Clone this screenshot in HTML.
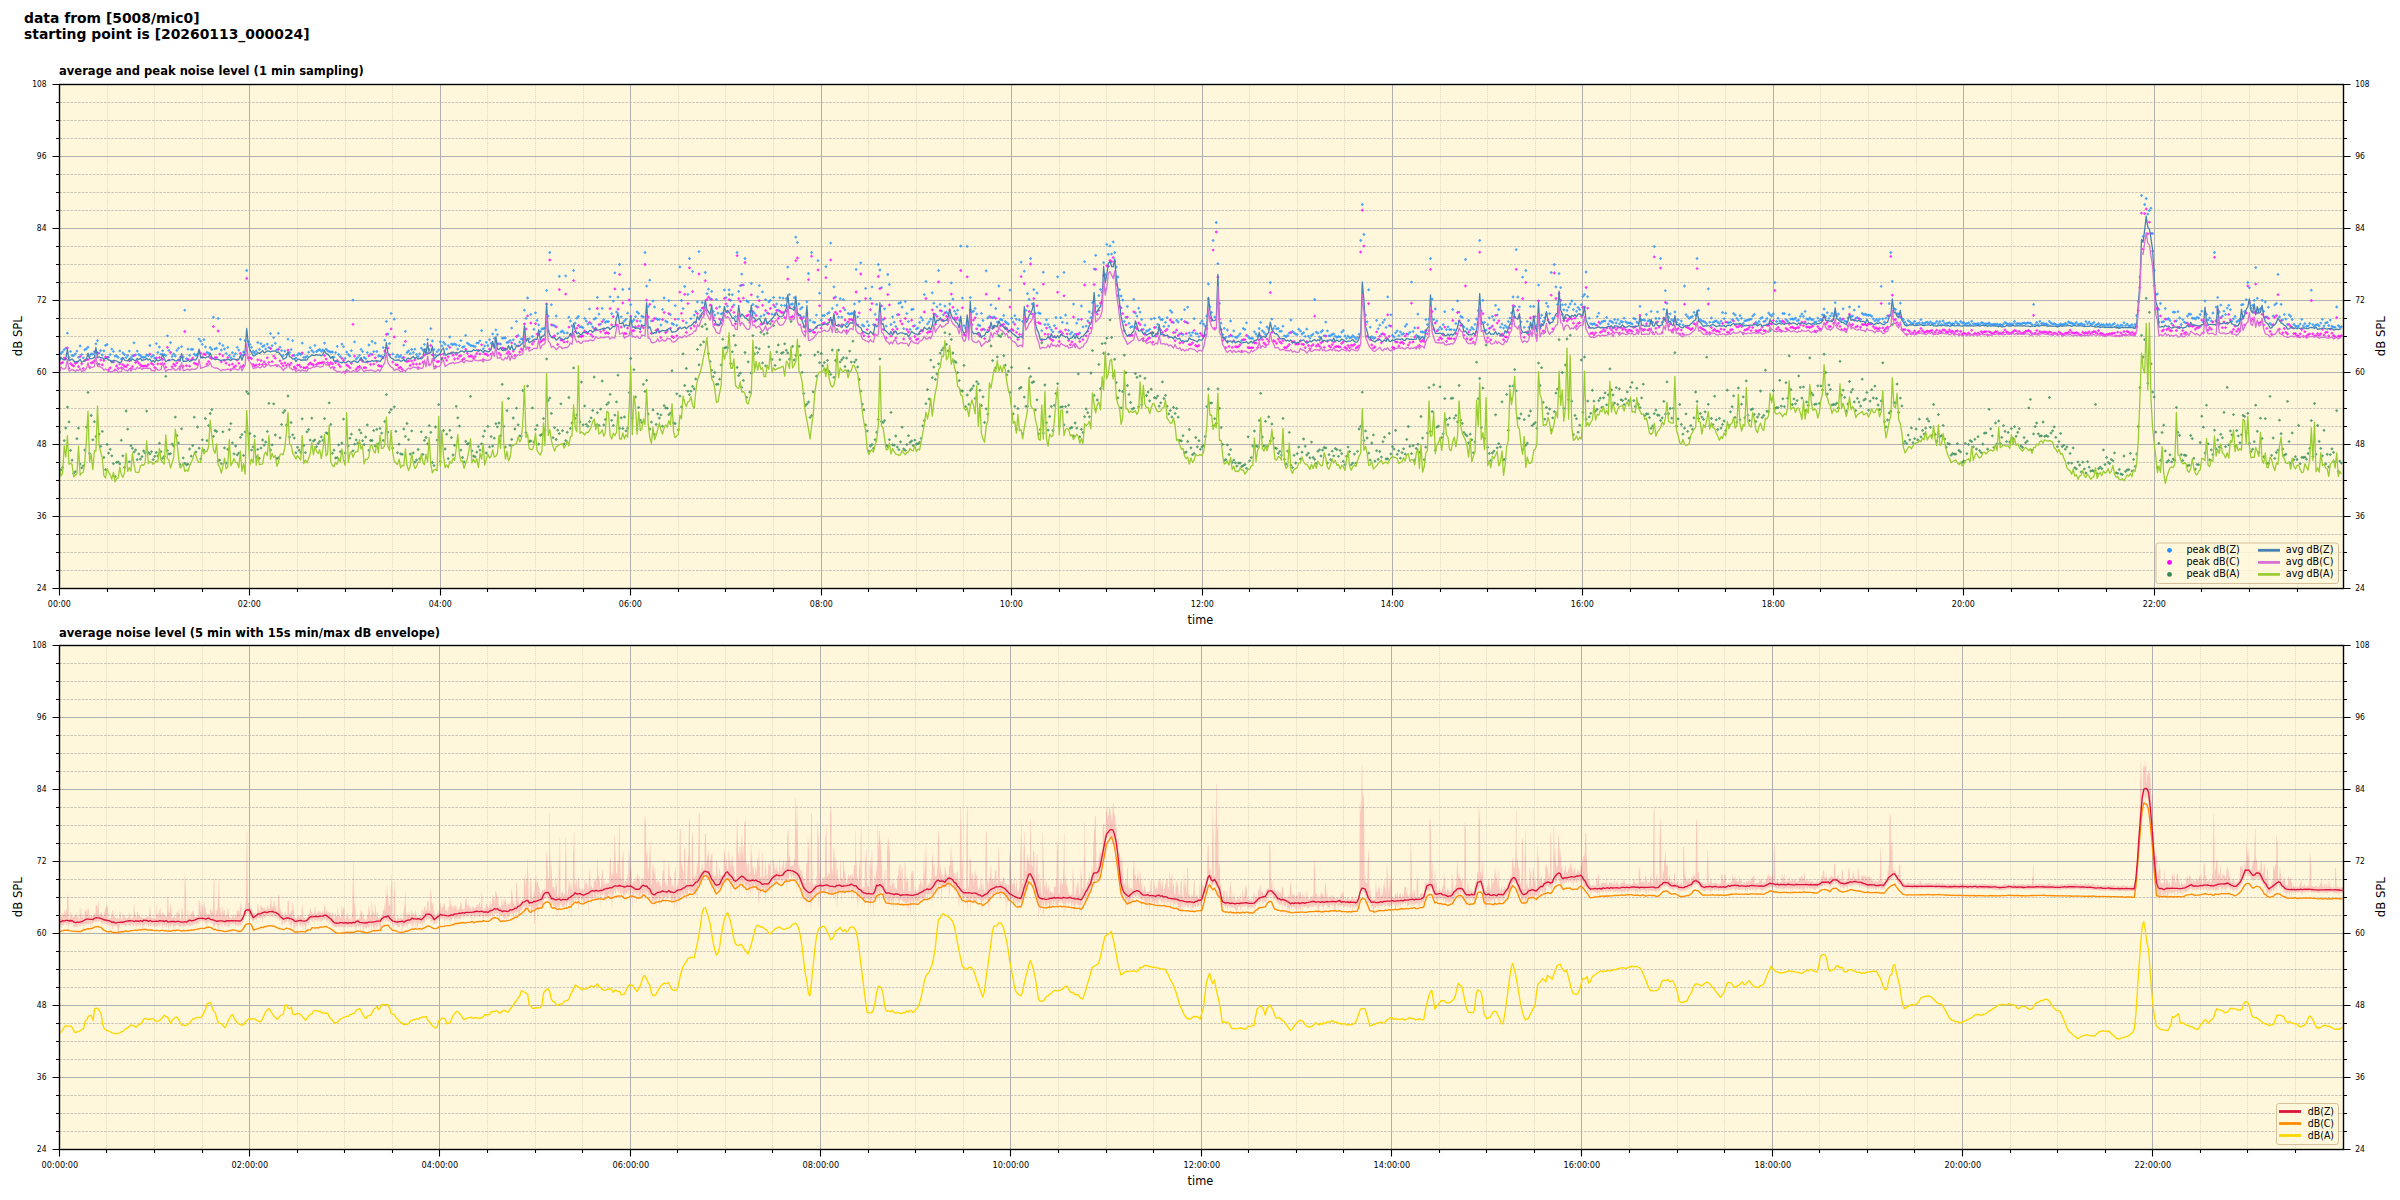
<!DOCTYPE html><html><head><meta charset="utf-8"><title>noise level</title><style>html,body{margin:0;padding:0;background:#fff;width:2400px;height:1200px;overflow:hidden}svg{display:block}text{font-family:'DejaVu Sans', 'Liberation Sans', sans-serif;fill:#000}</style></head><body>
<svg width="2400" height="1200" viewBox="0 0 2400 1200">
<rect width="2400" height="1200" fill="#fff"/>
<text x="24" y="23" font-size="13.9" text-anchor="start" font-weight="bold">data from [5008/mic0]</text>
<text x="24" y="39" font-size="13.9" text-anchor="start" font-weight="bold">starting point is [20260113_000024]</text>
<rect x="59.5" y="84.5" width="2284.0" height="504.0" fill="#fff7dc"/>
<path d="M107.5 84.5V588.5M154.5 84.5V588.5M202.5 84.5V588.5M297.5 84.5V588.5M345.5 84.5V588.5M392.5 84.5V588.5M487.5 84.5V588.5M535.5 84.5V588.5M583.5 84.5V588.5M678.5 84.5V588.5M725.5 84.5V588.5M773.5 84.5V588.5M868.5 84.5V588.5M916.5 84.5V588.5M963.5 84.5V588.5M1059.5 84.5V588.5M1106.5 84.5V588.5M1154.5 84.5V588.5M1249.5 84.5V588.5M1297.5 84.5V588.5M1344.5 84.5V588.5M1440.5 84.5V588.5M1487.5 84.5V588.5M1535.5 84.5V588.5M1630.5 84.5V588.5M1678.5 84.5V588.5M1725.5 84.5V588.5M1820.5 84.5V588.5M1868.5 84.5V588.5M1916.5 84.5V588.5M2011.5 84.5V588.5M2058.5 84.5V588.5M2106.5 84.5V588.5M2201.5 84.5V588.5M2249.5 84.5V588.5M2297.5 84.5V588.5" stroke="#c4c0b4" stroke-width="0.7" stroke-dasharray="0.7 1.2" fill="none"/>
<path d="M59.5 570.5H2343.5M59.5 552.5H2343.5M59.5 534.5H2343.5M59.5 498.5H2343.5M59.5 480.5H2343.5M59.5 462.5H2343.5M59.5 426.5H2343.5M59.5 408.5H2343.5M59.5 390.5H2343.5M59.5 354.5H2343.5M59.5 336.5H2343.5M59.5 318.5H2343.5M59.5 282.5H2343.5M59.5 264.5H2343.5M59.5 246.5H2343.5M59.5 210.5H2343.5M59.5 192.5H2343.5M59.5 174.5H2343.5M59.5 138.5H2343.5M59.5 120.5H2343.5M59.5 102.5H2343.5" stroke="#b8b6ae" stroke-width="0.75" stroke-dasharray="2.6 1.1" fill="none"/>
<path d="M249.5 84.5V588.5M440.5 84.5V588.5M630.5 84.5V588.5M821.5 84.5V588.5M1011.5 84.5V588.5M1202.5 84.5V588.5M1392.5 84.5V588.5M1582.5 84.5V588.5M1773.5 84.5V588.5M1963.5 84.5V588.5M2154.5 84.5V588.5M59.5 516.5H2343.5M59.5 444.5H2343.5M59.5 372.5H2343.5M59.5 300.5H2343.5M59.5 228.5H2343.5M59.5 156.5H2343.5" stroke="#b0b0b0" stroke-width="1" fill="none"/>
<g clip-path="url(#clipTop)">
<defs><marker id="mkz" markerWidth="4" markerHeight="4" markerUnits="userSpaceOnUse" refX="0" refY="0" overflow="visible"><path d="M-1.65 0L0 -1.65L1.65 0L0 1.65Z" fill="#1e90ff" fill-opacity="0.78"/></marker></defs>
<path d="M59.5 357.5 61.0 353.4 62.6 351.8 64.2 349.6 65.8 348.2 67.4 333.2 69.0 357.4 70.6 351.4 72.1 355.6 73.7 355.6 75.3 353.8 76.9 351.1 78.5 357.3 80.1 346.0 81.7 354.6 83.3 357.9 84.8 349.8 86.4 348.8 88.0 347.2 89.6 356.1 91.2 354.0 92.8 354.1 94.4 351.7 95.9 343.8 97.5 340.7 99.1 353.0 100.7 350.5 102.3 355.0 103.9 350.8 105.5 345.4 107.1 344.4 108.6 357.2 110.2 354.6 111.8 349.1 113.4 351.4 115.0 356.1 116.6 356.0 118.2 357.4 119.8 350.9 121.3 358.9 122.9 352.9 124.5 354.6 126.1 357.4 127.7 355.5 129.3 351.1 130.9 357.8 132.4 356.0 134.0 342.8 135.6 354.8 137.2 351.1 138.8 354.5 140.4 355.7 142.0 357.1 143.6 357.4 145.1 357.1 146.7 355.0 148.3 355.5 149.9 345.5 151.5 356.8 153.1 355.5 154.7 358.2 156.3 343.6 157.8 352.5 159.4 347.0 161.0 354.2 162.6 350.8 164.2 354.6 165.8 355.6 167.4 335.8 168.9 350.4 170.5 342.6 172.1 356.5 173.7 354.0 175.3 356.0 176.9 350.4 178.5 348.2 180.1 357.5 181.6 346.7 183.2 356.8 184.8 310.2 186.4 358.6 188.0 349.2 189.6 355.4 191.2 349.4 192.8 349.3 194.3 354.2 195.9 355.5 197.5 354.2 199.1 339.1 200.7 341.2 202.3 344.3 203.9 339.6 205.4 346.9 207.0 352.5 208.6 353.1 210.2 347.5 211.8 349.5 213.4 317.2 215.0 348.8 216.6 348.2 218.1 318.4 219.7 343.5 221.3 350.1 222.9 345.4 224.5 349.0 226.1 353.4 227.7 347.4 229.3 355.7 230.8 357.8 232.4 352.7 234.0 356.1 235.6 353.7 237.2 347.3 238.8 350.1 240.4 339.3 241.9 355.2 243.5 351.9 245.1 340.5 246.7 270.5 248.3 341.5 249.9 344.5 251.5 347.3 253.1 351.5 254.6 353.1 256.2 351.2 257.8 342.5 259.4 349.5 261.0 343.7 262.6 346.6 264.2 345.6 265.7 348.9 267.3 344.1 268.9 347.4 270.5 333.6 272.1 345.7 273.7 337.6 275.3 343.3 276.9 349.8 278.4 333.3 280.0 347.2 281.6 350.6 283.2 355.7 284.8 351.1 286.4 354.4 288.0 339.2 289.6 352.6 291.1 349.6 292.7 340.7 294.3 355.3 295.9 358.0 297.5 354.9 299.1 353.3 300.7 354.5 302.2 343.2 303.8 357.4 305.4 357.4 307.0 356.3 308.6 352.2 310.2 347.7 311.8 350.5 313.4 352.1 314.9 345.4 316.5 351.5 318.1 350.3 319.7 349.5 321.3 351.3 322.9 350.0 324.5 343.1 326.1 349.1 327.6 350.7 329.2 351.7 330.8 352.0 332.4 352.0 334.0 357.2 335.6 352.6 337.2 346.3 338.7 354.5 340.3 356.7 341.9 344.1 343.5 346.7 345.1 358.4 346.7 352.1 348.3 354.5 349.9 356.1 351.4 350.7 353.0 300.1 354.6 341.9 356.2 359.1 357.8 357.4 359.4 355.4 361.0 349.3 362.6 351.5 364.1 357.5 365.7 358.7 367.3 352.6 368.9 345.0 370.5 354.1 372.1 341.5 373.7 351.6 375.2 343.2 376.8 351.5 378.4 356.0 380.0 355.9 381.6 356.5 383.2 347.6 384.8 340.2 386.4 321.4 387.9 334.0 389.5 343.6 391.1 313.4 392.7 354.1 394.3 319.2 395.9 356.9 397.5 355.0 399.1 357.0 400.6 355.8 402.2 357.8 403.8 345.2 405.4 331.3 407.0 352.5 408.6 351.0 410.2 353.7 411.7 349.5 413.3 352.5 414.9 349.2 416.5 354.5 418.1 356.6 419.7 353.8 421.3 348.1 422.9 350.0 424.4 344.4 426.0 349.3 427.6 339.6 429.2 349.6 430.8 328.6 432.4 341.0 434.0 349.6 435.5 354.9 437.1 351.8 438.7 349.8 440.3 341.8 441.9 345.9 443.5 342.3 445.1 344.2 446.7 348.9 448.2 345.6 449.8 337.0 451.4 344.0 453.0 344.7 454.6 343.8 456.2 345.0 457.8 349.1 459.4 345.6 460.9 340.6 462.5 347.3 464.1 346.4 465.7 335.4 467.3 343.1 468.9 344.2 470.5 345.4 472.0 345.8 473.6 346.1 475.2 346.7 476.8 343.2 478.4 342.8 480.0 340.8 481.6 330.6 483.2 348.8 484.7 346.1 486.3 342.3 487.9 345.5 489.5 339.7 491.1 343.1 492.7 333.9 494.3 338.4 495.9 329.9 497.4 334.6 499.0 343.7 500.6 344.1 502.2 338.2 503.8 338.0 505.4 338.0 507.0 342.5 508.5 342.2 510.1 340.6 511.7 328.1 513.3 339.8 514.9 344.2 516.5 321.4 518.1 335.5 519.7 342.1 521.2 338.9 522.8 339.2 524.4 310.2 526.0 318.4 527.6 298.0 529.2 338.7 530.8 314.4 532.4 336.5 533.9 329.3 535.5 312.8 537.1 320.3 538.7 324.9 540.3 331.6 541.9 329.0 543.5 328.6 545.0 328.1 546.6 290.4 548.2 316.2 549.8 252.5 551.4 304.7 553.0 325.2 554.6 325.8 556.2 316.0 557.7 333.6 559.3 276.3 560.9 331.9 562.5 331.0 564.1 332.9 565.7 275.9 567.3 332.9 568.9 317.2 570.4 321.0 572.0 325.9 573.6 270.5 575.2 323.1 576.8 318.2 578.4 316.5 580.0 326.9 581.5 326.8 583.1 327.8 584.7 318.4 586.3 321.0 587.9 324.1 589.5 308.9 591.1 323.9 592.7 326.9 594.2 319.2 595.8 318.2 597.4 297.4 599.0 314.1 600.6 324.2 602.2 308.4 603.8 319.7 605.3 322.3 606.9 321.5 608.5 321.7 610.1 296.8 611.7 313.6 613.3 301.1 614.9 272.8 616.5 312.1 618.0 297.1 619.6 264.5 621.2 316.8 622.8 289.5 624.4 320.9 626.0 319.3 627.6 313.2 629.2 288.9 630.7 304.7 632.3 321.6 633.9 319.9 635.5 316.7 637.1 311.9 638.7 313.4 640.3 321.2 641.8 316.2 643.4 316.9 645.0 252.5 646.6 286.1 648.2 306.6 649.8 280.2 651.4 320.9 653.0 301.1 654.5 307.0 656.1 318.6 657.7 319.6 659.3 319.4 660.9 325.0 662.5 309.4 664.1 298.0 665.7 321.1 667.2 322.1 668.8 300.7 670.4 314.7 672.0 323.5 673.6 324.6 675.2 305.6 676.8 325.3 678.3 319.1 679.9 267.0 681.5 300.5 683.1 308.6 684.7 286.5 686.3 322.8 687.9 294.4 689.5 258.5 691.0 318.7 692.6 271.4 694.2 315.2 695.8 311.5 697.4 301.9 699.0 251.6 700.6 310.4 702.2 302.5 703.7 307.7 705.3 272.5 706.9 293.7 708.5 289.2 710.1 298.7 711.7 291.4 713.3 311.5 714.8 315.1 716.4 299.4 718.0 313.2 719.6 306.8 721.2 313.9 722.8 313.2 724.4 290.0 726.0 297.6 727.5 306.2 729.1 289.8 730.7 300.4 732.3 294.7 733.9 304.9 735.5 316.6 737.1 252.5 738.7 291.4 740.2 285.6 741.8 274.1 743.4 284.9 745.0 258.5 746.6 300.8 748.2 302.0 749.8 311.4 751.3 283.5 752.9 304.5 754.5 313.2 756.1 306.2 757.7 296.8 759.3 285.6 760.9 316.3 762.5 291.9 764.0 315.0 765.6 299.7 767.2 312.8 768.8 301.9 770.4 300.3 772.0 314.2 773.6 297.5 775.1 306.9 776.7 304.0 778.3 310.2 779.9 297.7 781.5 305.3 783.1 298.2 784.7 305.6 786.3 298.4 787.8 267.1 789.4 294.4 791.0 304.4 792.6 304.0 794.2 297.7 795.8 237.1 797.4 242.4 799.0 304.0 800.5 308.9 802.1 307.4 803.7 316.9 805.3 321.1 806.9 301.8 808.5 273.5 810.1 320.3 811.6 252.5 813.2 322.2 814.8 322.5 816.4 315.1 818.0 260.7 819.6 293.2 821.2 320.2 822.8 315.6 824.3 315.5 825.9 266.6 827.5 313.7 829.1 312.5 830.7 243.1 832.3 308.4 833.9 286.8 835.5 297.0 837.0 305.2 838.6 317.1 840.2 298.7 841.8 317.1 843.4 299.7 845.0 309.9 846.6 323.7 848.1 313.3 849.7 314.2 851.3 313.5 852.9 313.6 854.5 303.9 856.1 269.4 857.7 316.8 859.3 301.5 860.8 262.8 862.4 325.0 864.0 326.2 865.6 288.4 867.2 321.7 868.8 325.5 870.4 298.7 872.0 286.9 873.5 324.7 875.1 314.4 876.7 304.4 878.3 264.5 879.9 270.0 881.5 287.7 883.1 319.8 884.6 308.8 886.2 326.1 887.8 274.5 889.4 284.5 891.0 324.5 892.6 316.8 894.2 322.2 895.8 326.6 897.3 314.7 898.9 303.3 900.5 302.5 902.1 307.1 903.7 328.7 905.3 301.6 906.9 313.6 908.5 321.6 910.0 329.4 911.6 309.5 913.2 309.2 914.8 325.7 916.4 328.9 918.0 328.0 919.6 322.4 921.1 317.5 922.7 320.2 924.3 294.6 925.9 281.4 927.5 323.9 929.1 321.8 930.7 319.2 932.3 292.8 933.8 303.2 935.4 314.6 937.0 306.8 938.6 270.5 940.2 304.4 941.8 311.1 943.4 314.8 944.9 306.1 946.5 312.2 948.1 313.7 949.7 304.0 951.3 282.9 952.9 299.1 954.5 311.2 956.1 314.0 957.6 310.2 959.2 320.2 960.8 246.0 962.4 298.1 964.0 325.7 965.6 328.0 967.2 246.4 968.8 324.4 970.3 297.6 971.9 312.1 973.5 311.1 975.1 308.4 976.7 314.0 978.3 325.0 979.9 325.7 981.4 313.4 983.0 320.5 984.6 329.7 986.2 270.8 987.8 318.0 989.4 316.3 991.0 304.8 992.6 317.8 994.1 317.0 995.7 308.5 997.3 322.1 998.9 286.0 1000.5 319.4 1002.1 320.0 1003.7 315.5 1005.3 321.5 1006.8 323.0 1008.4 324.1 1010.0 290.1 1011.6 318.3 1013.2 322.2 1014.8 315.7 1016.4 319.3 1017.9 328.7 1019.5 319.9 1021.1 262.1 1022.7 321.5 1024.3 271.2 1025.9 310.3 1027.5 293.6 1029.1 299.3 1030.6 258.5 1032.2 304.0 1033.8 289.6 1035.4 313.3 1037.0 293.0 1038.6 312.8 1040.2 313.6 1041.8 330.7 1043.3 272.2 1044.9 324.5 1046.5 319.8 1048.1 324.5 1049.7 327.2 1051.3 329.8 1052.9 331.8 1054.4 325.6 1056.0 317.5 1057.6 276.8 1059.2 332.0 1060.8 317.7 1062.4 322.3 1064.0 272.4 1065.6 315.2 1067.1 323.2 1068.7 330.4 1070.3 334.0 1071.9 332.3 1073.5 304.1 1075.1 334.3 1076.7 323.2 1078.3 319.4 1079.8 332.9 1081.4 306.0 1083.0 326.9 1084.6 261.7 1086.2 326.1 1087.8 321.0 1089.4 311.8 1090.9 317.5 1092.5 302.7 1094.1 269.1 1095.7 255.3 1097.3 306.0 1098.9 295.6 1100.5 289.4 1102.1 292.0 1103.6 262.7 1105.2 274.5 1106.8 244.4 1108.4 254.3 1110.0 245.9 1111.6 254.1 1113.2 241.9 1114.7 252.5 1116.3 266.9 1117.9 277.0 1119.5 289.7 1121.1 296.0 1122.7 300.1 1124.3 321.4 1125.9 317.3 1127.4 306.5 1129.0 323.4 1130.6 327.2 1132.2 326.5 1133.8 299.3 1135.4 313.0 1137.0 316.2 1138.6 308.2 1140.1 312.1 1141.7 319.5 1143.3 329.3 1144.9 325.2 1146.5 331.1 1148.1 330.6 1149.7 329.2 1151.2 319.1 1152.8 333.0 1154.4 318.4 1156.0 327.3 1157.6 324.3 1159.2 317.3 1160.8 319.6 1162.4 319.5 1163.9 326.4 1165.5 322.3 1167.1 317.7 1168.7 326.1 1170.3 310.6 1171.9 312.3 1173.5 322.5 1175.1 332.4 1176.6 320.2 1178.2 322.0 1179.8 333.8 1181.4 319.4 1183.0 334.5 1184.6 309.7 1186.2 322.2 1187.7 307.2 1189.3 332.9 1190.9 335.5 1192.5 332.6 1194.1 318.7 1195.7 333.6 1197.3 333.8 1198.9 336.6 1200.4 323.2 1202.0 320.9 1203.6 324.1 1205.2 326.2 1206.8 316.0 1208.4 284.0 1210.0 306.9 1211.6 312.4 1213.1 240.5 1214.7 317.1 1216.3 222.5 1217.9 263.7 1219.5 303.3 1221.1 323.2 1222.7 334.7 1224.2 328.3 1225.8 337.3 1227.4 330.0 1229.0 336.5 1230.6 321.0 1232.2 336.2 1233.8 330.8 1235.4 337.1 1236.9 337.6 1238.5 335.8 1240.1 333.8 1241.7 340.5 1243.3 328.4 1244.9 329.4 1246.5 322.8 1248.1 336.5 1249.6 338.2 1251.2 338.3 1252.8 338.4 1254.4 331.8 1256.0 334.0 1257.6 336.1 1259.2 328.5 1260.7 322.4 1262.3 330.8 1263.9 332.3 1265.5 334.3 1267.1 327.0 1268.7 329.0 1270.3 282.5 1271.9 319.1 1273.4 328.6 1275.0 326.2 1276.6 328.9 1278.2 328.5 1279.8 331.3 1281.4 331.2 1283.0 326.2 1284.5 335.8 1286.1 336.7 1287.7 335.5 1289.3 333.0 1290.9 320.0 1292.5 331.5 1294.1 332.9 1295.7 334.1 1297.2 334.6 1298.8 329.2 1300.4 331.0 1302.0 334.0 1303.6 332.7 1305.2 336.4 1306.8 329.2 1308.4 336.1 1309.9 338.1 1311.5 335.3 1313.1 334.1 1314.7 299.5 1316.3 332.1 1317.9 333.2 1319.5 337.0 1321.0 331.9 1322.6 330.5 1324.2 335.6 1325.8 322.1 1327.4 330.9 1329.0 335.8 1330.6 335.7 1332.2 334.4 1333.7 333.8 1335.3 336.2 1336.9 337.3 1338.5 336.5 1340.1 336.8 1341.7 332.2 1343.3 330.5 1344.9 335.9 1346.4 338.3 1348.0 336.2 1349.6 337.8 1351.2 337.5 1352.8 335.7 1354.4 337.2 1356.0 339.1 1357.5 337.4 1359.1 334.2 1360.7 240.5 1362.3 204.5 1363.9 234.5 1365.5 315.0 1367.1 321.8 1368.7 289.8 1370.2 327.2 1371.8 336.7 1373.4 338.4 1375.0 337.8 1376.6 320.3 1378.2 328.7 1379.8 325.1 1381.4 334.3 1382.9 322.5 1384.5 319.8 1386.1 327.4 1387.7 296.9 1389.3 325.7 1390.9 314.8 1392.5 335.3 1394.0 337.0 1395.6 332.8 1397.2 330.8 1398.8 335.7 1400.4 332.0 1402.0 334.4 1403.6 333.5 1405.2 326.3 1406.7 324.3 1408.3 334.1 1409.9 332.3 1411.5 282.1 1413.1 331.5 1414.7 327.9 1416.3 335.2 1417.9 314.1 1419.4 336.8 1421.0 331.8 1422.6 331.9 1424.2 332.3 1425.8 319.6 1427.4 324.5 1429.0 319.1 1430.5 258.5 1432.1 299.1 1433.7 319.4 1435.3 309.0 1436.9 320.9 1438.5 329.7 1440.1 327.2 1441.7 329.1 1443.2 324.6 1444.8 311.7 1446.4 329.6 1448.0 326.8 1449.6 329.6 1451.2 329.6 1452.8 309.5 1454.3 329.9 1455.9 323.5 1457.5 300.9 1459.1 312.1 1460.7 316.3 1462.3 317.4 1463.9 327.1 1465.5 259.5 1467.0 329.0 1468.6 320.5 1470.2 329.9 1471.8 327.5 1473.4 329.2 1475.0 324.3 1476.6 319.0 1478.2 310.7 1479.7 240.5 1481.3 310.9 1482.9 300.3 1484.5 322.3 1486.1 330.1 1487.7 324.6 1489.3 317.9 1490.8 327.7 1492.4 316.4 1494.0 320.0 1495.6 305.3 1497.2 314.9 1498.8 309.5 1500.4 327.2 1502.0 324.2 1503.5 328.1 1505.1 325.6 1506.7 327.3 1508.3 321.5 1509.9 318.1 1511.5 312.9 1513.1 297.0 1514.7 306.4 1516.2 249.7 1517.8 297.0 1519.4 306.8 1521.0 321.8 1522.6 277.2 1524.2 327.4 1525.8 270.5 1527.3 321.4 1528.9 327.3 1530.5 306.4 1532.1 324.7 1533.7 306.5 1535.3 316.6 1536.9 325.3 1538.5 285.1 1540.0 317.9 1541.6 315.1 1543.2 321.4 1544.8 317.8 1546.4 303.2 1548.0 306.5 1549.6 313.6 1551.2 272.5 1552.7 318.5 1554.3 264.5 1555.9 286.9 1557.5 304.4 1559.1 273.6 1560.7 287.6 1562.3 304.8 1563.8 309.8 1565.4 304.6 1567.0 310.4 1568.6 307.2 1570.2 304.0 1571.8 301.0 1573.4 309.6 1575.0 304.2 1576.5 311.3 1578.1 307.5 1579.7 309.5 1581.3 304.7 1582.9 296.4 1584.5 294.5 1586.1 272.0 1587.7 296.7 1589.2 318.2 1590.8 323.6 1592.4 324.4 1594.0 323.6 1595.6 324.8 1597.2 316.7 1598.8 313.2 1600.3 323.6 1601.9 321.9 1603.5 321.2 1605.1 320.9 1606.7 317.4 1608.3 323.9 1609.9 321.0 1611.5 321.6 1613.0 322.8 1614.6 319.6 1616.2 322.9 1617.8 319.8 1619.4 323.9 1621.0 321.5 1622.6 321.9 1624.1 318.2 1625.7 321.7 1627.3 323.1 1628.9 322.8 1630.5 323.0 1632.1 324.0 1633.7 318.3 1635.3 319.1 1636.8 322.1 1638.4 323.2 1640.0 306.3 1641.6 320.1 1643.2 319.8 1644.8 320.3 1646.4 314.5 1648.0 321.2 1649.5 320.2 1651.1 311.4 1652.7 322.3 1654.3 246.5 1655.9 318.5 1657.5 311.8 1659.1 318.5 1660.6 258.5 1662.2 322.4 1663.8 309.3 1665.4 290.7 1667.0 303.3 1668.6 317.4 1670.2 313.8 1671.8 319.7 1673.3 321.1 1674.9 311.9 1676.5 322.2 1678.1 319.7 1679.7 324.1 1681.3 321.1 1682.9 324.8 1684.5 286.0 1686.0 314.6 1687.6 316.6 1689.2 318.4 1690.8 317.3 1692.4 316.4 1694.0 312.3 1695.6 315.1 1697.1 258.5 1698.7 310.4 1700.3 319.5 1701.9 321.1 1703.5 321.3 1705.1 322.2 1706.7 323.7 1708.3 288.8 1709.8 322.2 1711.4 318.0 1713.0 322.4 1714.6 321.4 1716.2 320.8 1717.8 322.2 1719.4 323.6 1721.0 321.2 1722.5 312.5 1724.1 318.7 1725.7 313.2 1727.3 322.5 1728.9 322.7 1730.5 322.2 1732.1 319.6 1733.6 313.5 1735.2 315.1 1736.8 318.4 1738.4 320.2 1740.0 315.7 1741.6 318.3 1743.2 323.5 1744.8 320.9 1746.3 320.4 1747.9 320.1 1749.5 319.5 1751.1 319.2 1752.7 316.1 1754.3 314.4 1755.9 322.2 1757.5 323.6 1759.0 321.5 1760.6 318.6 1762.2 317.3 1763.8 321.7 1765.4 320.8 1767.0 318.5 1768.6 313.1 1770.1 314.8 1771.7 316.0 1773.3 313.9 1774.9 282.5 1776.5 321.5 1778.1 318.3 1779.7 321.1 1781.3 321.8 1782.8 313.5 1784.4 313.6 1786.0 319.6 1787.6 321.0 1789.2 314.6 1790.8 319.1 1792.4 319.0 1793.9 319.3 1795.5 318.1 1797.1 320.7 1798.7 320.2 1800.3 316.3 1801.9 314.0 1803.5 316.4 1805.1 311.4 1806.6 318.9 1808.2 319.6 1809.8 318.0 1811.4 319.7 1813.0 319.6 1814.6 322.1 1816.2 321.8 1817.8 318.1 1819.3 320.7 1820.9 319.4 1822.5 314.7 1824.1 309.0 1825.7 316.6 1827.3 312.7 1828.9 318.4 1830.4 315.8 1832.0 313.3 1833.6 316.0 1835.2 302.7 1836.8 316.1 1838.4 314.0 1840.0 318.5 1841.6 320.0 1843.1 308.8 1844.7 320.9 1846.3 321.8 1847.9 318.1 1849.5 307.0 1851.1 316.7 1852.7 315.9 1854.3 310.1 1855.8 318.3 1857.4 317.5 1859.0 306.7 1860.6 319.4 1862.2 313.5 1863.8 314.7 1865.4 314.1 1866.9 315.2 1868.5 315.1 1870.1 315.2 1871.7 316.3 1873.3 318.8 1874.9 320.8 1876.5 319.3 1878.1 321.0 1879.6 319.1 1881.2 286.3 1882.8 318.9 1884.4 321.9 1886.0 318.2 1887.6 315.8 1889.2 303.7 1890.8 252.5 1892.3 281.3 1893.9 308.5 1895.5 309.5 1897.1 314.0 1898.7 313.8 1900.3 303.2 1901.9 318.4 1903.4 319.7 1905.0 322.2 1906.6 324.5 1908.2 320.6 1909.8 321.8 1911.4 323.3 1913.0 323.3 1914.6 321.3 1916.1 324.0 1917.7 323.6 1919.3 322.7 1920.9 319.7 1922.5 322.8 1924.1 323.8 1925.7 322.6 1927.3 322.2 1928.8 323.3 1930.4 321.8 1932.0 323.3 1933.6 323.8 1935.2 323.3 1936.8 321.3 1938.4 323.7 1939.9 321.5 1941.5 324.3 1943.1 321.0 1944.7 323.4 1946.3 324.0 1947.9 323.1 1949.5 322.6 1951.1 324.1 1952.6 323.7 1954.2 323.8 1955.8 321.7 1957.4 323.3 1959.0 324.1 1960.6 321.5 1962.2 323.1 1963.8 322.6 1965.3 324.1 1966.9 323.6 1968.5 322.8 1970.1 324.5 1971.7 321.3 1973.3 323.8 1974.9 323.8 1976.4 324.1 1978.0 323.5 1979.6 324.4 1981.2 322.7 1982.8 322.9 1984.4 324.2 1986.0 323.7 1987.6 324.0 1989.1 323.0 1990.7 324.3 1992.3 324.6 1993.9 324.2 1995.5 324.5 1997.1 324.1 1998.7 325.1 2000.2 324.3 2001.8 325.5 2003.4 324.2 2005.0 322.3 2006.6 323.5 2008.2 324.4 2009.8 323.6 2011.4 324.6 2012.9 323.9 2014.5 321.5 2016.1 323.9 2017.7 323.4 2019.3 323.6 2020.9 324.0 2022.5 323.3 2024.1 322.8 2025.6 323.7 2027.2 323.0 2028.8 322.9 2030.4 323.1 2032.0 324.6 2033.6 304.4 2035.2 324.6 2036.7 322.4 2038.3 324.6 2039.9 321.3 2041.5 323.7 2043.1 323.3 2044.7 324.1 2046.3 323.8 2047.9 324.8 2049.4 321.3 2051.0 323.1 2052.6 324.1 2054.2 323.6 2055.8 324.4 2057.4 325.7 2059.0 324.9 2060.6 323.9 2062.1 324.7 2063.7 324.4 2065.3 323.3 2066.9 324.4 2068.5 322.0 2070.1 323.0 2071.7 323.0 2073.2 323.9 2074.8 324.1 2076.4 322.4 2078.0 324.3 2079.6 324.5 2081.2 323.4 2082.8 324.4 2084.4 324.8 2085.9 321.6 2087.5 323.8 2089.1 322.1 2090.7 324.1 2092.3 323.9 2093.9 322.5 2095.5 325.3 2097.1 324.6 2098.6 323.5 2100.2 325.5 2101.8 324.7 2103.4 324.7 2105.0 325.8 2106.6 324.2 2108.2 325.4 2109.7 324.2 2111.3 326.1 2112.9 324.6 2114.5 323.4 2116.1 326.4 2117.7 325.1 2119.3 327.0 2120.9 325.1 2122.4 325.7 2124.0 322.7 2125.6 325.6 2127.2 324.1 2128.8 326.0 2130.4 325.8 2132.0 324.6 2133.6 326.8 2135.1 324.5 2136.7 315.6 2138.3 301.6 2139.9 276.9 2141.5 195.5 2143.1 236.4 2144.7 204.5 2146.2 198.5 2147.8 214.1 2149.4 210.5 2151.0 208.2 2152.6 233.5 2154.2 270.5 2155.8 294.5 2157.4 293.9 2158.9 309.4 2160.5 303.5 2162.1 322.0 2163.7 321.7 2165.3 308.6 2166.9 319.3 2168.5 318.5 2170.0 320.5 2171.6 323.6 2173.2 312.1 2174.8 312.2 2176.4 320.8 2178.0 311.7 2179.6 318.0 2181.2 324.5 2182.7 319.7 2184.3 322.2 2185.9 322.8 2187.5 316.0 2189.1 314.0 2190.7 314.3 2192.3 318.2 2193.9 318.2 2195.4 319.1 2197.0 317.4 2198.6 318.0 2200.2 314.5 2201.8 311.2 2203.4 322.0 2205.0 301.1 2206.5 314.3 2208.1 319.9 2209.7 317.9 2211.3 321.0 2212.9 313.0 2214.5 252.5 2216.1 307.1 2217.7 297.4 2219.2 312.0 2220.8 305.1 2222.4 316.2 2224.0 311.2 2225.6 314.5 2227.2 308.1 2228.8 305.3 2230.4 309.7 2231.9 321.3 2233.5 318.8 2235.1 316.5 2236.7 321.8 2238.3 320.8 2239.9 319.6 2241.5 304.9 2243.0 304.4 2244.6 311.6 2246.2 299.6 2247.8 282.5 2249.4 287.8 2251.0 308.2 2252.6 305.3 2254.2 300.4 2255.7 267.6 2257.3 298.3 2258.9 309.9 2260.5 308.6 2262.1 300.3 2263.7 311.3 2265.3 302.0 2266.9 316.9 2268.4 307.2 2270.0 323.3 2271.6 324.8 2273.2 316.0 2274.8 304.8 2276.4 303.3 2278.0 274.4 2279.5 316.8 2281.1 304.3 2282.7 319.9 2284.3 314.4 2285.9 319.1 2287.5 324.5 2289.1 314.8 2290.7 316.3 2292.2 319.5 2293.8 324.2 2295.4 325.8 2297.0 326.6 2298.6 326.1 2300.2 323.9 2301.8 319.4 2303.4 326.0 2304.9 323.6 2306.5 326.4 2308.1 326.0 2309.7 323.5 2311.3 290.2 2312.9 324.6 2314.5 326.5 2316.0 324.9 2317.6 324.6 2319.2 325.9 2320.8 323.1 2322.4 319.3 2324.0 325.9 2325.6 323.1 2327.2 322.4 2328.7 325.5 2330.3 320.1 2331.9 326.2 2333.5 327.2 2335.1 327.3 2336.7 307.0 2338.3 325.6 2339.8 327.0 2341.4 326.7" fill="none" stroke="none" marker-start="url(#mkz)" marker-mid="url(#mkz)" marker-end="url(#mkz)"/>
<defs><marker id="mkc" markerWidth="4" markerHeight="4" markerUnits="userSpaceOnUse" refX="0" refY="0" overflow="visible"><path d="M-1.65 0L0 -1.65L1.65 0L0 1.65Z" fill="#ff00ff" fill-opacity="0.78"/></marker></defs>
<path d="M59.5 369.7 61.0 363.4 62.6 362.3 64.2 358.1 65.8 358.9 67.4 347.9 69.0 368.3 70.6 363.6 72.1 365.1 73.7 365.9 75.3 363.0 76.9 362.7 78.5 366.7 80.1 356.4 81.7 363.8 83.3 368.5 84.8 360.6 86.4 359.5 88.0 359.6 89.6 367.0 91.2 362.9 92.8 362.4 94.4 360.8 95.9 351.5 97.5 353.2 99.1 364.3 100.7 359.9 102.3 364.9 103.9 360.6 105.5 357.0 107.1 357.3 108.6 369.8 110.2 367.8 111.8 361.5 113.4 362.1 115.0 369.9 116.6 366.0 118.2 368.4 119.8 363.9 121.3 367.8 122.9 364.7 124.5 366.2 126.1 366.8 127.7 364.9 129.3 360.8 130.9 368.7 132.4 366.7 134.0 355.5 135.6 362.6 137.2 361.2 138.8 363.2 140.4 365.0 142.0 366.2 143.6 366.1 145.1 365.9 146.7 366.4 148.3 364.6 149.9 354.1 151.5 363.3 153.1 364.6 154.7 367.5 156.3 358.0 157.8 363.9 159.4 357.6 161.0 363.8 162.6 359.5 164.2 363.9 165.8 367.2 167.4 347.3 168.9 360.2 170.5 352.5 172.1 366.8 173.7 364.1 175.3 365.7 176.9 362.8 178.5 360.1 180.1 366.6 181.6 356.6 183.2 366.3 184.8 331.5 186.4 365.7 188.0 359.4 189.6 366.2 191.2 359.9 192.8 358.1 194.3 363.2 195.9 363.9 197.5 364.6 199.1 351.5 200.7 353.3 202.3 356.8 203.9 354.0 205.4 354.7 207.0 364.1 208.6 361.6 210.2 357.5 211.8 358.7 213.4 326.6 215.0 357.7 216.6 357.6 218.1 331.0 219.7 354.1 221.3 361.9 222.9 355.9 224.5 360.4 226.1 363.2 227.7 357.7 229.3 364.9 230.8 369.7 232.4 364.1 234.0 367.2 235.6 365.9 237.2 360.0 238.8 363.3 240.4 353.3 241.9 366.8 243.5 365.4 245.1 355.0 246.7 278.3 248.3 357.9 249.9 357.7 251.5 358.7 253.1 364.5 254.6 366.1 256.2 364.9 257.8 359.8 259.4 364.5 261.0 360.6 262.6 364.4 264.2 361.9 265.7 364.3 267.3 357.8 268.9 362.4 270.5 348.5 272.1 361.7 273.7 356.1 275.3 358.2 276.9 365.6 278.4 349.3 280.0 360.8 281.6 363.5 283.2 365.9 284.8 362.9 286.4 365.3 288.0 350.2 289.6 365.2 291.1 363.2 292.7 355.6 294.3 367.0 295.9 368.5 297.5 365.2 299.1 365.1 300.7 366.9 302.2 353.0 303.8 367.7 305.4 368.1 307.0 367.1 308.6 364.4 310.2 363.0 311.8 364.1 313.4 365.0 314.9 360.3 316.5 364.6 318.1 363.3 319.7 363.0 321.3 363.0 322.9 362.2 324.5 355.7 326.1 359.1 327.6 362.6 329.2 364.5 330.8 362.6 332.4 363.9 334.0 367.7 335.6 362.7 337.2 360.7 338.7 364.6 340.3 366.5 341.9 358.3 343.5 360.3 345.1 372.1 346.7 364.9 348.3 366.2 349.9 367.8 351.4 363.3 353.0 324.3 354.6 356.1 356.2 369.3 357.8 367.5 359.4 366.5 361.0 359.7 362.6 361.0 364.1 367.7 365.7 367.8 367.3 362.2 368.9 355.9 370.5 364.5 372.1 354.6 373.7 364.1 375.2 357.8 376.8 361.6 378.4 365.5 380.0 366.2 381.6 366.5 383.2 357.8 384.8 351.0 386.4 334.3 387.9 348.2 389.5 354.9 391.1 328.9 392.7 362.1 394.3 337.0 395.9 364.6 397.5 365.2 399.1 367.8 400.6 367.3 402.2 369.3 403.8 357.5 405.4 341.4 407.0 361.6 408.6 360.9 410.2 365.5 411.7 361.0 413.3 364.0 414.9 359.9 416.5 364.2 418.1 367.6 419.7 363.9 421.3 357.7 422.9 362.2 424.4 355.1 426.0 363.2 427.6 353.4 429.2 364.7 430.8 345.5 432.4 355.0 434.0 360.2 435.5 366.5 437.1 361.8 438.7 361.3 440.3 354.4 441.9 358.1 443.5 354.0 445.1 358.1 446.7 360.3 448.2 356.8 449.8 347.3 451.4 352.9 453.0 355.3 454.6 359.0 456.2 354.4 457.8 358.6 459.4 356.2 460.9 355.8 462.5 359.8 464.1 358.7 465.7 349.2 467.3 353.2 468.9 356.3 470.5 356.0 472.0 356.4 473.6 358.4 475.2 356.4 476.8 353.5 478.4 350.7 480.0 354.0 481.6 344.8 483.2 359.6 484.7 353.9 486.3 354.1 487.9 355.4 489.5 349.1 491.1 354.1 492.7 344.8 494.3 346.2 495.9 340.9 497.4 344.0 499.0 353.2 500.6 355.1 502.2 348.1 503.8 348.5 505.4 349.8 507.0 353.4 508.5 351.7 510.1 353.8 511.7 342.9 513.3 351.1 514.9 355.5 516.5 336.5 518.1 345.9 519.7 352.0 521.2 349.0 522.8 350.1 524.4 324.0 526.0 329.0 527.6 315.9 529.2 347.8 530.8 323.0 532.4 344.0 533.9 341.4 535.5 323.7 537.1 334.1 538.7 334.4 540.3 342.0 541.9 340.8 543.5 339.3 545.0 339.3 546.6 304.0 548.2 331.0 549.8 260.0 551.4 324.8 553.0 336.9 554.6 335.8 556.2 326.9 557.7 344.5 559.3 289.6 560.9 340.0 562.5 340.0 564.1 342.1 565.7 294.1 567.3 341.8 568.9 327.1 570.4 334.6 572.0 336.5 573.6 280.6 575.2 331.6 576.8 328.2 578.4 325.4 580.0 336.3 581.5 336.7 583.1 335.9 584.7 331.0 586.3 332.8 587.9 333.4 589.5 322.3 591.1 334.6 592.7 336.6 594.2 328.8 595.8 330.2 597.4 308.5 599.0 324.6 600.6 331.8 602.2 321.6 603.8 330.2 605.3 333.2 606.9 332.6 608.5 333.3 610.1 308.6 611.7 324.8 613.3 316.7 614.9 288.9 616.5 325.0 618.0 309.2 619.6 274.5 621.2 327.0 622.8 302.9 624.4 333.4 626.0 333.7 627.6 328.1 629.2 300.1 630.7 316.4 632.3 330.8 633.9 330.5 635.5 326.8 637.1 321.0 638.7 325.9 640.3 331.8 641.8 325.9 643.4 327.8 645.0 264.5 646.6 300.1 648.2 316.9 649.8 304.3 651.4 333.4 653.0 320.7 654.5 318.4 656.1 330.5 657.7 329.3 659.3 332.1 660.9 337.5 662.5 319.6 664.1 312.5 665.7 332.7 667.2 330.8 668.8 313.6 670.4 328.3 672.0 336.5 673.6 337.6 675.2 319.3 676.8 335.8 678.3 328.8 679.9 292.1 681.5 313.3 683.1 320.8 684.7 294.3 686.3 332.5 687.9 303.6 689.5 267.8 691.0 328.3 692.6 291.6 694.2 326.0 695.8 322.3 697.4 313.5 699.0 274.0 700.6 316.0 702.2 308.1 703.7 314.3 705.3 280.7 706.9 299.5 708.5 297.2 710.1 305.2 711.7 299.3 713.3 318.0 714.8 324.5 716.4 308.2 718.0 325.2 719.6 319.1 721.2 323.3 722.8 320.6 724.4 298.3 726.0 303.8 727.5 312.3 729.1 299.6 730.7 310.2 732.3 307.0 733.9 312.4 735.5 323.8 737.1 255.7 738.7 298.7 740.2 301.4 741.8 285.2 743.4 298.2 745.0 262.5 746.6 315.9 748.2 315.1 749.8 322.3 751.3 294.8 752.9 311.6 754.5 321.3 756.1 315.5 757.7 307.2 759.3 300.6 760.9 324.3 762.5 305.3 764.0 323.1 765.6 310.5 767.2 323.0 768.8 313.7 770.4 308.4 772.0 321.3 773.6 305.1 775.1 314.8 776.7 310.4 778.3 318.3 779.9 311.2 781.5 312.7 783.1 312.4 784.7 317.6 786.3 311.2 787.8 279.0 789.4 307.2 791.0 317.4 792.6 316.5 794.2 307.3 795.8 260.7 797.4 258.0 799.0 315.3 800.5 318.0 802.1 318.5 803.7 326.7 805.3 331.5 806.9 313.2 808.5 279.7 810.1 329.8 811.6 256.2 813.2 332.3 814.8 332.3 816.4 327.5 818.0 270.0 819.6 305.8 821.2 328.2 822.8 323.7 824.3 322.9 825.9 277.7 827.5 324.4 829.1 319.8 830.7 260.0 832.3 320.7 833.9 298.1 835.5 312.2 837.0 314.0 838.6 325.4 840.2 311.3 841.8 324.7 843.4 307.9 845.0 320.1 846.6 330.9 848.1 321.8 849.7 319.4 851.3 319.4 852.9 320.4 854.5 312.1 856.1 292.0 857.7 325.1 859.3 312.9 860.8 274.0 862.4 333.0 864.0 335.8 865.6 298.6 867.2 329.6 868.8 336.7 870.4 309.7 872.0 303.6 873.5 334.3 875.1 324.9 876.7 319.7 878.3 276.5 879.9 288.7 881.5 305.9 883.1 329.5 884.6 318.4 886.2 337.9 887.8 294.6 889.4 304.9 891.0 336.2 892.6 329.6 894.2 332.2 895.8 338.1 897.3 328.9 898.9 314.7 900.5 321.1 902.1 323.9 903.7 338.9 905.3 318.5 906.9 329.5 908.5 332.0 910.0 338.5 911.6 320.2 913.2 326.2 914.8 336.5 916.4 339.7 918.0 338.9 919.6 333.6 921.1 330.3 922.7 331.1 924.3 312.0 925.9 298.5 927.5 332.8 929.1 331.7 930.7 331.4 932.3 309.9 933.8 313.8 935.4 324.2 937.0 316.4 938.6 281.9 940.2 310.6 941.8 320.1 943.4 320.4 944.9 312.9 946.5 316.3 948.1 320.4 949.7 310.1 951.3 294.1 952.9 307.3 954.5 317.9 956.1 319.6 957.6 317.6 959.2 326.5 960.8 270.5 962.4 307.8 964.0 334.5 965.6 335.3 967.2 276.8 968.8 332.3 970.3 309.9 971.9 324.6 973.5 320.1 975.1 317.8 976.7 328.8 978.3 334.3 979.9 336.1 981.4 330.0 983.0 329.1 984.6 338.7 986.2 294.2 987.8 330.2 989.4 327.5 991.0 317.3 992.6 328.4 994.1 326.9 995.7 318.3 997.3 331.5 998.9 298.7 1000.5 325.8 1002.1 324.9 1003.7 324.3 1005.3 327.3 1006.8 329.2 1008.4 331.7 1010.0 307.0 1011.6 329.2 1013.2 330.4 1014.8 324.3 1016.4 332.3 1017.9 339.4 1019.5 334.4 1021.1 276.6 1022.7 334.5 1024.3 283.7 1025.9 319.0 1027.5 306.0 1029.1 311.4 1030.6 264.0 1032.2 314.2 1033.8 298.6 1035.4 322.6 1037.0 305.7 1038.6 322.7 1040.2 323.6 1041.8 340.3 1043.3 284.2 1044.9 334.1 1046.5 328.1 1048.1 334.4 1049.7 337.8 1051.3 339.6 1052.9 340.5 1054.4 336.7 1056.0 328.3 1057.6 292.2 1059.2 341.5 1060.8 331.3 1062.4 333.5 1064.0 295.8 1065.6 329.8 1067.1 333.9 1068.7 340.4 1070.3 344.7 1071.9 342.0 1073.5 317.0 1075.1 344.2 1076.7 334.3 1078.3 334.0 1079.8 341.6 1081.4 319.4 1083.0 339.6 1084.6 285.0 1086.2 335.9 1087.8 331.3 1089.4 322.8 1090.9 328.2 1092.5 313.4 1094.1 284.6 1095.7 269.3 1097.3 314.2 1098.9 310.4 1100.5 303.2 1102.1 302.0 1103.6 275.5 1105.2 289.6 1106.8 265.7 1108.4 266.2 1110.0 260.5 1111.6 261.7 1113.2 257.6 1114.7 261.5 1116.3 284.5 1117.9 295.6 1119.5 306.3 1121.1 307.9 1122.7 313.7 1124.3 330.7 1125.9 324.9 1127.4 317.1 1129.0 335.5 1130.6 335.6 1132.2 335.3 1133.8 311.8 1135.4 327.4 1137.0 329.1 1138.6 322.9 1140.1 324.6 1141.7 329.7 1143.3 338.4 1144.9 334.4 1146.5 340.4 1148.1 338.7 1149.7 337.8 1151.2 332.8 1152.8 342.1 1154.4 327.7 1156.0 336.2 1157.6 333.4 1159.2 328.7 1160.8 330.2 1162.4 332.4 1163.9 335.4 1165.5 330.8 1167.1 329.3 1168.7 337.1 1170.3 320.0 1171.9 322.1 1173.5 332.7 1175.1 340.7 1176.6 330.2 1178.2 335.5 1179.8 342.9 1181.4 333.4 1183.0 342.6 1184.6 321.6 1186.2 333.6 1187.7 322.9 1189.3 344.5 1190.9 344.6 1192.5 342.9 1194.1 330.4 1195.7 345.5 1197.3 346.5 1198.9 345.5 1200.4 333.4 1202.0 335.4 1203.6 336.6 1205.2 335.0 1206.8 328.5 1208.4 298.8 1210.0 317.9 1211.6 320.4 1213.1 250.1 1214.7 328.3 1216.3 232.0 1217.9 277.0 1219.5 319.0 1221.1 329.6 1222.7 340.6 1224.2 338.5 1225.8 347.7 1227.4 341.3 1229.0 346.4 1230.6 335.2 1232.2 347.4 1233.8 340.9 1235.4 346.7 1236.9 347.0 1238.5 346.6 1240.1 344.7 1241.7 351.2 1243.3 339.6 1244.9 339.7 1246.5 335.3 1248.1 347.5 1249.6 347.9 1251.2 347.8 1252.8 347.7 1254.4 342.8 1256.0 343.0 1257.6 347.7 1259.2 340.0 1260.7 336.2 1262.3 339.6 1263.9 342.9 1265.5 344.5 1267.1 339.1 1268.7 341.5 1270.3 292.6 1271.9 332.4 1273.4 340.7 1275.0 341.4 1276.6 343.3 1278.2 339.2 1279.8 341.7 1281.4 343.2 1283.0 340.7 1284.5 347.3 1286.1 348.1 1287.7 346.3 1289.3 344.5 1290.9 332.5 1292.5 342.0 1294.1 341.6 1295.7 344.1 1297.2 344.0 1298.8 343.8 1300.4 340.9 1302.0 344.2 1303.6 344.5 1305.2 347.7 1306.8 341.6 1308.4 345.5 1309.9 348.8 1311.5 346.1 1313.1 344.6 1314.7 316.2 1316.3 346.2 1317.9 344.5 1319.5 346.2 1321.0 342.8 1322.6 341.7 1324.2 347.4 1325.8 336.0 1327.4 341.3 1329.0 345.9 1330.6 347.2 1332.2 344.7 1333.7 342.2 1335.3 346.8 1336.9 346.5 1338.5 346.5 1340.1 347.1 1341.7 343.4 1343.3 341.9 1344.9 347.3 1346.4 348.5 1348.0 345.6 1349.6 347.6 1351.2 345.2 1352.8 345.6 1354.4 344.4 1356.0 348.1 1357.5 347.0 1359.1 345.8 1360.7 252.0 1362.3 210.2 1363.9 246.1 1365.5 324.7 1367.1 336.3 1368.7 303.6 1370.2 339.7 1371.8 345.0 1373.4 348.1 1375.0 347.0 1376.6 331.9 1378.2 339.2 1379.8 336.3 1381.4 342.8 1382.9 333.7 1384.5 334.7 1386.1 338.0 1387.7 314.8 1389.3 336.3 1390.9 326.1 1392.5 347.4 1394.0 347.9 1395.6 341.9 1397.2 342.0 1398.8 345.9 1400.4 342.8 1402.0 342.1 1403.6 343.5 1405.2 336.1 1406.7 334.1 1408.3 345.1 1409.9 342.6 1411.5 303.2 1413.1 342.0 1414.7 337.0 1416.3 347.6 1417.9 327.9 1419.4 345.5 1421.0 341.5 1422.6 340.3 1424.2 341.5 1425.8 330.5 1427.4 333.8 1429.0 330.7 1430.5 269.3 1432.1 311.6 1433.7 329.2 1435.3 323.0 1436.9 331.0 1438.5 339.9 1440.1 337.7 1441.7 338.8 1443.2 334.8 1444.8 327.1 1446.4 341.3 1448.0 338.4 1449.6 338.6 1451.2 338.7 1452.8 320.4 1454.3 338.9 1455.9 333.5 1457.5 312.5 1459.1 320.8 1460.7 325.4 1462.3 325.4 1463.9 335.3 1465.5 286.0 1467.0 338.7 1468.6 332.2 1470.2 339.8 1471.8 338.6 1473.4 342.1 1475.0 335.4 1476.6 332.0 1478.2 323.3 1479.7 252.2 1481.3 323.8 1482.9 313.7 1484.5 330.8 1486.1 340.8 1487.7 337.9 1489.3 328.4 1490.8 339.8 1492.4 326.1 1494.0 329.6 1495.6 315.3 1497.2 323.1 1498.8 320.8 1500.4 335.3 1502.0 334.1 1503.5 339.7 1505.1 336.8 1506.7 337.1 1508.3 332.3 1509.9 328.1 1511.5 324.1 1513.1 305.7 1514.7 317.1 1516.2 269.3 1517.8 310.2 1519.4 317.6 1521.0 333.1 1522.6 298.6 1524.2 337.3 1525.8 282.4 1527.3 331.9 1528.9 334.7 1530.5 317.9 1532.1 333.6 1533.7 316.8 1535.3 327.0 1536.9 335.1 1538.5 300.9 1540.0 328.7 1541.6 325.4 1543.2 331.0 1544.8 332.0 1546.4 313.9 1548.0 319.9 1549.6 322.6 1551.2 295.2 1552.7 328.9 1554.3 273.0 1555.9 298.5 1557.5 316.0 1559.1 293.5 1560.7 300.3 1562.3 314.6 1563.8 320.6 1565.4 317.9 1567.0 321.0 1568.6 319.3 1570.2 317.4 1571.8 319.0 1573.4 323.2 1575.0 318.2 1576.5 326.0 1578.1 323.4 1579.7 322.7 1581.3 316.3 1582.9 307.4 1584.5 307.0 1586.1 287.5 1587.7 308.2 1589.2 327.4 1590.8 333.4 1592.4 332.9 1594.0 334.8 1595.6 332.8 1597.2 325.7 1598.8 322.2 1600.3 332.4 1601.9 331.4 1603.5 329.3 1605.1 331.1 1606.7 328.1 1608.3 332.9 1609.9 327.9 1611.5 329.9 1613.0 332.2 1614.6 327.4 1616.2 329.7 1617.8 327.8 1619.4 332.9 1621.0 327.6 1622.6 329.5 1624.1 327.7 1625.7 329.8 1627.3 332.0 1628.9 330.2 1630.5 330.3 1632.1 331.4 1633.7 327.6 1635.3 326.6 1636.8 330.0 1638.4 331.9 1640.0 315.3 1641.6 328.8 1643.2 330.4 1644.8 329.6 1646.4 323.9 1648.0 330.2 1649.5 329.1 1651.1 323.0 1652.7 332.6 1654.3 256.9 1655.9 328.3 1657.5 321.8 1659.1 327.0 1660.6 268.1 1662.2 332.6 1663.8 318.2 1665.4 302.3 1667.0 313.6 1668.6 326.0 1670.2 323.9 1671.8 330.8 1673.3 329.4 1674.9 320.1 1676.5 329.9 1678.1 328.6 1679.7 334.0 1681.3 330.1 1682.9 333.8 1684.5 304.2 1686.0 326.8 1687.6 327.6 1689.2 328.4 1690.8 329.6 1692.4 328.5 1694.0 323.6 1695.6 324.6 1697.1 268.6 1698.7 321.1 1700.3 327.4 1701.9 328.6 1703.5 329.4 1705.1 330.3 1706.7 332.3 1708.3 304.0 1709.8 332.7 1711.4 327.6 1713.0 330.6 1714.6 329.4 1716.2 331.2 1717.8 330.9 1719.4 331.9 1721.0 329.1 1722.5 323.5 1724.1 329.7 1725.7 321.9 1727.3 332.2 1728.9 332.5 1730.5 330.0 1732.1 329.6 1733.6 320.9 1735.2 324.8 1736.8 326.9 1738.4 326.7 1740.0 325.1 1741.6 326.5 1743.2 333.3 1744.8 330.2 1746.3 329.6 1747.9 329.0 1749.5 327.1 1751.1 330.7 1752.7 327.6 1754.3 323.8 1755.9 330.6 1757.5 331.8 1759.0 330.6 1760.6 329.7 1762.2 327.1 1763.8 330.6 1765.4 330.8 1767.0 325.3 1768.6 325.4 1770.1 323.7 1771.7 324.1 1773.3 320.6 1774.9 290.5 1776.5 329.1 1778.1 327.4 1779.7 330.0 1781.3 330.9 1782.8 321.0 1784.4 322.3 1786.0 328.3 1787.6 329.5 1789.2 324.0 1790.8 327.4 1792.4 327.1 1793.9 328.1 1795.5 328.6 1797.1 327.6 1798.7 327.6 1800.3 324.9 1801.9 322.1 1803.5 325.7 1805.1 321.9 1806.6 327.0 1808.2 326.9 1809.8 327.6 1811.4 326.8 1813.0 325.9 1814.6 331.2 1816.2 331.5 1817.8 326.6 1819.3 328.6 1820.9 329.2 1822.5 320.3 1824.1 317.2 1825.7 324.0 1827.3 322.1 1828.9 326.5 1830.4 326.6 1832.0 320.5 1833.6 323.4 1835.2 314.2 1836.8 325.7 1838.4 323.3 1840.0 326.4 1841.6 329.4 1843.1 318.9 1844.7 328.9 1846.3 329.9 1847.9 325.7 1849.5 314.2 1851.1 325.5 1852.7 324.3 1854.3 320.2 1855.8 327.1 1857.4 326.2 1859.0 318.6 1860.6 327.3 1862.2 324.4 1863.8 324.6 1865.4 324.2 1866.9 325.4 1868.5 323.7 1870.1 324.2 1871.7 323.7 1873.3 326.6 1874.9 328.4 1876.5 327.9 1878.1 329.3 1879.6 328.2 1881.2 303.4 1882.8 327.8 1884.4 330.5 1886.0 328.5 1887.6 327.0 1889.2 315.6 1890.8 256.4 1892.3 295.2 1893.9 319.3 1895.5 319.8 1897.1 322.6 1898.7 325.0 1900.3 316.7 1901.9 329.5 1903.4 329.9 1905.0 329.6 1906.6 334.4 1908.2 330.4 1909.8 331.6 1911.4 333.9 1913.0 332.9 1914.6 331.0 1916.1 333.3 1917.7 332.4 1919.3 331.2 1920.9 328.4 1922.5 330.6 1924.1 332.4 1925.7 332.0 1927.3 331.0 1928.8 331.7 1930.4 331.0 1932.0 330.4 1933.6 333.9 1935.2 332.1 1936.8 330.2 1938.4 333.2 1939.9 330.9 1941.5 332.2 1943.1 330.0 1944.7 330.1 1946.3 331.9 1947.9 332.0 1949.5 330.0 1951.1 332.0 1952.6 331.3 1954.2 333.5 1955.8 331.3 1957.4 330.9 1959.0 334.5 1960.6 331.5 1962.2 334.2 1963.8 333.2 1965.3 333.8 1966.9 334.5 1968.5 332.9 1970.1 334.5 1971.7 330.3 1973.3 334.7 1974.9 333.2 1976.4 334.4 1978.0 332.9 1979.6 334.3 1981.2 331.6 1982.8 332.7 1984.4 331.8 1986.0 331.6 1987.6 334.9 1989.1 331.6 1990.7 332.6 1992.3 333.9 1993.9 332.9 1995.5 331.7 1997.1 331.6 1998.7 333.5 2000.2 333.2 2001.8 333.9 2003.4 332.4 2005.0 329.9 2006.6 331.8 2008.2 332.6 2009.8 333.6 2011.4 333.1 2012.9 331.9 2014.5 330.4 2016.1 331.1 2017.7 333.5 2019.3 331.3 2020.9 333.4 2022.5 333.3 2024.1 332.5 2025.6 331.5 2027.2 330.9 2028.8 330.5 2030.4 331.8 2032.0 333.6 2033.6 315.3 2035.2 333.1 2036.7 330.6 2038.3 333.8 2039.9 331.6 2041.5 332.7 2043.1 331.9 2044.7 331.9 2046.3 332.1 2047.9 333.5 2049.4 332.0 2051.0 332.3 2052.6 334.4 2054.2 333.1 2055.8 333.4 2057.4 334.5 2059.0 331.9 2060.6 333.2 2062.1 334.2 2063.7 334.9 2065.3 333.2 2066.9 333.1 2068.5 332.4 2070.1 330.2 2071.7 332.4 2073.2 333.1 2074.8 333.2 2076.4 332.6 2078.0 333.3 2079.6 334.7 2081.2 335.1 2082.8 332.2 2084.4 333.5 2085.9 332.6 2087.5 333.3 2089.1 331.8 2090.7 334.0 2092.3 332.3 2093.9 331.4 2095.5 332.0 2097.1 333.4 2098.6 330.7 2100.2 333.4 2101.8 333.5 2103.4 334.4 2105.0 335.5 2106.6 334.5 2108.2 334.3 2109.7 334.0 2111.3 333.7 2112.9 333.3 2114.5 333.1 2116.1 335.8 2117.7 332.2 2119.3 335.9 2120.9 332.9 2122.4 334.9 2124.0 331.6 2125.6 334.7 2127.2 331.5 2128.8 332.2 2130.4 333.9 2132.0 332.3 2133.6 334.5 2135.1 333.2 2136.7 326.5 2138.3 310.5 2139.9 287.6 2141.5 213.2 2143.1 249.2 2144.7 213.6 2146.2 209.0 2147.8 233.8 2149.4 222.2 2151.0 233.4 2152.6 251.1 2154.2 285.5 2155.8 309.2 2157.4 308.0 2158.9 322.1 2160.5 315.9 2162.1 331.0 2163.7 329.8 2165.3 319.0 2166.9 329.5 2168.5 328.3 2170.0 330.5 2171.6 330.8 2173.2 325.5 2174.8 321.2 2176.4 330.5 2178.0 327.2 2179.6 327.4 2181.2 334.1 2182.7 330.7 2184.3 333.5 2185.9 332.4 2187.5 323.2 2189.1 324.8 2190.7 325.7 2192.3 326.4 2193.9 325.8 2195.4 329.2 2197.0 327.6 2198.6 327.8 2200.2 326.3 2201.8 320.1 2203.4 332.8 2205.0 312.3 2206.5 325.5 2208.1 330.1 2209.7 327.7 2211.3 329.3 2212.9 322.0 2214.5 257.3 2216.1 320.7 2217.7 309.9 2219.2 324.3 2220.8 317.7 2222.4 327.7 2224.0 322.0 2225.6 327.6 2227.2 323.4 2228.8 314.4 2230.4 319.9 2231.9 332.0 2233.5 329.4 2235.1 326.2 2236.7 331.3 2238.3 329.0 2239.9 330.6 2241.5 319.2 2243.0 316.7 2244.6 325.1 2246.2 313.0 2247.8 285.9 2249.4 302.2 2251.0 320.9 2252.6 318.9 2254.2 312.5 2255.7 284.1 2257.3 312.9 2258.9 323.1 2260.5 322.4 2262.1 314.3 2263.7 324.9 2265.3 317.2 2266.9 328.4 2268.4 318.3 2270.0 331.3 2271.6 334.1 2273.2 324.7 2274.8 317.5 2276.4 315.6 2278.0 294.7 2279.5 329.2 2281.1 320.7 2282.7 332.8 2284.3 328.5 2285.9 332.4 2287.5 334.0 2289.1 324.5 2290.7 326.4 2292.2 327.7 2293.8 333.6 2295.4 333.7 2297.0 335.7 2298.6 336.1 2300.2 333.8 2301.8 329.5 2303.4 336.3 2304.9 331.7 2306.5 336.1 2308.1 334.7 2309.7 333.9 2311.3 300.5 2312.9 333.8 2314.5 336.1 2316.0 335.7 2317.6 333.6 2319.2 335.4 2320.8 333.8 2322.4 329.3 2324.0 335.2 2325.6 332.6 2327.2 332.1 2328.7 336.0 2330.3 329.1 2331.9 333.2 2333.5 335.4 2335.1 336.9 2336.7 317.6 2338.3 336.2 2339.8 336.5 2341.4 335.6" fill="none" stroke="none" marker-start="url(#mkc)" marker-mid="url(#mkc)" marker-end="url(#mkc)"/>
<defs><marker id="mka" markerWidth="4" markerHeight="4" markerUnits="userSpaceOnUse" refX="0" refY="0" overflow="visible"><path d="M-1.65 0L0 -1.65L1.65 0L0 1.65Z" fill="#2e8b57" fill-opacity="0.78"/></marker></defs>
<path d="M59.5 432.1 61.0 469.9 62.6 467.4 64.2 440.6 65.8 428.0 67.4 407.1 69.0 421.9 70.6 450.3 72.1 460.2 73.7 473.4 75.3 471.7 76.9 438.7 78.5 428.2 80.1 464.0 81.7 467.8 83.3 465.8 84.8 450.1 86.4 427.1 88.0 392.4 89.6 453.4 91.2 415.5 92.8 439.8 94.4 421.7 95.9 436.6 97.5 363.8 99.1 434.1 100.7 446.3 102.3 431.4 103.9 457.5 105.5 469.7 107.1 444.5 108.6 453.1 110.2 449.3 111.8 455.8 113.4 463.7 115.0 476.5 116.6 462.3 118.2 461.9 119.8 463.9 121.3 440.3 122.9 455.8 124.5 467.4 126.1 411.0 127.7 429.2 129.3 461.8 130.9 445.7 132.4 448.3 134.0 452.1 135.6 450.0 137.2 459.7 138.8 453.9 140.4 459.0 142.0 456.6 143.6 451.0 145.1 453.1 146.7 411.1 148.3 452.5 149.9 453.9 151.5 451.7 153.1 459.6 154.7 456.3 156.3 452.5 157.8 455.9 159.4 443.2 161.0 451.7 162.6 458.4 164.2 456.5 165.8 376.3 167.4 450.6 168.9 453.9 170.5 453.7 172.1 444.1 173.7 445.9 175.3 417.1 176.9 435.5 178.5 442.9 180.1 464.6 181.6 428.8 183.2 457.9 184.8 463.3 186.4 464.8 188.0 464.2 189.6 449.0 191.2 456.2 192.8 445.6 194.3 417.2 195.9 452.0 197.5 427.0 199.1 448.2 200.7 458.9 202.3 439.8 203.9 450.1 205.4 418.5 207.0 440.6 208.6 425.6 210.2 413.5 211.8 409.6 213.4 436.3 215.0 430.5 216.6 431.5 218.1 460.9 219.7 460.1 221.3 463.7 222.9 431.8 224.5 447.9 226.1 463.0 227.7 449.3 229.3 429.7 230.8 423.6 232.4 442.8 234.0 453.8 235.6 446.0 237.2 454.8 238.8 453.1 240.4 437.4 241.9 434.6 243.5 455.4 245.1 431.9 246.7 391.6 248.3 393.7 249.9 433.5 251.5 450.1 253.1 446.9 254.6 436.2 256.2 456.9 257.8 449.4 259.4 458.3 261.0 448.1 262.6 440.0 264.2 445.1 265.7 442.0 267.3 431.4 268.9 403.3 270.5 450.0 272.1 444.9 273.7 403.8 275.3 435.0 276.9 458.7 278.4 457.8 280.0 437.8 281.6 424.6 283.2 412.6 284.8 410.5 286.4 425.1 288.0 396.0 289.6 437.1 291.1 422.5 292.7 434.8 294.3 438.1 295.9 452.7 297.5 447.3 299.1 450.2 300.7 452.3 302.2 418.8 303.8 445.6 305.4 452.6 307.0 431.8 308.6 429.6 310.2 440.1 311.8 418.2 313.4 441.1 314.9 439.9 316.5 446.7 318.1 443.4 319.7 441.5 321.3 436.9 322.9 440.2 324.5 418.6 326.1 432.8 327.6 433.6 329.2 402.9 330.8 424.4 332.4 453.3 334.0 450.2 335.6 458.0 337.2 457.7 338.7 444.9 340.3 451.7 341.9 443.0 343.5 419.1 345.1 453.1 346.7 370.5 348.3 445.9 349.9 438.2 351.4 434.2 353.0 450.8 354.6 444.2 356.2 439.9 357.8 443.2 359.4 429.9 361.0 432.9 362.6 440.7 364.1 444.6 365.7 437.0 367.3 424.9 368.9 450.3 370.5 440.5 372.1 440.5 373.7 430.6 375.2 446.1 376.8 429.3 378.4 443.9 380.0 428.4 381.6 433.1 383.2 440.4 384.8 421.5 386.4 394.6 387.9 432.1 389.5 412.4 391.1 409.7 392.7 448.2 394.3 406.8 395.9 431.3 397.5 452.7 399.1 444.2 400.6 453.8 402.2 454.3 403.8 429.0 405.4 436.4 407.0 423.5 408.6 439.7 410.2 454.1 411.7 430.9 413.3 452.9 414.9 462.1 416.5 460.1 418.1 449.5 419.7 458.7 421.3 431.8 422.9 454.4 424.4 440.4 426.0 437.5 427.6 443.8 429.2 425.7 430.8 432.3 432.4 462.5 434.0 465.6 435.5 427.0 437.1 440.1 438.7 404.6 440.3 461.4 441.9 359.4 443.5 430.5 445.1 449.0 446.7 434.2 448.2 458.6 449.8 430.3 451.4 437.6 453.0 455.0 454.6 445.3 456.2 406.3 457.8 417.8 459.4 426.1 460.9 450.1 462.5 457.5 464.1 462.0 465.7 441.3 467.3 443.9 468.9 443.4 470.5 396.4 472.0 450.9 473.6 456.0 475.2 456.8 476.8 452.2 478.4 446.6 480.0 450.1 481.6 443.8 483.2 436.3 484.7 430.9 486.3 453.0 487.9 426.4 489.5 446.9 491.1 436.6 492.7 446.1 494.3 438.2 495.9 423.7 497.4 426.8 499.0 423.0 500.6 435.8 502.2 384.3 503.8 426.3 505.4 447.1 507.0 410.6 508.5 398.5 510.1 445.4 511.7 439.4 513.3 418.0 514.9 429.0 516.5 408.2 518.1 424.8 519.7 435.9 521.2 436.1 522.8 390.5 524.4 346.3 526.0 432.6 527.6 386.1 529.2 441.5 530.8 441.0 532.4 407.9 533.9 442.1 535.5 429.5 537.1 425.3 538.7 444.1 540.3 435.3 541.9 434.5 543.5 418.6 545.0 429.9 546.6 358.9 548.2 400.5 549.8 398.1 551.4 413.4 553.0 437.7 554.6 427.7 556.2 439.5 557.7 430.2 559.3 433.6 560.9 403.8 562.5 430.7 564.1 443.9 565.7 440.6 567.3 432.3 568.9 397.5 570.4 428.4 572.0 423.0 573.6 367.9 575.2 418.4 576.8 415.0 578.4 336.6 580.0 422.0 581.5 382.1 583.1 424.8 584.7 405.9 586.3 424.3 587.9 426.3 589.5 421.6 591.1 417.9 592.7 410.4 594.2 377.1 595.8 424.8 597.4 412.7 599.0 425.4 600.6 409.1 602.2 381.0 603.8 425.0 605.3 419.5 606.9 404.4 608.5 402.7 610.1 394.3 611.7 420.3 613.3 425.4 614.9 415.2 616.5 401.9 618.0 375.2 619.6 428.5 621.2 417.8 622.8 428.5 624.4 417.0 626.0 430.9 627.6 428.3 629.2 392.7 630.7 358.5 632.3 418.0 633.9 369.7 635.5 397.1 637.1 429.3 638.7 407.4 640.3 420.1 641.8 422.4 643.4 384.3 645.0 391.4 646.6 380.3 648.2 414.1 649.8 429.0 651.4 422.1 653.0 409.9 654.5 434.4 656.1 424.4 657.7 413.8 659.3 418.1 660.9 414.9 662.5 426.2 664.1 405.7 665.7 407.9 667.2 408.2 668.8 414.7 670.4 413.1 672.0 370.7 673.6 423.0 675.2 423.7 676.8 393.8 678.3 429.8 679.9 396.1 681.5 407.0 683.1 353.9 684.7 385.5 686.3 368.5 687.9 391.2 689.5 394.7 691.0 391.2 692.6 386.4 694.2 388.8 695.8 379.0 697.4 349.4 699.0 364.8 700.6 344.9 702.2 326.5 703.7 341.8 705.3 324.3 706.9 329.0 708.5 353.6 710.1 361.4 711.7 370.3 713.3 376.7 714.8 372.5 716.4 384.4 718.0 384.2 719.6 379.2 721.2 364.9 722.8 339.2 724.4 348.1 726.0 347.3 727.5 347.7 729.1 294.5 730.7 363.6 732.3 351.8 733.9 335.6 735.5 345.2 737.1 367.4 738.7 375.5 740.2 373.2 741.8 387.4 743.4 380.4 745.0 352.5 746.6 397.3 748.2 361.8 749.8 392.2 751.3 373.1 752.9 335.7 754.5 353.8 756.1 347.6 757.7 352.7 759.3 348.8 760.9 332.3 762.5 362.9 764.0 334.3 765.6 365.9 767.2 333.2 768.8 346.8 770.4 323.8 772.0 359.4 773.6 325.6 775.1 365.4 776.7 352.0 778.3 344.9 779.9 359.7 781.5 353.2 783.1 352.4 784.7 343.8 786.3 350.3 787.8 353.0 789.4 359.2 791.0 321.5 792.6 346.3 794.2 360.0 795.8 355.4 797.4 313.5 799.0 346.3 800.5 355.2 802.1 372.3 803.7 393.5 805.3 405.5 806.9 404.1 808.5 402.0 810.1 417.4 811.6 415.4 813.2 391.8 814.8 355.0 816.4 376.2 818.0 352.1 819.6 362.7 821.2 353.5 822.8 365.9 824.3 362.7 825.9 369.8 827.5 360.4 829.1 371.5 830.7 374.4 832.3 350.0 833.9 377.3 835.5 360.5 837.0 329.3 838.6 350.1 840.2 361.9 841.8 359.7 843.4 357.7 845.0 366.6 846.6 358.1 848.1 370.9 849.7 351.1 851.3 362.1 852.9 341.2 854.5 362.1 856.1 359.8 857.7 367.0 859.3 379.5 860.8 391.1 862.4 404.2 864.0 409.8 865.6 424.9 867.2 430.9 868.8 451.1 870.4 446.0 872.0 444.6 873.5 448.3 875.1 439.7 876.7 432.2 878.3 419.4 879.9 358.9 881.5 421.5 883.1 422.5 884.6 420.6 886.2 445.3 887.8 446.5 889.4 439.7 891.0 412.4 892.6 444.8 894.2 445.2 895.8 436.0 897.3 447.1 898.9 449.7 900.5 441.8 902.1 427.2 903.7 449.0 905.3 450.4 906.9 444.6 908.5 435.7 910.0 442.4 911.6 441.0 913.2 445.7 914.8 440.1 916.4 444.0 918.0 443.7 919.6 442.3 921.1 438.4 922.7 425.9 924.3 420.6 925.9 403.7 927.5 389.6 929.1 399.0 930.7 360.1 932.3 377.7 933.8 367.1 935.4 379.4 937.0 374.0 938.6 363.8 940.2 353.1 941.8 350.2 943.4 348.0 944.9 332.7 946.5 344.3 948.1 350.9 949.7 334.2 951.3 339.4 952.9 353.0 954.5 361.1 956.1 362.4 957.6 372.6 959.2 380.6 960.8 390.6 962.4 391.0 964.0 365.4 965.6 406.6 967.2 395.0 968.8 404.3 970.3 390.4 971.9 388.7 973.5 385.9 975.1 398.4 976.7 381.7 978.3 383.9 979.9 390.3 981.4 405.5 983.0 396.8 984.6 422.5 986.2 408.8 987.8 414.1 989.4 340.4 991.0 346.0 992.6 360.6 994.1 326.6 995.7 367.8 997.3 356.9 998.9 335.6 1000.5 336.6 1002.1 334.0 1003.7 355.7 1005.3 365.2 1006.8 374.8 1008.4 371.1 1010.0 392.3 1011.6 367.3 1013.2 413.8 1014.8 406.3 1016.4 429.4 1017.9 408.6 1019.5 388.5 1021.1 387.3 1022.7 433.8 1024.3 397.1 1025.9 406.3 1027.5 406.4 1029.1 368.3 1030.6 376.6 1032.2 382.5 1033.8 381.7 1035.4 409.9 1037.0 399.8 1038.6 433.8 1040.2 429.6 1041.8 342.8 1043.3 433.1 1044.9 385.0 1046.5 422.7 1048.1 430.1 1049.7 416.5 1051.3 406.5 1052.9 430.4 1054.4 405.3 1056.0 393.4 1057.6 383.7 1059.2 426.0 1060.8 407.1 1062.4 406.7 1064.0 424.8 1065.6 406.6 1067.1 412.0 1068.7 405.2 1070.3 428.2 1071.9 427.5 1073.5 436.0 1075.1 423.0 1076.7 428.1 1078.3 373.9 1079.8 436.8 1081.4 429.3 1083.0 432.5 1084.6 416.7 1086.2 409.0 1087.8 412.7 1089.4 416.8 1090.9 373.0 1092.5 350.6 1094.1 395.4 1095.7 409.4 1097.3 400.0 1098.9 364.4 1100.5 388.7 1102.1 343.6 1103.6 353.2 1105.2 343.2 1106.8 338.2 1108.4 354.2 1110.0 319.9 1111.6 337.5 1113.2 375.8 1114.7 359.3 1116.3 382.6 1117.9 397.8 1119.5 390.6 1121.1 407.9 1122.7 391.5 1124.3 355.2 1125.9 372.7 1127.4 385.5 1129.0 394.4 1130.6 402.5 1132.2 409.1 1133.8 408.2 1135.4 373.6 1137.0 377.3 1138.6 406.8 1140.1 376.1 1141.7 404.7 1143.3 340.7 1144.9 378.3 1146.5 395.5 1148.1 392.1 1149.7 400.8 1151.2 389.2 1152.8 332.7 1154.4 397.7 1156.0 398.2 1157.6 396.1 1159.2 406.2 1160.8 402.8 1162.4 381.9 1163.9 398.5 1165.5 395.3 1167.1 406.3 1168.7 413.9 1170.3 410.6 1171.9 416.9 1173.5 407.4 1175.1 413.4 1176.6 408.4 1178.2 417.2 1179.8 440.5 1181.4 440.9 1183.0 435.7 1184.6 452.8 1186.2 452.0 1187.7 441.5 1189.3 429.5 1190.9 447.8 1192.5 454.7 1194.1 453.4 1195.7 437.5 1197.3 446.8 1198.9 440.7 1200.4 449.3 1202.0 446.8 1203.6 445.6 1205.2 436.5 1206.8 406.6 1208.4 389.0 1210.0 403.1 1211.6 402.9 1213.1 425.9 1214.7 418.7 1216.3 423.4 1217.9 388.8 1219.5 408.3 1221.1 427.6 1222.7 444.4 1224.2 460.6 1225.8 459.6 1227.4 444.9 1229.0 454.5 1230.6 449.7 1232.2 462.4 1233.8 460.1 1235.4 462.8 1236.9 466.1 1238.5 463.1 1240.1 463.1 1241.7 466.6 1243.3 465.6 1244.9 464.6 1246.5 468.3 1248.1 436.8 1249.6 460.8 1251.2 457.6 1252.8 446.0 1254.4 431.0 1256.0 446.0 1257.6 446.6 1259.2 420.4 1260.7 393.3 1262.3 437.0 1263.9 446.0 1265.5 421.3 1267.1 446.4 1268.7 416.8 1270.3 441.0 1271.9 424.0 1273.4 438.3 1275.0 447.9 1276.6 448.6 1278.2 453.3 1279.8 451.3 1281.4 455.1 1283.0 418.4 1284.5 459.3 1286.1 464.2 1287.7 451.2 1289.3 432.4 1290.9 465.2 1292.5 467.6 1294.1 455.3 1295.7 463.0 1297.2 453.7 1298.8 447.1 1300.4 459.0 1302.0 452.2 1303.6 439.0 1305.2 446.3 1306.8 455.0 1308.4 453.2 1309.9 457.8 1311.5 442.1 1313.1 457.5 1314.7 459.3 1316.3 463.3 1317.9 451.3 1319.5 449.8 1321.0 456.0 1322.6 450.1 1324.2 447.5 1325.8 447.9 1327.4 463.0 1329.0 454.7 1330.6 459.6 1332.2 451.2 1333.7 455.8 1335.3 448.5 1336.9 449.6 1338.5 456.3 1340.1 450.4 1341.7 453.6 1343.3 461.3 1344.9 464.7 1346.4 456.3 1348.0 447.1 1349.6 451.6 1351.2 464.7 1352.8 463.1 1354.4 454.1 1356.0 463.2 1357.5 451.3 1359.1 429.0 1360.7 426.3 1362.3 392.2 1363.9 440.5 1365.5 430.9 1367.1 438.0 1368.7 453.1 1370.2 460.1 1371.8 443.0 1373.4 434.9 1375.0 461.1 1376.6 450.7 1378.2 459.3 1379.8 451.5 1381.4 457.1 1382.9 441.7 1384.5 437.2 1386.1 459.0 1387.7 458.8 1389.3 433.3 1390.9 453.9 1392.5 446.7 1394.0 449.1 1395.6 430.3 1397.2 454.3 1398.8 450.8 1400.4 458.2 1402.0 452.6 1403.6 448.8 1405.2 454.2 1406.7 439.4 1408.3 426.5 1409.9 446.3 1411.5 453.6 1413.1 445.7 1414.7 459.8 1416.3 448.5 1417.9 444.2 1419.4 452.4 1421.0 416.5 1422.6 438.1 1424.2 459.6 1425.8 447.2 1427.4 433.1 1429.0 387.7 1430.5 431.6 1432.1 411.6 1433.7 384.9 1435.3 450.3 1436.9 427.2 1438.5 426.2 1440.1 386.8 1441.7 437.6 1443.2 433.8 1444.8 398.6 1446.4 419.5 1448.0 424.7 1449.6 418.2 1451.2 398.4 1452.8 398.1 1454.3 418.2 1455.9 415.4 1457.5 421.9 1459.1 385.5 1460.7 420.3 1462.3 423.3 1463.9 432.4 1465.5 434.4 1467.0 435.9 1468.6 442.8 1470.2 434.2 1471.8 439.8 1473.4 452.8 1475.0 441.9 1476.6 362.2 1478.2 398.7 1479.7 378.5 1481.3 427.6 1482.9 388.1 1484.5 438.6 1486.1 345.1 1487.7 447.3 1489.3 453.4 1490.8 460.4 1492.4 453.0 1494.0 451.1 1495.6 414.8 1497.2 447.8 1498.8 443.6 1500.4 446.9 1502.0 401.8 1503.5 459.9 1505.1 459.1 1506.7 394.4 1508.3 430.3 1509.9 386.2 1511.5 399.0 1513.1 385.9 1514.7 369.6 1516.2 390.9 1517.8 418.2 1519.4 418.4 1521.0 414.0 1522.6 449.6 1524.2 419.6 1525.8 445.3 1527.3 443.1 1528.9 415.8 1530.5 411.0 1532.1 425.6 1533.7 424.1 1535.3 422.6 1536.9 428.3 1538.5 363.1 1540.0 385.5 1541.6 367.7 1543.2 402.3 1544.8 419.1 1546.4 407.4 1548.0 413.6 1549.6 409.1 1551.2 429.9 1552.7 417.9 1554.3 411.6 1555.9 393.1 1557.5 389.1 1559.1 339.7 1560.7 396.8 1562.3 372.5 1563.8 408.4 1565.4 365.0 1567.0 339.0 1568.6 399.7 1570.2 335.2 1571.8 401.2 1573.4 434.7 1575.0 415.4 1576.5 418.7 1578.1 432.2 1579.7 425.2 1581.3 360.0 1582.9 412.3 1584.5 357.0 1586.1 419.1 1587.7 401.1 1589.2 416.9 1590.8 413.3 1592.4 390.3 1594.0 401.2 1595.6 411.1 1597.2 409.3 1598.8 400.6 1600.3 398.2 1601.9 407.3 1603.5 397.8 1605.1 392.9 1606.7 404.8 1608.3 394.8 1609.9 368.9 1611.5 389.8 1613.0 395.0 1614.6 403.1 1616.2 387.7 1617.8 404.4 1619.4 388.8 1621.0 399.7 1622.6 400.6 1624.1 404.6 1625.7 398.9 1627.3 391.9 1628.9 400.6 1630.5 387.2 1632.1 382.4 1633.7 400.6 1635.3 406.5 1636.8 388.2 1638.4 404.3 1640.0 407.6 1641.6 397.9 1643.2 384.2 1644.8 415.6 1646.4 413.8 1648.0 413.9 1649.5 417.6 1651.1 428.3 1652.7 425.9 1654.3 413.6 1655.9 410.1 1657.5 415.0 1659.1 415.3 1660.6 420.5 1662.2 417.9 1663.8 401.3 1665.4 414.1 1667.0 381.9 1668.6 413.7 1670.2 408.5 1671.8 418.2 1673.3 408.3 1674.9 352.7 1676.5 426.2 1678.1 418.9 1679.7 404.5 1681.3 424.4 1682.9 434.1 1684.5 428.2 1686.0 413.9 1687.6 431.4 1689.2 438.2 1690.8 425.6 1692.4 429.2 1694.0 417.8 1695.6 392.0 1697.1 401.5 1698.7 418.6 1700.3 413.5 1701.9 417.1 1703.5 419.4 1705.1 411.8 1706.7 357.2 1708.3 404.3 1709.8 426.0 1711.4 418.5 1713.0 424.7 1714.6 396.2 1716.2 419.8 1717.8 429.5 1719.4 418.4 1721.0 428.1 1722.5 424.4 1724.1 421.0 1725.7 430.7 1727.3 390.2 1728.9 425.3 1730.5 411.8 1732.1 406.7 1733.6 395.9 1735.2 417.4 1736.8 422.2 1738.4 388.0 1740.0 419.7 1741.6 404.2 1743.2 396.9 1744.8 417.7 1746.3 380.9 1747.9 415.2 1749.5 420.6 1751.1 409.7 1752.7 408.9 1754.3 414.3 1755.9 421.6 1757.5 417.0 1759.0 414.3 1760.6 391.0 1762.2 417.5 1763.8 415.4 1765.4 370.2 1767.0 411.3 1768.6 411.6 1770.1 330.7 1771.7 399.6 1773.3 390.6 1774.9 408.5 1776.5 407.6 1778.1 407.7 1779.7 380.3 1781.3 406.1 1782.8 398.8 1784.4 406.6 1786.0 382.7 1787.6 398.2 1789.2 355.9 1790.8 389.6 1792.4 404.5 1793.9 398.9 1795.5 403.8 1797.1 400.6 1798.7 375.9 1800.3 387.3 1801.9 398.1 1803.5 386.9 1805.1 410.5 1806.6 402.0 1808.2 405.4 1809.8 357.9 1811.4 393.0 1813.0 395.0 1814.6 404.4 1816.2 404.1 1817.8 385.8 1819.3 403.5 1820.9 385.9 1822.5 390.1 1824.1 354.2 1825.7 372.5 1827.3 394.0 1828.9 385.1 1830.4 389.4 1832.0 404.9 1833.6 404.3 1835.2 404.7 1836.8 403.1 1838.4 408.0 1840.0 361.3 1841.6 395.1 1843.1 390.1 1844.7 397.4 1846.3 411.0 1847.9 404.0 1849.5 381.5 1851.1 392.1 1852.7 389.3 1854.3 401.9 1855.8 410.6 1857.4 398.4 1859.0 402.1 1860.6 406.0 1862.2 379.2 1863.8 400.2 1865.4 399.0 1866.9 392.4 1868.5 410.1 1870.1 401.1 1871.7 389.7 1873.3 398.0 1874.9 386.1 1876.5 398.5 1878.1 405.0 1879.6 409.5 1881.2 400.9 1882.8 362.8 1884.4 421.7 1886.0 426.9 1887.6 420.0 1889.2 413.0 1890.8 411.2 1892.3 324.7 1893.9 402.4 1895.5 403.0 1897.1 384.1 1898.7 412.4 1900.3 398.1 1901.9 405.9 1903.4 443.7 1905.0 441.3 1906.6 443.3 1908.2 435.1 1909.8 439.8 1911.4 427.9 1913.0 442.7 1914.6 438.7 1916.1 429.0 1917.7 439.9 1919.3 419.2 1920.9 436.8 1922.5 430.4 1924.1 434.0 1925.7 428.2 1927.3 419.0 1928.8 421.2 1930.4 427.3 1932.0 435.3 1933.6 404.5 1935.2 434.4 1936.8 441.3 1938.4 414.6 1939.9 436.5 1941.5 435.7 1943.1 425.4 1944.7 439.1 1946.3 447.2 1947.9 443.3 1949.5 444.2 1951.1 455.2 1952.6 453.5 1954.2 454.1 1955.8 454.2 1957.4 443.6 1959.0 450.5 1960.6 451.9 1962.2 462.3 1963.8 460.9 1965.3 443.3 1966.9 453.7 1968.5 444.4 1970.1 440.6 1971.7 441.7 1973.3 446.8 1974.9 439.3 1976.4 449.0 1978.0 436.7 1979.6 450.6 1981.2 452.6 1982.8 444.0 1984.4 433.2 1986.0 432.9 1987.6 449.1 1989.1 409.3 1990.7 428.8 1992.3 435.8 1993.9 447.4 1995.5 423.0 1997.1 443.7 1998.7 421.0 2000.2 443.5 2001.8 437.3 2003.4 425.6 2005.0 431.3 2006.6 441.6 2008.2 432.4 2009.8 442.0 2011.4 428.6 2012.9 438.5 2014.5 426.7 2016.1 436.3 2017.7 432.3 2019.3 428.7 2020.9 445.9 2022.5 447.4 2024.1 437.6 2025.6 442.7 2027.2 441.1 2028.8 407.9 2030.4 399.4 2032.0 450.3 2033.6 433.9 2035.2 426.6 2036.7 423.0 2038.3 433.8 2039.9 436.0 2041.5 435.8 2043.1 422.0 2044.7 436.3 2046.3 435.7 2047.9 436.4 2049.4 397.5 2051.0 433.1 2052.6 430.8 2054.2 426.9 2055.8 437.3 2057.4 446.7 2059.0 441.7 2060.6 433.4 2062.1 446.6 2063.7 445.3 2065.3 449.2 2066.9 446.9 2068.5 463.0 2070.1 453.4 2071.7 463.1 2073.2 447.9 2074.8 467.7 2076.4 468.9 2078.0 461.9 2079.6 465.0 2081.2 471.9 2082.8 462.1 2084.4 468.9 2085.9 473.0 2087.5 461.7 2089.1 467.2 2090.7 471.1 2092.3 470.5 2093.9 471.1 2095.5 404.4 2097.1 473.6 2098.6 468.7 2100.2 467.1 2101.8 468.7 2103.4 449.9 2105.0 464.5 2106.6 457.5 2108.2 462.3 2109.7 463.6 2111.3 459.4 2112.9 460.8 2114.5 452.9 2116.1 472.8 2117.7 473.3 2119.3 469.5 2120.9 474.0 2122.4 474.6 2124.0 456.0 2125.6 471.5 2127.2 469.9 2128.8 469.6 2130.4 453.3 2132.0 471.1 2133.6 459.4 2135.1 466.4 2136.7 454.0 2138.3 426.5 2139.9 387.6 2141.5 335.3 2143.1 357.0 2144.7 339.6 2146.2 298.3 2147.8 383.2 2149.4 312.3 2151.0 363.8 2152.6 392.0 2154.2 396.9 2155.8 432.1 2157.4 467.7 2158.9 443.3 2160.5 460.4 2162.1 432.5 2163.7 425.2 2165.3 450.9 2166.9 462.2 2168.5 460.5 2170.0 454.8 2171.6 461.9 2173.2 459.1 2174.8 460.2 2176.4 407.4 2178.0 432.4 2179.6 435.3 2181.2 454.6 2182.7 460.5 2184.3 455.1 2185.9 455.5 2187.5 465.8 2189.1 465.2 2190.7 435.5 2192.3 438.7 2193.9 458.3 2195.4 469.1 2197.0 464.4 2198.6 464.7 2200.2 442.5 2201.8 416.2 2203.4 427.2 2205.0 453.1 2206.5 405.2 2208.1 443.8 2209.7 459.8 2211.3 449.9 2212.9 454.5 2214.5 430.2 2216.1 448.9 2217.7 440.0 2219.2 447.0 2220.8 434.3 2222.4 437.8 2224.0 412.3 2225.6 446.7 2227.2 387.4 2228.8 444.8 2230.4 430.9 2231.9 434.8 2233.5 414.6 2235.1 446.2 2236.7 430.6 2238.3 435.9 2239.9 442.8 2241.5 434.7 2243.0 415.4 2244.6 416.4 2246.2 432.8 2247.8 413.3 2249.4 443.3 2251.0 451.6 2252.6 449.2 2254.2 441.7 2255.7 405.2 2257.3 431.3 2258.9 452.6 2260.5 418.2 2262.1 438.5 2263.7 456.8 2265.3 418.6 2266.9 463.7 2268.4 463.1 2270.0 396.3 2271.6 455.4 2273.2 438.0 2274.8 458.4 2276.4 452.5 2278.0 450.2 2279.5 420.2 2281.1 433.7 2282.7 449.1 2284.3 455.2 2285.9 454.2 2287.5 401.3 2289.1 441.6 2290.7 463.2 2292.2 432.9 2293.8 459.7 2295.4 456.7 2297.0 459.5 2298.6 425.4 2300.2 463.7 2301.8 457.3 2303.4 457.5 2304.9 457.2 2306.5 459.2 2308.1 453.5 2309.7 448.4 2311.3 420.6 2312.9 456.6 2314.5 403.5 2316.0 454.3 2317.6 425.5 2319.2 441.4 2320.8 448.4 2322.4 455.8 2324.0 430.3 2325.6 464.0 2327.2 454.3 2328.7 466.8 2330.3 454.6 2331.9 448.8 2333.5 452.3 2335.1 461.9 2336.7 410.7 2338.3 471.5 2339.8 461.2 2341.4 463.1" fill="none" stroke="none" marker-start="url(#mka)" marker-mid="url(#mka)" marker-end="url(#mka)"/>
<path d="M59.5 361.2 61 357.4 62.6 359.4 64.2 360 65.8 358.8 67.4 349.2 69 360.6 70.6 359.9 72.1 359 73.7 360.7 75.3 362.5 76.9 361.3 78.5 361.3 80.1 359.3 81.7 362.2 83.3 361.5 84.8 360.6 86.4 359.1 88 353.1 89.6 358.5 91.2 358.6 92.8 358.4 94.4 357.4 95.9 347.4 97.5 357.8 99.1 356.7 100.7 357.7 102.3 357.8 103.9 359.4 105.5 358.3 107.1 358.5 108.6 360 110.2 360.3 111.8 362.5 113.4 360.5 115 360.5 116.6 361 118.2 362.2 119.8 362.4 121.3 362.2 122.9 357.3 124.5 360 126.1 360.6 127.7 360.9 129.3 358.5 130.9 360.9 132.4 358.9 134 360.1 135.6 360.9 137.2 358.4 138.8 359.6 140.4 358.2 142 360.7 143.6 359.9 145.1 359.7 146.7 358.5 148.3 360 149.9 359 151.5 361.9 153.1 360.4 154.7 362.3 156.3 359.4 157.8 360.8 159.4 360.3 161 359.8 162.6 353.8 164.2 358.5 165.8 361.7 167.4 360.7 168.9 360.3 170.5 360.2 172.1 359.5 173.7 359.7 175.3 360.9 176.9 360.7 178.5 359.4 180.1 361.2 181.6 353.6 183.2 361.5 184.8 361.2 186.4 361.3 188 360.2 189.6 361.3 191.2 360.7 192.8 359.6 194.3 359.9 195.9 359.8 197.5 357.2 199.1 349.2 200.7 358 202.3 357.3 203.9 357.5 205.4 358 207 356.8 208.6 356.9 210.2 353.1 211.8 357.4 213.4 358.7 215 359.5 216.6 359.4 218.1 359.3 219.7 360.1 221.3 360.5 222.9 359.8 224.5 359.9 226.1 359.9 227.7 359.5 229.3 359.6 230.8 360.5 232.4 359 234 359.2 235.6 359.5 237.2 360 238.8 359.4 240.4 355.5 241.9 360.2 243.5 355.7 245.1 351 246.7 328.5 248.3 344.2 249.9 349.6 251.5 352.7 253.1 355.8 254.6 355.8 256.2 354.5 257.8 352.7 259.4 353.4 261 352.4 262.6 350.6 264.2 352.9 265.7 352.1 267.3 350.8 268.9 351.2 270.5 352 272.1 351 273.7 351.1 275.3 350.8 276.9 352.6 278.4 351.8 280 354 281.6 356.1 283.2 359.3 284.8 358.5 286.4 357.4 288 351.8 289.6 356.9 291.1 357.1 292.7 359.2 294.3 358.5 295.9 361.5 297.5 359.6 299.1 359 300.7 360.3 302.2 360 303.8 360 305.4 360 307 360 308.6 357.2 310.2 356.5 311.8 354.9 313.4 355.5 314.9 355.4 316.5 354.6 318.1 355.1 319.7 355.2 321.3 355.8 322.9 354.2 324.5 350.5 326.1 353.8 327.6 354 329.2 355.7 330.8 358.3 332.4 356.5 334 361 335.6 360.8 337.2 361.2 338.7 361.9 340.3 362.3 341.9 363 343.5 361.5 345.1 362.9 346.7 362.1 348.3 361 349.9 361.9 351.4 362.6 353 361.2 354.6 360.8 356.2 362 357.8 362.4 359.4 360.4 361 357.6 362.6 360.8 364.1 362.2 365.7 362.1 367.3 361 368.9 361.6 370.5 361.5 372.1 360.6 373.7 361.2 375.2 360.9 376.8 360.9 378.4 360.9 380 361.5 381.6 359.4 383.2 357.3 384.8 355.1 386.4 342.7 387.9 353.3 389.5 356.2 391.1 358 392.7 358.7 394.3 360.2 395.9 360.3 397.5 360 399.1 359.9 400.6 361.4 402.2 360.8 403.8 359.5 405.4 361.6 407 358.7 408.6 358.1 410.2 359.2 411.7 357.6 413.3 356.5 414.9 358.5 416.5 357.2 418.1 359.3 419.7 358.3 421.3 358.8 422.9 357.6 424.4 348.8 426 354.6 427.6 342.7 429.2 353.5 430.8 352.7 432.4 346.5 434 358.7 435.5 357.8 437.1 355.8 438.7 355.2 440.3 353.1 441.9 349.4 443.5 347.9 445.1 355.1 446.7 355 448.2 353.4 449.8 353.5 451.4 353.5 453 352 454.6 353.3 456.2 352.4 457.8 353.2 459.4 352.2 460.9 350.9 462.5 351.1 464.1 352.3 465.7 350.7 467.3 351.3 468.9 351.4 470.5 351.5 472 351.3 473.6 349.6 475.2 350.7 476.8 349.7 478.4 351.3 480 349.9 481.6 350.6 483.2 352.6 484.7 350.4 486.3 351.2 487.9 351.8 489.5 351.3 491.1 349.5 492.7 341.4 494.3 348.4 495.9 336.6 497.4 349.2 499 349.5 500.6 347.8 502.2 350.4 503.8 350.7 505.4 348.1 507 349.8 508.5 345.5 510.1 349.9 511.7 345.4 513.3 350.2 514.9 349.2 516.5 345.5 518.1 345.9 519.7 346 521.2 344.2 522.8 343.6 524.4 325.9 526 341.7 527.6 338.5 529.2 342.7 530.8 341.9 532.4 340.7 533.9 339.4 535.5 339.2 537.1 339.4 538.7 329.8 540.3 339.7 541.9 336.4 543.5 336 545 334 546.6 304 548.2 330.6 549.8 334.7 551.4 337.4 553 337.8 554.6 337.6 556.2 340.2 557.7 339 559.3 337.2 560.9 338.6 562.5 339.6 564.1 339.5 565.7 337.9 567.3 338.7 568.9 336.8 570.4 333.8 572 335.3 573.6 323.3 575.2 329.7 576.8 333.7 578.4 332.5 580 334.2 581.5 335 583.1 332.1 584.7 332.5 586.3 331.6 587.9 332.6 589.5 330.6 591.1 330.3 592.7 332.4 594.2 330.7 595.8 327.5 597.4 330.1 599 329.9 600.6 329.4 602.2 328.9 603.8 328.1 605.3 328.8 606.9 327.5 608.5 327.3 610.1 329.5 611.7 327.9 613.3 326.3 614.9 326.8 616.5 318.2 618 312.9 619.6 323.6 621.2 323.7 622.8 322.2 624.4 327 626 324.7 627.6 325.7 629.2 326.1 630.7 316.9 632.3 327.2 633.9 327 635.5 328.5 637.1 327.8 638.7 328.1 640.3 329.5 641.8 324.9 643.4 325.9 645 325.5 646.6 302.7 648.2 328.4 649.8 326.8 651.4 331.5 653 333.8 654.5 332.6 656.1 333.2 657.7 329 659.3 331.9 660.9 331.2 662.5 330.4 664.1 330.7 665.7 331 667.2 329.6 668.8 328.7 670.4 329.2 672 332.4 673.6 331.8 675.2 331.8 676.8 330.9 678.3 328.9 679.9 327.1 681.5 328.7 683.1 327.8 684.7 327 686.3 328.7 687.9 327.1 689.5 326 691 325.6 692.6 324.3 694.2 321.8 695.8 322.6 697.4 316.2 699 319.8 700.6 316.1 702.2 312.7 703.7 311.7 705.3 300.1 706.9 309.4 708.5 311.9 710.1 314.5 711.7 304.9 713.3 320.3 714.8 320.3 716.4 324.8 718 324.4 719.6 325.3 721.2 319.5 722.8 318.2 724.4 306.6 726 312.2 727.5 310.5 729.1 312 730.7 315 732.3 318.3 733.9 318 735.5 321.8 737.1 321.4 738.7 305.3 740.2 317.2 741.8 314 743.4 315.5 745 317.6 746.6 318.5 748.2 320.3 749.8 320.1 751.3 305.3 752.9 317.7 754.5 318 756.1 321.1 757.7 319.4 759.3 318.2 760.9 321.1 762.5 324.6 764 322.1 765.6 318.1 767.2 324.4 768.8 321.9 770.4 320.4 772 318.8 773.6 317.1 775.1 313.1 776.7 312.7 778.3 315.7 779.9 316.6 781.5 316.8 783.1 315.4 784.7 312.3 786.3 308.3 787.8 294.9 789.4 308.2 791 308.5 792.6 309.1 794.2 310.6 795.8 296.2 797.4 313.3 799 315.2 800.5 314.9 802.1 321.1 803.7 325.1 805.3 328.1 806.9 305.7 808.5 331.5 810.1 331.8 811.6 330.7 813.2 329.9 814.8 328.4 816.4 326.7 818 325.3 819.6 324.9 821.2 325.1 822.8 324.9 824.3 323.8 825.9 324.1 827.5 323.3 829.1 322.8 830.7 317.4 832.3 325.9 833.9 313.6 835.5 325.2 837 325.7 838.6 324.4 840.2 326 841.8 327.6 843.4 324.6 845 325.1 846.6 327.6 848.1 326.3 849.7 323.2 851.3 322.8 852.9 323.2 854.5 310.3 856.1 324 857.7 325.6 859.3 326.9 860.8 327.5 862.4 331.2 864 331.8 865.6 332.6 867.2 333.7 868.8 334.2 870.4 331.4 872 333.1 873.5 334 875.1 324.6 876.7 326.7 878.3 325.1 879.9 302.7 881.5 324.3 883.1 323.7 884.6 330 886.2 331.3 887.8 332.9 889.4 334.6 891 331.4 892.6 335 894.2 331.6 895.8 330.9 897.3 334.3 898.9 333.5 900.5 332.8 902.1 332.8 903.7 333.3 905.3 334.4 906.9 333.7 908.5 336.8 910 334.5 911.6 331.3 913.2 332.9 914.8 333.6 916.4 334.1 918 334.8 919.6 331.8 921.1 330.8 922.7 330.4 924.3 327.2 925.9 328.8 927.5 329.6 929.1 327.4 930.7 329.9 932.3 325.3 933.8 314.3 935.4 323.8 937 320.1 938.6 320.6 940.2 317.8 941.8 320.7 943.4 321.3 944.9 320.6 946.5 320.2 948.1 317.6 949.7 309.1 951.3 315.1 952.9 318.5 954.5 320 956.1 322.3 957.6 323.6 959.2 327.7 960.8 316.2 962.4 330.4 964 333.2 965.6 332.3 967.2 315 968.8 331.9 970.3 301.4 971.9 330.8 973.5 333.6 975.1 333.4 976.7 333.8 978.3 332.3 979.9 333.3 981.4 337.7 983 335.8 984.6 335.6 986.2 332 987.8 332.4 989.4 330.7 991 322.1 992.6 328.6 994.1 325.4 995.7 325.8 997.3 326.9 998.9 320.8 1000.5 324.8 1002.1 325.7 1003.7 326.9 1005.3 329.4 1006.8 327.7 1008.4 331.3 1010 330.4 1011.6 332.7 1013.2 334 1014.8 335.1 1016.4 336.4 1017.9 337.7 1019.5 337.1 1021.1 336.2 1022.7 338.1 1024.3 306.6 1025.9 323 1027.5 320.7 1029.1 315.2 1030.6 313.5 1032.2 309.8 1033.8 302.7 1035.4 323.6 1037 329.6 1038.6 332.6 1040.2 339.3 1041.8 339.1 1043.3 339.3 1044.9 339.7 1046.5 339 1048.1 336.3 1049.7 338.6 1051.3 333.7 1052.9 337.4 1054.4 336.5 1056 338 1057.6 335.7 1059.2 338.1 1060.8 334.4 1062.4 335.5 1064 336.1 1065.6 337.1 1067.1 336.5 1068.7 339.6 1070.3 338.1 1071.9 338.2 1073.5 335.2 1075.1 338.7 1076.7 335.5 1078.3 338.7 1079.8 338.9 1081.4 336.5 1083 336.7 1084.6 334.3 1086.2 332.8 1087.8 330.2 1089.4 325.2 1090.9 324 1092.5 316.7 1094.1 292.4 1095.7 312.9 1097.3 311.6 1098.9 308.4 1100.5 306.7 1102.1 300.1 1103.6 266.5 1105.2 283 1106.8 274.6 1108.4 263.2 1110 261.4 1111.6 266.5 1113.2 266.8 1114.7 258.8 1116.3 277.6 1117.9 289 1119.5 302.4 1121.1 316.9 1122.7 323.6 1124.3 330.5 1125.9 334.1 1127.4 336.2 1129 334.9 1130.6 334.8 1132.2 332.7 1133.8 331.2 1135.4 320.8 1137 325.7 1138.6 331.1 1140.1 330.8 1141.7 330.4 1143.3 334 1144.9 332.7 1146.5 335.3 1148.1 334.3 1149.7 333.2 1151.2 332.9 1152.8 336.7 1154.4 336.1 1156 333.7 1157.6 334.8 1159.2 324.6 1160.8 334.9 1162.4 333.8 1163.9 334.7 1165.5 335.8 1167.1 335 1168.7 336.8 1170.3 337 1171.9 337.3 1173.5 338.7 1175.1 336.1 1176.6 338.7 1178.2 338.9 1179.8 338.4 1181.4 341.5 1183 340.7 1184.6 341.6 1186.2 340.9 1187.7 341.3 1189.3 337.9 1190.9 339.3 1192.5 339.7 1194.1 340.3 1195.7 341 1197.3 341.8 1198.9 339.7 1200.4 340.1 1202 340.1 1203.6 337.5 1205.2 329.7 1206.8 324.7 1208.4 297.5 1210 311.4 1211.6 318.4 1213.1 320.7 1214.7 320.7 1216.3 319.1 1217.9 274.3 1219.5 323.3 1221.1 330 1222.7 337.5 1224.2 337.5 1225.8 340.7 1227.4 342.9 1229 341.1 1230.6 340.8 1232.2 342.7 1233.8 340.3 1235.4 342.9 1236.9 341.9 1238.5 341.2 1240.1 342.1 1241.7 343.2 1243.3 342.5 1244.9 342.3 1246.5 341.8 1248.1 343.4 1249.6 342.8 1251.2 341.2 1252.8 343 1254.4 340.3 1256 340.5 1257.6 339.3 1259.2 332.4 1260.7 338.7 1262.3 336.6 1263.9 336.4 1265.5 337.5 1267.1 334.2 1268.7 332.4 1270.3 322.1 1271.9 329.7 1273.4 331.5 1275 333.8 1276.6 333.6 1278.2 335.5 1279.8 338.2 1281.4 339.1 1283 338.5 1284.5 338.8 1286.1 341 1287.7 340.2 1289.3 341.3 1290.9 340 1292.5 343.1 1294.1 341.9 1295.7 343.3 1297.2 342.6 1298.8 342.4 1300.4 340.3 1302 340.3 1303.6 339.8 1305.2 341.7 1306.8 343.2 1308.4 342.4 1309.9 340.9 1311.5 341.9 1313.1 340.3 1314.7 339.5 1316.3 341.1 1317.9 339.8 1319.5 340.8 1321 336.9 1322.6 341.4 1324.2 340.3 1325.8 341.3 1327.4 340.5 1329 340.2 1330.6 339.7 1332.2 341.3 1333.7 338.2 1335.3 341.4 1336.9 340.1 1338.5 341.3 1340.1 341 1341.7 339.1 1343.3 339.9 1344.9 341 1346.4 341.8 1348 341.1 1349.6 341.1 1351.2 340.8 1352.8 339.5 1354.4 341.7 1356 342.2 1357.5 341.9 1359.1 338.4 1360.7 333.3 1362.3 282 1363.9 300.1 1365.5 326.7 1367.1 331.3 1368.7 338 1370.2 337 1371.8 340.5 1373.4 341.2 1375 342 1376.6 340.3 1378.2 340.3 1379.8 339.3 1381.4 341.2 1382.9 341.7 1384.5 339.8 1386.1 341.4 1387.7 338.1 1389.3 341.4 1390.9 341.4 1392.5 339.8 1394 340.7 1395.6 339.3 1397.2 339 1398.8 339.1 1400.4 339.6 1402 338.6 1403.6 340.3 1405.2 340.4 1406.7 338.3 1408.3 339 1409.9 339.4 1411.5 339.1 1413.1 339.7 1414.7 339.1 1416.3 339.2 1417.9 335.6 1419.4 340.1 1421 338 1422.6 336.5 1424.2 339.9 1425.8 331.9 1427.4 328.3 1429 326.4 1430.5 294.9 1432.1 323 1433.7 327.7 1435.3 333.2 1436.9 333.6 1438.5 333.4 1440.1 333.2 1441.7 334 1443.2 333.1 1444.8 335.5 1446.4 335.7 1448 334 1449.6 335.7 1451.2 333.9 1452.8 335.3 1454.3 333.8 1455.9 331.3 1457.5 327.4 1459.1 320.8 1460.7 322.9 1462.3 324.2 1463.9 331.8 1465.5 331 1467 333.3 1468.6 335 1470.2 334.3 1471.8 334.9 1473.4 333 1475 334.6 1476.6 329.4 1478.2 319.4 1479.7 293.6 1481.3 320.6 1482.9 323 1484.5 330.2 1486.1 334.2 1487.7 333.9 1489.3 331.8 1490.8 334.5 1492.4 334 1494 334.3 1495.6 331.5 1497.2 334.8 1498.8 332.9 1500.4 334.4 1502 336.2 1503.5 335.4 1505.1 330.7 1506.7 332.8 1508.3 328.3 1509.9 324.3 1511.5 320.7 1513.1 306.6 1514.7 317.3 1516.2 318.2 1517.8 319.1 1519.4 313.6 1521 329 1522.6 332.2 1524.2 332.4 1525.8 332 1527.3 333.7 1528.9 332.4 1530.5 322.1 1532.1 329.5 1533.7 316.2 1535.3 327 1536.9 331.9 1538.5 302.4 1540 328.5 1541.6 323.7 1543.2 325.2 1544.8 321.3 1546.4 311.7 1548 321 1549.6 324 1551.2 322.4 1552.7 322.2 1554.3 318 1555.9 314.1 1557.5 313.3 1559.1 291.1 1560.7 310.1 1562.3 313.8 1563.8 320.5 1565.4 315.1 1567 314.6 1568.6 315.7 1570.2 317.5 1571.8 315.4 1573.4 316.3 1575 314.7 1576.5 316.8 1578.1 314.2 1579.7 313.8 1581.3 314.7 1582.9 315.6 1584.5 306.6 1586.1 320.1 1587.7 324.1 1589.2 327.1 1590.8 328.3 1592.4 327.6 1594 328.4 1595.6 327.8 1597.2 327.7 1598.8 326.8 1600.3 328.1 1601.9 327.4 1603.5 327.6 1605.1 327.7 1606.7 327.6 1608.3 326.2 1609.9 326.6 1611.5 325.8 1613 328.6 1614.6 325.8 1616.2 325.8 1617.8 326.3 1619.4 327.5 1621 326.6 1622.6 325 1624.1 326.6 1625.7 327.3 1627.3 326.9 1628.9 325.7 1630.5 326.5 1632.1 326.8 1633.7 326.3 1635.3 327 1636.8 326.1 1638.4 326 1640 316.4 1641.6 325.7 1643.2 325 1644.8 326.4 1646.4 325.9 1648 326.2 1649.5 326.2 1651.1 319.5 1652.7 325.8 1654.3 326.1 1655.9 321.8 1657.5 325.4 1659.1 326 1660.6 325.4 1662.2 324.9 1663.8 317.6 1665.4 321.5 1667 309.1 1668.6 322.4 1670.2 321.1 1671.8 324.7 1673.3 325.6 1674.9 315.6 1676.5 324.8 1678.1 324.5 1679.7 326.5 1681.3 327.4 1682.9 327.9 1684.5 326 1686 326 1687.6 325.4 1689.2 325.9 1690.8 323.8 1692.4 322.4 1694 320.6 1695.6 320 1697.1 310.4 1698.7 321 1700.3 322.3 1701.9 324.4 1703.5 326.3 1705.1 325.7 1706.7 326.2 1708.3 325.5 1709.8 326.3 1711.4 325.1 1713 324.5 1714.6 325.5 1716.2 326.6 1717.8 326.2 1719.4 325.7 1721 326.1 1722.5 326.1 1724.1 325.5 1725.7 326.9 1727.3 325.5 1728.9 325.1 1730.5 325.9 1732.1 324.1 1733.6 323.5 1735.2 324.6 1736.8 323.8 1738.4 324.1 1740 323.4 1741.6 324.5 1743.2 326.2 1744.8 325.3 1746.3 325.5 1747.9 325.7 1749.5 325.2 1751.1 325.1 1752.7 325.1 1754.3 324.4 1755.9 324.5 1757.5 325.9 1759 324.9 1760.6 324.1 1762.2 326.5 1763.8 325.3 1765.4 325.4 1767 324.1 1768.6 324.5 1770.1 319.5 1771.7 322.1 1773.3 323.5 1774.9 324.1 1776.5 324.7 1778.1 323.4 1779.7 323.4 1781.3 324.3 1782.8 323.5 1784.4 324.3 1786 323.5 1787.6 323.1 1789.2 322.5 1790.8 323.8 1792.4 323 1793.9 323 1795.5 323.7 1797.1 324.8 1798.7 322.9 1800.3 323.5 1801.9 323.2 1803.5 323.2 1805.1 323.7 1806.6 324.5 1808.2 323.2 1809.8 323.6 1811.4 324.6 1813 323.4 1814.6 324.2 1816.2 324 1817.8 323.6 1819.3 323.5 1820.9 323.1 1822.5 320.2 1824.1 314.3 1825.7 320.3 1827.3 320.3 1828.9 321 1830.4 321.2 1832 321.6 1833.6 319.2 1835.2 307.9 1836.8 318.7 1838.4 319.8 1840 321.1 1841.6 322.4 1843.1 322.4 1844.7 323.9 1846.3 324.5 1847.9 321.1 1849.5 314.3 1851.1 320.4 1852.7 319.7 1854.3 320.4 1855.8 320.5 1857.4 321.3 1859 320.3 1860.6 321.7 1862.2 321.4 1863.8 321.3 1865.4 323.2 1866.9 319.2 1868.5 322.3 1870.1 323 1871.7 323.3 1873.3 324.2 1874.9 324.7 1876.5 322.8 1878.1 323.7 1879.6 322.7 1881.2 323.2 1882.8 324.5 1884.4 324.7 1886 322.7 1887.6 322.3 1889.2 316.6 1890.8 315.4 1892.3 298.8 1893.9 312.8 1895.5 312.1 1897.1 316.2 1898.7 317.6 1900.3 310.4 1901.9 320.3 1903.4 322.2 1905 325.2 1906.6 325.8 1908.2 325.3 1909.8 324.7 1911.4 325.2 1913 324.6 1914.6 325.6 1916.1 325.4 1917.7 325.3 1919.3 325.2 1920.9 324.4 1922.5 325.4 1924.1 325.6 1925.7 325.1 1927.3 325 1928.8 324.7 1930.4 325.5 1932 324.6 1933.6 325.9 1935.2 325.8 1936.8 326 1938.4 325.7 1939.9 325.4 1941.5 325.8 1943.1 325 1944.7 325.6 1946.3 325.9 1947.9 325.3 1949.5 326.1 1951.1 326 1952.6 325.1 1954.2 325.9 1955.8 325.8 1957.4 325.4 1959 325.6 1960.6 325.8 1962.2 326.2 1963.8 325.7 1965.3 325.6 1966.9 326 1968.5 325.7 1970.1 325.9 1971.7 325.7 1973.3 326.1 1974.9 325.8 1976.4 325.8 1978 325.4 1979.6 326.1 1981.2 325.6 1982.8 325.1 1984.4 325.9 1986 325.4 1987.6 326.6 1989.1 325.5 1990.7 326.2 1992.3 325.9 1993.9 325.7 1995.5 326.1 1997.1 326 1998.7 326.8 2000.2 325.7 2001.8 327.1 2003.4 326.7 2005 326.6 2006.6 325.4 2008.2 326 2009.8 325.8 2011.4 326 2012.9 325.3 2014.5 326.1 2016.1 325.8 2017.7 325.6 2019.3 325.9 2020.9 325.8 2022.5 326.1 2024.1 325.6 2025.6 326.1 2027.2 326.1 2028.8 326.2 2030.4 326.7 2032 326 2033.6 326.2 2035.2 326.5 2036.7 325.4 2038.3 326.2 2039.9 326 2041.5 325.4 2043.1 325.3 2044.7 325.6 2046.3 325.7 2047.9 326.5 2049.4 326 2051 325.9 2052.6 326.4 2054.2 326.1 2055.8 326.1 2057.4 327 2059 326.4 2060.6 325.7 2062.1 326.3 2063.7 325.8 2065.3 325.8 2066.9 325.9 2068.5 325.6 2070.1 325.7 2071.7 326.3 2073.2 325.7 2074.8 325.5 2076.4 326.1 2078 325.8 2079.6 325.9 2081.2 325.9 2082.8 326.1 2084.4 326.5 2085.9 326.3 2087.5 326.3 2089.1 326.3 2090.7 325.7 2092.3 326.4 2093.9 326.3 2095.5 327.1 2097.1 326.9 2098.6 326.5 2100.2 327.7 2101.8 327 2103.4 327 2105 327.6 2106.6 327.1 2108.2 327.4 2109.7 327.1 2111.3 327.7 2112.9 327.4 2114.5 326.9 2116.1 327.9 2117.7 327.5 2119.3 328.4 2120.9 327.7 2122.4 327.6 2124 327.4 2125.6 327.7 2127.2 327.6 2128.8 327.4 2130.4 327.6 2132 327.5 2133.6 328.2 2135.1 328.6 2136.7 323.5 2138.3 304.2 2139.9 283.4 2141.5 239.4 2143.1 242.2 2144.7 229.6 2146.2 216.2 2147.8 227.1 2149.4 229.1 2151 238.6 2152.6 249.7 2154.2 277.1 2155.8 301.5 2157.4 307 2158.9 326.9 2160.5 327.1 2162.1 326.4 2163.7 327.1 2165.3 325.3 2166.9 326.5 2168.5 326 2170 327.3 2171.6 328.2 2173.2 327.6 2174.8 327.1 2176.4 327 2178 328 2179.6 328.2 2181.2 327.1 2182.7 328.2 2184.3 327.7 2185.9 327.2 2187.5 325.2 2189.1 327.1 2190.7 322.4 2192.3 324.9 2193.9 325 2195.4 325.2 2197 325.6 2198.6 326 2200.2 326 2201.8 324.6 2203.4 324.8 2205 307.2 2206.5 320.8 2208.1 325.1 2209.7 324.3 2211.3 324.3 2212.9 324.6 2214.5 324.7 2216.1 325.2 2217.7 305.8 2219.2 323.1 2220.8 323.4 2222.4 323.6 2224 322.5 2225.6 323.6 2227.2 322.8 2228.8 323 2230.4 321.3 2231.9 323.9 2233.5 324.8 2235.1 325.1 2236.7 326.1 2238.3 325.6 2239.9 322.4 2241.5 309.1 2243 319 2244.6 315 2246.2 309.5 2247.8 307.2 2249.4 298.8 2251 310.8 2252.6 312.8 2254.2 303.9 2255.7 314.9 2257.3 306.6 2258.9 313.2 2260.5 312 2262.1 305.3 2263.7 316.7 2265.3 321.6 2266.9 323.1 2268.4 324.4 2270 328.1 2271.6 327.8 2273.2 325.6 2274.8 324.7 2276.4 322.5 2278 318.2 2279.5 320.7 2281.1 322.9 2282.7 323.7 2284.3 325.3 2285.9 326.3 2287.5 329.1 2289.1 328.8 2290.7 327.5 2292.2 327.2 2293.8 328.7 2295.4 327.9 2297 328.8 2298.6 327.8 2300.2 328.7 2301.8 328.2 2303.4 327.9 2304.9 328 2306.5 328.7 2308.1 328.7 2309.7 327.7 2311.3 327.5 2312.9 327.7 2314.5 328.5 2316 327.2 2317.6 329.3 2319.2 329 2320.8 328.7 2322.4 328.1 2324 328.2 2325.6 328.7 2327.2 329.1 2328.7 328.6 2330.3 328.7 2331.9 328.4 2333.5 330.1 2335.1 329.7 2336.7 329.1 2338.3 329.7 2339.8 329.2 2341.4 328.9" stroke="#4682b4" stroke-width="1.3" fill="none" stroke-linejoin="round"/>
<path d="M59.5 371.7 61 366.9 62.6 368.8 64.2 368.9 65.8 367.9 67.4 359.5 69 370.8 70.6 370.5 72.1 369.6 73.7 370.3 75.3 371.5 76.9 369.7 78.5 370.6 80.1 368.5 81.7 371.7 83.3 370.6 84.8 370.7 86.4 368.4 88 362.8 89.6 368.5 91.2 367.7 92.8 367.2 94.4 366.5 95.9 355.9 97.5 366.4 99.1 366.7 100.7 367.1 102.3 368 103.9 370.2 105.5 369 107.1 369.8 108.6 371.6 110.2 371.3 111.8 372.1 113.4 370.8 115 370.7 116.6 370.2 118.2 372.5 119.8 371.9 121.3 371.8 122.9 367.3 124.5 370 126.1 370.1 127.7 371.2 129.3 368.9 130.9 371.2 132.4 368.8 134 369.2 135.6 369.7 137.2 367.1 138.8 368.6 140.4 367.5 142 369.4 143.6 368.1 145.1 368.4 146.7 368.2 148.3 368.5 149.9 368.2 151.5 370.6 153.1 370.3 154.7 371.2 156.3 367.9 157.8 370 159.4 370.2 161 369.5 162.6 362.4 164.2 368 165.8 371.4 167.4 370.1 168.9 369.3 170.5 369.9 172.1 369.1 173.7 368.5 175.3 370.4 176.9 369.8 178.5 367.9 180.1 370.3 181.6 362.9 183.2 370.5 184.8 370.3 186.4 369.6 188 369.1 189.6 370.4 191.2 369 192.8 369.1 194.3 369.3 195.9 369 197.5 367.7 199.1 359.4 200.7 368.5 202.3 367.7 203.9 367.3 205.4 366.3 207 366 208.6 365.7 210.2 362.5 211.8 366.5 213.4 367.5 215 368.2 216.6 367.9 218.1 368.6 219.7 369.7 221.3 370.9 222.9 369.4 224.5 370 226.1 369.7 227.7 369.2 229.3 369.3 230.8 370.7 232.4 368.7 234 369.2 235.6 369.2 237.2 369.9 238.8 369.8 240.4 365.8 241.9 370.9 243.5 367.7 245.1 365.1 246.7 343.8 248.3 359.8 249.9 362.2 251.5 363.8 253.1 368.4 254.6 368 256.2 367.9 257.8 366.5 259.4 367.8 261 367.4 262.6 365.1 264.2 367.5 265.7 366.3 267.3 365 268.9 364.3 270.5 366.3 272.1 365.7 273.7 365.7 275.3 364.5 276.9 366.9 278.4 365 280 366.8 281.6 368.1 283.2 370.6 284.8 368.3 286.4 367.8 288 363 289.6 367.9 291.1 368.2 292.7 369.9 294.3 368.9 295.9 371.6 297.5 370.4 299.1 370 300.7 371.4 302.2 369.8 303.8 371 305.4 370.7 307 371.3 308.6 368.1 310.2 368.6 311.8 367.7 313.4 366.9 314.9 367.1 316.5 366 318.1 366.5 319.7 367 321.3 366.9 322.9 366.4 324.5 361.9 326.1 365.2 327.6 365 329.2 366 330.8 368.3 332.4 366.6 334 369.8 335.6 370.4 337.2 372 338.7 371.4 340.3 371.6 341.9 373.1 343.5 371.2 345.1 373.6 346.7 371.4 348.3 370.4 349.9 372.2 351.4 372 353 370.4 354.6 371.1 356.2 371.4 357.8 371.4 359.4 369.7 361 367.1 362.6 369.8 364.1 371.6 365.7 370.8 367.3 370.2 368.9 370.8 370.5 369.8 372.1 370.3 373.7 371.1 375.2 371.3 376.8 370.6 378.4 369.8 380 371.5 381.6 368.3 383.2 365.1 384.8 363 386.4 352.5 387.9 362.6 389.5 365.2 391.1 366.9 392.7 367.9 394.3 370.8 395.9 369.2 397.5 369.5 399.1 370.3 400.6 371.6 402.2 371.7 403.8 369.7 405.4 371.5 407 369.2 408.6 367.9 410.2 369.1 411.7 368.1 413.3 366.9 414.9 367.7 416.5 367.3 418.1 369.6 419.7 367.9 421.3 368.3 422.9 368 424.4 360.1 426 366.8 427.6 356.2 429.2 365.7 430.8 364.7 432.4 358.4 434 369 435.5 368.4 437.1 366.6 438.7 366.7 440.3 365.4 441.9 361.4 443.5 360.3 445.1 366.4 446.7 365.4 448.2 364.5 449.8 363.2 451.4 363.4 453 362.3 454.6 363.8 456.2 362.8 457.8 362.8 459.4 362.2 460.9 361 462.5 361.7 464.1 362.8 465.7 360.6 467.3 360.7 468.9 361.3 470.5 361.2 472 361.4 473.6 359.6 475.2 360.1 476.8 360.6 478.4 360.9 480 360.2 481.6 360.3 483.2 362 484.7 359.5 486.3 360.3 487.9 360.3 489.5 359.9 491.1 358.5 492.7 351.7 494.3 356.5 495.9 346.7 497.4 358 499 358.1 500.6 357.4 502.2 359.8 503.8 359.8 505.4 357.4 507 359 508.5 354.9 510.1 360.4 511.7 355.5 513.3 358.6 514.9 358.7 516.5 355.6 518.1 354.5 519.7 355.4 521.2 354.5 522.8 353.8 524.4 336 526 349.8 527.6 346.9 529.2 351.4 530.8 350.1 532.4 349.5 533.9 348.3 535.5 348.3 537.1 348.7 538.7 339.6 540.3 348.8 541.9 345.7 543.5 344.4 545 343.7 546.6 315.5 548.2 340.8 549.8 342.8 551.4 347.5 553 346.2 554.6 347.4 556.2 349.7 557.7 348.2 559.3 346.6 560.9 347 562.5 348.7 564.1 347.9 565.7 347.4 567.3 347.7 568.9 345.8 570.4 342.9 572 344.4 573.6 332.7 575.2 338.5 576.8 342.2 578.4 341.1 580 343 581.5 343.3 583.1 341.1 584.7 341.1 586.3 340.9 587.9 341.4 589.5 340 591.1 340.1 592.7 340.8 594.2 339.7 595.8 336.8 597.4 338.1 599 338.3 600.6 337.5 602.2 337.7 603.8 337.5 605.3 337.7 606.9 336.8 608.5 336.6 610.1 339.1 611.7 337.6 613.3 337.9 614.9 338 616.5 328.4 618 324.3 619.6 334.1 621.2 333.5 622.8 332.5 624.4 338.3 626 336.8 627.6 336.5 629.2 335.7 630.7 327.2 632.3 336.8 633.9 336.4 635.5 337.5 637.1 335.9 638.7 338.2 640.3 338.3 641.8 334.8 643.4 335.7 645 335.5 646.6 314.9 648.2 338.2 649.8 338.1 651.4 342.5 653 342.9 654.5 342.4 656.1 341.7 657.7 338.8 659.3 341.6 660.9 340.7 662.5 339.4 664.1 341 665.7 340.9 667.2 338.1 668.8 338.9 670.4 339 672 341.8 673.6 342.1 675.2 341.4 676.8 340 678.3 338.2 679.9 336.6 681.5 337.9 683.1 336.9 684.7 335.5 686.3 337.1 687.9 335.8 689.5 334.9 691 334.2 692.6 333.5 694.2 331 695.8 331 697.4 324.6 699 326.5 700.6 321.5 702.2 317.2 703.7 317.2 705.3 306.3 706.9 314 708.5 317 710.1 320.2 711.7 311.7 713.3 326.7 714.8 328.6 716.4 332.4 718 333.2 719.6 333.6 721.2 327.1 722.8 324.4 724.4 313.2 726 317.9 727.5 316.5 729.1 318.2 730.7 321.1 732.3 325.7 733.9 325.2 735.5 329.3 737.1 329.6 738.7 313.6 740.2 325.6 741.8 322.3 743.4 324.2 745 326.7 746.6 328.9 748.2 329.3 749.8 328.5 751.3 314.5 752.9 325.5 754.5 325.2 756.1 327.9 757.7 326.6 759.3 326.1 760.9 329.2 762.5 331.6 764 329.4 765.6 325.9 767.2 331.1 768.8 328.1 770.4 327.9 772 326 773.6 323.9 775.1 321 776.7 319.8 778.3 323.5 779.9 325.3 781.5 325.1 783.1 324.3 784.7 322 786.3 318.8 787.8 305.7 789.4 319.6 791 319.6 792.6 319.8 794.2 319.2 795.8 306.7 797.4 321.5 799 325.3 800.5 324.3 802.1 331.5 803.7 334.7 805.3 336.9 806.9 317.1 808.5 340.4 810.1 340.6 811.6 339.3 813.2 338.7 814.8 336 816.4 334.6 818 332 819.6 332.1 821.2 332 822.8 331.1 824.3 330 825.9 331.1 827.5 331.3 829.1 330.4 830.7 326.1 832.3 332.7 833.9 321.8 835.5 332.3 837 332.6 838.6 331 840.2 332.5 841.8 333.1 843.4 330 845 331.1 846.6 334.1 848.1 332 849.7 328.9 851.3 328.6 852.9 329.8 854.5 318.9 856.1 330.6 857.7 332.9 859.3 333.7 860.8 334.1 862.4 339 864 339.7 865.6 340.8 867.2 341.1 868.8 342.3 870.4 339.5 872 341.5 873.5 342.2 875.1 333.8 876.7 335.7 878.3 334.2 879.9 312.8 881.5 332 883.1 333.3 884.6 337.5 886.2 340.9 887.8 342.1 889.4 344.2 891 342 892.6 343.8 894.2 340 895.8 340.3 897.3 343.9 898.9 343.9 900.5 342.8 902.1 342.7 903.7 343.5 905.3 343.3 906.9 343.3 908.5 346.2 910 342.9 911.6 340.3 913.2 342.3 914.8 343.1 916.4 342.8 918 343.9 919.6 341.3 921.1 340.7 922.7 339.6 924.3 336.1 925.9 338.8 927.5 339 929.1 337 930.7 338.7 932.3 334.8 933.8 324.8 935.4 332.3 937 329.1 938.6 327.4 940.2 324.7 941.8 327.3 943.4 326.5 944.9 325.8 946.5 323.7 948.1 323.3 949.7 314.9 951.3 320.4 952.9 323.8 954.5 325.3 956.1 326.9 957.6 328.4 959.2 333.8 960.8 325.3 962.4 338.3 964 341.5 965.6 339.9 967.2 324.9 968.8 340 970.3 313 971.9 339.9 973.5 341.7 975.1 342.3 976.7 342.7 978.3 340.7 979.9 342.2 981.4 346.5 983 344.6 984.6 343.3 986.2 341.2 987.8 342.4 989.4 340.6 991 332.2 992.6 337.6 994.1 332.9 995.7 333.8 997.3 334.1 998.9 327 1000.5 330.2 1002.1 330.7 1003.7 332.1 1005.3 335.1 1006.8 333.5 1008.4 337.8 1010 337 1011.6 339.9 1013.2 341.6 1014.8 342 1016.4 344.1 1017.9 346.6 1019.5 345.6 1021.1 345.1 1022.7 346.9 1024.3 315.8 1025.9 330.2 1027.5 327.7 1029.1 323 1030.6 321.9 1032.2 319.1 1033.8 313.4 1035.4 332.2 1037 338 1038.6 342.2 1040.2 348.9 1041.8 347.6 1043.3 347.4 1044.9 347.8 1046.5 347.6 1048.1 344.7 1049.7 347.7 1051.3 343.1 1052.9 345.9 1054.4 345.1 1056 346.8 1057.6 344.4 1059.2 347 1060.8 343.4 1062.4 344.4 1064 345.1 1065.6 346.5 1067.1 345.6 1068.7 348.2 1070.3 347.6 1071.9 347.4 1073.5 344.1 1075.1 347.8 1076.7 345.3 1078.3 348.1 1079.8 348.9 1081.4 347.2 1083 347 1084.6 343.5 1086.2 342.5 1087.8 338.9 1089.4 333.7 1090.9 333.3 1092.5 325.8 1094.1 303.7 1095.7 322 1097.3 320.4 1098.9 318.8 1100.5 316.3 1102.1 311.1 1103.6 279.2 1105.2 295.1 1106.8 287.2 1108.4 273.2 1110 271.5 1111.6 275 1113.2 278.6 1114.7 271 1116.3 292.9 1117.9 303.7 1119.5 316.5 1121.1 327.7 1122.7 333.5 1124.3 338.1 1125.9 340.8 1127.4 344.4 1129 343.1 1130.6 342.1 1132.2 340.7 1133.8 339.7 1135.4 331.5 1137 336.7 1138.6 340.8 1140.1 340.3 1141.7 338.7 1143.3 340.9 1144.9 340.9 1146.5 343.5 1148.1 342.9 1149.7 342 1151.2 342.2 1152.8 344.9 1154.4 344.7 1156 342.9 1157.6 344 1159.2 335.3 1160.8 343.9 1162.4 343.8 1163.9 343.5 1165.5 344.7 1167.1 343.9 1168.7 346 1170.3 344.9 1171.9 346.1 1173.5 348.1 1175.1 344.4 1176.6 348 1178.2 348.7 1179.8 347.7 1181.4 350.6 1183 349.1 1184.6 351.1 1186.2 349.7 1187.7 350.5 1189.3 348.5 1190.9 348.5 1192.5 349.1 1194.1 349.3 1195.7 350.6 1197.3 352.1 1198.9 350.1 1200.4 350.3 1202 351.2 1203.6 347.7 1205.2 339.6 1206.8 334 1208.4 308.9 1210 321.3 1211.6 326.5 1213.1 328.7 1214.7 330.1 1216.3 328.6 1217.9 286.3 1219.5 332.2 1221.1 335.6 1222.7 344.6 1224.2 346.7 1225.8 350.7 1227.4 352.6 1229 350.6 1230.6 350.5 1232.2 352.7 1233.8 350.1 1235.4 352 1236.9 352 1238.5 350.9 1240.1 352 1241.7 352.7 1243.3 352 1244.9 350.8 1246.5 351.6 1248.1 352.9 1249.6 352.8 1251.2 350.6 1252.8 351.8 1254.4 350.2 1256 349.9 1257.6 348.3 1259.2 342 1260.7 348.4 1262.3 345.7 1263.9 346.7 1265.5 347.6 1267.1 345 1268.7 344.4 1270.3 332.3 1271.9 341.2 1273.4 343.3 1275 347.8 1276.6 347.7 1278.2 347.6 1279.8 350 1281.4 349.9 1283 349.3 1284.5 349.8 1286.1 350.8 1287.7 350.4 1289.3 351.1 1290.9 349.5 1292.5 352.3 1294.1 351 1295.7 351.9 1297.2 352.4 1298.8 352.2 1300.4 348.4 1302 349.8 1303.6 350 1305.2 351.1 1306.8 353.2 1308.4 351.2 1309.9 350.4 1311.5 351.6 1313.1 350.8 1314.7 349.6 1316.3 350.1 1317.9 349.6 1319.5 350.7 1321 347.1 1322.6 350.8 1324.2 349.6 1325.8 351.2 1327.4 350.6 1329 349.8 1330.6 349.4 1332.2 350.6 1333.7 347.6 1335.3 350.8 1336.9 350.1 1338.5 351.4 1340.1 350.6 1341.7 349 1343.3 349.7 1344.9 350.5 1346.4 351 1348 349.8 1349.6 351.5 1351.2 349.1 1352.8 349.5 1354.4 350.4 1356 350.7 1357.5 350.8 1359.1 348.4 1360.7 343.2 1362.3 294.7 1363.9 311.6 1365.5 337 1367.1 341 1368.7 345.4 1370.2 347.8 1371.8 349.3 1373.4 351.1 1375 351.4 1376.6 349.7 1378.2 348.7 1379.8 347.3 1381.4 349.9 1382.9 350.8 1384.5 348.7 1386.1 349.5 1387.7 347.8 1389.3 350.2 1390.9 350.9 1392.5 349.5 1394 349.9 1395.6 348.5 1397.2 348.4 1398.8 347.6 1400.4 348.3 1402 347.5 1403.6 348.9 1405.2 348.9 1406.7 347.6 1408.3 347.7 1409.9 349 1411.5 347.9 1413.1 348.5 1414.7 347.3 1416.3 349.1 1417.9 345.2 1419.4 348.9 1421 346.7 1422.6 346.1 1424.2 348.2 1425.8 342 1427.4 337.9 1429 336.7 1430.5 306.9 1432.1 332.1 1433.7 337.3 1435.3 342.2 1436.9 342.9 1438.5 342.6 1440.1 342.8 1441.7 343.3 1443.2 342.1 1444.8 344.7 1446.4 345.1 1448 344.1 1449.6 344.4 1451.2 343.4 1452.8 344.2 1454.3 342.4 1455.9 338.9 1457.5 334.6 1459.1 328.2 1460.7 330.9 1462.3 331.7 1463.9 338.5 1465.5 339.2 1467 342.4 1468.6 343.7 1470.2 343.5 1471.8 343.5 1473.4 342.7 1475 344.9 1476.6 339.1 1478.2 329.4 1479.7 305.4 1481.3 331.6 1482.9 330.3 1484.5 338.3 1486.1 342.9 1487.7 342.9 1489.3 341 1490.8 343.6 1492.4 344 1494 343.5 1495.6 340.9 1497.2 343.6 1498.8 341.7 1500.4 343.3 1502 344.6 1503.5 344.5 1505.1 340.7 1506.7 342.2 1508.3 338.4 1509.9 333 1511.5 330.5 1513.1 315.7 1514.7 326.2 1516.2 327 1517.8 329.2 1519.4 325.1 1521 338.9 1522.6 342.6 1524.2 340.8 1525.8 341.4 1527.3 342.3 1528.9 339.5 1530.5 330.5 1532.1 336.7 1533.7 325.1 1535.3 334.5 1536.9 341.4 1538.5 313.8 1540 336.9 1541.6 332.7 1543.2 334 1544.8 332.7 1546.4 323.5 1548 331.7 1549.6 334.4 1551.2 332.2 1552.7 332.1 1554.3 328.5 1555.9 325.2 1557.5 324.7 1559.1 305.1 1560.7 322.8 1562.3 323.7 1563.8 330.3 1565.4 325.9 1567 324.9 1568.6 326.1 1570.2 329.1 1571.8 327.9 1573.4 328.8 1575 326.4 1576.5 329.7 1578.1 327.9 1579.7 325.9 1581.3 325.2 1582.9 325.3 1584.5 316.5 1586.1 329.3 1587.7 332.5 1589.2 335.3 1590.8 337.4 1592.4 337 1594 337.7 1595.6 337 1597.2 335.8 1598.8 335 1600.3 336.4 1601.9 335.3 1603.5 335.2 1605.1 335.8 1606.7 335.2 1608.3 334.7 1609.9 334.2 1611.5 333.6 1613 336.7 1614.6 332.9 1616.2 332.2 1617.8 333 1619.4 335.4 1621 334 1622.6 332.9 1624.1 333.9 1625.7 334.3 1627.3 334.5 1628.9 333 1630.5 334 1632.1 333.3 1633.7 334.6 1635.3 334.6 1636.8 332.4 1638.4 334.3 1640 325.1 1641.6 334.4 1643.2 334.2 1644.8 334.3 1646.4 333.8 1648 334.3 1649.5 333.8 1651.1 327.9 1652.7 334.2 1654.3 334.7 1655.9 331.3 1657.5 334.1 1659.1 334.1 1660.6 333.8 1662.2 333.5 1663.8 325.7 1665.4 329.8 1667 318.7 1668.6 330.5 1670.2 329.5 1671.8 332.7 1673.3 333 1674.9 324.5 1676.5 333.7 1678.1 333 1679.7 334.7 1681.3 335.9 1682.9 337 1684.5 334.5 1686 335.2 1687.6 334.7 1689.2 334.6 1690.8 333.5 1692.4 332 1694 330.7 1695.6 328.9 1697.1 321.3 1698.7 330.8 1700.3 330.5 1701.9 332.8 1703.5 334.4 1705.1 334 1706.7 334.7 1708.3 333.4 1709.8 335.2 1711.4 332.8 1713 333.3 1714.6 333.4 1716.2 334.7 1717.8 335 1719.4 334 1721 334.7 1722.5 333.9 1724.1 333.9 1725.7 334.9 1727.3 334.7 1728.9 333.8 1730.5 334.4 1732.1 333 1733.6 332.1 1735.2 333.2 1736.8 333.1 1738.4 332.7 1740 331.2 1741.6 332.4 1743.2 334.9 1744.8 333 1746.3 334 1747.9 333.2 1749.5 333.1 1751.1 333.7 1752.7 332.9 1754.3 332.4 1755.9 333.4 1757.5 333 1759 333 1760.6 332.6 1762.2 334.4 1763.8 333.9 1765.4 332.8 1767 331.6 1768.6 332.3 1770.1 326.9 1771.7 329.4 1773.3 330.3 1774.9 331.4 1776.5 332 1778.1 330.9 1779.7 330.8 1781.3 332.4 1782.8 330.7 1784.4 331.7 1786 331.6 1787.6 330.7 1789.2 330.3 1790.8 331.8 1792.4 331.3 1793.9 330.7 1795.5 331.6 1797.1 332.5 1798.7 331 1800.3 331.9 1801.9 330 1803.5 331.1 1805.1 331.1 1806.6 331.3 1808.2 330 1809.8 331.4 1811.4 332.7 1813 331.1 1814.6 332.4 1816.2 332.6 1817.8 330.5 1819.3 330.7 1820.9 331 1822.5 327.4 1824.1 322.5 1825.7 327.5 1827.3 329.3 1828.9 328.8 1830.4 330.2 1832 328.7 1833.6 327 1835.2 318.3 1836.8 327.8 1838.4 329 1840 330 1841.6 330.6 1843.1 330.5 1844.7 331 1846.3 332.4 1847.9 328 1849.5 322.3 1851.1 328.8 1852.7 327.2 1854.3 328.8 1855.8 329.5 1857.4 330.2 1859 329.1 1860.6 330 1862.2 330.3 1863.8 330.3 1865.4 331.7 1866.9 328.3 1868.5 330.1 1870.1 330.7 1871.7 330.4 1873.3 331.3 1874.9 332.8 1876.5 330.6 1878.1 331.7 1879.6 330.4 1881.2 331.5 1882.8 333.3 1884.4 333.6 1886 331.7 1887.6 331.6 1889.2 326.9 1890.8 326.2 1892.3 310.2 1893.9 323.7 1895.5 323.2 1897.1 326.4 1898.7 328 1900.3 321.8 1901.9 330.8 1903.4 331.8 1905 333.9 1906.6 335.3 1908.2 334.3 1909.8 333.5 1911.4 334.5 1913 333.8 1914.6 334.9 1916.1 334.3 1917.7 333.7 1919.3 333.5 1920.9 332.9 1922.5 333.8 1924.1 333.6 1925.7 334.6 1927.3 334 1928.8 332.6 1930.4 333.5 1932 332 1933.6 334.5 1935.2 334.3 1936.8 334 1938.4 334 1939.9 333.2 1941.5 333.7 1943.1 332.7 1944.7 333.7 1946.3 333.9 1947.9 333.4 1949.5 334.8 1951.1 334.4 1952.6 332.9 1954.2 335.3 1955.8 333.9 1957.4 334.5 1959 335.1 1960.6 334.5 1962.2 335.8 1963.8 335 1965.3 334.4 1966.9 335.5 1968.5 334.6 1970.1 335.1 1971.7 334.4 1973.3 335.4 1974.9 334.3 1976.4 335 1978 335 1979.6 334.9 1981.2 334.1 1982.8 334.5 1984.4 334.8 1986 334 1987.6 335.9 1989.1 334.7 1990.7 335.4 1992.3 334.8 1993.9 334.2 1995.5 334.3 1997.1 333.5 1998.7 334.9 2000.2 333.8 2001.8 334.5 2003.4 334.3 2005 334.8 2006.6 333.6 2008.2 334.3 2009.8 334.2 2011.4 334.3 2012.9 333.5 2014.5 334.6 2016.1 333.6 2017.7 334.2 2019.3 333.7 2020.9 334.3 2022.5 334.4 2024.1 334.4 2025.6 333.8 2027.2 333.8 2028.8 334.2 2030.4 335.5 2032 335.4 2033.6 333.9 2035.2 334.8 2036.7 334.3 2038.3 335.1 2039.9 334.8 2041.5 333.5 2043.1 333.6 2044.7 334 2046.3 334.4 2047.9 334.4 2049.4 334.8 2051 334.6 2052.6 335.4 2054.2 334.2 2055.8 334 2057.4 335.1 2059 334.6 2060.6 334.1 2062.1 336.1 2063.7 335.5 2065.3 334.7 2066.9 334.9 2068.5 335 2070.1 334 2071.7 335.6 2073.2 335.8 2074.8 334.9 2076.4 335.7 2078 335 2079.6 335.6 2081.2 335.7 2082.8 335.5 2084.4 335.2 2085.9 335.7 2087.5 335.1 2089.1 335.5 2090.7 334.6 2092.3 335 2093.9 334.4 2095.5 335.1 2097.1 335.4 2098.6 334.3 2100.2 335.5 2101.8 335.1 2103.4 335.9 2105 336.6 2106.6 335.4 2108.2 335.5 2109.7 335.1 2111.3 335.2 2112.9 336.3 2114.5 335.8 2116.1 336.4 2117.7 335.6 2119.3 336.5 2120.9 335.8 2122.4 335.5 2124 335.1 2125.6 335.3 2127.2 335.7 2128.8 334.4 2130.4 335.5 2132 335.2 2133.6 335.3 2135.1 336.1 2136.7 330.3 2138.3 311.2 2139.9 292 2141.5 252.8 2143.1 254.2 2144.7 242.5 2146.2 232.6 2147.8 243.4 2149.4 245 2151 255.9 2152.6 265.8 2154.2 289.9 2155.8 314.1 2157.4 319.9 2158.9 335.7 2160.5 334.4 2162.1 335.6 2163.7 335.2 2165.3 333.1 2166.9 335.6 2168.5 334.1 2170 336.4 2171.6 335.4 2173.2 336.1 2174.8 335.4 2176.4 334.9 2178 336.8 2179.6 336.8 2181.2 335.3 2182.7 336.7 2184.3 336.7 2185.9 335.4 2187.5 333.5 2189.1 335.6 2190.7 331.1 2192.3 332.4 2193.9 333.6 2195.4 334.8 2197 333.4 2198.6 335 2200.2 335.7 2201.8 333.1 2203.4 333.8 2205 318.3 2206.5 330.6 2208.1 333.7 2209.7 333.7 2211.3 333.4 2212.9 333.1 2214.5 334.6 2216.1 334.8 2217.7 316.6 2219.2 332.5 2220.8 333.5 2222.4 333 2224 332.8 2225.6 334 2227.2 333.6 2228.8 333.4 2230.4 331.2 2231.9 334.1 2233.5 334.1 2235.1 334.3 2236.7 335.4 2238.3 333.9 2239.9 332.1 2241.5 320.4 2243 330.4 2244.6 327.1 2246.2 323.6 2247.8 322.3 2249.4 312.7 2251 324.7 2252.6 325.5 2254.2 316.9 2255.7 327.3 2257.3 319.9 2258.9 325.9 2260.5 325.1 2262.1 318.4 2263.7 328.7 2265.3 333.9 2266.9 334.2 2268.4 335 2270 337.1 2271.6 335.8 2273.2 334.4 2274.8 334.5 2276.4 332.7 2278 329.1 2279.5 333.1 2281.1 334.2 2282.7 334.9 2284.3 336.4 2285.9 336.6 2287.5 337.5 2289.1 337 2290.7 336.1 2292.2 336.2 2293.8 336.9 2295.4 336 2297 337.2 2298.6 337.4 2300.2 337.6 2301.8 336.3 2303.4 337 2304.9 336.5 2306.5 338.3 2308.1 337.1 2309.7 336.6 2311.3 336.7 2312.9 336.2 2314.5 337.2 2316 336.3 2317.6 337.4 2319.2 338.2 2320.8 337.5 2322.4 337.3 2324 337.4 2325.6 336.8 2327.2 338.2 2328.7 338.1 2330.3 337.6 2331.9 336.9 2333.5 339 2335.1 338 2336.7 337.3 2338.3 338.9 2339.8 337.9 2341.4 337.7" stroke="#da70d6" stroke-width="1.3" fill="none" stroke-linejoin="round"/>
<path d="M59.5 469.3 61 476 62.6 473.2 64.2 445.9 65.8 457 67.4 435.7 69 464.1 70.6 463.3 72.1 464.5 73.7 476.9 75.3 474.8 76.9 474.3 78.5 446.2 80.1 475.1 81.7 473 83.3 472.5 84.8 462.1 86.4 440.6 88 411.2 89.6 462.1 91.2 454.1 92.8 469.6 94.4 450.6 95.9 451.2 97.5 406 99.1 445 100.7 452.1 102.3 458.2 103.9 475.6 105.5 478 107.1 468.5 108.6 472.1 110.2 474.8 111.8 479.2 113.4 472.4 115 481.9 116.6 478.4 118.2 477.9 119.8 467.1 121.3 474.3 122.9 477.5 124.5 472.7 126.1 453.2 127.7 471.4 129.3 467.5 130.9 471.2 132.4 453.3 134 464.8 135.6 472.1 137.2 472.3 138.8 472.6 140.4 466.3 142 464.6 143.6 465.4 145.1 462.9 146.7 440.8 148.3 463.5 149.9 461.7 151.5 462.2 153.1 464.4 154.7 462.4 156.3 461 157.8 462.1 159.4 448.4 161 460.3 162.6 462 164.2 464 165.8 435 167.4 458.4 168.9 460.2 170.5 468.1 172.1 463.1 173.7 457.2 175.3 429.2 176.9 441.6 178.5 456.6 180.1 468 181.6 466.7 183.2 463.2 184.8 471.5 186.4 469.8 188 471.2 189.6 466 191.2 462.5 192.8 458.8 194.3 452.6 195.9 455.4 197.5 460.5 199.1 462.2 200.7 462.7 202.3 447.4 203.9 453.8 205.4 451.4 207 451.5 208.6 446.5 210.2 420.2 211.8 436.3 213.4 449.7 215 453.3 216.6 443.8 218.1 464.7 219.7 467.2 221.3 473 222.9 466.4 224.5 458.1 226.1 468.8 227.7 466.9 229.3 439.6 230.8 465.8 232.4 462.6 234 458.4 235.6 462.2 237.2 462.5 238.8 467.9 240.4 451.2 241.9 471.4 243.5 463.7 245.1 474.1 246.7 410.3 248.3 439.6 249.9 465.2 251.5 459.2 253.1 462.9 254.6 439.4 256.2 465.1 257.8 454.3 259.4 464.7 261 464.5 262.6 463.9 264.2 454.4 265.7 452.1 267.3 455.8 268.9 435.7 270.5 459.4 272.1 453.5 273.7 457.6 275.3 455.6 276.9 466.2 278.4 462.8 280 454.6 281.6 453.7 283.2 454.9 284.8 447.4 286.4 432.5 288 412.5 289.6 444.5 291.1 444.6 292.7 453.1 294.3 455.9 295.9 458.9 297.5 455.5 299.1 457.8 300.7 460 302.2 435.6 303.8 463.6 305.4 460 307 462.9 308.6 458.4 310.2 454.1 311.8 442.7 313.4 454.8 314.9 446.3 316.5 451 318.1 453.6 319.7 449.7 321.3 458.7 322.9 449.7 324.5 434.4 326.1 455.9 327.6 453.6 329.2 425.4 330.8 461.9 332.4 465.6 334 466.7 335.6 462.2 337.2 464.3 338.7 457.9 340.3 462.2 341.9 448.9 343.5 460 345.1 465.3 346.7 412.7 348.3 462.4 349.9 453.1 351.4 451.7 353 457.3 354.6 453.2 356.2 451.4 357.8 451.9 359.4 439.6 361 449 362.6 445.9 364.1 463.8 365.7 459.1 367.3 459.7 368.9 456.7 370.5 445.2 372.1 445.9 373.7 451.3 375.2 453 376.8 443.2 378.4 452.8 380 435.1 381.6 448.7 383.2 448.1 384.8 445 386.4 417.1 387.9 446.6 389.5 450.3 391.1 430.5 392.7 452.5 394.3 461 395.9 463.2 397.5 464.6 399.1 459.1 400.6 467.9 402.2 465.3 403.8 465.9 405.4 449 407 465.7 408.6 470.6 410.2 466.3 411.7 453 413.3 462.9 414.9 468.7 416.5 466.6 418.1 462.1 419.7 462.4 421.3 453.7 422.9 462.6 424.4 464.7 426 454.1 427.6 461.8 429.2 437.4 430.8 464.4 432.4 472.8 434 469.8 435.5 469.3 437.1 470.8 438.7 416.4 440.3 465.9 441.9 430.5 443.5 455.9 445.1 467.7 446.7 464.8 448.2 467.9 449.8 461.5 451.4 463.3 453 458.1 454.6 460.5 456.2 448.5 457.8 434.4 459.4 454.5 460.9 461.2 462.5 460.9 464.1 468.4 465.7 463.5 467.3 458.7 468.9 450.6 470.5 438.7 472 462.9 473.6 459.3 475.2 462.7 476.8 458.8 478.4 467.5 480 453.4 481.6 459.1 483.2 443.8 484.7 465.1 486.3 459.1 487.9 454.3 489.5 458 491.1 456.2 492.7 449.9 494.3 457 495.9 456.2 497.4 453.4 499 435.7 500.6 448.5 502.2 401.5 503.8 444 505.4 459 507 451.5 508.5 460.9 510.1 457.3 511.7 445.4 513.3 445.6 514.9 444.3 516.5 443.4 518.1 436.9 519.7 441.8 521.2 439.5 522.8 422.2 524.4 385.3 526 437.4 527.6 434.1 529.2 448.7 530.8 449.3 532.4 449.8 533.9 445.4 535.5 433.1 537.1 450.4 538.7 453.1 540.3 455 541.9 450.8 543.5 423 545 445.4 546.6 373.7 548.2 435.5 549.8 429.6 551.4 440.6 553 446.6 554.6 451.1 556.2 446.8 557.7 446 559.3 444.9 560.9 444.2 562.5 443.8 564.1 448.2 565.7 445 567.3 440.8 568.9 446 570.4 436.6 572 435.9 573.6 404.7 575.2 427.7 576.8 431.8 578.4 365.7 580 433.4 581.5 431.9 583.1 433.1 584.7 435 586.3 432.5 587.9 432.6 589.5 430.5 591.1 426.9 592.7 421.7 594.2 419.1 595.8 429.6 597.4 423.3 599 434 600.6 432.9 602.2 429.8 603.8 436.2 605.3 432.7 606.9 411.2 608.5 412.8 610.1 435.2 611.7 439 613.3 433.1 614.9 435.6 616.5 432.3 618 411.2 619.6 438.6 621.2 439.4 622.8 432.9 624.4 438.9 626 434.6 627.6 437.2 629.2 407.3 630.7 365.5 632.3 434.6 633.9 395.8 635.5 406.8 637.1 434.3 638.7 411.8 640.3 430.6 641.8 429.4 643.4 418.9 645 424.7 646.6 389.2 648.2 424.2 649.8 437.6 651.4 443.3 653 427.5 654.5 439.7 656.1 435.7 657.7 429.4 659.3 422.9 660.9 429.8 662.5 434.1 664.1 428 665.7 424.8 667.2 427.5 668.8 420.7 670.4 425.1 672 403.7 673.6 432.1 675.2 437.7 676.8 435.9 678.3 434.4 679.9 415.1 681.5 418.8 683.1 396.1 684.7 402.2 686.3 406.6 687.9 401.8 689.5 401 691 396.7 692.6 405.5 694.2 408.4 695.8 391 697.4 380.4 699 376 700.6 370.5 702.2 364.3 703.7 356 705.3 348.7 706.9 337.6 708.5 356.9 710.1 365.1 711.7 379 713.3 381.4 714.8 389 716.4 402.3 718 401.7 719.6 393.1 721.2 385.2 722.8 347.5 724.4 359.1 726 353.4 727.5 351.5 729.1 332.6 730.7 368 732.3 368.4 733.9 359 735.5 385.5 737.1 387.4 738.7 388.6 740.2 382 741.8 392.2 743.4 391.4 745 393.9 746.6 402.6 748.2 404.1 749.8 397.7 751.3 393.5 752.9 340.1 754.5 371.6 756.1 361.3 757.7 370.1 759.3 362.4 760.9 369.4 762.5 367.6 764 376.5 765.6 376.6 767.2 365.2 768.8 369.2 770.4 351.5 772 371.7 773.6 367.8 775.1 370.1 776.7 368.9 778.3 368 779.9 368 781.5 366.8 783.1 366.2 784.7 376.2 786.3 361.2 787.8 362.9 789.4 368.6 791 346.7 792.6 367.9 794.2 365.5 795.8 361.3 797.4 339.2 799 370.9 800.5 374.3 802.1 381.4 803.7 397.7 805.3 412.2 806.9 420.3 808.5 429.1 810.1 439 811.6 425.8 813.2 415 814.8 392.4 816.4 382.4 818 374.4 819.6 371.8 821.2 372.1 822.8 371.1 824.3 367.8 825.9 376.6 827.5 364 829.1 378.4 830.7 385 832.3 387.2 833.9 384.8 835.5 377.4 837 349.6 838.6 377.6 840.2 367.9 841.8 370.5 843.4 371.7 845 369.8 846.6 370.1 848.1 377.9 849.7 371.6 851.3 370.6 852.9 365.1 854.5 366.1 856.1 370.4 857.7 373.5 859.3 387 860.8 397.1 862.4 412 864 422.8 865.6 430.6 867.2 449 868.8 454.4 870.4 451.4 872 449.8 873.5 452.1 875.1 445 876.7 440.2 878.3 424.7 879.9 366 881.5 426.4 883.1 427.5 884.6 438.6 886.2 449.8 887.8 449.5 889.4 442.9 891 454.1 892.6 448.5 894.2 451.7 895.8 454.1 897.3 454.4 898.9 455.4 900.5 454.6 902.1 450.6 903.7 452.9 905.3 454.8 906.9 452.3 908.5 452 910 448.5 911.6 450.3 913.2 450.9 914.8 445.5 916.4 451.8 918 449 919.6 450 921.1 441.8 922.7 433.4 924.3 425 925.9 412.1 927.5 419 929.1 410.8 930.7 398.4 932.3 416.1 933.8 402.7 935.4 392.2 937 385.3 938.6 369.7 940.2 367.3 941.8 355.8 943.4 356.7 944.9 340.6 946.5 359.9 948.1 357.5 949.7 345.3 951.3 364.4 952.9 358.7 954.5 367.7 956.1 372.7 957.6 386.5 959.2 387.3 960.8 395.2 962.4 395.9 964 407.6 965.6 410.3 967.2 407.6 968.8 416.6 970.3 406.3 971.9 399.8 973.5 405.3 975.1 413.8 976.7 385.6 978.3 426.1 979.9 403.3 981.4 433.4 983 439 984.6 442.3 986.2 426.1 987.8 420.9 989.4 382.7 991 388.1 992.6 377.8 994.1 368.8 995.7 372.4 997.3 360.5 998.9 371.3 1000.5 365.8 1002.1 372.7 1003.7 365.1 1005.3 369.5 1006.8 382 1008.4 390 1010 395.6 1011.6 409.5 1013.2 423.4 1014.8 421.4 1016.4 433.2 1017.9 414.4 1019.5 430.8 1021.1 429.6 1022.7 438.9 1024.3 427.4 1025.9 419.4 1027.5 409.9 1029.1 377.6 1030.6 404.6 1032.2 408.5 1033.8 408.7 1035.4 419.7 1037 426.6 1038.6 438.9 1040.2 440.3 1041.8 404.9 1043.3 439.2 1044.9 391.6 1046.5 438.7 1048.1 446.1 1049.7 434.1 1051.3 436.6 1052.9 436 1054.4 420.8 1056 399.5 1057.6 387.1 1059.2 434.9 1060.8 410.7 1062.4 409.9 1064 435.7 1065.6 429.3 1067.1 428.5 1068.7 429.6 1070.3 435.9 1071.9 434.7 1073.5 439.5 1075.1 437 1076.7 434.2 1078.3 436.5 1079.8 443.2 1081.4 438.5 1083 443.5 1084.6 423.6 1086.2 425.6 1087.8 424.3 1089.4 421.3 1090.9 428.8 1092.5 392.8 1094.1 404.2 1095.7 412.9 1097.3 404.6 1098.9 402.1 1100.5 409.9 1102.1 376.6 1103.6 390.2 1105.2 351.6 1106.8 378.9 1108.4 373.4 1110 360.7 1111.6 359.1 1113.2 379.2 1114.7 370 1116.3 398.3 1117.9 404.2 1119.5 407.6 1121.1 424.3 1122.7 417.3 1124.3 370.3 1125.9 408.8 1127.4 408.6 1129 412.6 1130.6 411.2 1132.2 412.4 1133.8 411.6 1135.4 410.8 1137 414.5 1138.6 410.9 1140.1 381.8 1141.7 408.6 1143.3 385.1 1144.9 404.5 1146.5 407.6 1148.1 407.3 1149.7 413.5 1151.2 407.8 1152.8 403.5 1154.4 404.2 1156 409.1 1157.6 411.6 1159.2 411.7 1160.8 410.7 1162.4 408 1163.9 407.1 1165.5 399.8 1167.1 418.6 1168.7 420.2 1170.3 423.2 1171.9 423.1 1173.5 418 1175.1 425.5 1176.6 440.6 1178.2 439.3 1179.8 444.8 1181.4 449.4 1183 448.2 1184.6 456.4 1186.2 458.7 1187.7 456.9 1189.3 464.1 1190.9 457.9 1192.5 462.5 1194.1 460.2 1195.7 454.4 1197.3 455.7 1198.9 455.4 1200.4 454.5 1202 455.6 1203.6 452 1205.2 441.5 1206.8 425.8 1208.4 394.4 1210 415.4 1211.6 414.9 1213.1 429.5 1214.7 424.4 1216.3 427.8 1217.9 393.1 1219.5 440.5 1221.1 440.3 1222.7 455.4 1224.2 464 1225.8 463.4 1227.4 460.7 1229 465.2 1230.6 457.5 1232.2 469.5 1233.8 466.2 1235.4 471.6 1236.9 470.9 1238.5 471.7 1240.1 467.8 1241.7 470 1243.3 469.9 1244.9 474.1 1246.5 471.9 1248.1 468.9 1249.6 469.5 1251.2 465.8 1252.8 465.4 1254.4 438 1256 461.5 1257.6 450.2 1259.2 447.7 1260.7 417.6 1262.3 448.5 1263.9 451.2 1265.5 445.8 1267.1 450.7 1268.7 443.9 1270.3 444.1 1271.9 429.2 1273.4 444.1 1275 459.7 1276.6 459.9 1278.2 456.6 1279.8 457 1281.4 460.2 1283 428.5 1284.5 462.9 1286.1 468.6 1287.7 466.2 1289.3 443 1290.9 470.2 1292.5 473.4 1294.1 469.3 1295.7 468.7 1297.2 467.4 1298.8 462.9 1300.4 462.8 1302 456.9 1303.6 461.9 1305.2 464.2 1306.8 464.4 1308.4 466.4 1309.9 469.5 1311.5 464.2 1313.1 468.5 1314.7 463.7 1316.3 468.4 1317.9 461.1 1319.5 463.9 1321 465.9 1322.6 465.4 1324.2 452.6 1325.8 458.4 1327.4 467.4 1329 469.2 1330.6 465 1332.2 458.9 1333.7 463 1335.3 460.2 1336.9 465.4 1338.5 464.6 1340.1 468.9 1341.7 465.3 1343.3 466.4 1344.9 470.6 1346.4 460.4 1348 451.2 1349.6 466.1 1351.2 470.2 1352.8 466.7 1354.4 465.1 1356 466.4 1357.5 460.4 1359.1 456.1 1360.7 453.4 1362.3 408.6 1363.9 450.3 1365.5 446.4 1367.1 452.8 1368.7 465.5 1370.2 465 1371.8 461.7 1373.4 469.1 1375 467.4 1376.6 465.9 1378.2 463.6 1379.8 461.8 1381.4 460.2 1382.9 463.9 1384.5 462.5 1386.1 462.1 1387.7 463.6 1389.3 460.4 1390.9 458.2 1392.5 455.9 1394 457.6 1395.6 457.4 1397.2 458.6 1398.8 463.5 1400.4 462.3 1402 461.8 1403.6 457.6 1405.2 461.1 1406.7 454.9 1408.3 453.6 1409.9 461.4 1411.5 459.5 1413.1 460 1414.7 464.8 1416.3 453.1 1417.9 448.8 1419.4 468.4 1421 444.6 1422.6 472.2 1424.2 466.8 1425.8 453.1 1427.4 450.6 1429 400.8 1430.5 436.3 1432.1 435.5 1433.7 411.2 1435.3 453.7 1436.9 444.9 1438.5 442.7 1440.1 437.3 1441.7 450.3 1443.2 439.4 1444.8 412.7 1446.4 435 1448 437.3 1449.6 449.6 1451.2 450.7 1452.8 441.2 1454.3 437.1 1455.9 446.9 1457.5 436.4 1459.1 400.8 1460.7 425.6 1462.3 433.4 1463.9 436.7 1465.5 440.1 1467 445.8 1468.6 457.1 1470.2 438.3 1471.8 461.7 1473.4 456.4 1475 451.6 1476.6 400.3 1478.2 425.8 1479.7 382.8 1481.3 439.4 1482.9 432.7 1484.5 449.6 1486.1 397.4 1487.7 465.7 1489.3 460.6 1490.8 467.6 1492.4 456.5 1494 458.5 1495.6 455 1497.2 451.3 1498.8 465.9 1500.4 462.3 1502 450.9 1503.5 475.3 1505.1 465.1 1506.7 446.7 1508.3 440.4 1509.9 389.2 1511.5 404.6 1513.1 395 1514.7 376.3 1516.2 411.4 1517.8 426.5 1519.4 429.2 1521 444.9 1522.6 454.5 1524.2 436.4 1525.8 467.4 1527.3 457.2 1528.9 463.2 1530.5 463.4 1532.1 460.8 1533.7 450.5 1535.3 449 1536.9 444.2 1538.5 371.6 1540 394.4 1541.6 398.8 1543.2 425.4 1544.8 424.7 1546.4 425.2 1548 417.5 1549.6 422.9 1551.2 434.1 1552.7 429.3 1554.3 422.8 1555.9 411.5 1557.5 417.8 1559.1 371.1 1560.7 405.2 1562.3 389.8 1563.8 421.1 1565.4 408.7 1567 348.1 1568.6 419.2 1570.2 355.7 1571.8 427.1 1573.4 440.4 1575 439.3 1576.5 435.8 1578.1 440 1579.7 437.2 1581.3 439 1582.9 419.3 1584.5 371.1 1586.1 426.4 1587.7 422.7 1589.2 425.9 1590.8 421.8 1592.4 419.9 1594 405.2 1595.6 420.2 1597.2 414.2 1598.8 415.1 1600.3 410.2 1601.9 411.9 1603.5 406.4 1605.1 413.8 1606.7 410.4 1608.3 415 1609.9 381.2 1611.5 412.1 1613 402 1614.6 410.2 1616.2 414.2 1617.8 409.1 1619.4 406.4 1621 406.1 1622.6 405.7 1624.1 411.2 1625.7 404.6 1627.3 401.8 1628.9 406.3 1630.5 397.2 1632.1 412.1 1633.7 411.6 1635.3 412.8 1636.8 397.6 1638.4 407.5 1640 411 1641.6 414.4 1643.2 413.9 1644.8 419.4 1646.4 418 1648 425.2 1649.5 433.1 1651.1 434.5 1652.7 432.8 1654.3 423.4 1655.9 436.2 1657.5 431.8 1659.1 429.8 1660.6 427.5 1662.2 422.1 1663.8 424.9 1665.4 417.8 1667 402.1 1668.6 421.7 1670.2 422.2 1671.8 423.2 1673.3 423.1 1674.9 376.3 1676.5 430.5 1678.1 435.5 1679.7 442.5 1681.3 444.4 1682.9 439.5 1684.5 443.9 1686 445.5 1687.6 445 1689.2 443.6 1690.8 435 1692.4 432.7 1694 429.2 1695.6 427.2 1697.1 404.7 1698.7 421.7 1700.3 421.9 1701.9 434.2 1703.5 424.5 1705.1 427.6 1706.7 420.3 1708.3 411.6 1709.8 429.1 1711.4 422.7 1713 427.7 1714.6 428.3 1716.2 432.8 1717.8 436.2 1719.4 440.3 1721 436.7 1722.5 438.5 1724.1 432.9 1725.7 436 1727.3 421.4 1728.9 428.8 1730.5 424.2 1732.1 423.1 1733.6 417.1 1735.2 428.1 1736.8 425.7 1738.4 394.4 1740 423.8 1741.6 431 1743.2 424.4 1744.8 425.7 1746.3 387.4 1747.9 421.7 1749.5 425.8 1751.1 427.1 1752.7 412.6 1754.3 419.4 1755.9 429.9 1757.5 432.8 1759 426.4 1760.6 423.2 1762.2 428.9 1763.8 430.5 1765.4 418.1 1767 418.9 1768.6 415.4 1770.1 393.1 1771.7 402.7 1773.3 394.2 1774.9 412.5 1776.5 414.2 1778.1 413.5 1779.7 412.5 1781.3 414.4 1782.8 416.8 1784.4 413.8 1786 414.9 1787.6 408 1789.2 380.7 1790.8 409.6 1792.4 407.9 1793.9 407.4 1795.5 412.5 1797.1 408.1 1798.7 408.1 1800.3 412.7 1801.9 419.5 1803.5 400 1805.1 419 1806.6 409.3 1808.2 413.1 1809.8 384.5 1811.4 403 1813 410.4 1814.6 409 1816.2 410.1 1817.8 418 1819.3 412.3 1820.9 400.5 1822.5 393.6 1824.1 364.7 1825.7 394.8 1827.3 397.5 1828.9 403.5 1830.4 406 1832 413.5 1833.6 409.7 1835.2 409.9 1836.8 412.3 1838.4 411.4 1840 384 1841.6 408.5 1843.1 403.1 1844.7 409.1 1846.3 416.4 1847.9 409.6 1849.5 397 1851.1 409.6 1852.7 406.4 1854.3 410.3 1855.8 417.7 1857.4 414.9 1859 413.6 1860.6 412.7 1862.2 411.4 1863.8 415 1865.4 413.9 1866.9 412.9 1868.5 417.2 1870.1 413.5 1871.7 408.6 1873.3 412.6 1874.9 412.4 1876.5 408.7 1878.1 408.8 1879.6 416.9 1881.2 411.7 1882.8 390.6 1884.4 425.2 1886 437.9 1887.6 430.4 1889.2 421.8 1890.8 415.9 1892.3 377.6 1893.9 406.4 1895.5 407.7 1897.1 393.1 1898.7 419.5 1900.3 423.6 1901.9 433.4 1903.4 447.2 1905 452.9 1906.6 450.8 1908.2 447.2 1909.8 446.6 1911.4 449 1913 445.8 1914.6 443.7 1916.1 442.9 1917.7 442.9 1919.3 440.3 1920.9 441.7 1922.5 438 1924.1 439.7 1925.7 431.6 1927.3 440 1928.8 436.9 1930.4 435.3 1932 439 1933.6 425.6 1935.2 439.8 1936.8 445.7 1938.4 424.8 1939.9 445.3 1941.5 444.5 1943.1 433.7 1944.7 442.5 1946.3 450.2 1947.9 455.3 1949.5 458.5 1951.1 462.8 1952.6 461.7 1954.2 460.7 1955.8 460 1957.4 462.6 1959 464.7 1960.6 462.2 1962.2 465.9 1963.8 464.1 1965.3 460.7 1966.9 459.8 1968.5 458.8 1970.1 461.6 1971.7 446.3 1973.3 460.6 1974.9 455.4 1976.4 453.1 1978 456.1 1979.6 458 1981.2 457 1982.8 452.8 1984.4 452.2 1986 454 1987.6 452.2 1989.1 450.6 1990.7 449.8 1992.3 451.1 1993.9 450.4 1995.5 444.1 1997.1 450.8 1998.7 427.5 2000.2 447.7 2001.8 446.5 2003.4 444.6 2005 445.9 2006.6 446.2 2008.2 445.9 2009.8 448.4 2011.4 434.7 2012.9 444.9 2014.5 438.4 2016.1 445.4 2017.7 443.7 2019.3 447.6 2020.9 449.3 2022.5 451.1 2024.1 448.9 2025.6 447.4 2027.2 449.1 2028.8 450.5 2030.4 448.7 2032 453.4 2033.6 447.5 2035.2 447.7 2036.7 444.1 2038.3 445.1 2039.9 441.5 2041.5 440.9 2043.1 443 2044.7 439.8 2046.3 440.8 2047.9 440.9 2049.4 440.6 2051 440.9 2052.6 442.2 2054.2 448 2055.8 449.2 2057.4 452.1 2059 449.4 2060.6 454.4 2062.1 453.3 2063.7 457.7 2065.3 461.4 2066.9 467.9 2068.5 469.6 2070.1 470.9 2071.7 474.3 2073.2 469 2074.8 476.2 2076.4 474.6 2078 479.3 2079.6 475.9 2081.2 475.4 2082.8 470.3 2084.4 476.2 2085.9 477.4 2087.5 474 2089.1 476.4 2090.7 479.3 2092.3 477.6 2093.9 476.6 2095.5 467.7 2097.1 478.3 2098.6 475 2100.2 472.2 2101.8 475.9 2103.4 470.9 2105 473.1 2106.6 472.3 2108.2 468.6 2109.7 473.4 2111.3 471.4 2112.9 465.3 2114.5 474 2116.1 477.1 2117.7 476.4 2119.3 479.8 2120.9 479.7 2122.4 478.6 2124 480.8 2125.6 478 2127.2 474.8 2128.8 476.2 2130.4 473.5 2132 476.7 2133.6 469.6 2135.1 471.4 2136.7 462.9 2138.3 440.3 2139.9 398.6 2141.5 353.1 2143.1 368.6 2144.7 373.1 2146.2 323.4 2147.8 390.1 2149.4 322.8 2151 399.6 2152.6 427.7 2154.2 443.3 2155.8 456.6 2157.4 472.5 2158.9 466 2160.5 472.4 2162.1 446.6 2163.7 472.7 2165.3 483.5 2166.9 476.8 2168.5 471.7 2170 467.8 2171.6 466.7 2173.2 467.7 2174.8 464.1 2176.4 412.5 2178 455 2179.6 455.6 2181.2 461.7 2182.7 463.8 2184.3 463 2185.9 463.4 2187.5 470.8 2189.1 472.4 2190.7 468.6 2192.3 458.8 2193.9 468.3 2195.4 473.7 2197 474.9 2198.6 471.4 2200.2 469.7 2201.8 458.5 2203.4 458.8 2205 460.7 2206.5 438.3 2208.1 465.2 2209.7 466.6 2211.3 459.9 2212.9 461.3 2214.5 436 2216.1 456 2217.7 449.5 2219.2 453.3 2220.8 443.8 2222.4 452.9 2224 454.5 2225.6 457.9 2227.2 452.8 2228.8 458.1 2230.4 440.6 2231.9 442.3 2233.5 429.9 2235.1 451.6 2236.7 444.6 2238.3 450.6 2239.9 448.6 2241.5 450.2 2243 419.4 2244.6 420.4 2246.2 443.5 2247.8 416.3 2249.4 446.6 2251 458 2252.6 457.2 2254.2 457.3 2255.7 447.5 2257.3 451.6 2258.9 456.5 2260.5 432.3 2262.1 460.3 2263.7 463.5 2265.3 452.9 2266.9 467.4 2268.4 467.7 2270 457.2 2271.6 459.9 2273.2 466 2274.8 470.7 2276.4 463.1 2278 464.3 2279.5 446 2281.1 437 2282.7 456.3 2284.3 458.5 2285.9 463 2287.5 463.4 2289.1 461.7 2290.7 469.1 2292.2 458.2 2293.8 466.2 2295.4 469 2297 465.5 2298.6 464.9 2300.2 469.4 2301.8 472.8 2303.4 472 2304.9 463.7 2306.5 467.4 2308.1 470.1 2309.7 459.7 2311.3 428 2312.9 460.6 2314.5 422.4 2316 471.8 2317.6 467.7 2319.2 472.1 2320.8 452.6 2322.4 465.3 2324 464.2 2325.6 468 2327.2 468.9 2328.7 476.4 2330.3 464.1 2331.9 462.3 2333.5 459.9 2335.1 468 2336.7 452.9 2338.3 476.7 2339.8 471.3 2341.4 474.1" stroke="#9acd32" stroke-width="1.3" fill="none" stroke-linejoin="round"/>
</g>
<rect x="59.5" y="84.5" width="2284.0" height="504.0" fill="none" stroke="#000" stroke-width="1.4"/>
<path d="M59.5 588.5h-7M2343.5 588.5h7M59.5 570.5h-3.5M2343.5 570.5h3.5M59.5 552.5h-3.5M2343.5 552.5h3.5M59.5 534.5h-3.5M2343.5 534.5h3.5M59.5 516.5h-7M2343.5 516.5h7M59.5 498.5h-3.5M2343.5 498.5h3.5M59.5 480.5h-3.5M2343.5 480.5h3.5M59.5 462.5h-3.5M2343.5 462.5h3.5M59.5 444.5h-7M2343.5 444.5h7M59.5 426.5h-3.5M2343.5 426.5h3.5M59.5 408.5h-3.5M2343.5 408.5h3.5M59.5 390.5h-3.5M2343.5 390.5h3.5M59.5 372.5h-7M2343.5 372.5h7M59.5 354.5h-3.5M2343.5 354.5h3.5M59.5 336.5h-3.5M2343.5 336.5h3.5M59.5 318.5h-3.5M2343.5 318.5h3.5M59.5 300.5h-7M2343.5 300.5h7M59.5 282.5h-3.5M2343.5 282.5h3.5M59.5 264.5h-3.5M2343.5 264.5h3.5M59.5 246.5h-3.5M2343.5 246.5h3.5M59.5 228.5h-7M2343.5 228.5h7M59.5 210.5h-3.5M2343.5 210.5h3.5M59.5 192.5h-3.5M2343.5 192.5h3.5M59.5 174.5h-3.5M2343.5 174.5h3.5M59.5 156.5h-7M2343.5 156.5h7M59.5 138.5h-3.5M2343.5 138.5h3.5M59.5 120.5h-3.5M2343.5 120.5h3.5M59.5 102.5h-3.5M2343.5 102.5h3.5M59.5 84.5h-7M2343.5 84.5h7M59.5 588.5v7M107.5 588.5v3.5M154.5 588.5v3.5M202.5 588.5v3.5M249.5 588.5v7M297.5 588.5v3.5M345.5 588.5v3.5M392.5 588.5v3.5M440.5 588.5v7M487.5 588.5v3.5M535.5 588.5v3.5M583.5 588.5v3.5M630.5 588.5v7M678.5 588.5v3.5M725.5 588.5v3.5M773.5 588.5v3.5M821.5 588.5v7M868.5 588.5v3.5M916.5 588.5v3.5M963.5 588.5v3.5M1011.5 588.5v7M1059.5 588.5v3.5M1106.5 588.5v3.5M1154.5 588.5v3.5M1202.5 588.5v7M1249.5 588.5v3.5M1297.5 588.5v3.5M1344.5 588.5v3.5M1392.5 588.5v7M1440.5 588.5v3.5M1487.5 588.5v3.5M1535.5 588.5v3.5M1582.5 588.5v7M1630.5 588.5v3.5M1678.5 588.5v3.5M1725.5 588.5v3.5M1773.5 588.5v7M1820.5 588.5v3.5M1868.5 588.5v3.5M1916.5 588.5v3.5M1963.5 588.5v7M2011.5 588.5v3.5M2058.5 588.5v3.5M2106.5 588.5v3.5M2154.5 588.5v7M2201.5 588.5v3.5M2249.5 588.5v3.5M2297.5 588.5v3.5" stroke="#000" stroke-width="1.1" fill="none"/>
<text x="46.5" y="591.2" font-size="9.4" text-anchor="end" font-weight="normal" textLength="9.7" lengthAdjust="spacingAndGlyphs">24</text>
<text x="2355.2" y="591.2" font-size="9.4" text-anchor="start" font-weight="normal" textLength="9.7" lengthAdjust="spacingAndGlyphs">24</text>
<text x="46.5" y="519.2" font-size="9.4" text-anchor="end" font-weight="normal" textLength="9.7" lengthAdjust="spacingAndGlyphs">36</text>
<text x="2355.2" y="519.2" font-size="9.4" text-anchor="start" font-weight="normal" textLength="9.7" lengthAdjust="spacingAndGlyphs">36</text>
<text x="46.5" y="447.2" font-size="9.4" text-anchor="end" font-weight="normal" textLength="9.7" lengthAdjust="spacingAndGlyphs">48</text>
<text x="2355.2" y="447.2" font-size="9.4" text-anchor="start" font-weight="normal" textLength="9.7" lengthAdjust="spacingAndGlyphs">48</text>
<text x="46.5" y="375.2" font-size="9.4" text-anchor="end" font-weight="normal" textLength="9.7" lengthAdjust="spacingAndGlyphs">60</text>
<text x="2355.2" y="375.2" font-size="9.4" text-anchor="start" font-weight="normal" textLength="9.7" lengthAdjust="spacingAndGlyphs">60</text>
<text x="46.5" y="303.2" font-size="9.4" text-anchor="end" font-weight="normal" textLength="9.7" lengthAdjust="spacingAndGlyphs">72</text>
<text x="2355.2" y="303.2" font-size="9.4" text-anchor="start" font-weight="normal" textLength="9.7" lengthAdjust="spacingAndGlyphs">72</text>
<text x="46.5" y="231.2" font-size="9.4" text-anchor="end" font-weight="normal" textLength="9.7" lengthAdjust="spacingAndGlyphs">84</text>
<text x="2355.2" y="231.2" font-size="9.4" text-anchor="start" font-weight="normal" textLength="9.7" lengthAdjust="spacingAndGlyphs">84</text>
<text x="46.5" y="159.2" font-size="9.4" text-anchor="end" font-weight="normal" textLength="9.7" lengthAdjust="spacingAndGlyphs">96</text>
<text x="2355.2" y="159.2" font-size="9.4" text-anchor="start" font-weight="normal" textLength="9.7" lengthAdjust="spacingAndGlyphs">96</text>
<text x="46.5" y="87.2" font-size="9.4" text-anchor="end" font-weight="normal" textLength="14.2" lengthAdjust="spacingAndGlyphs">108</text>
<text x="2355.2" y="87.2" font-size="9.4" text-anchor="start" font-weight="normal" textLength="14.2" lengthAdjust="spacingAndGlyphs">108</text>
<text x="59.3" y="607" font-size="9.4" text-anchor="middle" font-weight="normal" textLength="22.9" lengthAdjust="spacingAndGlyphs">00:00</text>
<text x="249.3" y="607" font-size="9.4" text-anchor="middle" font-weight="normal" textLength="22.9" lengthAdjust="spacingAndGlyphs">02:00</text>
<text x="440.3" y="607" font-size="9.4" text-anchor="middle" font-weight="normal" textLength="22.9" lengthAdjust="spacingAndGlyphs">04:00</text>
<text x="630.3" y="607" font-size="9.4" text-anchor="middle" font-weight="normal" textLength="22.9" lengthAdjust="spacingAndGlyphs">06:00</text>
<text x="821.3" y="607" font-size="9.4" text-anchor="middle" font-weight="normal" textLength="22.9" lengthAdjust="spacingAndGlyphs">08:00</text>
<text x="1011.3" y="607" font-size="9.4" text-anchor="middle" font-weight="normal" textLength="22.9" lengthAdjust="spacingAndGlyphs">10:00</text>
<text x="1202.3" y="607" font-size="9.4" text-anchor="middle" font-weight="normal" textLength="22.9" lengthAdjust="spacingAndGlyphs">12:00</text>
<text x="1392.3" y="607" font-size="9.4" text-anchor="middle" font-weight="normal" textLength="22.9" lengthAdjust="spacingAndGlyphs">14:00</text>
<text x="1582.3" y="607" font-size="9.4" text-anchor="middle" font-weight="normal" textLength="22.9" lengthAdjust="spacingAndGlyphs">16:00</text>
<text x="1773.3" y="607" font-size="9.4" text-anchor="middle" font-weight="normal" textLength="22.9" lengthAdjust="spacingAndGlyphs">18:00</text>
<text x="1963.3" y="607" font-size="9.4" text-anchor="middle" font-weight="normal" textLength="22.9" lengthAdjust="spacingAndGlyphs">20:00</text>
<text x="2154.3" y="607" font-size="9.4" text-anchor="middle" font-weight="normal" textLength="22.9" lengthAdjust="spacingAndGlyphs">22:00</text>
<text transform="translate(21.9 336.2) rotate(-90)" font-size="12.5" text-anchor="middle" textLength="40" lengthAdjust="spacingAndGlyphs">dB SPL</text>
<text transform="translate(2384.9 336.2) rotate(-90)" font-size="12.5" text-anchor="middle" textLength="40" lengthAdjust="spacingAndGlyphs">dB SPL</text>
<text x="1200.4" y="623.9" font-size="12.5" text-anchor="middle" font-weight="normal" textLength="25.6" lengthAdjust="spacingAndGlyphs">time</text>
<text x="59" y="74.8" font-size="11.55" text-anchor="start" font-weight="bold">average and peak noise level (1 min sampling)</text>
<rect x="2156" y="543" width="182.5" height="40.5" rx="2.5" fill="#fff7dc" fill-opacity="0.8" stroke="#d8c09a" stroke-width="1"/>
<circle cx="2169.5" cy="550.3" r="2.4" fill="#1e90ff"/>
<text x="2186.5" y="552.7" font-size="9.72" text-anchor="start" font-weight="normal" textLength="53.3" lengthAdjust="spacingAndGlyphs">peak dB(Z)</text>
<circle cx="2169.5" cy="562.4" r="2.4" fill="#ff00ff"/>
<text x="2186.5" y="564.8" font-size="9.72" text-anchor="start" font-weight="normal" textLength="53.3" lengthAdjust="spacingAndGlyphs">peak dB(C)</text>
<circle cx="2169.5" cy="574.4" r="2.4" fill="#2e8b57"/>
<text x="2186.5" y="576.8" font-size="9.72" text-anchor="start" font-weight="normal" textLength="53.3" lengthAdjust="spacingAndGlyphs">peak dB(A)</text>
<path d="M2258 550.3H2280" stroke="#4682b4" stroke-width="2.8"/>
<text x="2285.8" y="552.7" font-size="9.72" text-anchor="start" font-weight="normal" textLength="47.6" lengthAdjust="spacingAndGlyphs">avg dB(Z)</text>
<path d="M2258 562.4H2280" stroke="#da70d6" stroke-width="2.8"/>
<text x="2285.8" y="564.8" font-size="9.72" text-anchor="start" font-weight="normal" textLength="47.6" lengthAdjust="spacingAndGlyphs">avg dB(C)</text>
<path d="M2258 574.4H2280" stroke="#9acd32" stroke-width="2.8"/>
<text x="2285.8" y="576.8" font-size="9.72" text-anchor="start" font-weight="normal" textLength="47.6" lengthAdjust="spacingAndGlyphs">avg dB(A)</text>
<rect x="59.5" y="645.5" width="2284.0" height="504.0" fill="#fff7dc"/>
<path d="M106.5 645.5V1149.5M154.5 645.5V1149.5M202.5 645.5V1149.5M297.5 645.5V1149.5M344.5 645.5V1149.5M392.5 645.5V1149.5M487.5 645.5V1149.5M535.5 645.5V1149.5M582.5 645.5V1149.5M677.5 645.5V1149.5M725.5 645.5V1149.5M772.5 645.5V1149.5M868.5 645.5V1149.5M915.5 645.5V1149.5M963.5 645.5V1149.5M1058.5 645.5V1149.5M1106.5 645.5V1149.5M1153.5 645.5V1149.5M1248.5 645.5V1149.5M1296.5 645.5V1149.5M1343.5 645.5V1149.5M1439.5 645.5V1149.5M1486.5 645.5V1149.5M1534.5 645.5V1149.5M1629.5 645.5V1149.5M1677.5 645.5V1149.5M1724.5 645.5V1149.5M1819.5 645.5V1149.5M1867.5 645.5V1149.5M1914.5 645.5V1149.5M2010.5 645.5V1149.5M2057.5 645.5V1149.5M2105.5 645.5V1149.5M2200.5 645.5V1149.5M2247.5 645.5V1149.5M2295.5 645.5V1149.5" stroke="#c4c0b4" stroke-width="0.7" stroke-dasharray="0.7 1.2" fill="none"/>
<path d="M59.5 1131.5H2343.5M59.5 1113.5H2343.5M59.5 1095.5H2343.5M59.5 1059.5H2343.5M59.5 1041.5H2343.5M59.5 1023.5H2343.5M59.5 987.5H2343.5M59.5 969.5H2343.5M59.5 951.5H2343.5M59.5 915.5H2343.5M59.5 897.5H2343.5M59.5 879.5H2343.5M59.5 843.5H2343.5M59.5 825.5H2343.5M59.5 807.5H2343.5M59.5 771.5H2343.5M59.5 753.5H2343.5M59.5 735.5H2343.5M59.5 699.5H2343.5M59.5 681.5H2343.5M59.5 663.5H2343.5" stroke="#b8b6ae" stroke-width="0.75" stroke-dasharray="2.6 1.1" fill="none"/>
<path d="M249.5 645.5V1149.5M439.5 645.5V1149.5M630.5 645.5V1149.5M820.5 645.5V1149.5M1010.5 645.5V1149.5M1201.5 645.5V1149.5M1391.5 645.5V1149.5M1581.5 645.5V1149.5M1772.5 645.5V1149.5M1962.5 645.5V1149.5M2152.5 645.5V1149.5M59.5 1077.5H2343.5M59.5 1005.5H2343.5M59.5 933.5H2343.5M59.5 861.5H2343.5M59.5 789.5H2343.5M59.5 717.5H2343.5" stroke="#b0b0b0" stroke-width="1" fill="none"/>
<g clip-path="url(#clipBot)">
<path d="M59.3 918.5 59.7 919.6 60.1 919.1 60.5 918.5 60.9 914.4 61.3 916.8 61.7 915.8 62.1 914.4 62.5 912.8 62.8 913.7 63.2 914.8 63.6 912.8 64.0 916.5 64.4 910.6 64.8 910.6 65.2 911.1 65.6 915.7 66.0 909.2 66.4 909.2 66.8 913.8 67.2 894.2 67.6 896.9 68.0 899.3 68.4 894.2 68.8 918.7 69.2 918.4 69.6 918.4 70.0 918.9 70.4 912.4 70.8 912.4 71.2 913.2 71.6 916.0 72.0 916.6 72.4 917.0 72.8 917.3 73.2 916.6 73.6 917.5 74.0 916.7 74.3 916.6 74.7 916.6 75.1 914.8 75.5 914.8 75.9 914.8 76.3 918.5 76.7 912.1 77.1 912.1 77.5 918.6 77.9 913.9 78.3 918.3 78.7 918.3 79.1 920.0 79.5 919.0 79.9 907.0 80.3 907.3 80.7 914.7 81.1 907.0 81.5 915.6 81.9 918.9 82.3 916.2 82.7 915.6 83.1 918.8 83.5 918.7 83.9 918.2 84.3 917.9 84.7 910.8 85.1 910.8 85.4 910.9 85.8 910.8 86.2 909.8 86.6 909.8 87.0 916.5 87.4 911.2 87.8 908.2 88.2 908.2 88.6 910.3 89.0 909.1 89.4 917.1 89.8 917.1 90.2 917.3 90.6 916.7 91.0 916.8 91.4 915.0 91.8 915.0 92.2 916.2 92.6 917.6 93.0 915.1 93.4 915.1 93.8 915.1 94.2 912.7 94.6 912.7 95.0 915.1 95.4 915.3 95.8 904.8 96.2 905.2 96.6 906.3 96.9 904.8 97.3 908.4 97.7 905.6 98.1 901.7 98.5 901.7 98.9 914.0 99.3 914.2 99.7 914.7 100.1 914.0 100.5 914.2 100.9 911.5 101.3 911.5 101.7 912.4 102.1 916.8 102.5 916.0 102.9 916.0 103.3 916.5 103.7 914.0 104.1 913.4 104.5 911.8 104.9 911.8 105.3 906.4 105.7 908.3 106.1 910.3 106.5 906.4 106.9 905.4 107.3 905.4 107.7 906.9 108.0 905.7 108.4 918.0 108.8 918.2 109.2 918.5 109.6 919.7 110.0 915.6 110.4 919.3 110.8 918.2 111.2 915.6 111.6 911.0 112.0 917.0 112.4 910.1 112.8 910.1 113.2 912.4 113.6 918.1 114.0 917.3 114.4 912.4 114.8 917.1 115.2 917.1 115.6 918.3 116.0 917.8 116.4 919.5 116.8 919.1 117.2 917.0 117.6 917.0 118.0 919.6 118.4 919.3 118.8 918.4 119.2 918.4 119.5 912.6 119.9 911.9 120.3 911.9 120.7 914.1 121.1 919.7 121.5 918.9 121.9 919.9 122.3 919.0 122.7 913.9 123.1 913.9 123.5 915.5 123.9 916.6 124.3 915.6 124.7 915.6 125.1 917.9 125.5 917.1 125.9 918.4 126.3 918.4 126.7 918.3 127.1 918.7 127.5 916.5 127.9 918.3 128.3 917.1 128.7 916.5 129.1 912.1 129.5 912.1 129.9 916.3 130.3 913.3 130.7 918.7 131.0 917.8 131.4 918.8 131.8 918.8 132.2 917.0 132.6 918.5 133.0 918.0 133.4 917.0 133.8 903.8 134.2 903.8 134.6 911.5 135.0 911.4 135.4 915.8 135.8 915.8 136.2 917.3 136.6 917.7 137.0 912.1 137.4 912.1 137.8 912.2 138.2 914.5 138.6 917.2 139.0 915.5 139.4 915.5 139.8 915.6 140.2 917.8 140.6 916.7 141.0 916.7 141.4 917.4 141.8 917.9 142.1 917.8 142.5 917.7 142.9 918.5 143.3 917.9 143.7 917.8 144.1 919.2 144.5 918.1 144.9 917.9 145.3 918.3 145.7 917.6 146.1 917.8 146.5 916.0 146.9 917.8 147.3 916.8 147.7 916.0 148.1 916.5 148.5 917.6 148.9 917.9 149.3 916.5 149.7 906.5 150.1 906.5 150.5 912.4 150.9 914.0 151.3 918.0 151.7 917.8 152.1 917.8 152.5 917.9 152.9 918.2 153.3 918.7 153.6 916.5 154.0 916.5 154.4 919.4 154.8 918.3 155.2 919.2 155.6 918.5 156.0 904.6 156.4 904.6 156.8 915.4 157.2 913.7 157.6 914.7 158.0 918.2 158.4 913.5 158.8 913.5 159.2 909.1 159.6 913.0 160.0 908.0 160.4 908.0 160.8 915.2 161.2 915.2 161.6 915.4 162.0 917.7 162.4 911.8 162.8 913.3 163.2 913.7 163.6 911.8 164.0 915.6 164.4 915.6 164.7 915.8 165.1 915.7 165.5 917.3 165.9 916.6 166.3 916.6 166.7 917.5 167.1 911.2 167.5 896.8 167.9 896.8 168.3 898.4 168.7 911.4 169.1 911.4 169.5 913.1 169.9 913.3 170.3 903.6 170.7 903.6 171.1 911.2 171.5 906.1 171.9 917.5 172.3 917.5 172.7 918.1 173.1 917.7 173.5 915.0 173.9 917.9 174.3 916.9 174.7 915.0 175.1 917.0 175.5 918.1 175.9 919.1 176.2 917.0 176.6 913.1 177.0 911.4 177.4 911.4 177.8 913.1 178.2 914.9 178.6 909.2 179.0 909.2 179.4 913.3 179.8 918.5 180.2 919.6 180.6 919.2 181.0 918.5 181.4 912.3 181.8 907.7 182.2 907.7 182.6 911.0 183.0 919.2 183.4 917.8 183.8 917.8 184.2 919.8 184.6 871.2 185.0 879.4 185.4 890.7 185.8 871.2 186.2 918.9 186.6 919.0 187.0 919.7 187.3 918.3 187.7 910.2 188.1 910.2 188.5 914.8 188.9 917.4 189.3 916.4 189.7 917.4 190.1 917.6 190.5 916.4 190.9 910.4 191.3 913.9 191.7 913.4 192.1 910.4 192.5 913.1 192.9 910.3 193.3 910.3 193.7 912.5 194.1 915.2 194.5 915.2 194.9 917.8 195.3 917.9 195.7 916.7 196.1 917.4 196.5 916.5 196.9 916.5 197.3 916.3 197.7 916.1 198.1 915.2 198.5 915.1 198.8 900.1 199.2 900.1 199.6 902.1 200.0 905.5 200.4 913.4 200.8 902.2 201.2 902.2 201.6 906.9 202.0 914.2 202.4 905.3 202.8 905.3 203.2 911.2 203.6 900.6 204.0 905.7 204.4 907.3 204.8 900.6 205.2 907.9 205.6 907.9 206.0 911.6 206.4 913.9 206.8 913.5 207.2 913.5 207.6 914.4 208.0 914.9 208.4 914.6 208.8 914.1 209.2 914.1 209.6 915.2 209.9 910.9 210.3 908.5 210.7 908.5 211.1 910.6 211.5 910.5 211.9 912.8 212.3 912.4 212.7 910.5 213.1 904.3 213.5 886.2 213.9 878.2 214.3 878.2 214.7 909.8 215.1 909.8 215.5 917.0 215.9 915.4 216.3 909.5 216.7 911.8 217.1 909.2 217.5 909.2 217.9 897.0 218.3 897.0 218.7 879.4 219.1 879.4 219.5 904.5 219.9 909.6 220.3 915.2 220.7 904.5 221.1 911.1 221.4 911.1 221.8 917.2 222.2 915.6 222.6 906.4 223.0 906.4 223.4 914.4 223.8 911.0 224.2 910.0 224.6 910.0 225.0 915.1 225.4 914.6 225.8 917.2 226.2 914.4 226.6 914.4 227.0 915.8 227.4 909.6 227.8 908.4 228.2 908.4 228.6 912.0 229.0 916.7 229.4 916.7 229.8 917.3 230.2 918.2 230.6 917.4 231.0 918.8 231.4 918.1 231.8 918.8 232.2 913.8 232.6 917.1 232.9 913.7 233.3 913.7 233.7 917.1 234.1 917.3 234.5 918.9 234.9 917.1 235.3 914.8 235.7 914.7 236.1 914.7 236.5 916.1 236.9 908.3 237.3 911.8 237.7 911.2 238.1 908.3 238.5 911.3 238.9 911.1 239.3 911.1 239.7 914.3 240.1 900.3 240.5 908.3 240.9 907.2 241.3 900.3 241.7 917.8 242.1 916.2 242.5 915.8 242.9 915.5 243.3 913.7 243.7 912.9 244.0 912.7 244.4 910.4 244.8 906.4 245.2 908.2 245.6 901.5 246.0 901.5 246.4 863.6 246.8 831.5 247.2 831.5 247.6 870.5 248.0 902.6 248.4 902.5 248.8 902.5 249.2 903.1 249.6 908.8 250.0 905.5 250.4 905.5 250.8 908.6 251.2 909.2 251.6 908.3 252.0 908.3 252.4 910.8 252.8 913.5 253.2 912.5 253.6 912.5 254.0 914.3 254.4 912.8 254.8 913.7 255.2 914.5 255.5 913.4 255.9 912.2 256.3 914.0 256.7 913.0 257.1 912.2 257.5 903.5 257.9 903.5 258.3 904.8 258.7 909.9 259.1 910.5 259.5 911.1 259.9 911.4 260.3 910.5 260.7 904.7 261.1 904.7 261.5 905.0 261.9 907.4 262.3 907.6 262.7 907.6 263.1 908.2 263.5 908.9 263.9 906.6 264.3 906.6 264.7 909.3 265.1 909.5 265.5 909.6 265.9 909.9 266.3 909.2 266.6 910.1 267.0 906.4 267.4 907.6 267.8 905.1 268.2 905.1 268.6 910.1 269.0 908.4 269.4 908.4 269.8 908.8 270.2 894.6 270.6 904.5 271.0 905.1 271.4 894.6 271.8 908.6 272.2 907.0 272.6 906.7 273.0 906.7 273.4 898.6 273.8 906.1 274.2 907.6 274.6 898.6 275.0 904.3 275.4 907.7 275.8 906.7 276.2 904.3 276.6 910.8 277.0 911.4 277.4 910.8 277.8 910.8 278.1 897.1 278.5 894.3 278.9 894.3 279.3 898.5 279.7 908.2 280.1 908.2 280.5 910.1 280.9 911.1 281.3 914.3 281.7 911.6 282.1 911.6 282.5 914.4 282.9 915.6 283.3 916.7 283.7 916.4 284.1 916.8 284.5 912.1 284.9 914.2 285.3 912.9 285.7 912.1 286.1 915.0 286.5 915.4 286.9 915.9 287.3 915.7 287.7 900.4 288.1 902.2 288.5 900.2 288.9 900.2 289.2 915.1 289.6 913.6 290.0 913.6 290.4 914.1 290.8 913.3 291.2 910.6 291.6 910.6 292.0 912.0 292.4 901.7 292.8 901.7 293.2 911.5 293.6 905.6 294.0 916.3 294.4 916.3 294.8 918.4 295.2 917.2 295.6 918.8 296.0 918.0 296.4 919.0 296.8 917.7 297.2 915.9 297.6 916.2 298.0 917.6 298.4 915.9 298.8 914.3 299.2 916.6 299.6 917.5 300.0 914.3 300.4 917.4 300.7 915.5 301.1 915.5 301.5 916.5 301.9 904.2 302.3 904.2 302.7 908.9 303.1 912.8 303.5 918.4 303.9 918.3 304.3 917.7 304.7 918.0 305.1 919.4 305.5 918.4 305.9 918.4 306.3 918.6 306.7 918.1 307.1 917.3 307.5 916.8 307.9 916.9 308.3 913.6 308.7 916.0 309.1 913.2 309.5 913.2 309.9 909.0 310.3 908.7 310.7 908.7 311.1 912.9 311.5 911.5 311.9 911.5 312.2 912.5 312.6 913.2 313.0 914.1 313.4 914.5 313.8 913.1 314.2 913.1 314.6 908.8 315.0 906.4 315.4 906.4 315.8 913.4 316.2 912.5 316.6 914.1 317.0 913.7 317.4 912.5 317.8 913.2 318.2 911.5 318.6 911.3 319.0 911.3 319.4 913.9 319.8 910.5 320.2 910.5 320.6 913.2 321.0 912.3 321.4 912.3 321.8 914.4 322.2 912.4 322.6 911.0 323.0 911.0 323.3 913.1 323.7 913.3 324.1 904.1 324.5 905.4 324.9 909.0 325.3 904.1 325.7 913.1 326.1 911.4 326.5 910.1 326.9 910.1 327.3 912.9 327.7 913.4 328.1 911.7 328.5 911.7 328.9 912.7 329.3 912.7 329.7 913.4 330.1 913.4 330.5 913.0 330.9 913.0 331.3 916.0 331.7 916.3 332.1 913.0 332.5 913.0 332.9 913.0 333.3 914.3 333.7 918.2 334.1 918.9 334.5 919.7 334.8 918.2 335.2 913.6 335.6 913.6 336.0 913.9 336.4 916.7 336.8 915.3 337.2 916.9 337.6 907.3 338.0 907.3 338.4 917.1 338.8 915.6 339.2 915.5 339.6 915.5 340.0 917.9 340.4 917.7 340.8 917.7 341.2 919.2 341.6 905.1 342.0 905.1 342.4 909.4 342.8 912.0 343.2 907.7 343.6 907.7 344.0 907.7 344.4 908.6 344.8 919.4 345.2 919.8 345.6 919.9 345.9 919.4 346.3 916.2 346.7 916.7 347.1 913.1 347.5 913.1 347.9 915.5 348.3 915.5 348.7 918.9 349.1 918.9 349.5 919.4 349.9 917.1 350.3 917.1 350.7 921.0 351.1 919.8 351.5 919.9 351.9 911.7 352.3 911.7 352.7 875.1 353.1 899.2 353.5 861.1 353.9 861.1 354.3 902.9 354.7 902.9 355.1 906.2 355.5 910.1 355.9 920.1 356.3 919.9 356.7 919.1 357.1 919.5 357.4 918.4 357.8 918.4 358.2 919.8 358.6 918.6 359.0 916.4 359.4 918.5 359.8 917.5 360.2 916.4 360.6 910.3 361.0 910.3 361.4 912.7 361.8 911.6 362.2 912.5 362.6 915.9 363.0 918.2 363.4 912.5 363.8 918.5 364.2 918.5 364.6 919.2 365.0 919.8 365.4 919.7 365.8 920.6 366.2 920.1 366.6 919.7 367.0 913.6 367.4 915.6 367.8 915.9 368.2 913.6 368.5 906.0 368.9 906.0 369.3 908.2 369.7 912.4 370.1 915.1 370.5 915.1 370.9 917.8 371.3 915.3 371.7 902.5 372.1 902.5 372.5 913.5 372.9 909.2 373.3 912.6 373.7 912.6 374.1 913.0 374.5 918.1 374.9 904.2 375.3 904.2 375.7 908.8 376.1 910.8 376.5 918.1 376.9 914.2 377.3 912.5 377.7 912.5 378.1 917.0 378.5 917.9 378.9 919.0 379.3 917.0 379.7 918.1 380.0 918.0 380.4 916.9 380.8 916.9 381.2 917.5 381.6 916.4 382.0 915.8 382.4 915.5 382.8 908.6 383.2 911.8 383.6 910.5 384.0 908.6 384.4 901.2 384.8 910.4 385.2 910.0 385.6 901.2 386.0 882.4 386.4 896.9 386.8 895.7 387.2 882.4 387.6 895.0 388.0 895.0 388.4 899.8 388.8 907.0 389.2 904.6 389.6 904.6 390.0 904.9 390.4 908.6 390.8 886.5 391.2 885.1 391.5 874.4 391.9 874.4 392.3 915.1 392.7 915.1 393.1 917.1 393.5 917.5 393.9 880.2 394.3 882.2 394.7 897.1 395.1 880.2 395.5 917.9 395.9 917.9 396.3 919.2 396.7 919.9 397.1 918.6 397.5 916.0 397.9 916.0 398.3 919.0 398.7 918.0 399.1 918.0 399.5 919.7 399.9 919.6 400.3 916.8 400.7 917.4 401.1 920.0 401.5 916.8 401.9 918.8 402.3 918.7 402.6 918.8 403.0 918.6 403.4 909.9 403.8 913.5 404.2 906.2 404.6 906.2 405.0 892.3 405.4 892.3 405.8 905.8 406.2 912.3 406.6 914.4 407.0 916.5 407.4 913.5 407.8 913.5 408.2 914.4 408.6 914.6 409.0 912.0 409.4 912.0 409.8 915.7 410.2 914.7 410.6 914.7 411.0 917.4 411.4 911.0 411.8 910.5 412.2 910.5 412.6 914.0 413.0 916.1 413.4 913.5 413.8 913.5 414.1 913.7 414.5 913.4 414.9 915.6 415.3 910.2 415.7 910.2 416.1 915.5 416.5 916.6 416.9 916.5 417.3 915.5 417.7 917.3 418.1 917.4 418.5 916.6 418.9 917.6 419.3 917.2 419.7 914.8 420.1 914.8 420.5 917.3 420.9 915.5 421.3 916.4 421.7 909.1 422.1 909.1 422.5 911.0 422.9 915.9 423.3 911.3 423.7 911.0 424.1 907.5 424.5 907.0 424.9 905.4 425.2 905.4 425.6 911.3 426.0 910.3 426.4 910.3 426.8 910.7 427.2 900.6 427.6 901.3 428.0 902.1 428.4 900.6 428.8 911.6 429.2 910.6 429.6 910.6 430.0 911.7 430.4 891.8 430.8 889.6 431.2 889.6 431.6 902.7 432.0 902.0 432.4 905.5 432.8 903.0 433.2 902.0 433.6 913.0 434.0 910.6 434.4 910.6 434.8 916.0 435.2 916.3 435.6 915.4 436.0 915.2 436.4 915.4 436.7 913.8 437.1 912.8 437.5 912.8 437.9 913.8 438.3 913.4 438.7 910.8 439.1 910.8 439.5 912.3 439.9 905.9 440.3 902.8 440.7 902.8 441.1 910.6 441.5 906.9 441.9 907.6 442.3 908.1 442.7 906.9 443.1 905.9 443.5 905.8 443.9 903.3 444.3 903.3 444.7 905.2 445.1 905.2 445.5 911.3 445.9 910.8 446.3 909.9 446.7 909.9 447.1 910.6 447.5 912.4 447.8 909.9 448.2 911.1 448.6 906.6 449.0 906.6 449.4 906.7 449.8 898.0 450.2 898.0 450.6 906.8 451.0 898.5 451.4 905.0 451.8 906.5 452.2 905.5 452.6 905.7 453.0 910.6 453.4 906.6 453.8 905.7 454.2 904.8 454.6 909.0 455.0 904.9 455.4 904.8 455.8 906.6 456.2 909.4 456.6 906.0 457.0 906.0 457.4 911.0 457.8 910.1 458.2 910.1 458.6 910.6 459.0 906.6 459.3 909.4 459.7 906.7 460.1 906.6 460.5 901.6 460.9 902.3 461.3 906.4 461.7 901.6 462.1 908.3 462.5 909.8 462.9 908.9 463.3 908.3 463.7 909.2 464.1 910.1 464.5 907.4 464.9 907.4 465.3 896.4 465.7 904.6 466.1 897.6 466.5 896.4 466.9 904.3 467.3 907.9 467.7 904.1 468.1 904.1 468.5 905.2 468.9 905.2 469.3 908.5 469.7 907.3 470.1 906.4 470.5 906.4 470.8 908.6 471.2 909.4 471.6 908.7 472.0 907.8 472.4 906.8 472.8 906.8 473.2 907.1 473.6 907.1 474.0 908.6 474.4 907.9 474.8 908.8 475.2 907.8 475.6 907.7 476.0 907.7 476.4 904.8 476.8 905.3 477.2 904.2 477.6 904.2 478.0 908.0 478.4 905.9 478.8 903.8 479.2 903.8 479.6 901.8 480.0 901.8 480.4 907.1 480.8 906.9 481.2 903.4 481.6 891.6 481.9 891.6 482.3 897.9 482.7 909.7 483.1 910.0 483.5 909.7 483.9 909.8 484.3 907.1 484.7 908.9 485.1 908.9 485.5 907.1 485.9 905.4 486.3 903.3 486.7 903.3 487.1 905.3 487.5 906.5 487.9 906.5 488.3 907.7 488.7 908.1 489.1 904.2 489.5 907.2 489.9 900.7 490.3 900.7 490.7 908.0 491.1 904.1 491.5 904.1 491.9 905.6 492.3 898.0 492.7 894.9 493.1 894.9 493.4 896.9 493.8 899.4 494.2 899.4 494.6 899.6 495.0 902.4 495.4 890.9 495.8 890.9 496.2 894.5 496.6 891.6 497.0 895.6 497.4 897.3 497.8 900.3 498.2 895.6 498.6 904.7 499.0 904.7 499.4 906.2 499.8 907.2 500.2 906.9 500.6 907.0 501.0 905.1 501.4 905.1 501.8 899.2 502.2 899.2 502.6 905.8 503.0 906.2 503.4 903.4 503.8 899.0 504.2 899.0 504.5 901.8 504.9 902.6 505.3 899.0 505.7 899.0 506.1 902.9 506.5 903.5 506.9 907.0 507.3 908.5 507.7 903.5 508.1 904.3 508.5 904.4 508.9 903.2 509.3 903.2 509.7 906.1 510.1 901.6 510.5 901.6 510.9 907.2 511.3 889.1 511.7 889.1 512.1 895.2 512.5 892.8 512.9 900.8 513.3 904.3 513.7 901.6 514.1 900.8 514.5 905.2 514.9 905.2 515.3 906.1 515.7 904.7 516.0 890.5 516.4 882.4 516.8 882.4 517.2 886.8 517.6 902.6 518.0 896.5 518.4 896.5 518.8 902.2 519.2 904.2 519.6 903.2 520.0 902.9 520.4 902.5 520.8 900.3 521.2 900.4 521.6 899.9 522.0 899.9 522.4 900.1 522.8 898.6 523.2 899.0 523.6 898.9 524.0 871.2 524.4 879.3 524.8 881.2 525.2 871.2 525.6 890.7 526.0 879.4 526.4 879.4 526.8 886.9 527.1 859.0 527.5 859.0 527.9 875.8 528.3 872.3 528.7 899.6 529.1 899.9 529.5 899.8 529.9 899.7 530.3 875.4 530.7 880.6 531.1 891.0 531.5 875.4 531.9 898.4 532.3 897.5 532.7 897.5 533.1 900.0 533.5 890.3 533.9 891.8 534.3 896.1 534.7 890.3 535.1 873.8 535.5 883.6 535.9 876.7 536.3 873.8 536.7 885.9 537.1 881.3 537.5 881.3 537.9 882.8 538.3 885.9 538.6 885.9 539.0 886.8 539.4 888.1 539.8 892.6 540.2 893.1 540.6 896.3 541.0 892.6 541.4 891.5 541.8 895.0 542.2 890.0 542.6 890.0 543.0 889.6 543.4 890.4 543.8 891.2 544.2 889.6 544.6 889.1 545.0 889.4 545.4 889.1 545.8 889.1 546.2 860.3 546.6 851.4 547.0 851.4 547.4 859.2 547.8 877.2 548.2 877.2 548.6 880.4 549.0 879.8 549.4 813.5 549.8 813.5 550.1 853.2 550.5 861.5 550.9 883.9 551.3 865.7 551.7 865.7 552.1 878.8 552.5 889.4 552.9 886.2 553.3 886.2 553.7 886.9 554.1 886.8 554.5 890.4 554.9 893.5 555.3 886.8 555.7 877.0 556.1 877.0 556.5 887.7 556.9 884.5 557.3 896.5 557.7 896.0 558.1 894.6 558.5 894.6 558.9 851.2 559.3 872.4 559.7 837.3 560.1 837.3 560.5 896.7 560.9 895.9 561.2 892.9 561.6 892.9 562.0 892.0 562.4 892.0 562.8 892.1 563.2 893.2 563.6 896.5 564.0 894.3 564.4 893.9 564.8 893.9 565.2 836.9 565.6 836.9 566.0 875.3 566.4 837.8 566.8 893.9 567.2 893.9 567.6 895.3 568.0 895.7 568.4 878.2 568.8 889.5 569.2 884.6 569.6 878.2 570.0 885.8 570.4 889.8 570.8 882.0 571.2 882.0 571.6 886.9 572.0 893.4 572.4 890.2 572.7 886.9 573.1 847.8 573.5 851.8 573.9 831.5 574.3 831.5 574.7 884.1 575.1 884.2 575.5 885.2 575.9 884.1 576.3 879.2 576.7 879.2 577.1 888.3 577.5 888.9 577.9 886.7 578.3 877.5 578.7 877.5 579.1 881.4 579.5 887.9 579.9 887.9 580.3 892.0 580.7 889.1 581.1 887.8 581.5 890.5 581.9 891.6 582.3 887.8 582.7 888.8 583.1 888.8 583.5 890.9 583.8 890.2 584.2 889.1 584.6 879.4 585.0 879.4 585.4 882.3 585.8 884.5 586.2 884.4 586.6 882.0 587.0 882.0 587.4 890.2 587.8 885.1 588.2 885.1 588.6 890.7 589.0 869.9 589.4 879.6 589.8 869.9 590.2 869.9 590.6 888.0 591.0 884.9 591.4 884.9 591.8 886.4 592.2 887.9 592.6 889.1 593.0 888.3 593.4 887.9 593.8 880.2 594.2 881.1 594.6 880.4 595.0 880.2 595.3 879.2 595.7 879.2 596.1 883.1 596.5 883.1 596.9 873.7 597.3 858.4 597.7 858.4 598.1 876.5 598.5 875.1 598.9 876.9 599.3 881.1 599.7 875.1 600.1 887.9 600.5 887.3 600.9 885.2 601.3 885.2 601.7 875.6 602.1 869.4 602.5 869.4 602.9 874.5 603.3 883.0 603.7 885.1 604.1 880.7 604.5 880.7 604.9 885.5 605.3 886.5 605.7 883.3 606.1 883.3 606.4 882.5 606.8 882.8 607.2 884.4 607.6 882.5 608.0 884.5 608.4 882.7 608.8 882.7 609.2 884.6 609.6 864.8 610.0 859.4 610.4 857.8 610.8 857.8 611.2 875.2 611.6 874.6 612.0 874.6 612.4 875.3 612.8 869.0 613.2 876.6 613.6 862.1 614.0 862.1 614.4 833.8 614.8 836.1 615.2 869.3 615.6 833.8 616.0 875.0 616.4 873.1 616.8 873.1 617.2 876.8 617.6 858.1 617.9 860.9 618.3 866.9 618.7 858.1 619.1 825.5 619.5 825.5 619.9 843.8 620.3 865.9 620.7 877.8 621.1 877.8 621.5 877.8 621.9 880.6 622.3 850.5 622.7 859.8 623.1 852.2 623.5 850.5 623.9 881.9 624.3 881.9 624.7 883.8 625.1 884.4 625.5 880.3 625.9 880.3 626.3 881.7 626.7 881.8 627.1 874.2 627.5 875.6 627.9 882.9 628.3 874.2 628.7 849.9 629.1 849.9 629.4 872.7 629.8 850.4 630.2 865.7 630.6 868.6 631.0 874.2 631.4 865.7 631.8 882.6 632.2 882.6 632.6 884.4 633.0 883.8 633.4 881.8 633.8 880.9 634.2 880.9 634.6 883.3 635.0 877.7 635.4 877.7 635.8 884.0 636.2 885.4 636.6 872.9 637.0 880.2 637.4 874.4 637.8 872.9 638.2 874.4 638.6 880.8 639.0 878.4 639.4 874.4 639.8 882.2 640.2 885.9 640.5 885.6 640.9 882.2 641.3 878.8 641.7 879.9 642.1 877.2 642.5 877.2 642.9 882.2 643.3 877.9 643.7 877.9 644.1 882.9 644.5 813.5 644.9 819.9 645.3 823.0 645.7 813.5 646.1 847.1 646.5 853.9 646.9 854.7 647.3 847.1 647.7 873.7 648.1 867.6 648.5 867.6 648.9 880.4 649.3 843.0 649.7 857.8 650.1 841.2 650.5 841.2 650.9 881.9 651.3 884.0 651.7 885.3 652.0 881.9 652.4 862.1 652.8 867.1 653.2 873.7 653.6 862.1 654.0 869.3 654.4 877.0 654.8 868.0 655.2 868.0 655.6 879.6 656.0 879.6 656.4 885.3 656.8 880.0 657.2 883.0 657.6 880.6 658.0 880.6 658.4 883.0 658.8 880.4 659.2 886.3 659.6 881.7 660.0 880.4 660.4 886.0 660.8 886.0 661.2 888.9 661.6 886.2 662.0 884.6 662.4 874.5 662.8 870.4 663.1 870.4 663.5 873.5 663.9 859.0 664.3 859.0 664.7 880.2 665.1 882.1 665.5 882.1 665.9 885.3 666.3 886.0 666.7 883.1 667.1 883.1 667.5 887.0 667.9 886.4 668.3 866.4 668.7 861.7 669.1 861.7 669.5 870.7 669.9 878.5 670.3 875.7 670.7 875.7 671.1 879.5 671.5 886.7 671.9 884.5 672.3 884.5 672.7 885.4 673.1 885.6 673.5 885.6 673.9 889.3 674.3 886.8 674.6 870.5 675.0 872.1 675.4 866.6 675.8 866.6 676.2 888.4 676.6 888.9 677.0 886.3 677.4 886.3 677.8 884.0 678.2 881.9 678.6 880.1 679.0 880.1 679.4 858.2 679.8 828.0 680.2 828.0 680.6 829.8 681.0 861.5 681.4 864.3 681.8 865.5 682.2 861.5 682.6 869.6 683.0 869.6 683.4 879.5 683.8 882.0 684.2 847.5 684.6 849.8 685.0 848.8 685.4 847.5 685.7 883.8 686.1 883.8 686.5 884.0 686.9 884.3 687.3 873.2 687.7 861.8 688.1 855.4 688.5 855.4 688.9 822.5 689.3 819.5 689.7 819.5 690.1 853.0 690.5 879.7 690.9 883.0 691.3 882.3 691.7 879.7 692.1 832.4 692.5 832.4 692.9 838.7 693.3 865.0 693.7 876.2 694.1 878.2 694.5 878.1 694.9 876.2 695.3 872.5 695.7 876.8 696.1 877.7 696.5 872.5 696.9 863.3 697.2 862.9 697.6 862.9 698.0 870.3 698.4 843.6 698.8 812.6 699.2 812.6 699.6 812.9 700.0 873.5 700.4 871.4 700.8 871.4 701.2 873.0 701.6 865.8 702.0 863.5 702.4 863.5 702.8 869.6 703.2 870.6 703.6 868.7 704.0 868.7 704.4 868.2 704.8 841.5 705.2 833.5 705.6 833.5 706.0 833.6 706.4 864.4 706.8 863.7 707.2 854.7 707.6 854.7 708.0 858.6 708.4 850.2 708.7 850.2 709.1 861.2 709.5 869.7 709.9 860.0 710.3 859.7 710.7 859.7 711.1 856.4 711.5 854.7 711.9 852.4 712.3 852.4 712.7 878.2 713.1 872.5 713.5 872.5 713.9 878.0 714.3 876.2 714.7 876.1 715.1 876.1 715.5 876.5 715.9 873.2 716.3 860.4 716.7 860.4 717.1 861.7 717.5 874.2 717.9 874.2 718.3 877.7 718.7 878.7 719.1 871.6 719.5 867.8 719.8 867.8 720.2 873.9 720.6 876.9 721.0 874.9 721.4 874.9 721.8 876.6 722.2 875.7 722.6 874.2 723.0 874.2 723.4 875.0 723.8 851.0 724.2 851.0 724.6 851.8 725.0 854.5 725.4 866.7 725.8 866.1 726.2 858.6 726.6 858.6 727.0 867.2 727.4 869.2 727.8 870.0 728.2 867.2 728.6 850.8 729.0 850.8 729.4 855.4 729.8 862.1 730.2 861.4 730.6 865.4 731.0 868.4 731.3 861.4 731.7 855.7 732.1 866.8 732.5 856.1 732.9 855.7 733.3 868.2 733.7 865.9 734.1 865.9 734.5 873.2 734.9 879.1 735.3 877.6 735.7 877.6 736.1 877.7 736.5 813.5 736.9 850.1 737.3 831.5 737.7 813.5 738.1 852.4 738.5 852.4 738.9 856.1 739.3 861.5 739.7 846.6 740.1 846.6 740.5 848.5 740.9 862.6 741.3 852.2 741.7 835.1 742.1 835.1 742.4 847.7 742.8 854.5 743.2 862.9 743.6 845.9 744.0 845.9 744.4 822.4 744.8 822.6 745.2 819.5 745.6 819.5 746.0 861.8 746.4 861.8 746.8 865.3 747.2 873.9 747.6 868.3 748.0 863.4 748.4 863.0 748.8 863.0 749.2 877.2 749.6 872.4 750.0 872.4 750.4 874.2 750.8 844.5 751.2 844.5 751.6 857.4 752.0 851.4 752.4 865.5 752.8 869.6 753.2 867.2 753.6 865.5 753.9 874.2 754.3 874.2 754.7 875.3 755.1 874.7 755.5 867.2 755.9 867.2 756.3 871.4 756.7 872.5 757.1 857.8 757.5 857.8 757.9 861.4 758.3 868.1 758.7 846.6 759.1 862.2 759.5 867.8 759.9 846.6 760.3 877.7 760.7 877.3 761.1 877.3 761.5 878.0 761.9 866.1 762.3 852.9 762.7 852.9 763.1 875.8 763.5 879.9 763.9 876.0 764.3 876.0 764.7 877.2 765.0 860.7 765.4 860.7 765.8 870.5 766.2 868.9 766.6 881.0 767.0 873.8 767.4 873.8 767.8 881.5 768.2 867.3 768.6 862.9 769.0 862.9 769.4 865.7 769.8 864.5 770.2 861.3 770.6 861.3 771.0 874.3 771.4 876.1 771.8 876.3 772.2 875.2 772.6 875.2 773.0 858.5 773.4 858.5 773.8 862.3 774.2 861.8 774.6 867.9 775.0 867.9 775.4 871.1 775.8 868.9 776.2 871.0 776.5 865.0 776.9 865.0 777.3 870.4 777.7 871.2 778.1 872.9 778.5 872.1 778.9 871.2 779.3 858.7 779.7 858.7 780.1 870.4 780.5 871.2 780.9 866.3 781.3 866.3 781.7 872.6 782.1 870.7 782.5 861.8 782.9 868.4 783.3 859.2 783.7 859.2 784.1 866.6 784.5 869.3 784.9 868.4 785.3 866.6 785.7 859.4 786.1 860.5 786.5 864.8 786.9 859.4 787.3 828.1 787.7 836.7 788.0 831.6 788.4 828.1 788.8 860.7 789.2 856.2 789.6 855.4 790.0 855.4 790.4 865.4 790.8 866.7 791.2 866.8 791.6 865.4 792.0 865.6 792.4 865.0 792.8 865.0 793.2 867.5 793.6 864.5 794.0 859.3 794.4 858.7 794.8 858.7 795.2 798.1 795.6 798.1 796.0 827.2 796.4 830.2 796.8 803.4 797.2 803.4 797.6 825.6 798.0 847.5 798.4 870.2 798.8 865.0 799.1 865.0 799.5 867.8 799.9 873.1 800.3 869.9 800.7 869.9 801.1 872.1 801.5 868.4 801.9 874.2 802.3 877.8 802.7 868.4 803.1 877.9 803.5 877.9 803.9 880.5 804.3 877.9 804.7 882.8 805.1 885.0 805.5 882.1 805.9 882.1 806.3 865.1 806.7 864.1 807.1 862.8 807.5 862.8 807.9 834.5 808.3 844.1 808.7 851.5 809.1 834.5 809.5 887.6 809.9 881.3 810.3 881.3 810.6 883.7 811.0 814.2 811.4 813.5 811.8 813.5 812.2 857.5 812.6 883.2 813.0 883.2 813.4 884.9 813.8 886.0 814.2 883.5 814.6 883.5 815.0 885.1 815.4 884.5 815.8 884.0 816.2 883.7 816.6 876.1 817.0 876.1 817.4 821.7 817.8 821.7 818.2 833.8 818.6 834.9 819.0 854.2 819.4 876.0 819.8 871.6 820.2 854.2 820.6 881.9 821.0 881.2 821.4 881.2 821.7 883.1 822.1 881.7 822.5 877.8 822.9 876.6 823.3 876.6 823.7 880.2 824.1 880.6 824.5 876.5 824.9 876.5 825.3 832.4 825.7 838.1 826.1 827.6 826.5 827.6 826.9 874.7 827.3 874.7 827.7 877.7 828.1 875.3 828.5 876.6 828.9 873.5 829.3 873.5 829.7 873.5 830.1 804.1 830.5 813.5 830.9 808.1 831.3 804.1 831.7 871.0 832.1 869.4 832.5 869.4 832.9 876.1 833.2 860.2 833.6 850.9 834.0 847.8 834.4 847.8 834.8 860.8 835.2 876.5 835.6 858.0 836.0 858.0 836.4 860.4 836.8 877.0 837.2 869.5 837.6 866.2 838.0 880.1 838.4 878.1 838.8 878.1 839.2 883.0 839.6 880.8 840.0 877.9 840.4 860.4 840.8 859.7 841.2 878.1 841.6 878.1 842.0 878.1 842.4 878.5 842.8 883.0 843.2 860.7 843.6 860.7 844.0 862.1 844.3 870.9 844.7 870.9 845.1 874.5 845.5 873.0 845.9 882.6 846.3 883.1 846.7 882.3 847.1 883.7 847.5 876.8 847.9 880.4 848.3 874.3 848.7 874.3 849.1 875.2 849.5 877.0 849.9 877.7 850.3 875.2 850.7 874.5 851.1 874.5 851.5 880.4 851.9 876.3 852.3 874.6 852.7 874.6 853.1 878.8 853.5 876.0 853.9 865.6 854.3 865.4 854.7 864.9 855.1 864.9 855.5 830.4 855.8 830.4 856.2 864.1 856.6 859.3 857.0 878.8 857.4 877.8 857.8 877.8 858.2 882.7 858.6 878.9 859.0 869.6 859.4 862.5 859.8 862.5 860.2 875.9 860.6 841.4 861.0 823.8 861.4 823.8 861.8 888.1 862.2 889.3 862.6 886.0 863.0 886.0 863.4 889.1 863.8 887.2 864.2 887.2 864.6 887.4 865.0 849.4 865.4 864.1 865.8 860.2 866.2 849.4 866.6 849.4 867.0 882.7 867.3 882.7 867.7 885.5 868.1 886.5 868.5 886.5 868.9 886.8 869.3 890.3 869.7 859.7 870.1 868.4 870.5 862.0 870.9 859.7 871.3 847.9 871.7 866.2 872.1 870.7 872.5 847.9 872.9 889.0 873.3 885.7 873.7 885.7 874.1 886.7 874.5 875.4 874.9 875.4 875.3 880.5 875.7 880.2 876.1 865.4 876.5 866.5 876.9 875.1 877.3 865.4 877.7 825.5 878.1 825.5 878.4 847.0 878.8 845.5 879.2 831.0 879.6 831.0 880.0 841.8 880.4 837.9 880.8 848.7 881.2 848.7 881.6 871.6 882.0 859.8 882.4 881.3 882.8 880.8 883.2 880.8 883.6 882.6 884.0 883.5 884.4 874.8 884.8 869.8 885.2 869.8 885.6 887.1 886.0 890.0 886.4 888.4 886.8 887.1 887.2 835.5 887.6 851.3 888.0 840.7 888.4 835.5 888.8 845.5 889.2 845.5 889.6 855.2 889.9 845.8 890.3 885.8 890.7 885.5 891.1 885.5 891.5 889.4 891.9 877.8 892.3 883.0 892.7 884.9 893.1 877.8 893.5 883.2 893.9 883.2 894.3 884.7 894.7 889.6 895.1 887.6 895.5 887.6 895.9 887.9 896.3 889.7 896.7 888.6 897.1 886.9 897.5 875.7 897.9 875.7 898.3 876.0 898.7 866.4 899.1 864.3 899.5 864.3 899.9 878.5 900.3 872.5 900.7 863.5 901.0 863.5 901.4 869.6 901.8 883.4 902.2 868.1 902.6 868.1 903.0 889.7 903.4 892.8 903.8 890.3 904.2 889.7 904.6 862.6 905.0 862.6 905.4 864.9 905.8 883.7 906.2 874.6 906.6 881.0 907.0 883.6 907.4 874.6 907.8 882.6 908.2 882.6 908.6 889.9 909.0 893.0 909.4 890.4 909.8 890.4 910.2 891.9 910.6 890.7 911.0 870.5 911.4 876.6 911.8 871.3 912.2 870.5 912.5 873.9 912.9 870.2 913.3 870.2 913.7 877.6 914.1 886.7 914.5 891.6 914.9 891.5 915.3 886.7 915.7 889.9 916.1 892.0 916.5 892.6 916.9 889.9 917.3 892.7 917.7 889.0 918.1 889.0 918.5 891.7 918.9 883.4 919.3 886.3 919.7 883.9 920.1 883.4 920.5 878.5 920.9 878.5 921.3 882.1 921.7 887.5 922.1 881.2 922.5 884.4 922.9 888.1 923.3 881.2 923.6 855.6 924.0 872.8 924.4 876.8 924.8 855.6 925.2 842.4 925.6 868.4 926.0 861.6 926.4 842.4 926.8 886.7 927.2 887.6 927.6 884.9 928.0 884.9 928.4 882.8 928.8 884.8 929.2 883.2 929.6 882.8 930.0 885.3 930.4 880.8 930.8 880.2 931.2 880.2 931.6 874.6 932.0 864.3 932.4 853.8 932.8 853.8 933.2 864.7 933.6 868.4 934.0 864.2 934.4 864.2 934.8 875.6 935.1 877.5 935.5 876.5 935.9 875.6 936.3 875.5 936.7 876.8 937.1 867.8 937.5 867.8 937.9 837.9 938.3 836.5 938.7 831.5 939.1 831.5 939.5 866.1 939.9 874.0 940.3 865.4 940.7 865.4 941.1 872.1 941.5 872.1 941.9 876.6 942.3 872.9 942.7 875.8 943.1 875.8 943.5 878.1 943.9 877.6 944.3 874.4 944.7 867.1 945.1 867.1 945.5 869.5 945.9 873.2 946.3 873.2 946.6 873.9 947.0 877.0 947.4 876.6 947.8 874.7 948.2 874.7 948.6 876.2 949.0 865.0 949.4 867.1 949.8 865.6 950.2 865.0 950.6 843.9 951.0 865.2 951.4 860.8 951.8 843.9 952.2 860.1 952.6 860.1 953.0 866.9 953.4 870.8 953.8 873.9 954.2 875.7 954.6 872.2 955.0 872.2 955.4 875.0 955.8 879.8 956.2 879.0 956.6 875.0 957.0 871.2 957.4 871.2 957.7 872.0 958.1 877.0 958.5 881.2 958.9 881.7 959.3 881.2 959.7 881.2 960.1 807.0 960.5 807.0 960.9 829.6 961.3 816.5 961.7 872.7 962.1 859.1 962.5 859.1 962.9 872.7 963.3 886.7 963.7 889.1 964.1 889.6 964.5 886.7 964.9 889.0 965.3 890.8 965.7 890.3 966.1 889.0 966.5 848.7 966.9 812.8 967.3 807.4 967.7 807.4 968.1 889.4 968.5 885.4 968.9 885.4 969.2 888.7 969.6 858.6 970.0 858.6 970.4 859.9 970.8 858.8 971.2 873.1 971.6 873.1 972.0 883.6 972.4 873.8 972.8 872.1 973.2 880.7 973.6 887.2 974.0 872.1 974.4 883.8 974.8 869.4 975.2 869.4 975.6 873.2 976.0 878.0 976.4 875.0 976.8 875.0 977.2 875.1 977.6 886.0 978.0 886.0 978.4 890.6 978.8 890.1 979.2 886.7 979.6 886.7 980.0 890.7 980.3 889.3 980.7 874.4 981.1 885.0 981.5 884.5 981.9 874.4 982.3 881.5 982.7 889.7 983.1 889.3 983.5 881.5 983.9 890.7 984.3 890.7 984.7 891.5 985.1 892.1 985.5 850.5 985.9 831.8 986.3 831.8 986.7 832.4 987.1 879.0 987.5 879.0 987.9 882.8 988.3 887.9 988.7 881.6 989.1 883.1 989.5 877.3 989.9 877.3 990.3 873.6 990.7 865.8 991.1 865.8 991.5 877.0 991.8 878.8 992.2 878.8 992.6 880.0 993.0 879.2 993.4 883.4 993.8 883.7 994.2 878.0 994.6 878.0 995.0 869.5 995.4 869.7 995.8 871.4 996.2 869.5 996.6 883.8 997.0 883.1 997.4 883.1 997.8 884.1 998.2 847.0 998.6 847.9 999.0 868.7 999.4 847.0 999.8 880.4 1000.2 880.9 1000.6 882.3 1001.0 880.4 1001.4 882.0 1001.8 884.2 1002.2 881.0 1002.6 881.0 1002.9 876.5 1003.3 877.7 1003.7 877.4 1004.1 876.5 1004.5 883.5 1004.9 886.3 1005.3 882.5 1005.7 882.5 1006.1 884.7 1006.5 884.0 1006.9 884.0 1007.3 884.1 1007.7 888.1 1008.1 886.0 1008.5 885.1 1008.9 885.1 1009.3 859.2 1009.7 851.1 1010.1 851.1 1010.5 867.8 1010.9 879.6 1011.3 879.3 1011.7 879.3 1012.1 884.6 1012.5 883.2 1012.9 884.5 1013.3 883.9 1013.7 883.2 1014.1 876.7 1014.4 876.7 1014.8 884.0 1015.2 889.5 1015.6 890.9 1016.0 884.0 1016.4 880.3 1016.8 880.3 1017.2 891.2 1017.6 893.7 1018.0 889.7 1018.4 889.7 1018.8 891.5 1019.2 888.3 1019.6 880.9 1020.0 880.9 1020.4 832.0 1020.8 856.6 1021.2 823.1 1021.6 823.1 1022.0 884.5 1022.4 882.5 1022.8 882.5 1023.2 888.5 1023.6 840.0 1024.0 853.1 1024.4 832.2 1024.8 832.2 1025.2 872.1 1025.6 871.3 1025.9 871.3 1026.3 872.8 1026.7 859.4 1027.1 854.6 1027.5 854.6 1027.9 862.9 1028.3 862.1 1028.7 860.3 1029.1 860.3 1029.5 867.6 1029.9 853.4 1030.3 819.5 1030.7 819.5 1031.1 854.7 1031.5 865.0 1031.9 865.0 1032.3 867.9 1032.7 865.4 1033.1 850.6 1033.5 850.6 1033.9 851.9 1034.3 851.8 1034.7 874.3 1035.1 874.3 1035.5 881.3 1035.9 874.5 1036.3 865.7 1036.7 855.5 1037.0 854.0 1037.4 854.0 1037.8 879.0 1038.2 887.3 1038.6 873.8 1039.0 873.8 1039.4 874.6 1039.8 892.4 1040.2 884.8 1040.6 874.6 1041.0 891.7 1041.4 891.7 1041.8 896.8 1042.2 896.7 1042.6 833.2 1043.0 833.2 1043.4 860.9 1043.8 858.9 1044.2 885.5 1044.6 885.5 1045.0 885.5 1045.4 891.9 1045.8 885.9 1046.2 880.8 1046.6 880.8 1047.0 888.4 1047.4 890.3 1047.8 890.7 1048.2 885.5 1048.5 885.5 1048.9 888.2 1049.3 888.2 1049.7 894.3 1050.1 891.7 1050.5 890.8 1050.9 890.8 1051.3 892.1 1051.7 892.4 1052.1 893.0 1052.5 892.8 1052.9 892.8 1053.3 895.8 1053.7 892.5 1054.1 886.6 1054.5 886.6 1054.9 887.3 1055.3 885.2 1055.7 888.2 1056.1 878.5 1056.5 878.5 1056.9 837.8 1057.3 844.1 1057.7 851.2 1058.1 837.8 1058.5 893.0 1058.9 894.6 1059.3 893.9 1059.6 893.0 1060.0 880.7 1060.4 884.4 1060.8 878.7 1061.2 878.7 1061.6 888.5 1062.0 883.3 1062.4 883.3 1062.8 885.4 1063.2 870.8 1063.6 866.9 1064.0 833.4 1064.4 833.4 1064.8 885.0 1065.2 880.7 1065.6 876.2 1066.0 876.2 1066.4 884.2 1066.8 884.8 1067.2 888.7 1067.6 884.2 1068.0 894.8 1068.4 891.4 1068.8 891.4 1069.2 895.2 1069.6 895.0 1070.0 895.0 1070.4 895.2 1070.8 896.2 1071.1 893.3 1071.5 893.3 1071.9 895.4 1072.3 895.2 1072.7 865.1 1073.1 877.9 1073.5 883.9 1073.9 865.1 1074.3 896.2 1074.7 895.3 1075.1 895.3 1075.5 895.7 1075.9 884.2 1076.3 890.7 1076.7 885.5 1077.1 884.2 1077.5 880.4 1077.9 891.1 1078.3 882.4 1078.7 880.4 1079.1 894.4 1079.5 894.8 1079.9 893.9 1080.3 893.9 1080.7 867.0 1081.1 874.7 1081.5 877.7 1081.9 867.0 1082.2 892.2 1082.6 887.9 1083.0 887.9 1083.4 890.1 1083.8 860.2 1084.2 857.4 1084.6 822.7 1085.0 822.7 1085.4 890.1 1085.8 887.1 1086.2 887.1 1086.6 888.4 1087.0 882.6 1087.4 882.2 1087.8 882.0 1088.2 882.0 1088.6 881.1 1089.0 877.2 1089.4 872.8 1089.8 872.8 1090.2 880.7 1090.6 878.5 1091.0 878.5 1091.4 879.1 1091.8 863.7 1092.2 870.5 1092.6 871.5 1093.0 863.7 1093.4 841.2 1093.7 842.7 1094.1 830.1 1094.5 830.1 1094.9 816.3 1095.3 816.3 1095.7 816.4 1096.1 847.4 1096.5 867.0 1096.9 868.6 1097.3 868.7 1097.7 867.0 1098.1 860.1 1098.5 864.3 1098.9 856.6 1099.3 856.6 1099.7 850.4 1100.1 850.4 1100.5 855.8 1100.9 852.1 1101.3 853.0 1101.7 853.0 1102.1 854.1 1102.5 851.5 1102.9 823.7 1103.3 824.7 1103.7 823.8 1104.1 823.7 1104.5 835.5 1104.9 835.9 1105.2 836.8 1105.6 834.8 1106.0 805.4 1106.4 807.4 1106.8 814.0 1107.2 805.4 1107.6 819.0 1108.0 815.9 1108.4 815.3 1108.8 815.3 1109.2 806.9 1109.6 806.9 1110.0 808.2 1110.4 810.4 1110.8 815.1 1111.2 815.1 1111.6 818.7 1112.0 822.2 1112.4 817.2 1112.8 804.8 1113.2 802.9 1113.6 802.9 1114.0 816.6 1114.4 813.5 1114.8 813.5 1115.2 817.5 1115.6 827.9 1116.0 827.9 1116.3 828.0 1116.7 829.1 1117.1 843.9 1117.5 841.8 1117.9 838.0 1118.3 838.0 1118.7 850.7 1119.1 856.5 1119.5 853.3 1119.9 850.7 1120.3 864.0 1120.7 861.2 1121.1 857.0 1121.5 857.0 1121.9 868.4 1122.3 876.0 1122.7 861.1 1123.1 861.1 1123.5 885.4 1123.9 882.4 1124.3 882.4 1124.7 883.5 1125.1 888.1 1125.5 878.3 1125.9 878.3 1126.3 887.6 1126.7 883.7 1127.1 869.6 1127.5 867.5 1127.8 867.5 1128.2 884.7 1128.6 890.6 1129.0 884.4 1129.4 884.4 1129.8 889.4 1130.2 888.7 1130.6 888.2 1131.0 888.2 1131.4 887.5 1131.8 887.5 1132.2 889.7 1132.6 890.5 1133.0 866.6 1133.4 869.9 1133.8 860.3 1134.2 860.3 1134.6 874.0 1135.0 874.4 1135.4 876.7 1135.8 874.0 1136.2 879.1 1136.6 883.5 1137.0 877.2 1137.4 877.2 1137.8 869.2 1138.2 881.6 1138.6 873.1 1138.9 869.2 1139.3 882.9 1139.7 882.7 1140.1 873.1 1140.5 873.1 1140.9 880.5 1141.3 886.8 1141.7 883.6 1142.1 880.5 1142.5 892.0 1142.9 891.8 1143.3 890.3 1143.7 890.3 1144.1 886.9 1144.5 886.2 1144.9 886.2 1145.3 887.4 1145.7 892.1 1146.1 892.5 1146.5 892.9 1146.9 892.1 1147.3 892.2 1147.7 891.6 1148.1 891.6 1148.5 892.0 1148.9 890.2 1149.3 890.2 1149.7 892.1 1150.1 891.4 1150.4 886.2 1150.8 880.6 1151.2 880.1 1151.6 880.1 1152.0 893.2 1152.4 893.2 1152.8 893.3 1153.2 893.6 1153.6 879.4 1154.0 879.4 1154.4 886.8 1154.8 883.1 1155.2 888.9 1155.6 890.0 1156.0 888.3 1156.4 888.3 1156.8 885.3 1157.2 892.1 1157.6 888.3 1158.0 885.3 1158.4 878.3 1158.8 882.7 1159.2 879.2 1159.6 878.3 1160.0 889.9 1160.4 880.6 1160.8 880.6 1161.2 887.5 1161.5 887.4 1161.9 885.8 1162.3 880.5 1162.7 880.5 1163.1 887.4 1163.5 893.0 1163.9 888.9 1164.3 887.4 1164.7 889.5 1165.1 883.3 1165.5 883.3 1165.9 885.2 1166.3 879.3 1166.7 878.7 1167.1 878.7 1167.5 881.5 1167.9 891.5 1168.3 887.1 1168.7 887.1 1169.1 891.2 1169.5 871.6 1169.9 871.6 1170.3 889.2 1170.7 877.0 1171.1 873.3 1171.5 883.9 1171.9 875.2 1172.3 873.3 1172.7 889.9 1173.0 886.0 1173.4 883.5 1173.8 883.5 1174.2 893.4 1174.6 893.4 1175.0 895.5 1175.4 894.9 1175.8 882.6 1176.2 881.2 1176.6 881.2 1177.0 888.1 1177.4 883.0 1177.8 883.0 1178.2 886.2 1178.6 893.0 1179.0 894.8 1179.4 894.8 1179.8 894.8 1180.2 896.6 1180.6 882.4 1181.0 880.8 1181.4 880.4 1181.8 880.4 1182.2 895.5 1182.6 895.5 1183.0 898.8 1183.4 898.1 1183.8 870.7 1184.2 890.7 1184.5 884.1 1184.9 870.7 1185.3 883.2 1185.7 883.2 1186.1 891.6 1186.5 892.9 1186.9 882.1 1187.3 868.3 1187.7 868.2 1188.1 868.2 1188.5 893.9 1188.9 893.9 1189.3 895.2 1189.7 895.9 1190.1 896.8 1190.5 898.2 1190.9 896.5 1191.3 896.5 1191.7 893.6 1192.1 893.6 1192.5 897.7 1192.9 896.2 1193.3 892.3 1193.7 884.0 1194.1 879.7 1194.5 879.7 1194.9 894.6 1195.3 894.6 1195.6 898.4 1196.0 895.4 1196.4 895.9 1196.8 895.6 1197.2 894.8 1197.6 894.8 1198.0 897.6 1198.4 897.6 1198.8 898.4 1199.2 897.8 1199.6 884.2 1200.0 884.2 1200.4 889.3 1200.8 895.9 1201.2 885.1 1201.6 881.9 1202.0 881.9 1202.4 889.2 1202.8 885.1 1203.2 885.1 1203.6 885.2 1204.0 889.8 1204.4 887.2 1204.8 887.3 1205.2 885.7 1205.6 884.6 1206.0 880.3 1206.4 877.0 1206.8 877.0 1207.1 877.8 1207.5 851.3 1207.9 845.0 1208.3 845.0 1208.7 846.8 1209.1 867.9 1209.5 869.9 1209.9 869.0 1210.3 867.9 1210.7 875.2 1211.1 875.0 1211.5 873.4 1211.9 873.4 1212.3 801.5 1212.7 828.0 1213.1 851.9 1213.5 801.5 1213.9 877.0 1214.3 875.5 1214.7 877.1 1215.1 876.4 1215.5 805.3 1215.9 840.6 1216.3 783.5 1216.7 783.5 1217.1 827.1 1217.5 829.9 1217.9 824.7 1218.2 824.7 1218.6 865.7 1219.0 869.1 1219.4 864.3 1219.8 864.3 1220.2 885.0 1220.6 884.2 1221.0 884.2 1221.4 887.6 1221.8 895.7 1222.2 896.1 1222.6 897.4 1223.0 895.7 1223.4 889.3 1223.8 890.9 1224.2 892.0 1224.6 889.3 1225.0 898.3 1225.4 898.3 1225.8 899.7 1226.2 899.0 1226.6 891.0 1227.0 891.0 1227.4 892.6 1227.8 898.6 1228.2 897.5 1228.6 899.0 1229.0 898.0 1229.4 897.5 1229.7 887.1 1230.1 887.2 1230.5 882.0 1230.9 882.0 1231.3 897.2 1231.7 897.2 1232.1 900.1 1232.5 901.0 1232.9 891.8 1233.3 896.0 1233.7 898.4 1234.1 891.8 1234.5 898.1 1234.9 898.1 1235.3 900.4 1235.7 900.4 1236.1 898.6 1236.5 901.2 1236.9 900.9 1237.3 898.6 1237.7 896.8 1238.1 896.8 1238.5 900.2 1238.9 897.9 1239.3 900.4 1239.7 896.2 1240.1 894.8 1240.5 894.8 1240.8 901.5 1241.2 901.2 1241.6 899.9 1242.0 901.5 1242.4 889.4 1242.8 889.4 1243.2 898.0 1243.6 896.9 1244.0 890.4 1244.4 899.4 1244.8 894.4 1245.2 890.4 1245.6 883.8 1246.0 889.1 1246.4 887.9 1246.8 883.8 1247.2 899.7 1247.6 897.5 1248.0 897.5 1248.4 900.8 1248.8 900.6 1249.2 899.2 1249.6 899.2 1250.0 900.0 1250.4 900.5 1250.8 899.3 1251.2 899.3 1251.6 899.4 1252.0 899.4 1252.3 900.6 1252.7 901.3 1253.1 899.4 1253.5 894.4 1253.9 892.8 1254.3 892.8 1254.7 897.8 1255.1 898.3 1255.5 898.6 1255.9 895.0 1256.3 895.0 1256.7 898.0 1257.1 897.1 1257.5 897.0 1257.9 897.2 1258.3 889.5 1258.7 890.2 1259.1 891.2 1259.5 889.5 1259.9 883.4 1260.3 886.7 1260.7 892.4 1261.1 883.4 1261.5 893.1 1261.9 892.0 1262.3 891.8 1262.7 891.8 1263.1 894.2 1263.5 893.9 1263.8 893.3 1264.2 893.3 1264.6 893.8 1265.0 894.6 1265.4 893.9 1265.8 893.5 1266.2 888.0 1266.6 889.6 1267.0 891.5 1267.4 888.0 1267.8 889.1 1268.2 888.5 1268.6 887.7 1269.0 889.1 1269.4 843.5 1269.8 843.5 1270.2 843.6 1270.6 855.4 1271.0 887.3 1271.4 882.5 1271.8 880.1 1272.2 880.1 1272.6 889.6 1273.0 889.6 1273.4 889.6 1273.8 889.9 1274.2 890.9 1274.6 887.2 1274.9 887.2 1275.3 891.5 1275.7 889.9 1276.1 889.9 1276.5 892.9 1276.9 891.6 1277.3 889.5 1277.7 894.4 1278.1 892.4 1278.5 889.5 1278.9 892.3 1279.3 892.3 1279.7 895.2 1280.1 892.4 1280.5 892.2 1280.9 893.3 1281.3 895.9 1281.7 892.2 1282.1 887.2 1282.5 887.2 1282.9 887.3 1283.3 889.3 1283.7 897.8 1284.1 898.5 1284.5 896.8 1284.9 896.8 1285.3 897.7 1285.7 897.7 1286.1 898.6 1286.4 899.5 1286.8 896.5 1287.2 896.5 1287.6 896.5 1288.0 898.1 1288.4 897.6 1288.8 894.0 1289.2 894.0 1289.6 898.9 1290.0 883.8 1290.4 886.9 1290.8 881.0 1291.2 881.0 1291.6 897.1 1292.0 892.5 1292.4 892.5 1292.8 898.7 1293.2 895.1 1293.6 893.9 1294.0 893.9 1294.4 895.9 1294.8 895.1 1295.2 898.2 1295.6 899.8 1296.0 895.1 1296.4 895.8 1296.8 895.6 1297.2 895.6 1297.5 900.1 1297.9 890.2 1298.3 899.4 1298.7 891.4 1299.1 890.2 1299.5 895.2 1299.9 892.0 1300.3 892.0 1300.7 892.3 1301.1 897.4 1301.5 899.4 1301.9 895.0 1302.3 895.0 1302.7 893.7 1303.1 897.1 1303.5 898.5 1303.9 893.7 1304.3 899.5 1304.7 897.4 1305.1 897.4 1305.5 900.2 1305.9 892.0 1306.3 898.2 1306.7 890.2 1307.1 890.2 1307.5 897.1 1307.9 898.4 1308.3 899.7 1308.7 897.1 1309.0 899.1 1309.4 899.6 1309.8 899.1 1310.2 899.1 1310.6 896.3 1311.0 898.4 1311.4 897.3 1311.8 896.3 1312.2 895.1 1312.6 898.5 1313.0 895.8 1313.4 895.1 1313.8 869.6 1314.2 867.9 1314.6 860.5 1315.0 860.5 1315.4 893.1 1315.8 893.1 1316.2 894.8 1316.6 893.3 1317.0 894.2 1317.4 898.8 1317.8 896.5 1318.2 894.2 1318.6 899.2 1319.0 898.0 1319.4 898.0 1319.8 898.7 1320.1 892.9 1320.5 896.3 1320.9 895.0 1321.3 892.9 1321.7 891.5 1322.1 891.5 1322.5 895.3 1322.9 893.3 1323.3 897.0 1323.7 896.6 1324.1 896.6 1324.5 897.1 1324.9 886.1 1325.3 883.1 1325.7 883.1 1326.1 887.5 1326.5 891.9 1326.9 898.4 1327.3 898.3 1327.7 891.9 1328.1 896.9 1328.5 899.3 1328.9 896.8 1329.3 896.8 1329.7 896.7 1330.1 896.7 1330.5 898.3 1330.9 897.5 1331.3 897.2 1331.6 895.4 1332.0 895.4 1332.4 899.0 1332.8 894.8 1333.2 894.8 1333.6 897.1 1334.0 897.3 1334.4 897.2 1334.8 898.1 1335.2 898.2 1335.6 897.2 1336.0 899.2 1336.4 899.5 1336.8 898.3 1337.2 898.2 1337.6 897.5 1338.0 897.9 1338.4 898.9 1338.8 897.5 1339.2 898.8 1339.6 897.8 1340.0 897.8 1340.4 898.9 1340.8 893.2 1341.2 893.8 1341.6 895.9 1342.0 893.2 1342.4 893.6 1342.8 891.5 1343.1 891.5 1343.5 894.1 1343.9 896.9 1344.3 899.7 1344.7 900.2 1345.1 896.9 1345.5 899.5 1345.9 899.3 1346.3 899.3 1346.7 900.3 1347.1 898.6 1347.5 898.1 1347.9 897.2 1348.3 897.2 1348.7 900.0 1349.1 898.8 1349.5 898.8 1349.9 900.0 1350.3 899.7 1350.7 900.3 1351.1 898.5 1351.5 898.5 1351.9 897.5 1352.3 896.7 1352.7 896.7 1353.1 899.0 1353.5 899.4 1353.9 899.5 1354.2 898.2 1354.6 898.2 1355.0 900.1 1355.4 900.0 1355.8 900.1 1356.2 899.8 1356.6 898.5 1357.0 898.4 1357.4 898.4 1357.8 899.4 1358.2 897.4 1358.6 895.2 1359.0 894.7 1359.4 893.0 1359.8 801.5 1360.2 801.5 1360.6 811.8 1361.0 812.0 1361.4 803.1 1361.8 765.5 1362.2 765.5 1362.6 791.6 1363.0 798.5 1363.4 795.5 1363.8 795.5 1364.2 824.5 1364.6 882.4 1365.0 876.0 1365.4 876.0 1365.7 883.0 1366.1 882.8 1366.5 882.8 1366.9 882.9 1367.3 884.4 1367.7 860.7 1368.1 856.4 1368.5 850.8 1368.9 850.8 1369.3 890.7 1369.7 891.7 1370.1 888.2 1370.5 888.2 1370.9 897.7 1371.3 897.7 1371.7 898.3 1372.1 898.2 1372.5 899.1 1372.9 899.8 1373.3 899.8 1373.7 899.4 1374.1 898.8 1374.5 899.8 1374.9 899.3 1375.3 898.8 1375.7 881.3 1376.1 881.3 1376.5 890.3 1376.8 892.7 1377.2 890.9 1377.6 895.2 1378.0 889.7 1378.4 889.7 1378.8 886.1 1379.2 886.1 1379.6 888.8 1380.0 886.9 1380.4 898.2 1380.8 895.3 1381.2 895.3 1381.6 896.5 1382.0 883.5 1382.4 895.4 1382.8 894.1 1383.2 883.5 1383.6 892.8 1384.0 880.8 1384.4 880.8 1384.8 887.4 1385.2 888.4 1385.6 888.4 1386.0 894.8 1386.4 891.8 1386.8 857.9 1387.2 882.8 1387.6 871.3 1388.0 857.9 1388.3 896.4 1388.7 886.7 1389.1 886.7 1389.5 892.7 1389.9 875.8 1390.3 875.8 1390.7 882.8 1391.1 879.0 1391.5 896.3 1391.9 896.8 1392.3 898.2 1392.7 896.3 1393.1 898.0 1393.5 898.1 1393.9 897.7 1394.3 898.0 1394.7 896.0 1395.1 893.8 1395.5 893.8 1395.9 893.9 1396.3 897.1 1396.7 896.3 1397.1 891.8 1397.5 891.8 1397.9 896.8 1398.3 897.3 1398.7 896.7 1399.1 896.7 1399.5 894.7 1399.8 893.1 1400.2 893.0 1400.6 893.0 1401.0 895.4 1401.4 896.8 1401.8 898.1 1402.2 895.4 1402.6 894.5 1403.0 894.5 1403.4 895.9 1403.8 898.6 1404.2 887.7 1404.6 887.4 1405.0 887.3 1405.4 887.3 1405.8 885.3 1406.2 892.0 1406.6 892.7 1407.0 885.3 1407.4 895.1 1407.8 895.1 1408.2 896.6 1408.6 897.8 1409.0 893.9 1409.4 896.0 1409.8 893.3 1410.2 893.3 1410.6 843.1 1410.9 843.1 1411.3 851.9 1411.7 862.2 1412.1 896.0 1412.5 892.5 1412.9 892.5 1413.3 897.7 1413.7 888.9 1414.1 888.9 1414.5 891.6 1414.9 892.1 1415.3 896.2 1415.7 896.5 1416.1 897.7 1416.5 896.2 1416.9 875.1 1417.3 880.9 1417.7 879.0 1418.1 875.1 1418.5 897.1 1418.9 897.1 1419.3 897.0 1419.7 897.2 1420.1 892.8 1420.5 894.5 1420.9 894.2 1421.3 892.8 1421.7 892.9 1422.1 892.9 1422.4 893.4 1422.8 894.0 1423.2 893.3 1423.6 893.9 1424.0 894.3 1424.4 891.8 1424.8 880.6 1425.2 887.3 1425.6 881.5 1426.0 880.6 1426.4 884.0 1426.8 883.3 1427.2 882.7 1427.6 882.8 1428.0 883.6 1428.4 882.4 1428.8 880.1 1429.2 880.1 1429.6 819.5 1430.0 819.5 1430.4 821.0 1430.8 828.6 1431.2 860.1 1431.6 873.2 1432.0 865.8 1432.4 860.1 1432.8 880.4 1433.2 880.4 1433.5 883.3 1433.9 881.9 1434.3 886.0 1434.7 870.0 1435.1 870.0 1435.5 877.4 1435.9 889.3 1436.3 881.9 1436.7 881.9 1437.1 889.5 1437.5 891.4 1437.9 891.7 1438.3 890.7 1438.7 890.7 1439.1 888.2 1439.5 888.6 1439.9 889.7 1440.3 888.2 1440.7 892.3 1441.1 892.4 1441.5 890.1 1441.9 890.1 1442.3 888.7 1442.7 886.4 1443.1 885.6 1443.5 885.6 1443.9 872.7 1444.3 883.0 1444.7 875.2 1445.0 872.7 1445.4 890.6 1445.8 890.6 1446.2 890.6 1446.6 892.5 1447.0 890.6 1447.4 889.6 1447.8 887.8 1448.2 887.8 1448.6 891.6 1449.0 890.6 1449.4 890.6 1449.8 892.8 1450.2 892.4 1450.6 890.6 1451.0 890.6 1451.4 890.8 1451.8 870.5 1452.2 885.6 1452.6 877.6 1453.0 870.5 1453.4 890.9 1453.8 890.9 1454.2 890.8 1454.6 889.0 1455.0 885.0 1455.4 887.9 1455.8 884.5 1456.1 884.5 1456.5 876.5 1456.9 867.8 1457.3 861.9 1457.7 861.9 1458.1 878.3 1458.5 874.7 1458.9 873.1 1459.3 873.1 1459.7 877.3 1460.1 880.5 1460.5 878.7 1460.9 877.3 1461.3 882.0 1461.7 881.2 1462.1 878.4 1462.5 878.4 1462.9 888.1 1463.3 888.3 1463.7 889.0 1464.1 888.1 1464.5 820.5 1464.9 825.8 1465.3 828.1 1465.7 820.5 1466.1 890.0 1466.5 890.0 1466.9 892.3 1467.3 890.9 1467.6 881.5 1468.0 881.5 1468.4 886.8 1468.8 888.4 1469.2 890.9 1469.6 890.9 1470.0 890.9 1470.4 892.1 1470.8 888.5 1471.2 888.5 1471.6 891.3 1472.0 892.8 1472.4 892.2 1472.8 890.2 1473.2 890.2 1473.6 892.3 1474.0 892.1 1474.4 885.3 1474.8 885.3 1475.2 889.6 1475.6 881.9 1476.0 880.0 1476.4 880.0 1476.8 882.9 1477.2 872.9 1477.6 871.7 1478.0 871.7 1478.4 874.5 1478.7 801.5 1479.1 812.5 1479.5 820.7 1479.9 801.5 1480.3 871.9 1480.7 871.9 1481.1 874.7 1481.5 875.1 1481.9 861.3 1482.3 876.4 1482.7 862.2 1483.1 861.3 1483.5 883.3 1483.9 883.3 1484.3 888.2 1484.7 887.4 1485.1 891.1 1485.5 891.1 1485.9 891.3 1486.3 892.5 1486.7 888.6 1487.1 885.6 1487.5 885.6 1487.9 886.6 1488.3 878.9 1488.7 878.9 1489.1 887.8 1489.5 882.4 1489.9 891.4 1490.2 888.7 1490.6 888.7 1491.0 893.2 1491.4 877.4 1491.8 877.4 1492.2 879.1 1492.6 886.3 1493.0 881.0 1493.4 881.3 1493.8 883.5 1494.2 881.0 1494.6 866.3 1495.0 879.2 1495.4 873.2 1495.8 866.3 1496.2 875.9 1496.6 875.9 1497.0 883.5 1497.4 876.7 1497.8 886.1 1498.2 886.2 1498.6 870.5 1499.0 870.5 1499.4 888.2 1499.8 888.4 1500.2 891.4 1500.6 888.2 1501.0 891.1 1501.4 885.2 1501.7 885.2 1502.1 891.3 1502.5 890.2 1502.9 889.1 1503.3 889.1 1503.7 890.5 1504.1 886.8 1504.5 886.6 1504.9 886.6 1505.3 888.7 1505.7 888.3 1506.1 887.8 1506.5 887.7 1506.9 887.4 1507.3 882.5 1507.7 885.3 1508.1 884.0 1508.5 882.5 1508.9 879.8 1509.3 882.5 1509.7 879.1 1510.1 879.1 1510.5 873.9 1510.9 877.5 1511.3 877.7 1511.7 873.9 1512.1 858.0 1512.5 858.0 1512.8 863.3 1513.2 862.9 1513.6 867.4 1514.0 867.6 1514.4 868.0 1514.8 867.4 1515.2 858.6 1515.6 846.2 1516.0 810.7 1516.4 810.7 1516.8 870.4 1517.2 858.0 1517.6 858.0 1518.0 860.1 1518.4 867.8 1518.8 867.8 1519.2 869.7 1519.6 870.0 1520.0 885.4 1520.4 882.9 1520.8 882.8 1521.2 882.8 1521.6 873.5 1522.0 843.5 1522.4 838.2 1522.8 838.2 1523.2 889.2 1523.6 888.4 1524.0 888.4 1524.3 890.3 1524.7 851.2 1525.1 859.0 1525.5 831.5 1525.9 831.5 1526.3 887.1 1526.7 884.0 1527.1 882.4 1527.5 882.4 1527.9 888.3 1528.3 887.7 1528.7 888.1 1529.1 887.7 1529.5 867.4 1529.9 867.4 1530.3 873.7 1530.7 869.3 1531.1 885.7 1531.5 886.6 1531.9 888.2 1532.3 885.7 1532.7 872.5 1533.1 867.5 1533.5 867.5 1533.9 871.1 1534.3 883.3 1534.7 880.2 1535.1 877.6 1535.4 877.6 1535.8 886.8 1536.2 888.6 1536.6 886.3 1537.0 886.3 1537.4 846.1 1537.8 846.1 1538.2 857.8 1538.6 855.6 1539.0 884.1 1539.4 878.9 1539.8 878.9 1540.2 879.2 1540.6 880.3 1541.0 881.1 1541.4 876.1 1541.8 876.1 1542.2 883.2 1542.6 882.9 1543.0 882.1 1543.4 882.1 1543.8 880.4 1544.2 878.8 1544.6 878.8 1545.0 880.3 1545.4 866.9 1545.8 865.9 1546.2 864.2 1546.6 864.2 1546.9 869.5 1547.3 867.5 1547.7 867.5 1548.1 871.7 1548.5 878.3 1548.9 874.6 1549.3 874.6 1549.7 879.6 1550.1 860.3 1550.5 833.5 1550.9 833.5 1551.3 839.4 1551.7 879.5 1552.1 879.5 1552.5 879.9 1552.9 878.7 1553.3 859.1 1553.7 825.5 1554.1 825.5 1554.5 858.1 1554.9 847.9 1555.3 847.9 1555.7 860.4 1556.1 864.5 1556.5 870.5 1556.9 865.4 1557.3 865.4 1557.7 866.9 1558.0 846.8 1558.4 834.6 1558.8 834.6 1559.2 846.2 1559.6 848.6 1560.0 860.1 1560.4 853.7 1560.8 848.6 1561.2 865.8 1561.6 866.2 1562.0 869.4 1562.4 865.8 1562.8 876.3 1563.2 876.3 1563.6 870.8 1564.0 870.8 1564.4 872.0 1564.8 867.7 1565.2 865.6 1565.6 865.6 1566.0 871.4 1566.4 871.4 1566.8 872.7 1567.2 873.2 1567.6 872.0 1568.0 872.3 1568.4 868.2 1568.8 868.2 1569.2 868.1 1569.5 871.1 1569.9 865.0 1570.3 865.0 1570.7 862.0 1571.1 868.6 1571.5 867.8 1571.9 862.0 1572.3 870.6 1572.7 870.6 1573.1 873.8 1573.5 870.9 1573.9 865.2 1574.3 869.6 1574.7 869.6 1575.1 865.2 1575.5 874.3 1575.9 872.3 1576.3 872.3 1576.7 874.1 1577.1 873.1 1577.5 868.5 1577.9 868.5 1578.3 872.4 1578.7 870.5 1579.1 870.5 1579.5 873.3 1579.9 873.1 1580.3 865.9 1580.7 871.0 1581.0 865.7 1581.4 865.7 1581.8 865.8 1582.2 857.4 1582.6 857.4 1583.0 869.4 1583.4 856.2 1583.8 856.0 1584.2 855.5 1584.6 855.5 1585.0 847.1 1585.4 833.0 1585.8 833.0 1586.2 833.4 1586.6 857.7 1587.0 857.7 1587.4 872.2 1587.8 874.6 1588.2 879.2 1588.6 879.2 1589.0 884.9 1589.4 880.1 1589.8 879.2 1590.2 885.6 1590.6 884.6 1591.0 884.6 1591.4 886.5 1591.8 886.1 1592.1 885.4 1592.5 885.4 1592.9 885.0 1593.3 884.6 1593.7 884.6 1594.1 885.9 1594.5 886.6 1594.9 885.9 1595.3 885.8 1595.7 885.8 1596.1 885.4 1596.5 877.7 1596.9 877.7 1597.3 885.0 1597.7 879.2 1598.1 874.2 1598.5 874.2 1598.9 877.0 1599.3 884.6 1599.7 884.6 1600.1 885.7 1600.5 886.6 1600.9 882.9 1601.3 884.1 1601.7 883.4 1602.1 882.9 1602.5 882.9 1602.9 882.2 1603.3 882.3 1603.6 884.5 1604.0 881.9 1604.4 884.5 1604.8 882.2 1605.2 881.9 1605.6 885.1 1606.0 878.4 1606.4 878.4 1606.8 883.9 1607.2 885.8 1607.6 884.9 1608.0 884.9 1608.4 885.4 1608.8 885.1 1609.2 882.4 1609.6 882.0 1610.0 882.0 1610.4 882.6 1610.8 883.4 1611.2 883.0 1611.6 882.6 1612.0 883.8 1612.4 883.8 1612.8 885.0 1613.2 884.6 1613.6 883.8 1614.0 880.6 1614.4 880.6 1614.7 884.8 1615.1 885.2 1615.5 883.9 1615.9 883.9 1616.3 884.3 1616.7 880.8 1617.1 883.1 1617.5 883.8 1617.9 880.8 1618.3 884.9 1618.7 885.2 1619.1 885.9 1619.5 884.9 1619.9 884.9 1620.3 882.5 1620.7 883.0 1621.1 882.9 1621.5 883.6 1621.9 882.9 1622.3 882.9 1622.7 883.8 1623.1 879.2 1623.5 883.9 1623.9 880.0 1624.3 879.2 1624.7 882.7 1625.1 882.7 1625.5 885.8 1625.9 884.8 1626.2 882.7 1626.6 884.3 1627.0 885.3 1627.4 884.1 1627.8 884.2 1628.2 883.8 1628.6 883.8 1629.0 883.9 1629.4 884.3 1629.8 884.3 1630.2 884.0 1630.6 884.0 1631.0 885.7 1631.4 884.1 1631.8 885.0 1632.2 884.8 1632.6 883.1 1633.0 884.0 1633.4 879.3 1633.8 879.3 1634.2 884.5 1634.6 880.1 1635.0 880.1 1635.4 882.6 1635.8 884.2 1636.2 884.7 1636.6 883.1 1637.0 883.1 1637.3 884.1 1637.7 884.0 1638.1 884.2 1638.5 884.9 1638.9 867.3 1639.3 867.3 1639.7 872.9 1640.1 868.3 1640.5 882.4 1640.9 881.1 1641.3 881.1 1641.7 883.2 1642.1 880.8 1642.5 880.9 1642.9 883.6 1643.3 880.8 1643.7 880.8 1644.1 884.8 1644.5 882.4 1644.9 881.3 1645.3 875.5 1645.7 875.5 1646.1 876.4 1646.5 880.2 1646.9 882.2 1647.3 884.1 1647.7 884.5 1648.1 882.2 1648.5 881.7 1648.8 883.5 1649.2 881.2 1649.6 881.2 1650.0 883.5 1650.4 876.3 1650.8 877.8 1651.2 872.4 1651.6 883.3 1652.0 883.9 1652.4 884.9 1652.8 883.3 1653.2 843.3 1653.6 815.6 1654.0 807.5 1654.4 807.5 1654.8 879.5 1655.2 880.7 1655.6 881.1 1656.0 879.5 1656.4 872.8 1656.8 877.7 1657.2 878.6 1657.6 872.8 1658.0 879.5 1658.4 880.3 1658.8 883.6 1659.2 879.5 1659.6 819.5 1660.0 840.7 1660.3 827.4 1660.7 819.5 1661.1 819.5 1661.5 881.9 1661.9 882.4 1662.3 880.8 1662.7 870.3 1663.1 870.3 1663.5 871.5 1663.9 875.0 1664.3 858.2 1664.7 863.0 1665.1 851.7 1665.5 851.7 1665.9 864.3 1666.3 867.1 1666.7 864.4 1667.1 864.3 1667.5 864.3 1667.9 879.7 1668.3 879.4 1668.7 878.4 1669.1 874.8 1669.5 874.8 1669.9 878.6 1670.3 879.4 1670.7 882.9 1671.1 881.0 1671.4 880.7 1671.8 880.7 1672.2 882.1 1672.6 882.1 1673.0 882.9 1673.4 882.5 1673.8 882.1 1674.2 873.7 1674.6 872.9 1675.0 872.9 1675.4 883.2 1675.8 883.4 1676.2 883.4 1676.6 883.2 1677.0 880.7 1677.4 882.0 1677.8 882.0 1678.2 880.7 1678.6 885.2 1679.0 884.1 1679.4 884.2 1679.8 884.7 1680.2 884.1 1680.6 883.2 1681.0 882.1 1681.4 882.1 1681.8 884.2 1682.2 885.5 1682.6 884.6 1682.9 884.6 1683.3 847.6 1683.7 847.0 1684.1 847.0 1684.5 868.9 1684.9 875.6 1685.3 875.6 1685.7 877.2 1686.1 881.4 1686.5 877.6 1686.9 882.2 1687.3 881.0 1687.7 877.6 1688.1 882.8 1688.5 879.4 1688.9 879.4 1689.3 879.7 1689.7 878.3 1690.1 881.9 1690.5 882.1 1690.9 878.3 1691.3 877.4 1691.7 877.4 1692.1 879.9 1692.5 878.1 1692.9 873.3 1693.3 875.8 1693.7 878.0 1694.0 873.3 1694.4 876.1 1694.8 876.1 1695.2 877.7 1695.6 877.7 1696.0 836.1 1696.4 819.5 1696.8 819.5 1697.2 822.5 1697.6 871.6 1698.0 875.4 1698.4 871.4 1698.8 871.4 1699.2 880.5 1699.6 880.1 1700.0 881.9 1700.4 880.5 1700.8 882.9 1701.2 882.1 1701.6 882.1 1702.0 883.6 1702.4 882.3 1702.8 882.3 1703.2 884.3 1703.6 883.7 1704.0 883.8 1704.4 884.0 1704.8 883.2 1705.2 883.2 1705.5 883.7 1705.9 884.1 1706.3 884.3 1706.7 884.7 1707.1 862.1 1707.5 849.8 1707.9 849.8 1708.3 867.3 1708.7 883.8 1709.1 883.2 1709.5 883.2 1709.9 883.9 1710.3 879.0 1710.7 881.9 1711.1 879.7 1711.5 879.0 1711.9 883.4 1712.3 883.4 1712.7 884.4 1713.1 884.0 1713.5 882.4 1713.9 882.4 1714.3 882.8 1714.7 883.8 1715.1 881.8 1715.5 881.8 1715.9 883.1 1716.3 881.9 1716.7 884.2 1717.0 883.2 1717.4 883.2 1717.8 884.8 1718.2 883.6 1718.6 883.8 1719.0 885.3 1719.4 884.5 1719.8 882.2 1720.2 884.7 1720.6 883.3 1721.0 882.2 1721.4 873.5 1721.8 873.5 1722.2 875.4 1722.6 875.3 1723.0 882.2 1723.4 880.5 1723.8 879.7 1724.2 879.7 1724.6 874.3 1725.0 874.2 1725.4 874.2 1725.8 876.0 1726.2 883.7 1726.6 884.0 1727.0 883.5 1727.4 883.5 1727.8 883.5 1728.1 883.6 1728.5 882.9 1728.9 884.4 1729.3 882.7 1729.7 884.0 1730.1 883.2 1730.5 882.9 1730.9 881.8 1731.3 880.6 1731.7 880.6 1732.1 882.9 1732.5 874.5 1732.9 874.5 1733.3 880.7 1733.7 877.3 1734.1 876.1 1734.5 880.3 1734.9 879.1 1735.3 876.1 1735.7 879.4 1736.1 879.6 1736.5 882.1 1736.9 879.4 1737.3 881.2 1737.7 882.5 1738.1 881.7 1738.5 881.2 1738.9 880.8 1739.3 876.7 1739.6 876.7 1740.0 879.6 1740.4 879.7 1740.8 881.0 1741.2 879.3 1741.6 879.3 1742.0 884.3 1742.4 884.4 1742.8 883.8 1743.2 884.6 1743.6 881.9 1744.0 881.9 1744.4 882.6 1744.8 882.9 1745.2 883.0 1745.6 884.4 1746.0 881.4 1746.4 881.4 1746.8 881.1 1747.2 881.1 1747.6 882.8 1748.0 881.3 1748.4 880.5 1748.8 880.9 1749.2 883.7 1749.6 880.5 1750.0 880.4 1750.4 882.7 1750.7 880.2 1751.1 880.2 1751.5 877.4 1751.9 882.7 1752.3 877.1 1752.7 877.1 1753.1 878.4 1753.5 875.9 1753.9 875.4 1754.3 875.4 1754.7 883.2 1755.1 882.7 1755.5 883.2 1755.9 883.2 1756.3 882.9 1756.7 882.9 1757.1 883.9 1757.5 883.0 1757.9 882.5 1758.3 882.7 1758.7 882.9 1759.1 882.5 1759.5 880.4 1759.9 879.6 1760.3 879.6 1760.7 880.7 1761.1 881.7 1761.5 878.3 1761.9 878.3 1762.2 882.3 1762.6 883.6 1763.0 884.2 1763.4 882.7 1763.8 882.7 1764.2 881.8 1764.6 881.8 1765.0 883.2 1765.4 882.4 1765.8 880.4 1766.2 879.5 1766.6 879.5 1767.0 880.5 1767.4 875.2 1767.8 876.6 1768.2 874.1 1768.6 874.1 1769.0 878.5 1769.4 875.9 1769.8 875.8 1770.2 875.8 1770.6 877.0 1771.0 879.4 1771.4 879.4 1771.8 877.0 1772.2 874.9 1772.6 874.9 1773.0 877.3 1773.3 879.2 1773.7 857.4 1774.1 843.5 1774.5 843.5 1774.9 857.6 1775.3 881.6 1775.7 882.2 1776.1 881.3 1776.5 881.9 1776.9 881.3 1777.3 879.3 1777.7 879.3 1778.1 882.0 1778.5 882.5 1778.9 881.8 1779.3 882.1 1779.7 882.2 1780.1 882.8 1780.5 882.3 1780.9 882.1 1781.3 882.9 1781.7 874.5 1782.1 874.5 1782.5 877.3 1782.9 879.6 1783.3 876.8 1783.7 879.0 1784.1 874.6 1784.5 874.6 1784.8 881.4 1785.2 881.6 1785.6 880.6 1786.0 880.6 1786.4 882.4 1786.8 881.6 1787.2 881.8 1787.6 881.4 1788.0 875.6 1788.4 881.1 1788.8 880.6 1789.2 875.6 1789.6 882.8 1790.0 880.1 1790.4 880.1 1790.8 881.5 1791.2 882.2 1791.6 881.1 1792.0 880.0 1792.4 880.0 1792.8 880.3 1793.2 880.7 1793.6 882.5 1794.0 880.3 1794.4 879.1 1794.8 879.1 1795.2 880.5 1795.6 879.1 1795.9 881.4 1796.3 881.6 1796.7 882.3 1797.1 881.8 1797.5 882.4 1797.9 881.2 1798.3 881.2 1798.7 881.4 1799.1 880.1 1799.5 877.3 1799.9 877.3 1800.3 880.0 1800.7 875.6 1801.1 880.4 1801.5 875.0 1801.9 875.0 1802.3 877.4 1802.7 877.4 1803.1 879.5 1803.5 877.9 1803.9 880.0 1804.3 872.4 1804.7 872.4 1805.1 877.3 1805.5 882.5 1805.9 880.3 1806.3 879.9 1806.7 879.9 1807.1 882.2 1807.4 880.6 1807.8 880.6 1808.2 881.0 1808.6 881.8 1809.0 879.0 1809.4 879.0 1809.8 881.6 1810.2 881.7 1810.6 881.8 1811.0 880.7 1811.4 880.7 1811.8 882.0 1812.2 881.2 1812.6 880.6 1813.0 880.6 1813.4 882.8 1813.8 882.4 1814.2 883.0 1814.6 882.6 1815.0 882.0 1815.4 881.7 1815.8 882.8 1816.2 882.8 1816.6 880.4 1817.0 879.1 1817.4 879.1 1817.8 882.2 1818.2 883.0 1818.6 881.7 1818.9 881.7 1819.3 881.7 1819.7 880.5 1820.1 880.4 1820.5 880.4 1820.9 879.9 1821.3 877.7 1821.7 875.7 1822.1 875.7 1822.5 879.1 1822.9 872.6 1823.3 871.3 1823.7 870.0 1824.1 870.0 1824.5 877.7 1824.9 877.6 1825.3 877.6 1825.7 878.2 1826.1 873.7 1826.5 873.7 1826.9 878.2 1827.3 878.5 1827.7 879.4 1828.1 879.7 1828.5 880.7 1828.9 879.4 1829.3 876.8 1829.7 876.8 1830.0 877.9 1830.4 878.1 1830.8 874.3 1831.2 876.0 1831.6 876.8 1832.0 874.3 1832.4 877.0 1832.8 877.0 1833.2 878.1 1833.6 877.4 1834.0 863.7 1834.4 863.7 1834.8 865.0 1835.2 866.8 1835.6 877.0 1836.0 877.1 1836.4 877.9 1836.8 877.8 1837.2 877.2 1837.6 875.7 1838.0 875.0 1838.4 875.0 1838.8 879.9 1839.2 879.0 1839.6 879.5 1840.0 879.3 1840.4 879.7 1840.8 880.0 1841.2 880.2 1841.5 880.7 1841.9 869.8 1842.3 869.8 1842.7 871.4 1843.1 874.1 1843.5 880.8 1843.9 881.7 1844.3 881.1 1844.7 881.2 1845.1 880.5 1845.5 881.1 1845.9 881.4 1846.3 881.6 1846.7 879.3 1847.1 879.1 1847.5 879.1 1847.9 880.0 1848.3 872.1 1848.7 868.0 1849.1 868.0 1849.5 868.6 1849.9 878.8 1850.3 877.7 1850.7 877.7 1851.1 878.8 1851.5 878.9 1851.9 878.4 1852.3 876.9 1852.6 876.9 1853.0 871.1 1853.4 871.1 1853.8 874.7 1854.2 873.9 1854.6 879.3 1855.0 879.3 1855.4 879.1 1855.8 878.7 1856.2 879.5 1856.6 878.5 1857.0 878.5 1857.4 878.6 1857.8 867.7 1858.2 867.7 1858.6 876.4 1859.0 867.9 1859.4 879.0 1859.8 880.0 1860.2 879.9 1860.6 880.4 1861.0 874.5 1861.4 876.1 1861.8 878.2 1862.2 874.5 1862.6 875.7 1863.0 875.7 1863.4 877.4 1863.8 876.4 1864.1 875.1 1864.5 879.7 1864.9 876.5 1865.3 875.1 1865.7 876.2 1866.1 876.2 1866.5 877.9 1866.9 877.5 1867.3 881.0 1867.7 876.1 1868.1 876.1 1868.5 878.2 1868.9 876.2 1869.3 876.2 1869.7 876.8 1870.1 878.5 1870.5 878.7 1870.9 882.0 1871.3 877.3 1871.7 877.3 1872.1 881.8 1872.5 880.4 1872.9 879.8 1873.3 879.8 1873.7 881.8 1874.1 881.8 1874.5 882.7 1874.9 881.8 1875.2 880.3 1875.6 880.3 1876.0 882.1 1876.4 880.4 1876.8 882.8 1877.2 882.1 1877.6 882.0 1878.0 882.0 1878.4 881.4 1878.8 880.1 1879.2 880.1 1879.6 880.4 1880.0 870.4 1880.4 847.3 1880.8 847.3 1881.2 864.1 1881.6 879.9 1882.0 879.9 1882.4 881.6 1882.8 881.8 1883.2 882.9 1883.6 883.5 1884.0 882.6 1884.4 882.2 1884.8 881.4 1885.2 879.2 1885.6 879.2 1886.0 880.5 1886.4 876.8 1886.7 879.2 1887.1 877.8 1887.5 876.8 1887.9 868.6 1888.3 873.0 1888.7 864.7 1889.1 864.7 1889.5 820.4 1889.9 813.5 1890.3 813.5 1890.7 818.0 1891.1 852.0 1891.5 847.1 1891.9 842.3 1892.3 842.3 1892.7 869.5 1893.1 871.2 1893.5 869.5 1893.9 869.5 1894.3 870.7 1894.7 870.5 1895.1 870.5 1895.5 870.8 1895.9 872.7 1896.3 873.8 1896.7 873.6 1897.1 875.0 1897.5 874.8 1897.9 875.0 1898.2 874.8 1898.6 874.8 1899.0 864.2 1899.4 864.2 1899.8 865.9 1900.2 865.5 1900.6 880.0 1901.0 879.0 1901.4 879.4 1901.8 880.0 1902.2 880.7 1902.6 880.7 1903.0 882.3 1903.4 880.9 1903.8 883.2 1904.2 883.6 1904.6 884.0 1905.0 883.2 1905.4 883.2 1905.8 884.4 1906.2 884.1 1906.6 883.5 1907.0 883.5 1907.4 883.4 1907.8 881.6 1908.2 881.6 1908.6 883.2 1909.0 882.8 1909.3 882.8 1909.7 883.7 1910.1 883.9 1910.5 884.2 1910.9 883.4 1911.3 883.2 1911.7 883.2 1912.1 884.2 1912.5 883.3 1912.9 884.2 1913.3 882.3 1913.7 884.1 1914.1 882.6 1914.5 882.3 1914.9 884.6 1915.3 884.2 1915.7 883.5 1916.1 883.4 1916.5 884.1 1916.9 884.6 1917.3 883.2 1917.7 884.0 1918.1 883.7 1918.5 883.1 1918.9 884.4 1919.3 884.1 1919.7 880.7 1920.1 880.7 1920.5 881.1 1920.8 881.8 1921.2 883.0 1921.6 883.8 1922.0 883.7 1922.4 884.7 1922.8 883.8 1923.2 883.2 1923.6 884.7 1924.0 884.0 1924.4 884.3 1924.8 883.5 1925.2 883.3 1925.6 883.0 1926.0 883.1 1926.4 883.2 1926.8 883.2 1927.2 883.7 1927.6 883.0 1928.0 883.8 1928.4 882.9 1928.8 883.3 1929.2 882.9 1929.6 883.6 1930.0 882.8 1930.4 882.8 1930.8 884.3 1931.2 884.0 1931.6 883.1 1931.9 883.5 1932.3 883.8 1932.7 884.7 1933.1 883.8 1933.5 883.8 1933.9 883.2 1934.3 884.1 1934.7 883.6 1935.1 883.5 1935.5 883.7 1935.9 884.1 1936.3 882.3 1936.7 882.3 1937.1 883.5 1937.5 884.8 1937.9 883.6 1938.3 883.8 1938.7 882.5 1939.1 882.5 1939.5 882.6 1939.9 883.3 1940.3 884.4 1940.7 884.6 1941.1 885.0 1941.5 884.3 1941.9 882.0 1942.3 884.1 1942.7 882.3 1943.1 882.0 1943.4 884.0 1943.8 884.7 1944.2 884.1 1944.6 884.4 1945.0 883.4 1945.4 884.7 1945.8 884.3 1946.2 884.3 1946.6 884.1 1947.0 883.7 1947.4 883.5 1947.8 884.6 1948.2 883.6 1948.6 884.2 1949.0 884.2 1949.4 883.6 1949.8 884.8 1950.2 884.9 1950.6 884.6 1951.0 884.1 1951.4 884.2 1951.8 883.6 1952.2 884.0 1952.6 884.1 1953.0 884.7 1953.4 884.1 1953.8 884.0 1954.2 884.3 1954.5 882.7 1954.9 884.1 1955.3 883.8 1955.7 882.7 1956.1 884.3 1956.5 883.9 1956.9 884.7 1957.3 884.3 1957.7 884.0 1958.1 884.7 1958.5 883.8 1958.9 884.0 1959.3 884.4 1959.7 882.5 1960.1 882.5 1960.5 883.6 1960.9 883.6 1961.3 884.1 1961.7 884.4 1962.1 884.7 1962.5 883.9 1962.9 883.5 1963.3 883.6 1963.7 883.5 1964.1 883.6 1964.5 884.1 1964.9 885.1 1965.3 883.4 1965.7 884.1 1966.0 884.6 1966.4 884.5 1966.8 884.1 1967.2 883.5 1967.6 883.6 1968.0 883.8 1968.4 883.8 1968.8 884.7 1969.2 884.8 1969.6 884.5 1970.0 885.0 1970.4 882.3 1970.8 882.3 1971.2 883.5 1971.6 884.4 1972.0 884.0 1972.4 884.8 1972.8 884.9 1973.2 883.9 1973.6 885.0 1974.0 884.4 1974.4 884.5 1974.8 884.4 1975.2 883.6 1975.6 884.3 1976.0 884.2 1976.4 883.7 1976.8 883.6 1977.2 883.7 1977.5 884.5 1977.9 884.8 1978.3 885.0 1978.7 883.9 1979.1 884.2 1979.5 884.9 1979.9 883.7 1980.3 884.4 1980.7 884.1 1981.1 883.7 1981.5 884.1 1981.9 884.6 1982.3 883.9 1982.7 883.5 1983.1 883.9 1983.5 884.5 1983.9 883.6 1984.3 884.0 1984.7 883.7 1985.1 884.5 1985.5 883.6 1985.9 884.7 1986.3 883.9 1986.7 883.9 1987.1 884.0 1987.5 884.9 1987.9 884.0 1988.3 883.6 1988.6 884.7 1989.0 884.8 1989.4 884.3 1989.8 884.0 1990.2 884.3 1990.6 884.2 1991.0 884.6 1991.4 884.8 1991.8 883.9 1992.2 884.4 1992.6 883.9 1993.0 885.2 1993.4 884.9 1993.8 885.2 1994.2 884.7 1994.6 884.6 1995.0 884.7 1995.4 884.4 1995.8 884.7 1996.2 885.1 1996.6 884.1 1997.0 885.0 1997.4 885.5 1997.8 885.4 1998.2 885.6 1998.6 884.9 1999.0 885.3 1999.4 885.6 1999.8 884.6 2000.1 885.3 2000.5 886.2 2000.9 884.9 2001.3 885.4 2001.7 885.4 2002.1 886.0 2002.5 885.2 2002.9 884.4 2003.3 885.4 2003.7 884.3 2004.1 883.6 2004.5 883.3 2004.9 883.3 2005.3 884.6 2005.7 884.8 2006.1 884.5 2006.5 884.5 2006.9 884.1 2007.3 885.4 2007.7 885.0 2008.1 884.6 2008.5 883.9 2008.9 884.6 2009.3 884.6 2009.7 884.4 2010.1 885.1 2010.5 884.6 2010.9 885.2 2011.2 885.1 2011.6 884.9 2012.0 883.7 2012.4 884.9 2012.8 885.0 2013.2 882.5 2013.6 883.9 2014.0 882.5 2014.4 882.5 2014.8 884.9 2015.2 884.9 2015.6 885.0 2016.0 884.4 2016.4 884.6 2016.8 885.3 2017.2 884.3 2017.6 884.4 2018.0 884.5 2018.4 884.1 2018.8 884.4 2019.2 884.6 2019.6 885.0 2020.0 884.0 2020.4 884.3 2020.8 885.0 2021.2 884.3 2021.6 884.3 2022.0 885.5 2022.4 884.3 2022.7 883.9 2023.1 883.8 2023.5 883.8 2023.9 884.0 2024.3 884.7 2024.7 884.6 2025.1 885.1 2025.5 884.7 2025.9 884.0 2026.3 884.2 2026.7 885.0 2027.1 884.0 2027.5 883.9 2027.9 883.9 2028.3 885.1 2028.7 885.0 2029.1 884.4 2029.5 884.1 2029.9 884.0 2030.3 884.8 2030.7 885.1 2031.1 883.9 2031.5 885.3 2031.9 884.0 2032.3 876.8 2032.7 876.6 2033.1 865.4 2033.5 865.4 2033.8 883.8 2034.2 884.6 2034.6 884.6 2035.0 884.5 2035.4 884.9 2035.8 883.4 2036.2 883.4 2036.6 884.5 2037.0 884.0 2037.4 884.9 2037.8 885.1 2038.2 884.8 2038.6 882.3 2039.0 883.5 2039.4 883.9 2039.8 882.3 2040.2 884.8 2040.6 884.2 2041.0 884.2 2041.4 884.2 2041.8 884.3 2042.2 883.9 2042.6 884.3 2043.0 884.3 2043.4 884.7 2043.8 884.4 2044.2 883.7 2044.6 885.0 2045.0 884.7 2045.3 884.8 2045.7 885.0 2046.1 884.4 2046.5 885.3 2046.9 883.7 2047.3 885.3 2047.7 883.7 2048.1 882.3 2048.5 883.2 2048.9 883.9 2049.3 882.3 2049.7 884.1 2050.1 884.6 2050.5 884.3 2050.9 884.0 2051.3 885.0 2051.7 885.5 2052.1 884.3 2052.5 884.3 2052.9 884.4 2053.3 884.6 2053.7 884.3 2054.1 884.4 2054.5 884.3 2054.9 884.9 2055.3 885.4 2055.7 884.6 2056.1 885.2 2056.5 884.7 2056.8 884.4 2057.2 884.3 2057.6 885.6 2058.0 884.0 2058.4 885.5 2058.8 884.8 2059.2 884.8 2059.6 885.0 2060.0 885.2 2060.4 884.5 2060.8 884.2 2061.2 884.3 2061.6 883.9 2062.0 885.0 2062.4 884.6 2062.8 884.3 2063.2 885.2 2063.6 885.4 2064.0 884.0 2064.4 885.0 2064.8 884.3 2065.2 884.3 2065.6 885.2 2066.0 883.7 2066.4 884.5 2066.8 884.8 2067.2 883.9 2067.6 884.4 2067.9 883.0 2068.3 883.0 2068.7 884.0 2069.1 884.0 2069.5 883.8 2069.9 884.8 2070.3 883.8 2070.7 883.9 2071.1 884.0 2071.5 884.1 2071.9 884.7 2072.3 885.0 2072.7 883.6 2073.1 884.3 2073.5 884.1 2073.9 883.6 2074.3 883.8 2074.7 883.6 2075.1 883.6 2075.5 883.4 2075.9 883.4 2076.3 883.7 2076.7 884.0 2077.1 884.3 2077.5 884.1 2077.9 885.0 2078.3 884.3 2078.7 883.8 2079.1 884.9 2079.4 885.4 2079.8 884.2 2080.2 883.7 2080.6 883.7 2081.0 884.4 2081.4 884.6 2081.8 884.3 2082.2 883.8 2082.6 885.5 2083.0 884.6 2083.4 884.8 2083.8 885.2 2084.2 884.6 2084.6 883.6 2085.0 884.2 2085.4 882.6 2085.8 882.6 2086.2 884.4 2086.6 884.5 2087.0 884.5 2087.4 884.2 2087.8 884.6 2088.2 883.1 2088.6 883.1 2089.0 884.0 2089.4 884.9 2089.8 884.3 2090.2 884.8 2090.5 885.5 2090.9 884.7 2091.3 884.9 2091.7 884.3 2092.1 885.1 2092.5 883.6 2092.9 883.9 2093.3 883.5 2093.7 883.5 2094.1 884.8 2094.5 885.5 2094.9 885.6 2095.3 885.5 2095.7 885.3 2096.1 885.5 2096.5 884.6 2096.9 885.6 2097.3 884.5 2097.7 884.5 2098.1 884.7 2098.5 885.4 2098.9 885.0 2099.3 885.3 2099.7 886.0 2100.1 885.7 2100.5 885.3 2100.9 886.6 2101.3 885.2 2101.7 885.5 2102.0 885.5 2102.4 886.2 2102.8 885.7 2103.2 885.7 2103.6 886.3 2104.0 885.3 2104.4 885.2 2104.8 885.6 2105.2 886.5 2105.6 885.9 2106.0 885.2 2106.4 885.2 2106.8 885.3 2107.2 885.1 2107.6 886.7 2108.0 885.1 2108.4 886.3 2108.8 885.2 2109.2 885.2 2109.6 885.3 2110.0 885.9 2110.4 885.8 2110.8 885.4 2111.2 885.6 2111.6 885.6 2112.0 885.6 2112.4 885.8 2112.8 885.2 2113.2 886.0 2113.5 884.4 2113.9 884.4 2114.3 885.3 2114.7 886.1 2115.1 886.8 2115.5 885.5 2115.9 886.7 2116.3 885.9 2116.7 885.3 2117.1 886.1 2117.5 886.5 2117.9 886.6 2118.3 885.4 2118.7 885.7 2119.1 886.6 2119.5 886.0 2119.9 885.6 2120.3 885.4 2120.7 886.7 2121.1 885.5 2121.5 886.0 2121.9 886.7 2122.3 886.4 2122.7 883.7 2123.1 885.6 2123.5 885.4 2123.9 883.7 2124.3 885.6 2124.6 886.6 2125.0 886.6 2125.4 886.6 2125.8 885.1 2126.2 886.4 2126.6 885.2 2127.0 885.1 2127.4 887.0 2127.8 885.7 2128.2 886.8 2128.6 887.0 2129.0 885.9 2129.4 885.7 2129.8 886.5 2130.2 886.4 2130.6 886.6 2131.0 886.1 2131.4 885.6 2131.8 885.6 2132.2 885.7 2132.6 887.2 2133.0 885.8 2133.4 885.6 2133.8 885.5 2134.2 885.8 2134.6 886.0 2135.0 885.5 2135.4 877.4 2135.8 876.6 2136.1 872.1 2136.5 867.4 2136.9 863.3 2137.3 858.8 2137.7 853.2 2138.1 848.4 2138.5 839.1 2138.9 835.7 2139.3 829.7 2139.7 824.0 2140.1 756.5 2140.5 775.3 2140.9 780.4 2141.3 756.5 2141.7 797.4 2142.1 796.7 2142.5 791.2 2142.9 788.6 2143.3 768.6 2143.7 765.5 2144.1 765.5 2144.5 769.3 2144.9 759.5 2145.3 767.4 2145.7 766.2 2146.1 759.5 2146.5 781.7 2146.9 783.5 2147.2 775.1 2147.6 775.1 2148.0 773.8 2148.4 771.5 2148.8 771.5 2149.2 776.1 2149.6 769.2 2150.0 769.2 2150.4 787.8 2150.8 773.6 2151.2 804.8 2151.6 795.2 2152.0 794.5 2152.4 794.5 2152.8 835.4 2153.2 836.0 2153.6 831.5 2154.0 831.5 2154.4 857.4 2154.8 858.8 2155.2 855.5 2155.6 855.5 2156.0 859.0 2156.4 854.9 2156.8 854.9 2157.2 860.0 2157.6 879.3 2158.0 870.4 2158.4 870.4 2158.7 875.5 2159.1 864.5 2159.5 864.5 2159.9 870.9 2160.3 867.6 2160.7 883.0 2161.1 883.0 2161.5 883.3 2161.9 883.2 2162.3 882.7 2162.7 884.9 2163.1 884.1 2163.5 882.7 2163.9 869.6 2164.3 869.6 2164.7 880.0 2165.1 879.0 2165.5 884.9 2165.9 884.0 2166.3 880.3 2166.7 880.3 2167.1 879.5 2167.5 879.5 2167.9 882.9 2168.3 884.4 2168.7 884.0 2169.1 881.5 2169.5 881.5 2169.8 882.2 2170.2 887.0 2170.6 886.1 2171.0 884.6 2171.4 884.6 2171.8 873.1 2172.2 873.1 2172.6 876.0 2173.0 875.0 2173.4 876.9 2173.8 882.1 2174.2 873.2 2174.6 873.2 2175.0 884.9 2175.4 881.8 2175.8 881.8 2176.2 884.6 2176.6 875.7 2177.0 874.5 2177.4 872.7 2177.8 872.7 2178.2 879.0 2178.6 879.0 2179.0 885.0 2179.4 879.0 2179.8 885.5 2180.2 885.6 2180.6 885.8 2181.0 885.1 2181.3 880.7 2181.7 880.7 2182.1 884.0 2182.5 884.1 2182.9 883.2 2183.3 886.4 2183.7 884.9 2184.1 883.2 2184.5 883.8 2184.9 885.5 2185.3 884.9 2185.7 883.8 2186.1 877.0 2186.5 877.0 2186.9 879.7 2187.3 877.6 2187.7 875.0 2188.1 883.0 2188.5 882.7 2188.9 875.0 2189.3 875.3 2189.7 876.4 2190.1 877.5 2190.5 875.3 2190.9 883.5 2191.3 882.3 2191.7 879.2 2192.1 879.2 2192.5 882.1 2192.8 883.4 2193.2 879.2 2193.6 879.2 2194.0 880.1 2194.4 881.4 2194.8 884.0 2195.2 880.1 2195.6 882.3 2196.0 881.8 2196.4 878.4 2196.8 878.4 2197.2 880.4 2197.6 879.0 2198.0 879.0 2198.4 881.2 2198.8 879.5 2199.2 875.5 2199.6 875.5 2200.0 877.5 2200.4 872.2 2200.8 878.8 2201.2 879.2 2201.6 872.2 2202.0 883.3 2202.4 882.7 2202.8 883.0 2203.2 883.4 2203.6 862.1 2203.9 864.0 2204.3 864.7 2204.7 862.1 2205.1 875.5 2205.5 875.3 2205.9 875.3 2206.3 876.6 2206.7 882.7 2207.1 882.3 2207.5 880.9 2207.9 880.9 2208.3 880.7 2208.7 878.9 2209.1 878.9 2209.5 880.1 2209.9 882.0 2210.3 882.0 2210.7 883.4 2211.1 883.1 2211.5 880.6 2211.9 878.2 2212.3 874.0 2212.7 874.0 2213.1 813.5 2213.5 815.3 2213.9 862.8 2214.3 813.5 2214.7 879.0 2215.1 868.1 2215.4 868.1 2215.8 872.5 2216.2 858.4 2216.6 863.0 2217.0 860.7 2217.4 858.4 2217.8 877.7 2218.2 876.3 2218.6 873.0 2219.0 873.0 2219.4 875.8 2219.8 874.1 2220.2 866.1 2220.6 866.1 2221.0 877.2 2221.4 877.2 2221.8 880.7 2222.2 877.5 2222.6 872.2 2223.0 874.6 2223.4 876.8 2223.8 872.2 2224.2 875.5 2224.6 875.5 2225.0 877.5 2225.4 878.4 2225.8 877.6 2226.2 877.9 2226.5 869.1 2226.9 869.1 2227.3 866.3 2227.7 866.3 2228.1 877.9 2228.5 868.7 2228.9 870.7 2229.3 878.5 2229.7 876.9 2230.1 870.7 2230.5 881.8 2230.9 883.2 2231.3 882.3 2231.7 882.1 2232.1 879.8 2232.5 879.8 2232.9 882.9 2233.3 881.2 2233.7 877.5 2234.1 883.4 2234.5 882.2 2234.9 877.5 2235.3 882.8 2235.7 883.9 2236.1 883.5 2236.5 882.8 2236.9 882.0 2237.3 882.1 2237.7 881.8 2238.0 881.5 2238.4 880.6 2238.8 880.4 2239.2 881.6 2239.6 880.4 2240.0 868.2 2240.4 865.9 2240.8 865.9 2241.2 865.9 2241.6 867.1 2242.0 868.4 2242.4 865.4 2242.8 865.4 2243.2 872.6 2243.6 871.6 2244.0 870.6 2244.4 869.6 2244.8 860.6 2245.2 860.6 2245.6 866.7 2246.0 867.4 2246.4 843.5 2246.8 843.5 2247.2 857.4 2247.6 849.0 2248.0 855.9 2248.4 856.4 2248.8 848.8 2249.1 848.8 2249.5 868.9 2249.9 869.4 2250.3 869.2 2250.7 869.2 2251.1 870.9 2251.5 870.4 2251.9 866.3 2252.3 866.3 2252.7 862.0 2253.1 862.9 2253.5 861.4 2253.9 861.4 2254.3 857.0 2254.7 841.4 2255.1 828.6 2255.5 828.6 2255.9 863.8 2256.3 859.3 2256.7 859.3 2257.1 863.7 2257.5 870.2 2257.9 870.3 2258.3 870.8 2258.7 870.9 2259.1 869.6 2259.5 870.4 2259.9 869.7 2260.3 869.6 2260.6 861.9 2261.0 862.9 2261.4 861.3 2261.8 861.3 2262.2 875.2 2262.6 874.3 2263.0 872.3 2263.4 872.3 2263.8 863.0 2264.2 863.0 2264.6 867.9 2265.0 864.4 2265.4 880.2 2265.8 877.9 2266.2 877.9 2266.6 881.3 2267.0 868.2 2267.4 868.2 2267.8 869.7 2268.2 877.7 2268.6 884.3 2269.0 884.3 2269.4 886.8 2269.8 885.9 2270.2 885.3 2270.6 884.7 2271.0 885.9 2271.4 885.7 2271.8 877.0 2272.1 879.9 2272.5 882.5 2272.9 877.0 2273.3 865.8 2273.7 865.8 2274.1 867.8 2274.5 870.3 2274.9 867.6 2275.3 864.3 2275.7 864.3 2276.1 864.3 2276.5 835.4 2276.9 835.4 2277.3 842.1 2277.7 846.7 2278.1 877.8 2278.5 879.2 2278.9 879.2 2279.3 877.8 2279.7 865.3 2280.1 874.0 2280.5 874.0 2280.9 865.3 2281.3 880.9 2281.7 881.4 2282.1 882.8 2282.5 880.9 2282.9 875.4 2283.2 880.4 2283.6 879.7 2284.0 875.4 2284.4 880.1 2284.8 880.1 2285.2 884.8 2285.6 880.5 2286.0 885.9 2286.4 885.5 2286.8 885.5 2287.2 886.4 2287.6 883.8 2288.0 885.2 2288.4 875.8 2288.8 875.8 2289.2 879.5 2289.6 879.5 2290.0 877.3 2290.4 877.3 2290.8 880.5 2291.2 883.6 2291.6 882.3 2292.0 880.5 2292.4 887.4 2292.8 886.7 2293.2 885.2 2293.6 885.2 2294.0 886.4 2294.4 886.7 2294.7 886.3 2295.1 886.8 2295.5 886.6 2295.9 887.4 2296.3 887.9 2296.7 886.6 2297.1 886.2 2297.5 887.0 2297.9 886.4 2298.3 887.4 2298.7 887.4 2299.1 884.9 2299.5 884.9 2299.9 887.1 2300.3 880.7 2300.7 884.6 2301.1 880.4 2301.5 880.4 2301.9 886.7 2302.3 886.4 2302.7 886.2 2303.1 886.5 2303.5 886.2 2303.9 884.7 2304.3 884.6 2304.7 884.6 2305.1 887.5 2305.5 887.3 2305.8 886.1 2306.2 886.6 2306.6 886.7 2307.0 886.7 2307.4 886.7 2307.8 886.0 2308.2 884.5 2308.6 884.5 2309.0 886.1 2309.4 886.2 2309.8 851.2 2310.2 865.9 2310.6 856.6 2311.0 851.2 2311.4 885.6 2311.8 885.6 2312.2 886.3 2312.6 886.3 2313.0 886.2 2313.4 887.2 2313.8 886.7 2314.2 887.1 2314.6 885.9 2315.0 886.6 2315.4 886.1 2315.8 885.9 2316.2 885.6 2316.6 885.6 2317.0 886.7 2317.3 886.7 2317.7 887.1 2318.1 887.3 2318.5 886.9 2318.9 886.7 2319.3 885.2 2319.7 886.0 2320.1 884.1 2320.5 884.1 2320.9 880.3 2321.3 886.0 2321.7 880.3 2322.1 880.3 2322.5 886.9 2322.9 886.8 2323.3 887.0 2323.7 888.0 2324.1 884.1 2324.5 884.1 2324.9 887.3 2325.3 884.3 2325.7 887.7 2326.1 886.6 2326.5 883.4 2326.9 883.4 2327.3 887.4 2327.7 886.5 2328.1 886.5 2328.4 886.5 2328.8 881.1 2329.2 881.7 2329.6 886.8 2330.0 881.1 2330.4 887.3 2330.8 887.1 2331.2 887.2 2331.6 887.8 2332.0 886.8 2332.4 888.2 2332.8 887.6 2333.2 886.8 2333.6 887.0 2334.0 887.7 2334.4 887.7 2334.8 888.0 2335.2 869.3 2335.6 868.0 2336.0 868.0 2336.4 883.3 2336.8 887.4 2337.2 887.6 2337.6 886.6 2338.0 886.6 2338.4 887.8 2338.8 886.8 2339.2 888.0 2339.6 888.0 2339.9 886.8 2340.3 887.8 2340.7 886.8 2341.1 887.7 2341.5 886.8 2341.9 887.4 2342.3 887.7 2342.7 887.3 2343.1 887.8 L2343.1 893.6 2342.7 893.4 2342.3 892.5 2341.9 893.1 2341.5 892.7 2341.1 892.9 2340.7 892.5 2340.3 892.7 2339.9 892.8 2339.6 893.6 2339.2 892.8 2338.8 896.2 2338.4 893.2 2338.0 892.6 2337.6 892.9 2337.2 892.1 2336.8 893.7 2336.4 893.7 2336.0 892.2 2335.6 892.8 2335.2 893.0 2334.8 893.6 2334.4 893.6 2334.0 892.4 2333.6 892.3 2333.2 893.4 2332.8 892.0 2332.4 892.2 2332.0 892.0 2331.6 891.9 2331.2 892.2 2330.8 891.8 2330.4 891.7 2330.0 893.5 2329.6 892.7 2329.2 891.7 2328.8 892.4 2328.4 892.2 2328.1 892.0 2327.7 893.2 2327.3 893.7 2326.9 892.8 2326.5 892.5 2326.1 893.2 2325.7 893.1 2325.3 892.3 2324.9 892.2 2324.5 893.5 2324.1 892.5 2323.7 892.3 2323.3 892.6 2322.9 892.7 2322.5 892.7 2322.1 892.6 2321.7 891.7 2321.3 891.9 2320.9 892.2 2320.5 893.1 2320.1 892.2 2319.7 893.0 2319.3 893.2 2318.9 893.3 2318.5 893.1 2318.1 893.0 2317.7 892.8 2317.3 893.1 2317.0 892.4 2316.6 891.7 2316.2 892.7 2315.8 892.3 2315.4 892.3 2315.0 892.7 2314.6 893.0 2314.2 891.7 2313.8 892.0 2313.4 892.3 2313.0 892.9 2312.6 892.3 2312.2 891.7 2311.8 893.1 2311.4 892.2 2311.0 892.0 2310.6 891.7 2310.2 891.6 2309.8 891.7 2309.4 892.0 2309.0 891.9 2308.6 892.2 2308.2 891.7 2307.8 891.5 2307.4 891.6 2307.0 891.3 2306.6 891.4 2306.2 892.7 2305.8 892.4 2305.5 892.0 2305.1 891.3 2304.7 892.0 2304.3 892.8 2303.9 893.0 2303.5 891.4 2303.1 892.4 2302.7 896.3 2302.3 891.2 2301.9 892.8 2301.5 895.5 2301.1 891.4 2300.7 893.0 2300.3 892.9 2299.9 891.4 2299.5 891.2 2299.1 891.6 2298.7 892.6 2298.3 892.9 2297.9 892.2 2297.5 892.9 2297.1 893.1 2296.7 892.4 2296.3 892.3 2295.9 891.3 2295.5 893.5 2295.1 891.9 2294.7 892.9 2294.4 892.7 2294.0 891.8 2293.6 892.7 2293.2 893.7 2292.8 892.3 2292.4 891.5 2292.0 893.5 2291.6 899.3 2291.2 892.0 2290.8 892.8 2290.4 891.8 2290.0 892.7 2289.6 897.9 2289.2 893.2 2288.8 893.5 2288.4 891.7 2288.0 891.2 2287.6 893.5 2287.2 891.8 2286.8 893.7 2286.4 892.8 2286.0 902.6 2285.6 892.0 2285.2 891.0 2284.8 892.9 2284.4 892.7 2284.0 889.9 2283.6 892.8 2283.2 888.1 2282.9 887.9 2282.5 887.4 2282.1 890.7 2281.7 887.1 2281.3 889.2 2280.9 888.4 2280.5 886.0 2280.1 885.8 2279.7 887.5 2279.3 888.1 2278.9 884.8 2278.5 883.5 2278.1 884.3 2277.7 884.0 2277.3 886.9 2276.9 885.4 2276.5 897.1 2276.1 886.4 2275.7 890.2 2275.3 886.6 2274.9 890.2 2274.5 890.5 2274.1 887.2 2273.7 891.8 2273.3 892.1 2272.9 888.7 2272.5 888.9 2272.1 892.3 2271.8 891.8 2271.4 891.4 2271.0 891.1 2270.6 891.6 2270.2 894.4 2269.8 891.8 2269.4 894.7 2269.0 894.3 2268.6 891.4 2268.2 893.6 2267.8 892.7 2267.4 895.5 2267.0 890.9 2266.6 898.1 2266.2 889.0 2265.8 888.6 2265.4 886.2 2265.0 887.8 2264.6 888.6 2264.2 885.4 2263.8 883.7 2263.4 883.3 2263.0 885.1 2262.6 883.6 2262.2 882.0 2261.8 881.8 2261.4 882.3 2261.0 880.3 2260.6 879.3 2260.3 879.6 2259.9 880.3 2259.5 877.5 2259.1 879.0 2258.7 876.0 2258.3 879.5 2257.9 877.3 2257.5 877.8 2257.1 878.2 2256.7 876.5 2256.3 879.5 2255.9 879.0 2255.5 878.0 2255.1 877.4 2254.7 878.5 2254.3 881.2 2253.9 879.2 2253.5 880.5 2253.1 881.0 2252.7 881.3 2252.3 879.1 2251.9 877.4 2251.5 878.1 2251.1 878.7 2250.7 876.8 2250.3 876.3 2249.9 873.8 2249.5 874.2 2249.1 876.9 2248.8 876.1 2248.4 875.0 2248.0 875.3 2247.6 874.9 2247.2 872.7 2246.8 873.1 2246.4 871.9 2246.0 872.1 2245.6 875.8 2245.2 875.9 2244.8 876.1 2244.4 875.9 2244.0 878.7 2243.6 879.9 2243.2 877.9 2242.8 879.6 2242.4 882.9 2242.0 881.9 2241.6 884.5 2241.2 884.6 2240.8 884.9 2240.4 886.2 2240.0 886.2 2239.6 887.0 2239.2 885.8 2238.8 888.9 2238.4 886.7 2238.0 890.5 2237.7 887.2 2237.3 888.5 2236.9 890.8 2236.5 891.7 2236.1 888.7 2235.7 889.3 2235.3 890.5 2234.9 888.4 2234.5 889.6 2234.1 890.9 2233.7 889.0 2233.3 891.6 2232.9 891.7 2232.5 889.9 2232.1 888.9 2231.7 889.6 2231.3 887.9 2230.9 889.0 2230.5 890.2 2230.1 887.4 2229.7 889.6 2229.3 888.1 2228.9 886.0 2228.5 886.5 2228.1 887.1 2227.7 887.1 2227.3 887.9 2226.9 888.5 2226.5 888.9 2226.2 887.9 2225.8 896.6 2225.4 886.7 2225.0 887.2 2224.6 888.7 2224.2 889.8 2223.8 886.1 2223.4 886.1 2223.0 889.7 2222.6 888.6 2222.2 889.2 2221.8 895.5 2221.4 886.9 2221.0 887.4 2220.6 887.5 2220.2 887.9 2219.8 886.2 2219.4 887.7 2219.0 887.5 2218.6 889.8 2218.2 890.3 2217.8 889.2 2217.4 889.8 2217.0 890.3 2216.6 889.6 2216.2 889.9 2215.8 890.9 2215.4 889.4 2215.1 890.4 2214.7 889.9 2214.3 887.9 2213.9 890.7 2213.5 890.6 2213.1 889.3 2212.7 887.7 2212.3 891.3 2211.9 890.2 2211.5 889.7 2211.1 888.1 2210.7 891.8 2210.3 888.0 2209.9 887.5 2209.5 891.2 2209.1 890.8 2208.7 888.5 2208.3 890.2 2207.9 895.9 2207.5 888.6 2207.1 887.6 2206.7 891.1 2206.3 890.0 2205.9 890.3 2205.5 887.4 2205.1 889.5 2204.7 887.1 2204.3 887.8 2203.9 889.5 2203.6 889.6 2203.2 890.7 2202.8 887.1 2202.4 890.5 2202.0 889.4 2201.6 888.8 2201.2 887.5 2200.8 891.2 2200.4 889.9 2200.0 889.6 2199.6 888.6 2199.2 888.1 2198.8 888.6 2198.4 890.0 2198.0 890.9 2197.6 889.7 2197.2 888.1 2196.8 889.8 2196.4 891.7 2196.0 888.6 2195.6 888.1 2195.2 890.3 2194.8 888.3 2194.4 890.2 2194.0 891.5 2193.6 888.1 2193.2 889.3 2192.8 888.4 2192.5 890.9 2192.1 890.2 2191.7 888.6 2191.3 888.8 2190.9 888.9 2190.5 887.5 2190.1 890.7 2189.7 888.4 2189.3 889.2 2188.9 891.2 2188.5 890.1 2188.1 892.1 2187.7 888.8 2187.3 892.2 2186.9 889.9 2186.5 891.6 2186.1 892.6 2185.7 891.9 2185.3 892.3 2184.9 892.3 2184.5 890.1 2184.1 895.1 2183.7 893.7 2183.3 890.3 2182.9 890.3 2182.5 890.3 2182.1 897.6 2181.7 891.3 2181.3 892.5 2181.0 893.4 2180.6 893.7 2180.2 893.4 2179.8 891.2 2179.4 892.6 2179.0 891.5 2178.6 890.9 2178.2 893.8 2177.8 893.6 2177.4 896.8 2177.0 891.6 2176.6 891.8 2176.2 891.5 2175.8 891.6 2175.4 892.9 2175.0 891.1 2174.6 900.6 2174.2 892.8 2173.8 892.6 2173.4 892.2 2173.0 892.6 2172.6 891.4 2172.2 894.2 2171.8 893.1 2171.4 894.0 2171.0 892.2 2170.6 890.9 2170.2 894.0 2169.8 894.6 2169.5 895.1 2169.1 890.9 2168.7 891.3 2168.3 894.2 2167.9 896.4 2167.5 896.0 2167.1 903.2 2166.7 893.0 2166.3 891.2 2165.9 894.3 2165.5 891.3 2165.1 896.8 2164.7 894.3 2164.3 893.9 2163.9 893.3 2163.5 899.0 2163.1 893.4 2162.7 896.5 2162.3 890.6 2161.9 891.0 2161.5 891.7 2161.1 903.1 2160.7 893.8 2160.3 897.8 2159.9 893.6 2159.5 907.1 2159.1 895.2 2158.7 895.0 2158.4 892.7 2158.0 895.7 2157.6 900.0 2157.2 893.0 2156.8 891.6 2156.4 899.1 2156.0 885.6 2155.6 878.2 2155.2 873.8 2154.8 870.9 2154.4 869.1 2154.0 859.8 2153.6 857.6 2153.2 852.7 2152.8 845.3 2152.4 839.2 2152.0 831.2 2151.6 831.4 2151.2 822.6 2150.8 814.9 2150.4 811.9 2150.0 824.1 2149.6 802.0 2149.2 801.0 2148.8 813.7 2148.4 801.1 2148.0 796.5 2147.6 800.6 2147.2 794.5 2146.9 794.9 2146.5 798.2 2146.1 790.9 2145.7 802.9 2145.3 795.7 2144.9 803.3 2144.5 792.7 2144.1 793.0 2143.7 798.9 2143.3 794.9 2142.9 800.4 2142.5 803.7 2142.1 804.3 2141.7 811.5 2141.3 812.4 2140.9 820.3 2140.5 820.8 2140.1 830.0 2139.7 833.6 2139.3 835.3 2138.9 843.8 2138.5 846.5 2138.1 854.8 2137.7 864.8 2137.3 865.5 2136.9 868.9 2136.5 873.4 2136.1 878.0 2135.8 881.8 2135.4 887.2 2135.0 890.8 2134.6 891.2 2134.2 891.3 2133.8 891.2 2133.4 891.0 2133.0 891.1 2132.6 891.6 2132.2 890.7 2131.8 891.2 2131.4 891.5 2131.0 891.4 2130.6 890.7 2130.2 890.7 2129.8 891.0 2129.4 891.1 2129.0 891.5 2128.6 890.9 2128.2 890.8 2127.8 891.3 2127.4 891.2 2127.0 890.6 2126.6 891.4 2126.2 891.0 2125.8 892.9 2125.4 891.2 2125.0 890.6 2124.6 890.5 2124.3 890.5 2123.9 890.6 2123.5 890.7 2123.1 891.0 2122.7 890.5 2122.3 890.5 2121.9 890.7 2121.5 891.2 2121.1 890.8 2120.7 890.9 2120.3 891.1 2119.9 891.2 2119.5 890.6 2119.1 891.3 2118.7 890.7 2118.3 890.7 2117.9 890.6 2117.5 891.1 2117.1 890.6 2116.7 890.6 2116.3 890.4 2115.9 890.9 2115.5 890.5 2115.1 890.9 2114.7 890.3 2114.3 890.4 2113.9 891.2 2113.5 890.9 2113.2 890.4 2112.8 890.9 2112.4 890.5 2112.0 890.5 2111.6 890.4 2111.2 890.4 2110.8 890.9 2110.4 890.3 2110.0 890.3 2109.6 891.0 2109.2 890.7 2108.8 890.7 2108.4 890.4 2108.0 890.1 2107.6 890.3 2107.2 890.3 2106.8 890.9 2106.4 890.1 2106.0 890.7 2105.6 890.4 2105.2 891.0 2104.8 890.2 2104.4 890.3 2104.0 890.7 2103.6 890.7 2103.2 890.5 2102.8 890.6 2102.4 890.0 2102.0 890.6 2101.7 890.4 2101.3 890.4 2100.9 890.4 2100.5 890.7 2100.1 890.2 2099.7 890.5 2099.3 890.5 2098.9 890.2 2098.5 890.1 2098.1 889.9 2097.7 890.0 2097.3 889.8 2096.9 890.5 2096.5 890.0 2096.1 890.5 2095.7 890.4 2095.3 890.0 2094.9 889.9 2094.5 890.2 2094.1 889.9 2093.7 890.0 2093.3 889.7 2092.9 889.9 2092.5 889.5 2092.1 889.6 2091.7 889.9 2091.3 889.6 2090.9 889.5 2090.5 889.7 2090.2 889.9 2089.8 889.5 2089.4 889.4 2089.0 889.2 2088.6 889.5 2088.2 889.7 2087.8 889.6 2087.4 890.8 2087.0 890.0 2086.6 889.0 2086.2 889.3 2085.8 889.4 2085.4 889.6 2085.0 889.8 2084.6 889.5 2084.2 889.4 2083.8 889.8 2083.4 889.2 2083.0 889.4 2082.6 889.3 2082.2 889.7 2081.8 889.6 2081.4 889.1 2081.0 889.7 2080.6 891.3 2080.2 889.4 2079.8 889.2 2079.4 889.2 2079.1 889.2 2078.7 889.1 2078.3 888.7 2077.9 889.0 2077.5 888.7 2077.1 888.8 2076.7 889.4 2076.3 889.0 2075.9 888.9 2075.5 889.1 2075.1 888.7 2074.7 889.3 2074.3 889.3 2073.9 889.4 2073.5 889.2 2073.1 889.2 2072.7 889.4 2072.3 889.0 2071.9 889.2 2071.5 888.5 2071.1 889.3 2070.7 889.2 2070.3 889.3 2069.9 888.8 2069.5 889.2 2069.1 888.6 2068.7 889.1 2068.3 889.0 2067.9 889.3 2067.6 889.3 2067.2 889.4 2066.8 889.5 2066.4 888.9 2066.0 888.9 2065.6 889.5 2065.2 888.9 2064.8 889.0 2064.4 889.0 2064.0 889.0 2063.6 889.5 2063.2 889.3 2062.8 888.9 2062.4 889.1 2062.0 889.1 2061.6 889.4 2061.2 889.4 2060.8 890.9 2060.4 889.3 2060.0 889.4 2059.6 889.9 2059.2 889.8 2058.8 889.3 2058.4 889.2 2058.0 889.9 2057.6 889.2 2057.2 889.4 2056.8 889.6 2056.5 889.8 2056.1 889.3 2055.7 889.7 2055.3 889.4 2054.9 889.9 2054.5 889.2 2054.1 889.9 2053.7 889.3 2053.3 889.3 2052.9 889.6 2052.5 889.3 2052.1 889.1 2051.7 889.5 2051.3 889.6 2050.9 889.7 2050.5 889.2 2050.1 889.7 2049.7 889.4 2049.3 889.0 2048.9 889.3 2048.5 889.5 2048.1 889.3 2047.7 889.6 2047.3 889.4 2046.9 889.3 2046.5 888.7 2046.1 889.0 2045.7 889.2 2045.3 889.4 2045.0 889.2 2044.6 889.0 2044.2 889.2 2043.8 889.1 2043.4 889.4 2043.0 889.0 2042.6 889.0 2042.2 888.9 2041.8 889.1 2041.4 888.9 2041.0 889.4 2040.6 889.3 2040.2 889.2 2039.8 889.3 2039.4 889.0 2039.0 888.8 2038.6 888.6 2038.2 888.7 2037.8 889.2 2037.4 889.5 2037.0 889.2 2036.6 889.3 2036.2 888.9 2035.8 889.1 2035.4 888.9 2035.0 889.4 2034.6 889.0 2034.2 889.6 2033.8 889.2 2033.5 889.1 2033.1 889.1 2032.7 889.2 2032.3 888.9 2031.9 889.3 2031.5 889.2 2031.1 889.6 2030.7 889.7 2030.3 889.1 2029.9 889.7 2029.5 889.6 2029.1 889.4 2028.7 889.1 2028.3 889.6 2027.9 889.6 2027.5 889.0 2027.1 889.4 2026.7 889.8 2026.3 889.6 2025.9 889.4 2025.5 889.2 2025.1 889.6 2024.7 890.0 2024.3 889.6 2023.9 889.1 2023.5 889.3 2023.1 889.6 2022.7 889.2 2022.4 889.1 2022.0 889.2 2021.6 889.3 2021.2 889.1 2020.8 889.0 2020.4 889.0 2020.0 889.5 2019.6 889.1 2019.2 889.8 2018.8 888.9 2018.4 888.9 2018.0 889.0 2017.6 889.7 2017.2 889.4 2016.8 888.9 2016.4 889.7 2016.0 889.7 2015.6 889.5 2015.2 889.1 2014.8 888.8 2014.4 889.2 2014.0 889.1 2013.6 889.4 2013.2 888.9 2012.8 889.2 2012.4 889.1 2012.0 889.2 2011.6 889.1 2011.2 888.6 2010.9 889.1 2010.5 888.5 2010.1 888.9 2009.7 889.2 2009.3 889.2 2008.9 889.0 2008.5 889.1 2008.1 889.4 2007.7 888.7 2007.3 889.4 2006.9 889.6 2006.5 889.5 2006.1 889.6 2005.7 889.9 2005.3 889.8 2004.9 889.9 2004.5 889.2 2004.1 889.4 2003.7 890.1 2003.3 890.2 2002.9 890.1 2002.5 889.9 2002.1 889.6 2001.7 890.4 2001.3 890.1 2000.9 890.0 2000.5 889.8 2000.1 889.7 1999.8 889.6 1999.4 889.8 1999.0 890.2 1998.6 889.8 1998.2 890.0 1997.8 890.0 1997.4 889.9 1997.0 889.3 1996.6 889.8 1996.2 889.7 1995.8 890.0 1995.4 889.4 1995.0 889.4 1994.6 889.3 1994.2 889.7 1993.8 889.4 1993.4 889.1 1993.0 889.4 1992.6 889.4 1992.2 889.3 1991.8 889.0 1991.4 889.0 1991.0 888.9 1990.6 889.5 1990.2 889.2 1989.8 888.9 1989.4 889.1 1989.0 889.5 1988.6 889.1 1988.3 889.6 1987.9 889.0 1987.5 888.8 1987.1 889.3 1986.7 888.8 1986.3 889.5 1985.9 889.1 1985.5 888.7 1985.1 889.5 1984.7 889.5 1984.3 889.0 1983.9 889.4 1983.5 888.6 1983.1 889.2 1982.7 889.2 1982.3 889.5 1981.9 888.7 1981.5 889.0 1981.1 888.7 1980.7 889.4 1980.3 888.9 1979.9 888.7 1979.5 889.4 1979.1 888.7 1978.7 889.3 1978.3 889.3 1977.9 889.2 1977.5 889.1 1977.2 889.4 1976.8 888.5 1976.4 889.4 1976.0 889.7 1975.6 888.9 1975.2 889.3 1974.8 889.1 1974.4 889.0 1974.0 888.5 1973.6 889.3 1973.2 888.8 1972.8 889.0 1972.4 889.0 1972.0 889.0 1971.6 889.2 1971.2 889.1 1970.8 890.1 1970.4 888.7 1970.0 888.7 1969.6 888.5 1969.2 889.3 1968.8 888.6 1968.4 889.1 1968.0 889.1 1967.6 889.0 1967.2 888.8 1966.8 888.6 1966.4 889.2 1966.0 888.8 1965.7 888.9 1965.3 889.0 1964.9 888.7 1964.5 889.1 1964.1 888.9 1963.7 888.7 1963.3 889.0 1962.9 888.5 1962.5 889.3 1962.1 888.8 1961.7 888.9 1961.3 888.8 1960.9 888.7 1960.5 888.8 1960.1 888.9 1959.7 888.9 1959.3 888.6 1958.9 889.9 1958.5 888.9 1958.1 889.1 1957.7 888.9 1957.3 889.0 1956.9 889.2 1956.5 889.2 1956.1 888.5 1955.7 889.2 1955.3 889.3 1954.9 889.0 1954.5 889.3 1954.2 888.9 1953.8 888.6 1953.4 889.1 1953.0 888.7 1952.6 888.7 1952.2 889.2 1951.8 889.3 1951.4 888.7 1951.0 889.3 1950.6 888.9 1950.2 889.1 1949.8 888.6 1949.4 889.2 1949.0 888.7 1948.6 889.4 1948.2 889.4 1947.8 888.7 1947.4 888.9 1947.0 888.7 1946.6 888.7 1946.2 889.2 1945.8 888.9 1945.4 888.9 1945.0 889.7 1944.6 889.1 1944.2 888.7 1943.8 888.5 1943.4 889.3 1943.1 889.2 1942.7 889.3 1942.3 888.5 1941.9 888.5 1941.5 889.1 1941.1 888.8 1940.7 888.6 1940.3 888.5 1939.9 888.9 1939.5 888.8 1939.1 888.8 1938.7 889.1 1938.3 888.5 1937.9 888.4 1937.5 888.2 1937.1 888.6 1936.7 888.4 1936.3 888.7 1935.9 889.1 1935.5 888.4 1935.1 888.4 1934.7 888.6 1934.3 888.6 1933.9 888.5 1933.5 888.4 1933.1 888.2 1932.7 888.5 1932.3 888.5 1931.9 888.5 1931.6 888.5 1931.2 888.4 1930.8 888.5 1930.4 888.3 1930.0 888.2 1929.6 888.8 1929.2 888.8 1928.8 888.4 1928.4 888.1 1928.0 888.7 1927.6 888.8 1927.2 888.3 1926.8 888.5 1926.4 888.4 1926.0 888.1 1925.6 888.7 1925.2 888.2 1924.8 888.7 1924.4 888.5 1924.0 888.6 1923.6 888.5 1923.2 888.1 1922.8 888.5 1922.4 888.8 1922.0 888.4 1921.6 889.0 1921.2 888.8 1920.8 889.7 1920.5 888.5 1920.1 888.1 1919.7 888.5 1919.3 888.5 1918.9 888.1 1918.5 888.5 1918.1 888.8 1917.7 889.5 1917.3 888.3 1916.9 888.1 1916.5 888.9 1916.1 889.0 1915.7 888.8 1915.3 888.9 1914.9 888.8 1914.5 888.5 1914.1 888.6 1913.7 888.4 1913.3 888.6 1912.9 888.8 1912.5 888.5 1912.1 888.7 1911.7 888.9 1911.3 888.7 1910.9 888.8 1910.5 888.7 1910.1 888.3 1909.7 888.7 1909.3 888.7 1909.0 888.9 1908.6 888.5 1908.2 888.2 1907.8 888.7 1907.4 888.3 1907.0 888.4 1906.6 888.3 1906.2 889.1 1905.8 888.5 1905.4 888.6 1905.0 889.1 1904.6 891.7 1904.2 888.3 1903.8 889.2 1903.4 888.0 1903.0 889.5 1902.6 888.7 1902.2 886.8 1901.8 885.7 1901.4 884.4 1901.0 885.9 1900.6 884.6 1900.2 884.6 1899.8 884.9 1899.4 884.1 1899.0 884.2 1898.6 883.3 1898.2 882.8 1897.9 882.2 1897.5 883.0 1897.1 880.5 1896.7 880.0 1896.3 878.2 1895.9 879.8 1895.5 877.0 1895.1 877.5 1894.7 877.9 1894.3 875.0 1893.9 875.6 1893.5 876.8 1893.1 876.3 1892.7 877.2 1892.3 877.6 1891.9 877.7 1891.5 878.0 1891.1 880.1 1890.7 880.0 1890.3 880.6 1889.9 879.8 1889.5 881.7 1889.1 881.1 1888.7 879.9 1888.3 882.8 1887.9 882.1 1887.5 881.8 1887.1 882.4 1886.7 885.6 1886.4 885.6 1886.0 884.2 1885.6 887.0 1885.2 886.1 1884.8 887.3 1884.4 889.2 1884.0 888.5 1883.6 889.1 1883.2 887.8 1882.8 889.9 1882.4 888.0 1882.0 888.1 1881.6 887.8 1881.2 888.9 1880.8 887.9 1880.4 890.0 1880.0 889.5 1879.6 887.1 1879.2 887.9 1878.8 887.5 1878.4 889.6 1878.0 888.1 1877.6 887.3 1877.2 887.6 1876.8 889.2 1876.4 889.9 1876.0 887.3 1875.6 889.8 1875.2 889.1 1874.9 887.2 1874.5 889.1 1874.1 887.5 1873.7 889.5 1873.3 889.4 1872.9 888.1 1872.5 888.4 1872.1 888.1 1871.7 888.7 1871.3 888.7 1870.9 886.7 1870.5 887.2 1870.1 888.8 1869.7 888.2 1869.3 889.5 1868.9 887.2 1868.5 889.2 1868.1 889.6 1867.7 889.0 1867.3 887.4 1866.9 886.8 1866.5 888.1 1866.1 886.6 1865.7 886.4 1865.3 889.1 1864.9 886.7 1864.5 886.1 1864.1 888.2 1863.8 888.3 1863.4 885.5 1863.0 885.8 1862.6 886.3 1862.2 885.8 1861.8 887.3 1861.4 885.5 1861.0 884.9 1860.6 885.6 1860.2 885.3 1859.8 887.0 1859.4 888.1 1859.0 886.8 1858.6 884.2 1858.2 885.5 1857.8 885.4 1857.4 884.6 1857.0 883.9 1856.6 883.9 1856.2 885.4 1855.8 885.8 1855.4 884.1 1855.0 884.2 1854.6 884.6 1854.2 884.5 1853.8 883.7 1853.4 886.4 1853.0 884.2 1852.6 885.9 1852.3 885.7 1851.9 886.3 1851.5 885.7 1851.1 883.9 1850.7 883.8 1850.3 885.9 1849.9 885.6 1849.5 886.6 1849.1 886.3 1848.7 885.7 1848.3 884.5 1847.9 884.8 1847.5 893.9 1847.1 886.7 1846.7 887.0 1846.3 886.5 1845.9 887.0 1845.5 886.9 1845.1 885.5 1844.7 885.7 1844.3 888.7 1843.9 888.9 1843.5 888.1 1843.1 887.6 1842.7 888.6 1842.3 885.8 1841.9 888.3 1841.5 885.2 1841.2 885.6 1840.8 889.0 1840.4 886.5 1840.0 886.9 1839.6 886.0 1839.2 884.9 1838.8 886.3 1838.4 884.1 1838.0 884.6 1837.6 885.3 1837.2 882.5 1836.8 882.5 1836.4 884.2 1836.0 883.3 1835.6 883.6 1835.2 884.3 1834.8 881.6 1834.4 881.7 1834.0 882.0 1833.6 884.2 1833.2 884.5 1832.8 883.9 1832.4 884.5 1832.0 884.5 1831.6 884.5 1831.2 885.3 1830.8 887.0 1830.4 886.7 1830.0 889.7 1829.7 887.7 1829.3 885.0 1828.9 885.3 1828.5 885.1 1828.1 885.7 1827.7 884.7 1827.3 885.5 1826.9 884.0 1826.5 885.3 1826.1 884.9 1825.7 886.0 1825.3 884.0 1824.9 886.6 1824.5 885.4 1824.1 885.7 1823.7 884.5 1823.3 884.5 1822.9 886.0 1822.5 886.1 1822.1 885.0 1821.7 886.8 1821.3 886.2 1820.9 885.7 1820.5 887.4 1820.1 885.6 1819.7 886.9 1819.3 886.9 1818.9 887.3 1818.6 888.4 1818.2 886.6 1817.8 886.9 1817.4 889.2 1817.0 888.0 1816.6 887.2 1816.2 888.3 1815.8 889.9 1815.4 887.9 1815.0 889.4 1814.6 889.8 1814.2 890.0 1813.8 889.6 1813.4 888.9 1813.0 888.7 1812.6 887.7 1812.2 888.6 1811.8 889.4 1811.4 886.8 1811.0 888.5 1810.6 889.1 1810.2 888.0 1809.8 887.8 1809.4 889.3 1809.0 887.0 1808.6 887.6 1808.2 887.7 1807.8 888.9 1807.4 888.5 1807.1 889.5 1806.7 887.8 1806.3 887.9 1805.9 887.3 1805.5 888.1 1805.1 886.8 1804.7 889.1 1804.3 889.2 1803.9 892.5 1803.5 888.4 1803.1 888.7 1802.7 888.7 1802.3 891.8 1801.9 889.4 1801.5 886.6 1801.1 889.3 1800.7 889.2 1800.3 887.6 1799.9 889.0 1799.5 889.0 1799.1 889.3 1798.7 887.1 1798.3 889.7 1797.9 889.3 1797.5 888.3 1797.1 888.2 1796.7 890.6 1796.3 887.5 1795.9 886.6 1795.6 886.5 1795.2 889.1 1794.8 888.6 1794.4 888.9 1794.0 887.8 1793.6 887.2 1793.2 888.5 1792.8 892.0 1792.4 888.8 1792.0 886.6 1791.6 889.4 1791.2 887.9 1790.8 892.9 1790.4 888.6 1790.0 887.9 1789.6 888.4 1789.2 886.7 1788.8 889.5 1788.4 888.6 1788.0 888.8 1787.6 887.1 1787.2 887.7 1786.8 889.2 1786.4 887.8 1786.0 889.5 1785.6 887.7 1785.2 887.4 1784.8 889.1 1784.5 888.8 1784.1 888.2 1783.7 889.2 1783.3 888.6 1782.9 891.5 1782.5 888.9 1782.1 886.9 1781.7 886.8 1781.3 888.4 1780.9 889.4 1780.5 887.4 1780.1 887.9 1779.7 888.4 1779.3 888.2 1778.9 888.3 1778.5 889.3 1778.1 888.9 1777.7 887.4 1777.3 888.3 1776.9 887.9 1776.5 888.9 1776.1 889.0 1775.7 887.7 1775.3 887.7 1774.9 887.4 1774.5 886.4 1774.1 886.7 1773.7 887.5 1773.3 886.1 1773.0 887.6 1772.6 887.5 1772.2 886.0 1771.8 887.0 1771.4 888.6 1771.0 887.1 1770.6 887.0 1770.2 886.7 1769.8 888.4 1769.4 887.7 1769.0 886.4 1768.6 888.3 1768.2 887.0 1767.8 887.5 1767.4 886.6 1767.0 888.5 1766.6 887.6 1766.2 893.1 1765.8 888.6 1765.4 888.9 1765.0 889.2 1764.6 887.8 1764.2 890.2 1763.8 888.3 1763.4 890.9 1763.0 888.3 1762.6 895.7 1762.2 890.1 1761.9 890.4 1761.5 890.6 1761.1 888.7 1760.7 890.4 1760.3 888.8 1759.9 889.4 1759.5 889.1 1759.1 888.5 1758.7 889.2 1758.3 888.5 1757.9 890.1 1757.5 888.1 1757.1 890.8 1756.7 889.0 1756.3 890.3 1755.9 888.2 1755.5 890.0 1755.1 894.7 1754.7 887.7 1754.3 888.7 1753.9 888.0 1753.5 891.3 1753.1 889.0 1752.7 890.6 1752.3 890.1 1751.9 889.0 1751.5 887.6 1751.1 888.8 1750.7 890.3 1750.4 890.6 1750.0 888.4 1749.6 890.2 1749.2 889.5 1748.8 889.2 1748.4 888.7 1748.0 888.2 1747.6 893.1 1747.2 891.9 1746.8 888.0 1746.4 890.5 1746.0 890.7 1745.6 890.4 1745.2 890.8 1744.8 888.5 1744.4 890.2 1744.0 888.0 1743.6 890.8 1743.2 888.0 1742.8 890.2 1742.4 889.6 1742.0 890.2 1741.6 888.4 1741.2 888.3 1740.8 889.3 1740.4 889.9 1740.0 890.2 1739.6 889.8 1739.3 890.7 1738.9 889.1 1738.5 889.0 1738.1 890.3 1737.7 888.3 1737.3 889.6 1736.9 890.3 1736.5 888.9 1736.1 888.4 1735.7 892.2 1735.3 889.2 1734.9 887.8 1734.5 890.0 1734.1 890.1 1733.7 888.7 1733.3 888.5 1732.9 887.5 1732.5 890.1 1732.1 889.1 1731.7 888.8 1731.3 889.9 1730.9 888.1 1730.5 890.1 1730.1 890.1 1729.7 889.8 1729.3 889.7 1728.9 889.7 1728.5 888.7 1728.1 888.7 1727.8 889.3 1727.4 891.0 1727.0 890.4 1726.6 888.7 1726.2 890.9 1725.8 890.6 1725.4 889.1 1725.0 890.9 1724.6 889.7 1724.2 889.5 1723.8 896.1 1723.4 889.6 1723.0 889.3 1722.6 890.7 1722.2 888.9 1721.8 889.1 1721.4 890.5 1721.0 889.6 1720.6 889.3 1720.2 890.9 1719.8 889.2 1719.4 890.8 1719.0 888.9 1718.6 891.7 1718.2 891.0 1717.8 888.9 1717.4 889.3 1717.0 890.3 1716.7 890.4 1716.3 888.9 1715.9 891.5 1715.5 889.0 1715.1 889.1 1714.7 890.4 1714.3 890.6 1713.9 888.8 1713.5 888.9 1713.1 888.8 1712.7 889.7 1712.3 890.7 1711.9 890.9 1711.5 890.5 1711.1 888.8 1710.7 894.8 1710.3 890.9 1709.9 890.6 1709.5 890.5 1709.1 889.9 1708.7 889.5 1708.3 889.4 1707.9 889.2 1707.5 890.2 1707.1 891.5 1706.7 889.8 1706.3 889.3 1705.9 890.4 1705.5 889.4 1705.2 891.7 1704.8 891.6 1704.4 891.1 1704.0 891.3 1703.6 890.7 1703.2 891.5 1702.8 889.1 1702.4 891.4 1702.0 889.6 1701.6 889.4 1701.2 890.1 1700.8 888.6 1700.4 887.4 1700.0 885.8 1699.6 886.6 1699.2 891.4 1698.8 884.1 1698.4 885.2 1698.0 883.8 1697.6 883.7 1697.2 885.2 1696.8 883.5 1696.4 885.0 1696.0 884.3 1695.6 885.2 1695.2 884.2 1694.8 884.9 1694.4 882.8 1694.0 883.9 1693.7 883.2 1693.3 884.5 1692.9 885.9 1692.5 887.3 1692.1 886.5 1691.7 886.8 1691.3 888.4 1690.9 887.7 1690.5 886.6 1690.1 889.3 1689.7 888.9 1689.3 889.5 1688.9 889.1 1688.5 887.7 1688.1 888.4 1687.7 889.5 1687.3 889.3 1686.9 889.0 1686.5 890.3 1686.1 890.7 1685.7 889.5 1685.3 891.3 1684.9 889.7 1684.5 891.1 1684.1 891.3 1683.7 889.3 1683.3 891.6 1682.9 891.7 1682.6 890.7 1682.2 890.2 1681.8 889.6 1681.4 890.6 1681.0 891.0 1680.6 891.3 1680.2 891.3 1679.8 890.6 1679.4 890.3 1679.0 895.4 1678.6 890.1 1678.2 890.5 1677.8 889.0 1677.4 889.9 1677.0 887.7 1676.6 889.2 1676.2 887.6 1675.8 888.3 1675.4 889.3 1675.0 887.7 1674.6 890.0 1674.2 887.9 1673.8 889.0 1673.4 891.3 1673.0 890.2 1672.6 888.0 1672.2 890.1 1671.8 887.8 1671.4 889.2 1671.1 887.7 1670.7 890.1 1670.3 887.3 1669.9 889.1 1669.5 887.0 1669.1 888.9 1668.7 885.8 1668.3 888.0 1667.9 886.0 1667.5 886.6 1667.1 885.4 1666.7 886.8 1666.3 885.6 1665.9 887.3 1665.5 885.4 1665.1 884.6 1664.7 886.9 1664.3 886.5 1663.9 885.2 1663.5 887.0 1663.1 888.0 1662.7 886.1 1662.3 886.4 1661.9 887.0 1661.5 889.1 1661.1 888.0 1660.7 889.9 1660.3 887.9 1660.0 888.3 1659.6 890.9 1659.2 890.4 1658.8 891.7 1658.4 892.2 1658.0 889.4 1657.6 890.2 1657.2 892.0 1656.8 890.7 1656.4 891.7 1656.0 889.7 1655.6 892.2 1655.2 892.2 1654.8 891.0 1654.4 891.1 1654.0 891.6 1653.6 890.1 1653.2 891.1 1652.8 891.1 1652.4 891.7 1652.0 889.3 1651.6 891.4 1651.2 890.4 1650.8 891.9 1650.4 890.5 1650.0 891.0 1649.6 889.7 1649.2 890.0 1648.8 890.3 1648.5 894.7 1648.1 891.1 1647.7 889.3 1647.3 889.8 1646.9 891.9 1646.5 890.4 1646.1 896.7 1645.7 892.0 1645.3 890.4 1644.9 891.2 1644.5 889.5 1644.1 891.0 1643.7 891.6 1643.3 890.6 1642.9 889.4 1642.5 890.2 1642.1 889.4 1641.7 891.7 1641.3 890.6 1640.9 891.7 1640.5 890.6 1640.1 892.0 1639.7 892.9 1639.3 890.9 1638.9 891.5 1638.5 889.6 1638.1 890.0 1637.7 895.0 1637.3 892.0 1637.0 890.2 1636.6 891.3 1636.2 891.8 1635.8 890.4 1635.4 895.1 1635.0 892.9 1634.6 889.2 1634.2 889.4 1633.8 892.1 1633.4 889.9 1633.0 889.6 1632.6 890.5 1632.2 891.6 1631.8 889.6 1631.4 891.6 1631.0 891.6 1630.6 891.8 1630.2 889.3 1629.8 890.3 1629.4 890.9 1629.0 890.0 1628.6 891.9 1628.2 891.2 1627.8 896.7 1627.4 890.9 1627.0 890.4 1626.6 889.7 1626.2 891.2 1625.9 889.6 1625.5 894.3 1625.1 889.7 1624.7 892.2 1624.3 892.0 1623.9 892.2 1623.5 891.3 1623.1 890.9 1622.7 891.6 1622.3 892.2 1621.9 891.6 1621.5 897.0 1621.1 890.8 1620.7 892.0 1620.3 891.1 1619.9 890.6 1619.5 889.7 1619.1 896.1 1618.7 889.8 1618.3 891.6 1617.9 891.6 1617.5 891.5 1617.1 892.3 1616.7 890.1 1616.3 891.2 1615.9 891.4 1615.5 892.4 1615.1 891.4 1614.7 890.7 1614.4 892.1 1614.0 892.1 1613.6 892.4 1613.2 891.7 1612.8 890.3 1612.4 889.8 1612.0 892.3 1611.6 891.2 1611.2 890.5 1610.8 891.8 1610.4 891.2 1610.0 891.8 1609.6 891.3 1609.2 890.2 1608.8 891.5 1608.4 892.4 1608.0 890.7 1607.6 890.6 1607.2 892.7 1606.8 891.3 1606.4 892.2 1606.0 890.9 1605.6 891.4 1605.2 892.5 1604.8 890.8 1604.4 890.1 1604.0 891.2 1603.6 892.2 1603.3 892.7 1602.9 891.9 1602.5 893.1 1602.1 891.7 1601.7 892.1 1601.3 891.2 1600.9 890.5 1600.5 890.3 1600.1 892.8 1599.7 896.8 1599.3 891.7 1598.9 893.1 1598.5 892.8 1598.1 890.9 1597.7 892.0 1597.3 896.4 1596.9 892.6 1596.5 893.2 1596.1 891.0 1595.7 892.1 1595.3 892.9 1594.9 892.5 1594.5 890.7 1594.1 892.8 1593.7 891.3 1593.3 893.1 1592.9 891.3 1592.5 891.4 1592.1 890.9 1591.8 892.1 1591.4 891.6 1591.0 894.4 1590.6 894.5 1590.2 890.8 1589.8 891.6 1589.4 891.9 1589.0 892.3 1588.6 889.7 1588.2 889.6 1587.8 891.3 1587.4 892.1 1587.0 887.2 1586.6 889.0 1586.2 886.3 1585.8 888.4 1585.4 884.1 1585.0 887.1 1584.6 886.7 1584.2 895.1 1583.8 884.4 1583.4 882.7 1583.0 885.9 1582.6 880.2 1582.2 881.0 1581.8 878.5 1581.4 892.7 1581.0 895.2 1580.7 880.4 1580.3 882.9 1579.9 881.6 1579.5 882.3 1579.1 877.6 1578.7 881.4 1578.3 878.7 1577.9 879.2 1577.5 880.0 1577.1 890.4 1576.7 882.5 1576.3 882.7 1575.9 881.1 1575.5 878.5 1575.1 883.3 1574.7 881.1 1574.3 880.8 1573.9 890.2 1573.5 883.8 1573.1 879.5 1572.7 883.8 1572.3 879.3 1571.9 884.5 1571.5 881.8 1571.1 879.1 1570.7 881.8 1570.3 883.1 1569.9 879.6 1569.5 881.4 1569.2 881.6 1568.8 882.3 1568.4 882.0 1568.0 883.1 1567.6 881.1 1567.2 879.4 1566.8 883.8 1566.4 880.3 1566.0 883.3 1565.6 881.2 1565.2 881.5 1564.8 884.2 1564.4 881.7 1564.0 882.5 1563.6 886.9 1563.2 880.9 1562.8 882.8 1562.4 885.1 1562.0 889.9 1561.6 883.4 1561.2 884.6 1560.8 882.0 1560.4 888.3 1560.0 891.1 1559.6 874.1 1559.2 885.2 1558.8 879.9 1558.4 877.9 1558.0 880.4 1557.7 876.4 1557.3 876.2 1556.9 883.8 1556.5 880.2 1556.1 882.3 1555.7 885.0 1555.3 883.1 1554.9 881.1 1554.5 878.5 1554.1 884.4 1553.7 882.2 1553.3 881.9 1552.9 887.6 1552.5 888.0 1552.1 884.6 1551.7 888.6 1551.3 896.4 1550.9 888.1 1550.5 888.7 1550.1 884.9 1549.7 886.6 1549.3 889.4 1548.9 887.2 1548.5 885.5 1548.1 888.4 1547.7 885.1 1547.3 886.2 1546.9 884.7 1546.6 890.2 1546.2 885.0 1545.8 898.4 1545.4 898.1 1545.0 890.7 1544.6 891.1 1544.2 900.8 1543.8 885.8 1543.4 892.7 1543.0 892.3 1542.6 892.9 1542.2 892.3 1541.8 888.3 1541.4 890.7 1541.0 892.3 1540.6 889.5 1540.2 891.2 1539.8 894.3 1539.4 891.6 1539.0 894.8 1538.6 896.4 1538.2 897.0 1537.8 896.1 1537.4 891.7 1537.0 895.7 1536.6 895.4 1536.2 898.5 1535.8 893.7 1535.4 897.0 1535.1 893.4 1534.7 896.9 1534.3 894.9 1533.9 897.2 1533.5 896.8 1533.1 894.3 1532.7 896.2 1532.3 896.3 1531.9 906.8 1531.5 897.5 1531.1 892.9 1530.7 897.9 1530.3 897.5 1529.9 896.1 1529.5 895.6 1529.1 898.5 1528.7 899.1 1528.3 897.1 1527.9 898.9 1527.5 896.3 1527.1 900.2 1526.7 896.0 1526.3 899.4 1525.9 901.2 1525.5 902.1 1525.1 908.8 1524.7 900.8 1524.3 896.9 1524.0 898.7 1523.6 905.3 1523.2 895.9 1522.8 901.4 1522.4 899.9 1522.0 899.2 1521.6 901.1 1521.2 899.4 1520.8 895.1 1520.4 895.1 1520.0 897.1 1519.6 892.1 1519.2 892.4 1518.8 897.1 1518.4 889.3 1518.0 891.0 1517.6 887.8 1517.2 890.0 1516.8 885.2 1516.4 883.7 1516.0 887.5 1515.6 881.1 1515.2 881.0 1514.8 883.3 1514.4 882.8 1514.0 881.9 1513.6 881.0 1513.2 883.0 1512.8 881.0 1512.5 885.7 1512.1 882.9 1511.7 883.5 1511.3 886.9 1510.9 888.1 1510.5 889.8 1510.1 890.1 1509.7 890.5 1509.3 893.1 1508.9 892.6 1508.5 893.6 1508.1 891.0 1507.7 891.9 1507.3 894.4 1506.9 896.8 1506.5 893.6 1506.1 894.4 1505.7 897.7 1505.3 894.9 1504.9 894.8 1504.5 897.9 1504.1 900.7 1503.7 898.1 1503.3 903.3 1502.9 901.2 1502.5 900.0 1502.1 897.1 1501.7 900.3 1501.4 900.5 1501.0 896.6 1500.6 896.9 1500.2 901.7 1499.8 897.1 1499.4 906.4 1499.0 903.3 1498.6 897.9 1498.2 902.3 1497.8 902.5 1497.4 897.5 1497.0 897.8 1496.6 897.8 1496.2 899.6 1495.8 897.4 1495.4 900.3 1495.0 899.6 1494.6 909.2 1494.2 902.1 1493.8 897.4 1493.4 899.6 1493.0 903.3 1492.6 896.9 1492.2 901.3 1491.8 900.9 1491.4 900.2 1491.0 899.2 1490.6 902.5 1490.2 899.3 1489.9 899.4 1489.5 897.8 1489.1 913.6 1488.7 900.0 1488.3 902.7 1487.9 899.2 1487.5 903.1 1487.1 900.8 1486.7 911.6 1486.3 897.5 1485.9 903.2 1485.5 913.4 1485.1 900.1 1484.7 905.2 1484.3 900.1 1483.9 898.9 1483.5 895.3 1483.1 896.4 1482.7 891.7 1482.3 890.4 1481.9 886.8 1481.5 890.8 1481.1 884.1 1480.7 883.8 1480.3 887.5 1479.9 889.8 1479.5 885.6 1479.1 886.1 1478.7 888.3 1478.4 893.4 1478.0 887.2 1477.6 887.2 1477.2 887.8 1476.8 893.9 1476.4 892.3 1476.0 891.6 1475.6 897.5 1475.2 895.2 1474.8 900.4 1474.4 902.2 1474.0 902.7 1473.6 898.3 1473.2 899.9 1472.8 901.1 1472.4 898.4 1472.0 897.7 1471.6 897.8 1471.2 897.9 1470.8 898.4 1470.4 898.0 1470.0 896.9 1469.6 899.6 1469.2 915.7 1468.8 900.5 1468.4 897.1 1468.0 899.9 1467.6 900.4 1467.3 898.4 1466.9 898.1 1466.5 898.3 1466.1 909.7 1465.7 901.6 1465.3 895.7 1464.9 899.0 1464.5 897.9 1464.1 896.5 1463.7 893.8 1463.3 897.6 1462.9 894.1 1462.5 893.9 1462.1 892.2 1461.7 890.9 1461.3 892.8 1460.9 892.1 1460.5 892.7 1460.1 908.8 1459.7 896.1 1459.3 890.7 1458.9 892.2 1458.5 895.3 1458.1 898.9 1457.7 893.2 1457.3 896.4 1456.9 893.6 1456.5 893.5 1456.1 897.5 1455.8 894.2 1455.4 898.4 1455.0 894.9 1454.6 897.0 1454.2 900.6 1453.8 899.3 1453.4 910.5 1453.0 898.1 1452.6 901.7 1452.2 898.3 1451.8 906.1 1451.4 898.6 1451.0 903.0 1450.6 898.3 1450.2 903.5 1449.8 900.5 1449.4 902.5 1449.0 903.1 1448.6 903.5 1448.2 900.2 1447.8 903.4 1447.4 899.6 1447.0 901.5 1446.6 902.8 1446.2 900.2 1445.8 907.0 1445.4 902.5 1445.0 898.9 1444.7 898.9 1444.3 899.6 1443.9 898.6 1443.5 901.9 1443.1 901.8 1442.7 897.2 1442.3 898.7 1441.9 896.5 1441.5 896.6 1441.1 901.1 1440.7 898.0 1440.3 899.8 1439.9 898.2 1439.5 897.2 1439.1 898.9 1438.7 895.9 1438.3 900.3 1437.9 901.5 1437.5 901.6 1437.1 900.9 1436.7 899.3 1436.3 900.3 1435.9 899.3 1435.5 897.0 1435.1 899.0 1434.7 899.9 1434.3 896.9 1433.9 899.2 1433.5 895.7 1433.2 894.9 1432.8 890.8 1432.4 892.9 1432.0 888.5 1431.6 887.2 1431.2 888.7 1430.8 887.4 1430.4 888.7 1430.0 888.2 1429.6 891.4 1429.2 891.3 1428.8 890.4 1428.4 891.5 1428.0 890.0 1427.6 890.0 1427.2 891.2 1426.8 892.9 1426.4 889.2 1426.0 895.4 1425.6 892.3 1425.2 896.5 1424.8 899.5 1424.4 898.9 1424.0 903.1 1423.6 903.4 1423.2 904.8 1422.8 900.8 1422.4 903.0 1422.1 905.2 1421.7 904.1 1421.3 901.3 1420.9 902.6 1420.5 901.7 1420.1 908.5 1419.7 905.3 1419.3 905.9 1418.9 902.1 1418.5 910.2 1418.1 902.6 1417.7 902.3 1417.3 904.2 1416.9 905.8 1416.5 902.7 1416.1 903.4 1415.7 903.6 1415.3 904.2 1414.9 905.1 1414.5 905.5 1414.1 905.4 1413.7 905.9 1413.3 902.8 1412.9 904.0 1412.5 903.8 1412.1 905.9 1411.7 912.4 1411.3 902.3 1410.9 904.8 1410.6 904.8 1410.2 901.7 1409.8 905.9 1409.4 903.1 1409.0 905.9 1408.6 905.2 1408.2 905.5 1407.8 906.5 1407.4 906.7 1407.0 906.0 1406.6 902.0 1406.2 902.1 1405.8 904.9 1405.4 904.2 1405.0 902.8 1404.6 904.1 1404.2 902.3 1403.8 904.2 1403.4 902.6 1403.0 904.5 1402.6 903.2 1402.2 904.6 1401.8 903.2 1401.4 902.8 1401.0 904.2 1400.6 906.1 1400.2 906.2 1399.8 902.7 1399.5 906.3 1399.1 903.0 1398.7 906.9 1398.3 904.0 1397.9 906.9 1397.5 902.7 1397.1 906.8 1396.7 905.2 1396.3 904.4 1395.9 907.1 1395.5 912.2 1395.1 906.9 1394.7 906.1 1394.3 902.7 1393.9 904.9 1393.5 904.0 1393.1 904.2 1392.7 903.9 1392.3 903.0 1391.9 906.1 1391.5 905.2 1391.1 905.2 1390.7 904.8 1390.3 905.5 1389.9 906.2 1389.5 907.5 1389.1 907.0 1388.7 906.2 1388.3 906.4 1388.0 904.3 1387.6 907.3 1387.2 904.6 1386.8 903.1 1386.4 903.8 1386.0 906.2 1385.6 906.1 1385.2 906.7 1384.8 904.6 1384.4 906.9 1384.0 904.0 1383.6 904.0 1383.2 905.1 1382.8 904.0 1382.4 907.5 1382.0 905.3 1381.6 904.6 1381.2 907.5 1380.8 905.1 1380.4 906.7 1380.0 907.4 1379.6 905.0 1379.2 906.1 1378.8 905.4 1378.4 908.4 1378.0 909.8 1377.6 908.3 1377.2 904.8 1376.8 906.6 1376.5 904.4 1376.1 906.4 1375.7 908.4 1375.3 906.9 1374.9 908.7 1374.5 907.0 1374.1 905.3 1373.7 914.8 1373.3 914.1 1372.9 908.5 1372.5 905.6 1372.1 906.4 1371.7 908.0 1371.3 907.2 1370.9 905.0 1370.5 903.7 1370.1 902.7 1369.7 903.0 1369.3 904.9 1368.9 902.2 1368.5 901.4 1368.1 902.7 1367.7 898.9 1367.3 900.8 1366.9 906.9 1366.5 896.7 1366.1 895.5 1365.7 896.8 1365.4 894.2 1365.0 890.4 1364.6 893.4 1364.2 893.0 1363.8 891.9 1363.4 891.3 1363.0 890.5 1362.6 893.1 1362.2 890.4 1361.8 890.7 1361.4 890.4 1361.0 890.4 1360.6 893.5 1360.2 896.1 1359.8 897.3 1359.4 900.4 1359.0 902.8 1358.6 910.8 1358.2 904.9 1357.8 906.9 1357.4 913.0 1357.0 906.9 1356.6 905.2 1356.2 907.9 1355.8 905.7 1355.4 908.2 1355.0 904.7 1354.6 908.6 1354.2 905.1 1353.9 907.3 1353.5 908.5 1353.1 905.3 1352.7 913.2 1352.3 906.0 1351.9 907.4 1351.5 904.8 1351.1 904.8 1350.7 906.9 1350.3 908.2 1349.9 907.4 1349.5 907.3 1349.1 904.2 1348.7 904.4 1348.3 908.6 1347.9 904.9 1347.5 908.4 1347.1 906.5 1346.7 906.5 1346.3 904.1 1345.9 905.7 1345.5 907.2 1345.1 905.7 1344.7 908.2 1344.3 906.0 1343.9 906.1 1343.5 907.7 1343.1 903.7 1342.8 904.8 1342.4 906.0 1342.0 904.4 1341.6 906.1 1341.2 906.5 1340.8 904.8 1340.4 906.1 1340.0 906.0 1339.6 907.1 1339.2 904.4 1338.8 905.1 1338.4 907.6 1338.0 912.2 1337.6 905.6 1337.2 904.5 1336.8 903.9 1336.4 903.6 1336.0 905.9 1335.6 905.7 1335.2 912.4 1334.8 907.3 1334.4 906.9 1334.0 913.0 1333.6 904.1 1333.2 903.4 1332.8 907.9 1332.4 904.0 1332.0 905.4 1331.6 905.8 1331.3 904.4 1330.9 905.5 1330.5 903.8 1330.1 906.0 1329.7 907.2 1329.3 907.7 1328.9 907.7 1328.5 907.2 1328.1 906.9 1327.7 908.1 1327.3 905.6 1326.9 905.4 1326.5 904.8 1326.1 903.7 1325.7 904.3 1325.3 904.8 1324.9 904.9 1324.5 906.1 1324.1 904.4 1323.7 914.8 1323.3 905.3 1322.9 908.1 1322.5 906.8 1322.1 905.4 1321.7 904.0 1321.3 905.3 1320.9 904.0 1320.5 906.7 1320.1 904.4 1319.8 906.4 1319.4 905.5 1319.0 910.9 1318.6 906.0 1318.2 917.8 1317.8 908.1 1317.4 906.0 1317.0 905.1 1316.6 904.5 1316.2 909.4 1315.8 904.5 1315.4 906.2 1315.0 907.0 1314.6 905.3 1314.2 905.2 1313.8 906.1 1313.4 907.4 1313.0 907.8 1312.6 904.5 1312.2 907.7 1311.8 904.9 1311.4 906.8 1311.0 907.1 1310.6 906.5 1310.2 904.9 1309.8 906.8 1309.4 907.6 1309.0 907.1 1308.7 908.1 1308.3 907.9 1307.9 910.3 1307.5 905.5 1307.1 908.3 1306.7 906.8 1306.3 907.1 1305.9 905.5 1305.5 906.8 1305.1 906.6 1304.7 907.1 1304.3 906.9 1303.9 907.5 1303.5 905.7 1303.1 907.6 1302.7 914.5 1302.3 906.2 1301.9 905.8 1301.5 907.6 1301.1 905.9 1300.7 906.8 1300.3 914.6 1299.9 909.5 1299.5 905.8 1299.1 908.9 1298.7 909.3 1298.3 908.5 1297.9 906.0 1297.5 905.0 1297.2 907.4 1296.8 915.5 1296.4 908.4 1296.0 908.5 1295.6 909.5 1295.2 905.7 1294.8 907.4 1294.4 908.4 1294.0 906.1 1293.6 908.3 1293.2 907.3 1292.8 907.4 1292.4 905.2 1292.0 909.4 1291.6 909.6 1291.2 905.8 1290.8 907.2 1290.4 905.2 1290.0 907.7 1289.6 915.2 1289.2 908.1 1288.8 907.9 1288.4 907.1 1288.0 915.4 1287.6 908.4 1287.2 908.2 1286.8 904.4 1286.4 903.2 1286.1 905.5 1285.7 907.4 1285.3 907.2 1284.9 905.2 1284.5 906.6 1284.1 906.6 1283.7 903.2 1283.3 902.8 1282.9 915.7 1282.5 904.5 1282.1 901.8 1281.7 904.6 1281.3 905.1 1280.9 902.9 1280.5 905.9 1280.1 903.4 1279.7 905.3 1279.3 905.0 1278.9 903.9 1278.5 903.9 1278.1 900.5 1277.7 903.9 1277.3 902.0 1276.9 901.8 1276.5 901.4 1276.1 898.3 1275.7 901.8 1275.3 898.5 1274.9 896.4 1274.6 899.6 1274.2 898.2 1273.8 901.2 1273.4 898.9 1273.0 897.0 1272.6 893.8 1272.2 897.5 1271.8 894.7 1271.4 894.9 1271.0 896.5 1270.6 893.3 1270.2 896.7 1269.8 895.9 1269.4 893.7 1269.0 896.4 1268.6 893.9 1268.2 904.1 1267.8 895.4 1267.4 895.6 1267.0 899.3 1266.6 899.4 1266.2 907.2 1265.8 899.9 1265.4 902.2 1265.0 902.4 1264.6 900.2 1264.2 902.3 1263.8 899.3 1263.5 906.6 1263.1 899.2 1262.7 905.7 1262.3 902.4 1261.9 899.6 1261.5 899.8 1261.1 901.5 1260.7 903.1 1260.3 900.8 1259.9 901.7 1259.5 902.6 1259.1 907.3 1258.7 901.1 1258.3 902.7 1257.9 902.4 1257.5 905.6 1257.1 901.9 1256.7 904.0 1256.3 903.9 1255.9 904.8 1255.5 907.1 1255.1 906.5 1254.7 911.3 1254.3 906.0 1253.9 905.2 1253.5 906.8 1253.1 908.6 1252.7 905.4 1252.3 908.7 1252.0 907.0 1251.6 907.8 1251.2 909.3 1250.8 905.8 1250.4 908.8 1250.0 906.8 1249.6 907.1 1249.2 908.3 1248.8 907.1 1248.4 906.9 1248.0 909.4 1247.6 909.0 1247.2 907.0 1246.8 905.7 1246.4 905.4 1246.0 906.6 1245.6 907.4 1245.2 904.8 1244.8 907.0 1244.4 907.0 1244.0 905.0 1243.6 906.3 1243.2 906.7 1242.8 906.9 1242.4 905.1 1242.0 908.0 1241.6 905.1 1241.2 908.6 1240.8 905.1 1240.5 915.7 1240.1 909.2 1239.7 906.3 1239.3 906.5 1238.9 906.1 1238.5 907.2 1238.1 905.9 1237.7 909.3 1237.3 909.8 1236.9 913.2 1236.5 914.6 1236.1 906.3 1235.7 910.6 1235.3 909.9 1234.9 909.8 1234.5 907.7 1234.1 906.3 1233.7 908.3 1233.3 905.6 1232.9 907.0 1232.5 908.3 1232.1 907.8 1231.7 908.1 1231.3 907.6 1230.9 906.0 1230.5 907.6 1230.1 905.4 1229.7 908.7 1229.4 905.4 1229.0 908.8 1228.6 905.9 1228.2 905.8 1227.8 908.7 1227.4 909.1 1227.0 907.0 1226.6 906.1 1226.2 905.0 1225.8 908.8 1225.4 907.2 1225.0 907.4 1224.6 904.9 1224.2 906.0 1223.8 905.1 1223.4 905.0 1223.0 907.4 1222.6 904.1 1222.2 905.5 1221.8 904.9 1221.4 903.3 1221.0 900.5 1220.6 896.2 1220.2 897.1 1219.8 896.0 1219.4 894.7 1219.0 892.7 1218.6 903.0 1218.2 889.2 1217.9 890.1 1217.5 888.7 1217.1 887.2 1216.7 888.6 1216.3 886.0 1215.9 887.4 1215.5 885.0 1215.1 882.5 1214.7 884.9 1214.3 881.1 1213.9 885.8 1213.5 883.6 1213.1 883.5 1212.7 885.9 1212.3 885.2 1211.9 887.6 1211.5 884.1 1211.1 883.7 1210.7 880.2 1210.3 882.3 1209.9 888.0 1209.5 877.3 1209.1 877.8 1208.7 880.1 1208.3 880.6 1207.9 880.6 1207.5 892.8 1207.1 884.2 1206.8 888.0 1206.4 886.2 1206.0 888.7 1205.6 891.8 1205.2 893.6 1204.8 894.5 1204.4 894.3 1204.0 894.5 1203.6 897.2 1203.2 898.7 1202.8 899.5 1202.4 901.2 1202.0 901.6 1201.6 906.1 1201.2 902.3 1200.8 905.3 1200.4 905.5 1200.0 906.8 1199.6 902.5 1199.2 905.5 1198.8 906.3 1198.4 906.3 1198.0 905.5 1197.6 906.9 1197.2 906.4 1196.8 903.6 1196.4 904.8 1196.0 906.6 1195.6 907.6 1195.3 907.9 1194.9 906.5 1194.5 906.3 1194.1 906.0 1193.7 910.0 1193.3 906.7 1192.9 906.9 1192.5 906.4 1192.1 912.7 1191.7 906.5 1191.3 903.9 1190.9 904.5 1190.5 908.4 1190.1 906.5 1189.7 905.1 1189.3 903.7 1188.9 905.8 1188.5 907.2 1188.1 908.4 1187.7 905.8 1187.3 908.2 1186.9 906.7 1186.5 905.7 1186.1 904.3 1185.7 906.1 1185.3 905.6 1184.9 908.3 1184.5 903.4 1184.2 907.1 1183.8 908.2 1183.4 903.2 1183.0 903.5 1182.6 906.1 1182.2 913.0 1181.8 903.5 1181.4 906.1 1181.0 906.0 1180.6 918.3 1180.2 907.6 1179.8 907.3 1179.4 906.2 1179.0 910.8 1178.6 907.0 1178.2 912.7 1177.8 904.3 1177.4 903.3 1177.0 905.9 1176.6 901.6 1176.2 903.4 1175.8 902.1 1175.4 905.2 1175.0 902.7 1174.6 904.4 1174.2 904.4 1173.8 901.1 1173.4 912.0 1173.0 904.2 1172.7 901.4 1172.3 901.7 1171.9 903.1 1171.5 900.4 1171.1 903.4 1170.7 917.1 1170.3 901.5 1169.9 900.8 1169.5 901.7 1169.1 904.0 1168.7 900.5 1168.3 902.1 1167.9 904.1 1167.5 899.7 1167.1 905.2 1166.7 904.0 1166.3 899.3 1165.9 901.5 1165.5 903.6 1165.1 900.0 1164.7 899.1 1164.3 915.1 1163.9 899.3 1163.5 902.3 1163.1 903.3 1162.7 900.1 1162.3 902.7 1161.9 902.6 1161.5 904.3 1161.2 902.7 1160.8 898.4 1160.4 900.8 1160.0 899.9 1159.6 899.3 1159.2 899.1 1158.8 898.4 1158.4 903.9 1158.0 904.1 1157.6 900.9 1157.2 918.7 1156.8 897.8 1156.4 903.6 1156.0 903.5 1155.6 899.1 1155.2 901.3 1154.8 903.3 1154.4 911.9 1154.0 904.5 1153.6 900.4 1153.2 901.3 1152.8 902.7 1152.4 901.7 1152.0 899.8 1151.6 907.8 1151.2 899.9 1150.8 898.2 1150.4 898.5 1150.1 903.2 1149.7 910.4 1149.3 914.9 1148.9 903.9 1148.5 901.6 1148.1 898.1 1147.7 901.9 1147.3 903.4 1146.9 901.6 1146.5 912.0 1146.1 903.9 1145.7 901.3 1145.3 903.8 1144.9 901.2 1144.5 903.2 1144.1 897.3 1143.7 899.3 1143.3 899.7 1142.9 900.2 1142.5 900.5 1142.1 899.0 1141.7 916.3 1141.3 898.2 1140.9 899.3 1140.5 899.0 1140.1 895.9 1139.7 899.7 1139.3 896.3 1138.9 899.5 1138.6 896.4 1138.2 895.5 1137.8 894.6 1137.4 896.2 1137.0 894.4 1136.6 897.5 1136.2 893.7 1135.8 898.7 1135.4 896.9 1135.0 895.9 1134.6 895.2 1134.2 896.2 1133.8 894.7 1133.4 895.2 1133.0 901.2 1132.6 900.3 1132.2 895.8 1131.8 898.6 1131.4 896.2 1131.0 915.0 1130.6 901.6 1130.2 899.2 1129.8 898.9 1129.4 904.8 1129.0 904.0 1128.6 904.1 1128.2 903.2 1127.8 903.5 1127.5 898.5 1127.1 902.2 1126.7 898.8 1126.3 900.8 1125.9 901.6 1125.5 915.3 1125.1 898.7 1124.7 897.1 1124.3 895.6 1123.9 897.0 1123.5 893.5 1123.1 894.7 1122.7 900.6 1122.3 892.6 1121.9 891.5 1121.5 893.8 1121.1 890.1 1120.7 884.1 1120.3 884.7 1119.9 878.4 1119.5 887.4 1119.1 874.4 1118.7 871.3 1118.3 867.6 1117.9 864.6 1117.5 862.3 1117.1 853.0 1116.7 849.0 1116.3 846.4 1116.0 847.0 1115.6 840.1 1115.2 841.3 1114.8 851.4 1114.4 842.0 1114.0 836.1 1113.6 837.0 1113.2 837.9 1112.8 841.9 1112.4 847.3 1112.0 835.8 1111.6 832.9 1111.2 845.5 1110.8 837.8 1110.4 836.4 1110.0 832.9 1109.6 838.0 1109.2 837.4 1108.8 836.8 1108.4 834.2 1108.0 837.2 1107.6 839.1 1107.2 835.2 1106.8 839.1 1106.4 836.3 1106.0 841.7 1105.6 858.7 1105.2 846.4 1104.9 849.8 1104.5 861.9 1104.1 857.5 1103.7 850.1 1103.3 857.0 1102.9 856.3 1102.5 859.0 1102.1 865.0 1101.7 862.1 1101.3 867.3 1100.9 865.0 1100.5 870.7 1100.1 874.8 1099.7 871.7 1099.3 886.2 1098.9 878.0 1098.5 874.0 1098.1 879.5 1097.7 879.2 1097.3 877.2 1096.9 879.3 1096.5 876.6 1096.1 881.5 1095.7 876.2 1095.3 879.8 1094.9 880.7 1094.5 890.1 1094.1 878.0 1093.7 879.6 1093.4 875.6 1093.0 884.3 1092.6 881.5 1092.2 881.7 1091.8 884.3 1091.4 888.5 1091.0 888.5 1090.6 885.6 1090.2 892.0 1089.8 893.7 1089.4 890.5 1089.0 907.4 1088.6 894.4 1088.2 895.4 1087.8 902.3 1087.4 896.2 1087.0 910.0 1086.6 893.6 1086.2 895.7 1085.8 898.8 1085.4 901.3 1085.0 896.2 1084.6 903.3 1084.2 897.1 1083.8 897.7 1083.4 897.9 1083.0 903.7 1082.6 899.6 1082.2 906.1 1081.9 904.5 1081.5 906.7 1081.1 920.2 1080.7 904.0 1080.3 905.9 1079.9 905.2 1079.5 916.3 1079.1 906.9 1078.7 904.7 1078.3 905.7 1077.9 902.9 1077.5 905.1 1077.1 905.5 1076.7 900.8 1076.3 905.6 1075.9 903.4 1075.5 905.9 1075.1 906.9 1074.7 905.1 1074.3 914.2 1073.9 915.1 1073.5 905.2 1073.1 902.7 1072.7 902.3 1072.3 906.6 1071.9 901.8 1071.5 915.2 1071.1 905.2 1070.8 904.9 1070.4 900.3 1070.0 902.8 1069.6 900.1 1069.2 904.6 1068.8 902.2 1068.4 907.2 1068.0 901.5 1067.6 900.6 1067.2 903.9 1066.8 900.2 1066.4 904.8 1066.0 901.1 1065.6 913.1 1065.2 904.2 1064.8 904.3 1064.4 901.4 1064.0 919.7 1063.6 903.9 1063.2 903.5 1062.8 901.2 1062.4 903.8 1062.0 903.0 1061.6 899.8 1061.2 903.8 1060.8 902.6 1060.4 901.2 1060.0 900.7 1059.6 900.4 1059.3 902.0 1058.9 903.6 1058.5 900.6 1058.1 902.4 1057.7 904.5 1057.3 909.6 1056.9 906.9 1056.5 904.3 1056.1 904.3 1055.7 906.9 1055.3 901.5 1054.9 900.5 1054.5 902.2 1054.1 901.2 1053.7 906.6 1053.3 903.4 1052.9 906.5 1052.5 900.2 1052.1 901.1 1051.7 907.2 1051.3 901.8 1050.9 906.3 1050.5 903.7 1050.1 907.3 1049.7 912.1 1049.3 906.9 1048.9 905.1 1048.5 903.7 1048.2 902.8 1047.8 901.3 1047.4 907.0 1047.0 905.1 1046.6 906.1 1046.2 911.8 1045.8 905.4 1045.4 906.7 1045.0 903.1 1044.6 902.0 1044.2 901.2 1043.8 915.3 1043.4 910.3 1043.0 921.3 1042.6 901.0 1042.2 903.7 1041.8 906.2 1041.4 906.7 1041.0 901.7 1040.6 911.9 1040.2 910.1 1039.8 900.2 1039.4 906.6 1039.0 906.6 1038.6 920.9 1038.2 901.7 1037.8 896.6 1037.4 895.5 1037.0 900.9 1036.7 899.2 1036.3 894.1 1035.9 895.8 1035.5 893.9 1035.1 890.0 1034.7 887.4 1034.3 884.8 1033.9 885.9 1033.5 888.2 1033.1 881.2 1032.7 882.3 1032.3 879.2 1031.9 887.1 1031.5 878.0 1031.1 884.0 1030.7 879.2 1030.3 876.4 1029.9 875.5 1029.5 881.5 1029.1 875.6 1028.7 878.4 1028.3 880.7 1027.9 881.6 1027.5 895.9 1027.1 887.0 1026.7 887.6 1026.3 885.5 1025.9 895.0 1025.6 899.5 1025.2 893.5 1024.8 891.5 1024.4 894.1 1024.0 891.2 1023.6 894.1 1023.2 894.7 1022.8 898.7 1022.4 901.4 1022.0 909.8 1021.6 901.8 1021.2 902.6 1020.8 901.5 1020.4 900.8 1020.0 903.3 1019.6 906.4 1019.2 904.1 1018.8 901.5 1018.4 902.8 1018.0 900.7 1017.6 911.9 1017.2 902.2 1016.8 902.1 1016.4 903.0 1016.0 899.0 1015.6 902.2 1015.2 907.1 1014.8 902.8 1014.4 898.2 1014.1 904.4 1013.7 907.9 1013.3 903.6 1012.9 902.0 1012.5 897.6 1012.1 897.9 1011.7 897.9 1011.3 900.3 1010.9 901.1 1010.5 900.8 1010.1 900.8 1009.7 897.5 1009.3 896.9 1008.9 897.3 1008.5 894.4 1008.1 903.3 1007.7 898.8 1007.3 907.8 1006.9 896.1 1006.5 894.1 1006.1 915.9 1005.7 902.7 1005.3 897.2 1004.9 893.9 1004.5 895.1 1004.1 894.0 1003.7 894.2 1003.3 890.0 1002.9 889.6 1002.6 895.2 1002.2 892.4 1001.8 893.1 1001.4 894.9 1001.0 896.7 1000.6 901.0 1000.2 889.9 999.8 892.4 999.4 899.9 999.0 892.9 998.6 889.7 998.2 893.5 997.8 894.4 997.4 895.9 997.0 892.2 996.6 889.2 996.2 892.2 995.8 895.9 995.4 891.5 995.0 895.9 994.6 892.2 994.2 892.3 993.8 895.5 993.4 895.7 993.0 897.3 992.6 894.4 992.2 895.3 991.8 892.9 991.5 892.4 991.1 893.3 990.7 894.7 990.3 898.7 989.9 909.8 989.5 901.5 989.1 899.8 988.7 900.5 988.3 913.0 987.9 896.3 987.5 901.4 987.1 899.6 986.7 899.9 986.3 895.5 985.9 903.3 985.5 897.4 985.1 902.4 984.7 899.4 984.3 897.5 983.9 901.2 983.5 899.6 983.1 907.2 982.7 899.4 982.3 900.1 981.9 920.2 981.5 903.0 981.1 904.8 980.7 900.1 980.3 900.2 980.0 901.2 979.6 897.6 979.2 900.0 978.8 896.8 978.4 899.7 978.0 899.1 977.6 896.9 977.2 899.9 976.8 903.3 976.4 898.7 976.0 902.3 975.6 902.1 975.2 897.1 974.8 901.1 974.4 902.6 974.0 902.5 973.6 900.6 973.2 902.4 972.8 896.8 972.4 896.9 972.0 898.4 971.6 898.7 971.2 901.6 970.8 901.4 970.4 917.8 970.0 900.5 969.6 897.1 969.2 900.8 968.9 900.6 968.5 901.9 968.1 898.1 967.7 916.3 967.3 901.4 966.9 906.0 966.5 894.8 966.1 901.0 965.7 899.8 965.3 895.5 964.9 895.5 964.5 898.8 964.1 897.3 963.7 901.3 963.3 903.7 962.9 896.4 962.5 900.0 962.1 894.8 961.7 894.9 961.3 893.3 960.9 899.3 960.5 896.1 960.1 891.3 959.7 907.2 959.3 893.1 958.9 892.3 958.5 909.8 958.1 895.6 957.7 894.2 957.4 888.7 957.0 887.3 956.6 890.2 956.2 889.6 955.8 888.4 955.4 886.0 955.0 890.8 954.6 891.1 954.2 891.1 953.8 884.8 953.4 887.1 953.0 887.3 952.6 883.0 952.2 882.4 951.8 884.2 951.4 884.8 951.0 883.4 950.6 880.5 950.2 887.8 949.8 884.5 949.4 896.0 949.0 894.8 948.6 886.7 948.2 884.5 947.8 882.1 947.4 884.5 947.0 884.4 946.6 884.1 946.3 888.1 945.9 891.0 945.5 885.6 945.1 885.0 944.7 884.7 944.3 888.6 943.9 886.3 943.5 886.8 943.1 888.4 942.7 888.2 942.3 886.9 941.9 890.3 941.5 906.4 941.1 887.5 940.7 884.3 940.3 886.9 939.9 884.9 939.5 885.1 939.1 890.0 938.7 882.6 938.3 900.7 937.9 882.6 937.5 883.4 937.1 897.0 936.7 890.9 936.3 884.0 935.9 889.8 935.5 890.8 935.1 886.5 934.8 887.2 934.4 888.5 934.0 900.2 933.6 892.5 933.2 895.1 932.8 890.7 932.4 895.9 932.0 909.3 931.6 892.9 931.2 895.1 930.8 894.9 930.4 890.9 930.0 894.9 929.6 901.0 929.2 891.5 928.8 893.6 928.4 895.4 928.0 892.3 927.6 904.4 927.2 894.3 926.8 893.4 926.4 893.8 926.0 897.2 925.6 899.1 925.2 895.6 924.8 901.6 924.4 898.4 924.0 895.2 923.6 898.4 923.3 900.0 922.9 896.8 922.5 899.4 922.1 900.5 921.7 895.2 921.3 900.6 920.9 898.1 920.5 899.4 920.1 897.6 919.7 896.5 919.3 903.6 918.9 901.4 918.5 900.9 918.1 901.9 917.7 902.5 917.3 899.4 916.9 903.1 916.5 904.3 916.1 898.7 915.7 899.5 915.3 901.8 914.9 900.9 914.5 896.9 914.1 901.4 913.7 901.9 913.3 916.9 912.9 903.0 912.5 899.2 912.2 902.9 911.8 897.5 911.4 901.9 911.0 902.8 910.6 904.0 910.2 918.6 909.8 903.6 909.4 899.1 909.0 900.0 908.6 915.4 908.2 898.2 907.8 902.5 907.4 902.8 907.0 909.7 906.6 902.3 906.2 902.7 905.8 903.5 905.4 903.4 905.0 902.3 904.6 899.7 904.2 904.2 903.8 902.1 903.4 901.4 903.0 900.5 902.6 901.0 902.2 901.1 901.8 900.6 901.4 897.1 901.0 898.6 900.7 900.5 900.3 898.6 899.9 904.3 899.5 899.1 899.1 903.2 898.7 900.6 898.3 900.4 897.9 913.2 897.5 897.0 897.1 897.4 896.7 899.4 896.3 896.3 895.9 903.8 895.5 896.3 895.1 901.6 894.7 898.8 894.3 897.8 893.9 897.1 893.5 914.3 893.1 901.8 892.7 899.3 892.3 903.0 891.9 901.7 891.5 907.9 891.1 896.3 890.7 898.0 890.3 901.5 889.9 901.5 889.6 902.7 889.2 902.2 888.8 908.6 888.4 900.5 888.0 902.6 887.6 899.5 887.2 902.8 886.8 895.9 886.4 895.8 886.0 899.2 885.6 896.7 885.2 899.1 884.8 894.9 884.4 898.2 884.0 897.7 883.6 897.3 883.2 896.2 882.8 889.7 882.4 890.7 882.0 890.8 881.6 894.8 881.2 890.2 880.8 887.3 880.4 892.3 880.0 897.7 879.6 904.2 879.2 894.3 878.8 890.3 878.4 896.8 878.1 892.6 877.7 894.2 877.3 902.3 876.9 890.5 876.5 894.0 876.1 893.7 875.7 890.9 875.3 906.5 874.9 895.4 874.5 901.2 874.1 898.7 873.7 918.1 873.3 896.7 872.9 896.6 872.5 896.2 872.1 901.6 871.7 898.9 871.3 900.7 870.9 902.2 870.5 910.4 870.1 901.8 869.7 899.9 869.3 899.3 868.9 901.2 868.5 896.1 868.1 903.3 867.7 900.2 867.3 896.9 867.0 897.8 866.6 897.4 866.2 898.3 865.8 895.5 865.4 901.8 865.0 900.1 864.6 898.5 864.2 907.6 863.8 898.4 863.4 902.3 863.0 896.6 862.6 895.1 862.2 897.9 861.8 897.3 861.4 899.8 861.0 894.6 860.6 894.9 860.2 895.9 859.8 896.8 859.4 896.5 859.0 893.4 858.6 905.6 858.2 890.5 857.8 902.5 857.4 909.0 857.0 892.7 856.6 889.9 856.2 890.5 855.8 889.6 855.5 892.1 855.1 892.4 854.7 888.0 854.3 890.7 853.9 904.5 853.5 891.5 853.1 890.0 852.7 887.0 852.3 894.7 851.9 886.5 851.5 905.6 851.1 893.7 850.7 887.7 850.3 887.9 849.9 894.9 849.5 888.1 849.1 891.9 848.7 893.8 848.3 893.2 847.9 891.8 847.5 887.1 847.1 890.9 846.7 893.0 846.3 889.4 845.9 888.0 845.5 889.3 845.1 893.4 844.7 898.6 844.3 891.0 844.0 889.1 843.6 892.0 843.2 891.2 842.8 889.5 842.4 894.4 842.0 890.4 841.6 888.2 841.2 906.6 840.8 889.3 840.4 891.1 840.0 891.4 839.6 889.6 839.2 891.2 838.8 894.1 838.4 898.5 838.0 889.3 837.6 908.5 837.2 903.0 836.8 895.2 836.4 888.6 836.0 893.2 835.6 906.5 835.2 896.9 834.8 890.9 834.4 891.0 834.0 893.4 833.6 901.0 833.2 889.2 832.9 894.3 832.5 893.7 832.1 892.7 831.7 892.2 831.3 897.2 830.9 894.9 830.5 894.6 830.1 893.4 829.7 894.3 829.3 892.2 828.9 894.4 828.5 894.9 828.1 888.6 827.7 890.1 827.3 887.8 826.9 893.6 826.5 888.7 826.1 886.9 825.7 893.4 825.3 888.4 824.9 893.1 824.5 893.7 824.1 896.1 823.7 891.9 823.3 891.2 822.9 893.8 822.5 887.6 822.1 888.7 821.7 893.1 821.4 888.9 821.0 894.3 820.6 887.5 820.2 909.4 819.8 891.8 819.4 888.6 819.0 893.5 818.6 911.5 818.2 895.5 817.8 889.6 817.4 888.5 817.0 889.6 816.6 896.2 816.2 890.1 815.8 899.7 815.4 894.0 815.0 891.3 814.6 897.0 814.2 892.8 813.8 895.6 813.4 891.4 813.0 894.5 812.6 897.2 812.2 897.8 811.8 909.3 811.4 900.6 811.0 897.9 810.6 913.8 810.3 900.2 809.9 898.9 809.5 900.9 809.1 899.9 808.7 896.4 808.3 898.6 807.9 896.7 807.5 898.0 807.1 900.1 806.7 894.6 806.3 910.0 805.9 896.9 805.5 897.5 805.1 893.9 804.7 892.3 804.3 895.2 803.9 897.6 803.5 891.4 803.1 892.8 802.7 904.2 802.3 887.4 801.9 886.9 801.5 887.2 801.1 883.4 800.7 884.8 800.3 885.2 799.9 880.4 799.5 885.6 799.1 893.3 798.8 880.0 798.4 877.9 798.0 877.8 797.6 882.8 797.2 881.7 796.8 875.8 796.4 895.5 796.0 877.5 795.6 878.9 795.2 880.8 794.8 880.2 794.4 875.4 794.0 875.2 793.6 879.8 793.2 877.0 792.8 875.9 792.4 874.7 792.0 874.7 791.6 879.0 791.2 879.1 790.8 874.9 790.4 872.9 790.0 874.4 789.6 872.5 789.2 873.9 788.8 884.6 788.4 877.2 788.0 879.1 787.7 878.0 787.3 883.9 786.9 894.2 786.5 879.7 786.1 878.7 785.7 885.0 785.3 876.4 784.9 881.1 784.5 880.8 784.1 876.9 783.7 878.5 783.3 879.4 782.9 878.1 782.5 883.8 782.1 881.1 781.7 885.2 781.3 879.0 780.9 879.3 780.5 877.8 780.1 883.7 779.7 878.5 779.3 881.3 778.9 884.3 778.5 879.1 778.1 879.5 777.7 879.0 777.3 884.6 776.9 880.4 776.5 880.0 776.2 883.8 775.8 882.2 775.4 883.6 775.0 878.5 774.6 884.0 774.2 884.5 773.8 878.9 773.4 883.6 773.0 880.5 772.6 880.9 772.2 881.5 771.8 892.8 771.4 888.2 771.0 881.6 770.6 882.8 770.2 885.3 769.8 895.4 769.4 888.8 769.0 886.4 768.6 889.6 768.2 893.1 767.8 888.5 767.4 888.5 767.0 892.4 766.6 889.8 766.2 892.7 765.8 892.5 765.4 907.3 765.0 889.9 764.7 891.0 764.3 886.7 763.9 888.9 763.5 893.7 763.1 893.6 762.7 888.4 762.3 886.7 761.9 889.8 761.5 890.3 761.1 886.0 760.7 888.4 760.3 892.1 759.9 906.6 759.5 888.5 759.1 884.8 758.7 906.1 758.3 900.2 757.9 889.8 757.5 888.8 757.1 886.5 756.7 886.3 756.3 889.8 755.9 886.5 755.5 884.6 755.1 887.8 754.7 883.4 754.3 884.0 753.9 885.3 753.6 888.0 753.2 883.7 752.8 895.9 752.4 888.2 752.0 885.7 751.6 887.6 751.2 883.6 750.8 887.5 750.4 900.1 750.0 887.0 749.6 889.6 749.2 888.0 748.8 886.5 748.4 896.5 748.0 886.7 747.6 884.5 747.2 885.7 746.8 886.1 746.4 895.9 746.0 883.7 745.6 887.4 745.2 887.3 744.8 884.3 744.4 880.6 744.0 885.7 743.6 890.6 743.2 881.7 742.8 883.0 742.4 885.7 742.1 882.8 741.7 883.9 741.3 881.3 740.9 880.3 740.5 886.1 740.1 884.9 739.7 879.4 739.3 899.5 738.9 884.1 738.5 883.9 738.1 887.7 737.7 893.6 737.3 881.3 736.9 883.1 736.5 889.2 736.1 887.9 735.7 882.8 735.3 889.4 734.9 890.5 734.5 886.9 734.1 883.1 733.7 882.3 733.3 883.7 732.9 881.9 732.5 884.8 732.1 884.1 731.7 882.5 731.3 885.8 731.0 902.0 730.6 887.7 730.2 880.1 729.8 878.3 729.4 882.6 729.0 880.6 728.6 878.4 728.2 880.6 727.8 875.5 727.4 881.3 727.0 887.5 726.6 874.4 726.2 875.5 725.8 884.1 725.4 879.3 725.0 878.9 724.6 882.8 724.2 879.8 723.8 879.3 723.4 885.3 723.0 883.2 722.6 886.2 722.2 882.5 721.8 888.5 721.4 887.5 721.0 884.2 720.6 889.0 720.2 887.2 719.8 888.9 719.5 888.4 719.1 887.7 718.7 893.6 718.3 889.2 717.9 886.8 717.5 889.5 717.1 889.3 716.7 888.6 716.3 887.1 715.9 893.3 715.5 892.2 715.1 892.6 714.7 885.9 714.3 887.4 713.9 889.7 713.5 885.8 713.1 883.8 712.7 887.4 712.3 887.2 711.9 887.8 711.5 890.9 711.1 882.9 710.7 881.0 710.3 883.3 709.9 881.6 709.5 881.6 709.1 879.7 708.7 879.6 708.4 881.6 708.0 878.1 707.6 881.1 707.2 874.8 706.8 877.4 706.4 880.4 706.0 874.4 705.6 873.7 705.2 874.5 704.8 878.1 704.4 876.6 704.0 873.2 703.6 881.4 703.2 876.3 702.8 880.1 702.4 877.1 702.0 883.5 701.6 886.8 701.2 878.7 700.8 879.9 700.4 883.7 700.0 884.0 699.6 881.7 699.2 886.9 698.8 885.7 698.4 883.9 698.0 887.2 697.6 890.8 697.2 901.3 696.9 890.4 696.5 889.7 696.1 898.1 695.7 895.4 695.3 890.4 694.9 896.7 694.5 891.4 694.1 890.6 693.7 893.4 693.3 893.5 692.9 890.8 692.5 894.4 692.1 890.8 691.7 894.1 691.3 889.2 690.9 891.7 690.5 895.0 690.1 893.5 689.7 889.9 689.3 888.7 688.9 891.0 688.5 887.7 688.1 893.9 687.7 894.7 687.3 896.2 686.9 890.1 686.5 904.0 686.1 892.3 685.7 896.0 685.4 893.6 685.0 892.2 684.6 889.6 684.2 896.7 683.8 897.1 683.4 894.1 683.0 898.0 682.6 893.3 682.2 894.4 681.8 891.6 681.4 897.0 681.0 897.0 680.6 893.9 680.2 899.7 679.8 913.2 679.4 894.8 679.0 894.3 678.6 899.8 678.2 894.0 677.8 899.5 677.4 892.8 677.0 896.8 676.6 893.1 676.2 911.4 675.8 894.1 675.4 900.7 675.0 898.5 674.6 909.4 674.3 911.9 673.9 900.9 673.5 894.8 673.1 899.3 672.7 902.4 672.3 898.9 671.9 901.2 671.5 901.4 671.1 898.4 670.7 897.6 670.3 893.8 669.9 894.7 669.5 898.7 669.1 893.3 668.7 894.0 668.3 898.9 667.9 898.3 667.5 897.7 667.1 896.3 666.7 895.9 666.3 897.9 665.9 907.1 665.5 897.2 665.1 894.0 664.7 898.6 664.3 896.4 663.9 895.6 663.5 899.1 663.1 900.2 662.8 901.2 662.4 901.6 662.0 894.8 661.6 901.1 661.2 895.0 660.8 893.8 660.4 900.0 660.0 898.6 659.6 903.6 659.2 907.8 658.8 897.1 658.4 900.4 658.0 896.2 657.6 898.5 657.2 899.0 656.8 909.8 656.4 899.3 656.0 898.5 655.6 901.0 655.2 901.2 654.8 903.4 654.4 903.7 654.0 897.3 653.6 901.4 653.2 899.7 652.8 901.1 652.4 903.8 652.0 910.6 651.7 895.7 651.3 895.8 650.9 900.9 650.5 893.6 650.1 893.4 649.7 893.4 649.3 902.8 648.9 893.2 648.5 897.3 648.1 893.7 647.7 893.3 647.3 890.7 646.9 890.1 646.5 896.2 646.1 894.6 645.7 889.3 645.3 897.7 644.9 888.9 644.5 893.7 644.1 894.5 643.7 893.1 643.3 892.9 642.9 893.0 642.5 894.5 642.1 900.1 641.7 890.6 641.3 892.9 640.9 893.2 640.5 897.1 640.2 894.4 639.8 897.2 639.4 896.2 639.0 896.4 638.6 896.4 638.2 891.0 637.8 892.3 637.4 894.9 637.0 892.6 636.6 905.6 636.2 891.6 635.8 890.8 635.4 891.9 635.0 891.6 634.6 892.1 634.2 894.9 633.8 895.8 633.4 890.5 633.0 896.0 632.6 909.4 632.2 889.9 631.8 889.0 631.4 890.4 631.0 892.9 630.6 895.3 630.2 893.8 629.8 889.6 629.4 890.1 629.1 900.4 628.7 894.8 628.3 891.8 627.9 888.9 627.5 893.9 627.1 892.4 626.7 894.8 626.3 892.3 625.9 895.7 625.5 889.4 625.1 903.6 624.7 892.7 624.3 893.7 623.9 902.4 623.5 895.7 623.1 893.3 622.7 894.1 622.3 889.9 621.9 907.8 621.5 887.6 621.1 891.7 620.7 894.9 620.3 892.4 619.9 890.4 619.5 887.8 619.1 890.6 618.7 892.1 618.3 895.2 617.9 888.3 617.6 891.6 617.2 889.6 616.8 888.8 616.4 888.8 616.0 893.8 615.6 894.3 615.2 892.4 614.8 890.5 614.4 890.1 614.0 892.2 613.6 894.8 613.2 895.8 612.8 894.6 612.4 911.6 612.0 889.9 611.6 896.0 611.2 908.4 610.8 897.1 610.4 891.6 610.0 895.0 609.6 896.6 609.2 890.3 608.8 895.5 608.4 893.2 608.0 897.4 607.6 897.7 607.2 896.8 606.8 897.0 606.4 896.9 606.1 904.0 605.7 897.6 605.3 894.8 604.9 901.8 604.5 893.0 604.1 894.9 603.7 891.6 603.3 893.6 602.9 896.2 602.5 893.7 602.1 895.7 601.7 892.5 601.3 895.6 600.9 903.4 600.5 893.1 600.1 909.4 599.7 894.3 599.3 893.4 598.9 893.3 598.5 895.8 598.1 898.7 597.7 893.1 597.3 899.1 596.9 892.7 596.5 893.8 596.1 897.6 595.7 897.6 595.3 899.0 595.0 899.7 594.6 895.4 594.2 898.1 593.8 893.3 593.4 893.1 593.0 900.1 592.6 897.7 592.2 898.3 591.8 903.5 591.4 900.7 591.0 900.5 590.6 895.3 590.2 897.4 589.8 895.5 589.4 896.2 589.0 898.8 588.6 899.1 588.2 915.5 587.8 902.5 587.4 901.1 587.0 895.7 586.6 901.6 586.2 902.6 585.8 896.6 585.4 896.1 585.0 901.5 584.6 904.0 584.2 903.0 583.8 903.1 583.5 903.4 583.1 897.3 582.7 902.3 582.3 899.1 581.9 900.1 581.5 906.7 581.1 897.7 580.7 897.9 580.3 896.3 579.9 901.6 579.5 901.3 579.1 897.5 578.7 910.2 578.3 909.8 577.9 899.8 577.5 899.1 577.1 899.3 576.7 896.7 576.3 900.4 575.9 900.7 575.5 899.0 575.1 901.0 574.7 897.7 574.3 897.3 573.9 904.0 573.5 902.8 573.1 902.8 572.7 899.9 572.4 905.0 572.0 899.4 571.6 920.4 571.2 905.0 570.8 904.8 570.4 899.2 570.0 907.0 569.6 915.6 569.2 902.7 568.8 900.8 568.4 902.7 568.0 901.8 567.6 903.6 567.2 902.5 566.8 906.3 566.4 910.1 566.0 902.8 565.6 902.6 565.2 902.8 564.8 907.1 564.4 904.4 564.0 907.9 563.6 912.2 563.2 903.0 562.8 907.8 562.4 907.0 562.0 905.4 561.6 905.9 561.2 901.8 560.9 907.6 560.5 902.6 560.1 904.1 559.7 908.4 559.3 903.3 558.9 917.2 558.5 905.0 558.1 906.8 557.7 907.8 557.3 907.2 556.9 904.8 556.5 918.8 556.1 901.7 555.7 911.2 555.3 908.0 554.9 904.9 554.5 907.3 554.1 903.1 553.7 907.9 553.3 906.6 552.9 902.9 552.5 905.8 552.1 902.1 551.7 907.3 551.3 902.3 550.9 899.2 550.5 901.3 550.1 903.7 549.8 905.4 549.4 903.1 549.0 895.7 548.6 902.0 548.2 901.3 547.8 896.8 547.4 900.8 547.0 896.4 546.6 894.7 546.2 898.6 545.8 899.3 545.4 898.6 545.0 895.7 544.6 900.1 544.2 898.1 543.8 900.3 543.4 903.6 543.0 899.1 542.6 912.1 542.2 905.3 541.8 907.7 541.4 904.8 541.0 901.9 540.6 906.4 540.2 907.7 539.8 903.5 539.4 903.8 539.0 903.7 538.6 914.2 538.3 903.8 537.9 924.7 537.5 905.5 537.1 906.7 536.7 908.5 536.3 906.9 535.9 908.6 535.5 904.7 535.1 920.3 534.7 925.0 534.3 923.1 533.9 910.0 533.5 908.8 533.1 911.1 532.7 906.1 532.3 910.1 531.9 911.6 531.5 911.5 531.1 915.7 530.7 905.3 530.3 906.3 529.9 906.2 529.5 905.7 529.1 910.6 528.7 906.0 528.3 908.0 527.9 910.2 527.5 909.0 527.1 906.9 526.8 908.9 526.4 906.5 526.0 904.8 525.6 917.8 525.2 905.1 524.8 905.3 524.4 916.5 524.0 905.1 523.6 907.0 523.2 907.1 522.8 905.2 522.4 910.2 522.0 908.1 521.6 911.8 521.2 909.1 520.8 911.3 520.4 909.5 520.0 913.2 519.6 914.0 519.2 913.2 518.8 919.6 518.4 913.0 518.0 910.6 517.6 912.6 517.2 911.3 516.8 912.9 516.4 911.9 516.0 922.6 515.7 911.5 515.3 912.7 514.9 912.0 514.5 913.2 514.1 913.8 513.7 923.0 513.3 916.7 512.9 913.7 512.5 914.4 512.1 911.9 511.7 913.9 511.3 912.5 510.9 916.4 510.5 912.9 510.1 914.1 509.7 914.9 509.3 918.3 508.9 917.2 508.5 916.0 508.1 914.7 507.7 914.5 507.3 918.8 506.9 915.6 506.5 924.3 506.1 914.5 505.7 913.8 505.3 916.8 504.9 918.7 504.5 918.7 504.2 919.8 503.8 917.9 503.4 917.7 503.0 916.3 502.6 916.8 502.2 913.7 501.8 917.3 501.4 915.3 501.0 916.3 500.6 915.6 500.2 913.2 499.8 922.1 499.4 916.7 499.0 915.5 498.6 913.4 498.2 912.3 497.8 913.3 497.4 916.1 497.0 911.8 496.6 914.2 496.2 913.8 495.8 912.3 495.4 912.9 495.0 914.0 494.6 913.3 494.2 915.4 493.8 913.1 493.4 912.0 493.1 916.4 492.7 914.7 492.3 920.6 491.9 914.2 491.5 913.2 491.1 914.9 490.7 913.2 490.3 917.1 489.9 915.3 489.5 914.6 489.1 916.8 488.7 916.7 488.3 918.4 487.9 917.4 487.5 915.9 487.1 914.7 486.7 916.4 486.3 916.5 485.9 916.1 485.5 915.5 485.1 917.8 484.7 917.9 484.3 913.8 483.9 917.5 483.5 916.3 483.1 925.5 482.7 917.4 482.3 915.5 481.9 913.9 481.6 914.3 481.2 916.2 480.8 916.9 480.4 916.6 480.0 917.3 479.6 917.1 479.2 917.4 478.8 917.0 478.4 913.9 478.0 916.4 477.6 913.4 477.2 917.7 476.8 916.6 476.4 915.6 476.0 913.4 475.6 916.0 475.2 917.0 474.8 917.8 474.4 917.7 474.0 913.6 473.6 917.8 473.2 914.1 472.8 915.8 472.4 914.2 472.0 921.7 471.6 917.4 471.2 918.3 470.8 915.7 470.5 916.6 470.1 915.7 469.7 914.1 469.3 915.4 468.9 917.8 468.5 915.8 468.1 914.2 467.7 917.3 467.3 915.8 466.9 917.3 466.5 915.6 466.1 917.1 465.7 914.8 465.3 915.5 464.9 917.0 464.5 917.4 464.1 915.1 463.7 916.2 463.3 918.2 462.9 916.3 462.5 915.0 462.1 917.1 461.7 915.1 461.3 917.8 460.9 921.8 460.5 917.2 460.1 918.4 459.7 919.0 459.3 917.4 459.0 919.2 458.6 917.3 458.2 919.0 457.8 918.5 457.4 915.4 457.0 925.8 456.6 916.8 456.2 918.8 455.8 919.6 455.4 916.5 455.0 929.0 454.6 919.3 454.2 918.7 453.8 917.5 453.4 916.5 453.0 916.3 452.6 918.0 452.2 918.4 451.8 918.9 451.4 921.1 451.0 920.3 450.6 922.0 450.2 921.7 449.8 919.7 449.4 920.2 449.0 920.8 448.6 918.7 448.2 918.1 447.8 918.5 447.5 919.1 447.1 921.1 446.7 919.7 446.3 917.9 445.9 921.1 445.5 917.4 445.1 918.5 444.7 925.2 444.3 919.7 443.9 919.0 443.5 917.8 443.1 917.8 442.7 919.8 442.3 918.0 441.9 919.5 441.5 916.9 441.1 917.2 440.7 919.7 440.3 917.0 439.9 921.3 439.5 921.1 439.1 921.7 438.7 920.8 438.3 919.6 437.9 918.8 437.5 918.9 437.1 922.6 436.7 920.0 436.4 924.8 436.0 923.3 435.6 920.3 435.2 925.0 434.8 923.9 434.4 923.7 434.0 921.5 433.6 924.9 433.2 924.4 432.8 920.8 432.4 920.2 432.0 922.5 431.6 921.9 431.2 921.1 430.8 923.6 430.4 920.0 430.0 918.3 429.6 918.8 429.2 919.2 428.8 919.1 428.4 921.1 428.0 918.3 427.6 918.5 427.2 920.2 426.8 919.2 426.4 919.7 426.0 919.5 425.6 917.5 425.2 920.7 424.9 921.2 424.5 922.2 424.1 924.3 423.7 920.6 423.3 923.7 422.9 931.6 422.5 921.2 422.1 923.4 421.7 922.0 421.3 925.2 420.9 923.9 420.5 923.7 420.1 923.2 419.7 922.1 419.3 923.9 418.9 924.9 418.5 922.4 418.1 923.3 417.7 928.4 417.3 925.1 416.9 929.0 416.5 921.5 416.1 923.5 415.7 921.2 415.3 933.0 414.9 921.1 414.5 923.6 414.1 921.0 413.8 924.2 413.4 924.5 413.0 933.1 412.6 922.6 412.2 932.1 411.8 920.8 411.4 923.1 411.0 923.8 410.6 923.9 410.2 924.8 409.8 923.7 409.4 922.4 409.0 924.4 408.6 924.5 408.2 923.0 407.8 930.5 407.4 922.4 407.0 928.1 406.6 923.9 406.2 926.2 405.8 925.4 405.4 924.1 405.0 924.0 404.6 925.9 404.2 926.3 403.8 927.6 403.4 926.3 403.0 925.7 402.6 927.1 402.3 933.9 401.9 933.7 401.5 924.3 401.1 925.1 400.7 924.6 400.3 924.0 399.9 927.5 399.5 926.9 399.1 926.4 398.7 927.0 398.3 927.0 397.9 927.0 397.5 926.6 397.1 925.5 396.7 926.5 396.3 924.8 395.9 924.4 395.5 926.3 395.1 923.4 394.7 924.0 394.3 925.2 393.9 932.9 393.5 926.0 393.1 922.7 392.7 926.8 392.3 925.1 391.9 923.0 391.5 922.3 391.2 923.9 390.8 924.1 390.4 921.1 390.0 922.5 389.6 919.9 389.2 921.4 388.8 920.6 388.4 924.0 388.0 920.0 387.6 920.4 387.2 922.2 386.8 920.6 386.4 920.0 386.0 920.7 385.6 919.8 385.2 923.3 384.8 921.0 384.4 919.6 384.0 919.1 383.6 922.1 383.2 926.7 382.8 920.7 382.4 920.8 382.0 922.1 381.6 921.5 381.2 923.3 380.8 932.6 380.4 929.1 380.0 927.0 379.7 927.3 379.3 926.5 378.9 923.7 378.5 924.8 378.1 926.2 377.7 926.9 377.3 924.5 376.9 927.3 376.5 929.2 376.1 924.9 375.7 925.8 375.3 924.3 374.9 936.3 374.5 926.0 374.1 926.1 373.7 926.8 373.3 930.8 372.9 925.0 372.5 924.2 372.1 927.5 371.7 925.2 371.3 934.2 370.9 924.5 370.5 924.1 370.1 926.6 369.7 925.6 369.3 928.6 368.9 927.7 368.5 926.5 368.2 928.5 367.8 925.7 367.4 927.5 367.0 925.9 366.6 928.4 366.2 928.9 365.8 928.0 365.4 927.8 365.0 927.9 364.6 927.3 364.2 926.0 363.8 925.1 363.4 934.0 363.0 934.6 362.6 925.3 362.2 925.8 361.8 924.9 361.4 927.4 361.0 926.0 360.6 924.8 360.2 932.4 359.8 926.3 359.4 926.6 359.0 926.8 358.6 927.0 358.2 925.9 357.8 924.0 357.4 927.0 357.1 926.0 356.7 928.1 356.3 927.1 355.9 929.5 355.5 931.2 355.1 925.3 354.7 926.9 354.3 926.2 353.9 924.4 353.5 927.6 353.1 926.2 352.7 925.8 352.3 926.8 351.9 928.5 351.5 927.6 351.1 926.5 350.7 928.0 350.3 924.8 349.9 927.0 349.5 927.1 349.1 925.7 348.7 926.6 348.3 927.0 347.9 928.2 347.5 927.4 347.1 926.5 346.7 925.3 346.3 924.8 345.9 927.3 345.6 927.3 345.2 927.0 344.8 926.2 344.4 927.4 344.0 938.4 343.6 925.4 343.2 928.5 342.8 926.9 342.4 926.5 342.0 927.1 341.6 927.4 341.2 926.5 340.8 927.2 340.4 926.3 340.0 926.8 339.6 927.9 339.2 926.3 338.8 927.1 338.4 928.0 338.0 926.1 337.6 927.5 337.2 925.6 336.8 925.7 336.4 928.3 336.0 927.4 335.6 926.8 335.2 927.3 334.8 927.4 334.5 927.3 334.1 924.6 333.7 926.9 333.3 925.3 332.9 927.3 332.5 926.4 332.1 923.5 331.7 925.3 331.3 921.6 330.9 922.2 330.5 922.2 330.1 924.2 329.7 922.6 329.3 922.3 328.9 925.7 328.5 919.0 328.1 919.4 327.7 920.6 327.3 921.9 326.9 922.2 326.5 920.7 326.1 919.5 325.7 917.8 325.3 920.5 324.9 919.8 324.5 919.4 324.1 919.3 323.7 917.9 323.3 921.8 323.0 918.9 322.6 921.1 322.2 919.8 321.8 921.3 321.4 921.5 321.0 922.0 320.6 921.0 320.2 918.7 319.8 921.7 319.4 920.7 319.0 918.7 318.6 921.7 318.2 918.2 317.8 919.0 317.4 922.0 317.0 921.3 316.6 919.5 316.2 921.3 315.8 920.6 315.4 920.0 315.0 919.4 314.6 925.1 314.2 920.2 313.8 918.6 313.4 918.5 313.0 919.9 312.6 922.3 312.2 921.5 311.9 921.4 311.5 920.9 311.1 920.6 310.7 919.9 310.3 918.9 309.9 920.2 309.5 922.2 309.1 924.1 308.7 924.5 308.3 924.1 307.9 922.3 307.5 924.0 307.1 925.0 306.7 926.3 306.3 922.8 305.9 926.9 305.5 933.2 305.1 927.0 304.7 923.2 304.3 926.6 303.9 924.1 303.5 923.6 303.1 930.9 302.7 926.7 302.3 924.9 301.9 926.7 301.5 922.9 301.1 924.8 300.7 925.8 300.4 928.2 300.0 923.7 299.6 926.5 299.2 924.0 298.8 923.1 298.4 923.0 298.0 924.4 297.6 922.8 297.2 927.0 296.8 925.4 296.4 926.4 296.0 925.6 295.6 923.0 295.2 927.2 294.8 926.9 294.4 930.8 294.0 925.5 293.6 933.7 293.2 922.7 292.8 921.5 292.4 924.1 292.0 922.9 291.6 932.4 291.2 923.4 290.8 924.7 290.4 927.8 290.0 920.6 289.6 923.8 289.2 924.2 288.9 924.2 288.5 921.3 288.1 921.0 287.7 921.8 287.3 920.1 286.9 920.7 286.5 923.0 286.1 922.3 285.7 922.9 285.3 921.6 284.9 924.8 284.5 923.1 284.1 921.8 283.7 921.9 283.3 921.4 282.9 927.6 282.5 923.2 282.1 923.6 281.7 925.4 281.3 921.1 280.9 919.3 280.5 918.4 280.1 921.0 279.7 920.9 279.3 919.3 278.9 920.4 278.5 918.4 278.1 917.9 277.8 918.7 277.4 918.9 277.0 915.0 276.6 918.9 276.2 917.5 275.8 916.9 275.4 918.6 275.0 915.2 274.6 916.5 274.2 915.1 273.8 917.4 273.4 917.1 273.0 913.9 272.6 917.5 272.2 917.4 271.8 914.5 271.4 915.3 271.0 916.8 270.6 916.9 270.2 913.6 269.8 915.3 269.4 915.0 269.0 920.5 268.6 914.1 268.2 914.0 267.8 915.3 267.4 915.9 267.0 915.9 266.6 915.1 266.3 918.0 265.9 914.7 265.5 917.7 265.1 918.5 264.7 917.9 264.3 916.7 263.9 915.0 263.5 916.6 263.1 917.6 262.7 921.3 262.3 923.8 261.9 918.4 261.5 917.0 261.1 917.5 260.7 918.7 260.3 918.5 259.9 917.8 259.5 917.7 259.1 919.6 258.7 916.5 258.3 918.4 257.9 918.8 257.5 918.1 257.1 918.7 256.7 919.7 256.3 920.8 255.9 919.1 255.5 918.1 255.2 920.1 254.8 920.1 254.4 919.9 254.0 919.7 253.6 923.3 253.2 921.0 252.8 921.1 252.4 922.0 252.0 918.9 251.6 919.0 251.2 918.9 250.8 916.7 250.4 917.5 250.0 914.5 249.6 916.1 249.2 914.2 248.8 913.2 248.4 912.1 248.0 912.3 247.6 912.0 247.2 915.5 246.8 914.5 246.4 912.4 246.0 913.5 245.6 919.2 245.2 914.6 244.8 916.7 244.4 915.0 244.0 919.0 243.7 921.3 243.3 920.7 242.9 923.2 242.5 923.5 242.1 921.7 241.7 922.2 241.3 924.1 240.9 925.1 240.5 925.1 240.1 927.1 239.7 923.5 239.3 925.4 238.9 922.9 238.5 926.1 238.1 926.4 237.7 926.4 237.3 924.1 236.9 924.9 236.5 925.1 236.1 924.1 235.7 925.4 235.3 927.4 234.9 924.8 234.5 924.1 234.1 923.2 233.7 925.2 233.3 923.6 232.9 924.0 232.6 925.4 232.2 922.6 231.8 923.8 231.4 923.9 231.0 926.0 230.6 923.6 230.2 923.4 229.8 925.2 229.4 925.0 229.0 926.7 228.6 926.9 228.2 926.8 227.8 926.4 227.4 923.3 227.0 923.6 226.6 926.1 226.2 923.1 225.8 924.5 225.4 927.0 225.0 926.8 224.6 925.6 224.2 924.7 223.8 923.7 223.4 923.7 223.0 923.8 222.6 928.0 222.2 923.2 221.8 923.2 221.4 926.5 221.1 926.2 220.7 926.6 220.3 923.2 219.9 923.8 219.5 925.1 219.1 926.9 218.7 924.4 218.3 932.7 217.9 929.9 217.5 925.8 217.1 926.6 216.7 923.8 216.3 924.2 215.9 923.8 215.5 924.5 215.1 925.3 214.7 926.0 214.3 926.3 213.9 924.6 213.5 929.9 213.1 922.8 212.7 925.5 212.3 921.6 211.9 921.2 211.5 923.2 211.1 923.6 210.7 923.0 210.3 922.3 209.9 920.9 209.6 920.4 209.2 922.4 208.8 922.3 208.4 921.0 208.0 924.0 207.6 921.8 207.2 923.5 206.8 921.3 206.4 929.1 206.0 923.6 205.6 922.5 205.2 922.6 204.8 923.2 204.4 921.9 204.0 921.0 203.6 920.5 203.2 921.3 202.8 921.4 202.4 923.0 202.0 920.7 201.6 920.2 201.2 921.4 200.8 922.4 200.4 920.2 200.0 921.0 199.6 923.7 199.2 920.8 198.8 923.6 198.5 921.6 198.1 922.9 197.7 924.6 197.3 922.5 196.9 924.5 196.5 923.9 196.1 924.6 195.7 922.4 195.3 922.0 194.9 925.3 194.5 923.4 194.1 923.5 193.7 925.6 193.3 922.6 192.9 926.3 192.5 924.6 192.1 924.2 191.7 925.3 191.3 924.7 190.9 926.6 190.5 926.0 190.1 925.1 189.7 925.3 189.3 925.4 188.9 926.4 188.5 923.9 188.1 925.7 187.7 925.0 187.3 924.7 187.0 926.6 186.6 926.2 186.2 924.7 185.8 925.2 185.4 927.4 185.0 925.7 184.6 925.5 184.2 925.7 183.8 926.8 183.4 927.7 183.0 926.2 182.6 924.6 182.2 926.1 181.8 924.4 181.4 927.7 181.0 926.7 180.6 926.5 180.2 926.0 179.8 926.4 179.4 927.8 179.0 925.1 178.6 925.9 178.2 926.1 177.8 923.7 177.4 925.2 177.0 924.1 176.6 925.7 176.2 924.9 175.9 925.1 175.5 925.8 175.1 926.8 174.7 925.5 174.3 926.2 173.9 933.4 173.5 926.4 173.1 927.1 172.7 924.6 172.3 924.0 171.9 925.4 171.5 926.0 171.1 923.4 170.7 925.9 170.3 926.9 169.9 926.9 169.5 925.9 169.1 924.0 168.7 927.3 168.3 932.2 167.9 926.4 167.5 923.2 167.1 924.3 166.7 926.4 166.3 926.8 165.9 926.4 165.5 924.3 165.1 924.9 164.7 924.6 164.4 926.1 164.0 926.0 163.6 923.9 163.2 924.7 162.8 925.2 162.4 928.8 162.0 924.6 161.6 923.0 161.2 925.0 160.8 923.4 160.4 924.8 160.0 926.2 159.6 926.5 159.2 924.5 158.8 924.2 158.4 924.4 158.0 926.6 157.6 925.7 157.2 926.0 156.8 926.2 156.4 927.0 156.0 926.6 155.6 927.2 155.2 925.5 154.8 925.3 154.4 927.1 154.0 926.5 153.6 925.5 153.3 924.5 152.9 923.5 152.5 924.7 152.1 926.7 151.7 923.8 151.3 923.6 150.9 926.8 150.5 926.6 150.1 922.9 149.7 925.8 149.3 924.2 148.9 925.8 148.5 926.6 148.1 926.6 147.7 923.5 147.3 924.6 146.9 923.7 146.5 925.9 146.1 923.3 145.7 923.6 145.3 923.0 144.9 924.3 144.5 924.6 144.1 925.6 143.7 924.2 143.3 930.1 142.9 925.0 142.5 930.6 142.1 922.9 141.8 923.2 141.4 925.4 141.0 923.0 140.6 926.8 140.2 926.9 139.8 923.7 139.4 925.2 139.0 924.9 138.6 925.3 138.2 925.5 137.8 926.8 137.4 923.4 137.0 923.5 136.6 927.2 136.2 926.8 135.8 923.6 135.4 924.5 135.0 926.9 134.6 923.9 134.2 923.2 133.8 926.6 133.4 925.8 133.0 926.3 132.6 924.9 132.2 924.7 131.8 923.9 131.4 922.8 131.0 925.6 130.7 926.4 130.3 926.2 129.9 925.1 129.5 925.8 129.1 925.8 128.7 924.2 128.3 925.7 127.9 923.4 127.5 924.8 127.1 925.3 126.7 924.7 126.3 925.5 125.9 924.2 125.5 927.3 125.1 926.8 124.7 925.8 124.3 924.9 123.9 924.2 123.5 925.2 123.1 926.4 122.7 923.9 122.3 924.3 121.9 925.5 121.5 926.2 121.1 924.4 120.7 924.5 120.3 924.5 119.9 925.6 119.5 927.2 119.2 926.9 118.8 933.3 118.4 935.4 118.0 933.1 117.6 927.6 117.2 927.7 116.8 927.1 116.4 926.1 116.0 924.8 115.6 926.5 115.2 925.8 114.8 926.0 114.4 924.6 114.0 930.2 113.6 925.6 113.2 925.9 112.8 932.4 112.4 925.7 112.0 925.6 111.6 925.0 111.2 925.9 110.8 926.2 110.4 923.9 110.0 930.5 109.6 924.4 109.2 923.7 108.8 923.6 108.4 926.7 108.0 924.3 107.7 926.0 107.3 924.7 106.9 922.6 106.5 925.3 106.1 922.5 105.7 924.1 105.3 924.2 104.9 922.1 104.5 925.4 104.1 922.4 103.7 922.8 103.3 922.4 102.9 922.0 102.5 925.1 102.1 922.5 101.7 923.4 101.3 924.3 100.9 922.5 100.5 921.7 100.1 919.7 99.7 920.9 99.3 921.0 98.9 921.8 98.5 922.9 98.1 920.7 97.7 921.3 97.3 920.9 96.9 921.4 96.6 922.1 96.2 921.6 95.8 923.3 95.4 920.8 95.0 921.9 94.6 921.6 94.2 921.9 93.8 923.6 93.4 922.5 93.0 921.9 92.6 924.1 92.2 923.7 91.8 922.6 91.4 923.9 91.0 924.7 90.6 933.7 90.2 921.9 89.8 922.6 89.4 922.7 89.0 924.8 88.6 924.4 88.2 923.5 87.8 922.4 87.4 923.5 87.0 924.2 86.6 923.4 86.2 925.1 85.8 922.4 85.4 925.1 85.1 923.1 84.7 923.9 84.3 924.6 83.9 930.2 83.5 923.6 83.1 925.5 82.7 923.5 82.3 925.8 81.9 924.3 81.5 924.3 81.1 924.6 80.7 926.5 80.3 925.5 79.9 927.8 79.5 925.2 79.1 926.0 78.7 924.0 78.3 924.5 77.9 926.7 77.5 926.9 77.1 927.6 76.7 926.6 76.3 926.7 75.9 926.4 75.5 925.1 75.1 927.9 74.7 927.4 74.3 926.8 74.0 925.8 73.6 927.4 73.2 923.5 72.8 923.1 72.4 924.5 72.0 923.5 71.6 924.4 71.2 923.9 70.8 926.2 70.4 922.6 70.0 922.5 69.6 924.1 69.2 924.7 68.8 928.6 68.4 925.9 68.0 922.8 67.6 923.8 67.2 923.8 66.8 925.4 66.4 924.4 66.0 922.7 65.6 923.4 65.2 922.5 64.8 924.8 64.4 923.0 64.0 924.8 63.6 925.2 63.2 925.8 62.8 924.4 62.5 925.8 62.1 925.7 61.7 924.5 61.3 928.7 60.9 926.2 60.5 926.0 60.1 924.4 59.7 924.3 59.3 924.0Z" fill="#dc143c" fill-opacity="0.2" stroke="none"/>
<path d="M59.8 1032.6 61.4 1031.6 63 1029.3 64.5 1026.6 66.1 1025.5 67.7 1026.3 69.3 1026.1 70.9 1025.9 72.5 1028.2 74.1 1031.4 75.7 1032.8 77.2 1031.7 78.8 1031.5 80.4 1030.7 82 1029.2 83.6 1028.9 85.2 1021 86.8 1019.7 88.3 1016.6 89.9 1015.4 91.5 1015.9 93.1 1020.6 94.7 1008.7 96.3 1008.2 97.9 1008.5 99.4 1010.8 101 1013.1 102.6 1023.9 104.2 1028.8 105.8 1030 107.4 1030.4 109 1031.3 110.5 1031.8 112.1 1032.9 113.7 1033.3 115.3 1033.7 116.9 1033.9 118.5 1033.2 120.1 1032.8 121.6 1031.6 123.2 1031.4 124.8 1029.4 126.4 1028.6 128 1027.6 129.6 1026.2 131.2 1024.7 132.7 1025.8 134.3 1026 135.9 1027.3 137.5 1025.8 139.1 1024.6 140.7 1023.7 142.3 1022 143.8 1018.9 145.4 1018.3 147 1019.2 148.6 1019.5 150.2 1019 151.8 1018.8 153.4 1018.9 155 1020.8 156.5 1021.4 158.1 1020.8 159.7 1020.4 161.3 1019 162.9 1016.8 164.5 1015.2 166.1 1016.7 167.6 1017.1 169.2 1020.4 170.8 1023.6 172.4 1020 174 1018.6 175.6 1017.2 177.2 1017.2 178.7 1019.8 180.3 1022.8 181.9 1025.1 183.5 1024.9 185.1 1026 186.7 1025.3 188.3 1023.9 189.8 1023.1 191.4 1020.6 193 1018.6 194.6 1018.8 196.2 1017.7 197.8 1017.4 199.4 1017.3 200.9 1017.6 202.5 1015.2 204.1 1012.4 205.7 1008.7 207.3 1003.4 208.9 1003.3 210.5 1002.3 212 1006.9 213.6 1011.2 215.2 1012.3 216.8 1018.8 218.4 1023.1 220 1023.4 221.6 1023.6 223.1 1025.7 224.7 1027.7 226.3 1025.9 227.9 1021.3 229.5 1018.7 231.1 1015.3 232.7 1014.5 234.3 1018.6 235.8 1020.8 237.4 1022.7 239 1023.8 240.6 1024.7 242.2 1025.3 243.8 1024.3 245.4 1021.6 246.9 1020.9 248.5 1018.9 250.1 1019 251.7 1019.1 253.3 1018.5 254.9 1019.2 256.5 1020.1 258 1020.9 259.6 1021.8 261.2 1021.4 262.8 1018.3 264.4 1014.4 266 1011.3 267.6 1009.3 269.1 1008.5 270.7 1011.4 272.3 1013.7 273.9 1015.9 275.5 1017.5 277.1 1019.2 278.7 1017.9 280.2 1015.8 281.8 1014.8 283.4 1014 285 1005.2 286.6 1005 288.2 1008.4 289.8 1008.6 291.3 1007.3 292.9 1014.2 294.5 1014.8 296.1 1013.9 297.7 1013.4 299.3 1013.7 300.9 1014.9 302.4 1016.6 304 1018.3 305.6 1020.4 307.2 1018.1 308.8 1015.5 310.4 1014.4 312 1013.8 313.6 1011.2 315.1 1010.2 316.7 1010.8 318.3 1011.3 319.9 1011 321.5 1012.7 323.1 1012.7 324.7 1013.3 326.2 1012.8 327.8 1013.3 329.4 1016.9 331 1018.7 332.6 1020.4 334.2 1023.1 335.8 1022.6 337.3 1022.6 338.9 1020.4 340.5 1018.9 342.1 1018.3 343.7 1017.3 345.3 1016.8 346.9 1016.2 348.4 1016.4 350 1014.5 351.6 1014.3 353.2 1013.4 354.8 1013.2 356.4 1010.1 358 1009.2 359.5 1008.5 361.1 1010.8 362.7 1014.2 364.3 1016.9 365.9 1018.6 367.5 1016.1 369.1 1015.6 370.6 1015.2 372.2 1012.5 373.8 1009.2 375.4 1008.5 377 1006.4 378.6 1009.8 380.2 1007.5 381.7 1004.5 383.3 1005 384.9 1004.7 386.5 1004.6 388.1 1004.7 389.7 1008.4 391.3 1013.6 392.9 1014.1 394.4 1014.5 396 1017.5 397.6 1019 399.2 1021.5 400.8 1022.4 402.4 1023.4 404 1024.6 405.5 1024.2 407.1 1024.4 408.7 1023.5 410.3 1021.4 411.9 1020.3 413.5 1019.7 415.1 1019.7 416.6 1018.7 418.2 1019.1 419.8 1018.2 421.4 1017.4 423 1016.8 424.6 1017.1 426.2 1016.5 427.7 1020.1 429.3 1021.3 430.9 1023.9 432.5 1026 434.1 1027 435.7 1028.2 437.3 1026.9 438.8 1020.7 440.4 1019.8 442 1018.3 443.6 1018.2 445.2 1019 446.8 1023.7 448.4 1023.1 449.9 1023 451.5 1019.3 453.1 1015.7 454.7 1013.4 456.3 1011.6 457.9 1011.7 459.5 1013.4 461 1015.3 462.6 1017.9 464.2 1019.8 465.8 1018.6 467.4 1018.1 469 1017.7 470.6 1017.2 472.2 1018.1 473.7 1018 475.3 1017.7 476.9 1017.7 478.5 1018.2 480.1 1017.9 481.7 1018.2 483.3 1016.5 484.8 1014.6 486.4 1015 488 1014.8 489.6 1014.3 491.2 1011.5 492.8 1011.9 494.4 1011.4 495.9 1010.9 497.5 1011.1 499.1 1013.2 500.7 1012.4 502.3 1011.4 503.9 1010.2 505.5 1010.9 507 1012 508.6 1012 510.2 1009.2 511.8 1007 513.4 1004.9 515 1002.3 516.6 1000.5 518.1 997.8 519.7 996.3 521.3 990.8 522.9 991.3 524.5 992.3 526.1 993.2 527.7 994.6 529.2 1004.8 530.8 1005.9 532.4 1008.2 534 1008.7 535.6 1007.5 537.2 1007.9 538.8 1007.9 540.3 1007.6 541.9 1005.5 543.5 993 545.1 991 546.7 989.2 548.3 988.9 549.9 992.1 551.5 999.5 553 1001.6 554.6 1001.9 556.2 1004.9 557.8 1005.4 559.4 1004.3 561 1003.8 562.6 1003.9 564.1 1001.5 565.7 1000.9 567.3 1000.4 568.9 999.2 570.5 994.8 572.1 991.6 573.7 988.1 575.2 985.2 576.8 985.8 578.4 986.8 580 987.5 581.6 990.1 583.2 988.7 584.8 989.2 586.3 988.8 587.9 988.2 589.5 986.9 591.1 985.8 592.7 986.6 594.3 986.5 595.9 985.6 597.4 983.7 599 986.9 600.6 987.3 602.2 989.3 603.8 990.2 605.4 990.3 607 989.2 608.5 989.4 610.1 988 611.7 990.2 613.3 992.3 614.9 990.1 616.5 990.7 618.1 991.5 619.6 991.4 621.2 994.8 622.8 994.6 624.4 994 626 990.5 627.6 987.2 629.2 985 630.8 985.2 632.3 985.2 633.9 987.8 635.5 989.7 637.1 991.6 638.7 988.5 640.3 985.6 641.9 980.8 643.4 976.2 645 975.9 646.6 979.1 648.2 982.7 649.8 985.2 651.4 992.9 653 995.5 654.5 995.7 656.1 994.2 657.7 991.4 659.3 988.1 660.9 985.9 662.5 984.5 664.1 983 665.6 983.6 667.2 983.3 668.8 982.5 670.4 987.1 672 989.3 673.6 990.2 675.2 990.2 676.7 990.1 678.3 985.1 679.9 977.7 681.5 971 683.1 966.5 684.7 963.9 686.3 961.8 687.8 958.4 689.4 958.4 691 957.1 692.6 957.7 694.2 957.9 695.8 950.1 697.4 942.9 698.9 935.2 700.5 925 702.1 913.2 703.7 908.2 705.3 907.8 706.9 912.2 708.5 917.6 710.1 923.7 711.6 933.3 713.2 942.8 714.8 950 716.4 955 718 953.2 719.6 946.9 721.2 935.4 722.7 927.7 724.3 919 725.9 915 727.5 912.6 729.1 917 730.7 922.4 732.3 930.1 733.8 938.7 735.4 943.7 737 945.1 738.6 945.7 740.2 944.4 741.8 945 743.4 948 744.9 949.8 746.5 951.7 748.1 954.2 749.7 949.1 751.3 944.2 752.9 937.7 754.5 931.7 756 926.6 757.6 925.3 759.2 925.9 760.8 927.1 762.4 926.8 764 928.5 765.6 929.4 767.1 930.2 768.7 933.3 770.3 933.8 771.9 931.8 773.5 930.8 775.1 928.6 776.7 928.2 778.2 927.1 779.8 927.2 781.4 928.6 783 929.2 784.6 929.5 786.2 928.5 787.8 928.1 789.4 927.9 790.9 926.3 792.5 924.4 794.1 923.8 795.7 923.2 797.3 925.2 798.9 929.3 800.5 936.6 802 946 803.6 960.3 805.2 973 806.8 980.9 808.4 993.4 810 995.8 811.6 980.7 813.1 966.7 814.7 950 816.3 937.8 817.9 930.8 819.5 927.6 821.1 927.6 822.7 926.2 824.2 926.4 825.8 928.9 827.4 932.5 829 935.3 830.6 939.4 832.2 938.9 833.8 936.4 835.3 931.5 836.9 930.4 838.5 929.4 840.1 927.3 841.7 930 843.3 931.4 844.9 929.6 846.4 931.8 848 931 849.6 927.9 851.2 927.1 852.8 926.8 854.4 928.5 856 930.8 857.5 937.9 859.1 949.5 860.7 962.9 862.3 975.1 863.9 988.6 865.5 1000.9 867.1 1012.5 868.7 1012.5 870.2 1013.2 871.8 1012.7 873.4 1009.8 875 1003.1 876.6 992.6 878.2 986.5 879.8 986.8 881.3 987.9 882.9 992.6 884.5 1005.5 886.1 1010.6 887.7 1011.4 889.3 1010.9 890.9 1011.8 892.4 1010.3 894 1012.3 895.6 1013.1 897.2 1012.4 898.8 1012.7 900.4 1013.5 902 1013.4 903.5 1012.4 905.1 1012.9 906.7 1010.9 908.3 1012.2 909.9 1010.4 911.5 1010.9 913.1 1012.4 914.6 1011.1 916.2 1009.1 917.8 1007.1 919.4 1003.4 921 997.6 922.6 989.9 924.2 981.9 925.7 976.7 927.3 973.9 928.9 972.8 930.5 968.5 932.1 964.8 933.7 957 935.3 947.6 936.8 932.5 938.4 919.8 940 918.3 941.6 915.3 943.2 913.6 944.8 914.8 946.4 915.3 948 916.8 949.5 917.4 951.1 919.2 952.7 921.9 954.3 926 955.9 934.3 957.5 942.6 959.1 951.3 960.6 958.4 962.2 965.7 963.8 967.5 965.4 969.6 967 969.1 968.6 967.7 970.2 967.2 971.7 967.9 973.3 969.9 974.9 974.1 976.5 979.7 978.1 983.5 979.7 988.8 981.3 993.1 982.8 997.1 984.4 991.6 986 978.3 987.6 967.2 989.2 955.9 990.8 944.3 992.4 931.4 993.9 925.9 995.5 926.1 997.1 925.6 998.7 923.1 1000.3 922.6 1001.9 924.6 1003.5 928 1005 934.4 1006.6 940.6 1008.2 950.5 1009.8 962.1 1011.4 970 1013 978.7 1014.6 987.7 1016.1 991.8 1017.7 993.7 1019.3 995 1020.9 995.8 1022.5 992.1 1024.1 983.9 1025.7 977.1 1027.3 971.7 1028.8 964.8 1030.4 960.7 1032 964.7 1033.6 970.4 1035.2 977.7 1036.8 988.2 1038.4 998.6 1039.9 1001.2 1041.5 1000.9 1043.1 1001.1 1044.7 999.6 1046.3 996.3 1047.9 996.2 1049.5 994.2 1051 993.7 1052.6 991.7 1054.2 990.5 1055.8 990.7 1057.4 990.7 1059 990.4 1060.6 990.1 1062.1 989.1 1063.7 988.1 1065.3 986.3 1066.9 986.2 1068.5 988.9 1070.1 991.8 1071.7 992.5 1073.2 992.3 1074.8 994.7 1076.4 994.4 1078 994.7 1079.6 997.1 1081.2 998.6 1082.8 999 1084.3 994.4 1085.9 989.8 1087.5 983.6 1089.1 978.7 1090.7 973 1092.3 967.2 1093.9 966.1 1095.4 965.6 1097 964.7 1098.6 963.3 1100.2 957.8 1101.8 950.6 1103.4 943 1105 936.2 1106.6 935 1108.1 934 1109.7 933.5 1111.3 931.3 1112.9 937.6 1114.5 945.5 1116.1 952.9 1117.7 962.9 1119.2 968.3 1120.8 974.8 1122.4 974.1 1124 972.6 1125.6 971.8 1127.2 971.2 1128.8 971.5 1130.3 971.3 1131.9 971.2 1133.5 971 1135.1 971.3 1136.7 971.5 1138.3 970.6 1139.9 967.5 1141.4 967.8 1143 966.6 1144.6 965.7 1146.2 965.6 1147.8 965.9 1149.4 966.5 1151 966.8 1152.5 967.3 1154.1 967.1 1155.7 967.5 1157.3 968.2 1158.9 968 1160.5 969.1 1162.1 969.2 1163.6 968.9 1165.2 969.1 1166.8 972.2 1168.4 974.8 1170 979 1171.6 981.8 1173.2 984.6 1174.7 988.5 1176.3 993.3 1177.9 998.7 1179.5 1004.2 1181.1 1008 1182.7 1011.2 1184.3 1015.3 1185.9 1016.8 1187.4 1018.8 1189 1018.5 1190.6 1018.9 1192.2 1017.6 1193.8 1016.3 1195.4 1017 1197 1016.5 1198.5 1017.5 1200.1 1019 1201.7 1013.4 1203.3 1008.1 1204.9 995.8 1206.5 981.9 1208.1 977.6 1209.6 973.1 1211.2 980.4 1212.8 983.5 1214.4 979.9 1216 988.3 1217.6 995.4 1219.2 1002.4 1220.7 1011 1222.3 1022.4 1223.9 1022 1225.5 1022.2 1227.1 1022.5 1228.7 1023.1 1230.3 1025.6 1231.8 1028.6 1233.4 1028.7 1235 1028.3 1236.6 1028.8 1238.2 1028.3 1239.8 1028 1241.4 1027.8 1242.9 1028.9 1244.5 1029.1 1246.1 1029 1247.7 1026.5 1249.3 1026.5 1250.9 1026.5 1252.5 1025.5 1254 1025.4 1255.6 1016.5 1257.2 1008.7 1258.8 1007.7 1260.4 1005.6 1262 1007 1263.6 1009.9 1265.2 1015 1266.7 1009.2 1268.3 1006.8 1269.9 1005 1271.5 1007.5 1273.1 1010.2 1274.7 1015 1276.3 1018.1 1277.8 1018.2 1279.4 1017.4 1281 1019.3 1282.6 1020.7 1284.2 1021.5 1285.8 1024.1 1287.4 1026.1 1288.9 1028.4 1290.5 1030.2 1292.1 1029.2 1293.7 1026.7 1295.3 1024.5 1296.9 1022.7 1298.5 1021.3 1300 1020.1 1301.6 1020.8 1303.2 1021.6 1304.8 1024.1 1306.4 1025.8 1308 1027 1309.6 1027 1311.1 1026.4 1312.7 1026 1314.3 1024.3 1315.9 1022.8 1317.5 1024 1319.1 1025 1320.7 1023.5 1322.2 1024.4 1323.8 1022.5 1325.4 1023.6 1327 1021.9 1328.6 1022.1 1330.2 1022.1 1331.8 1020.4 1333.3 1021.1 1334.9 1022.4 1336.5 1022.1 1338.1 1023.3 1339.7 1023.1 1341.3 1024.3 1342.9 1023.7 1344.5 1023.7 1346 1024.6 1347.6 1025 1349.2 1024.6 1350.8 1024.9 1352.4 1024.5 1354 1023.5 1355.6 1022.3 1357.1 1018.7 1358.7 1014 1360.3 1009.3 1361.9 1008.6 1363.5 1008.4 1365.1 1008.9 1366.7 1014 1368.2 1019.9 1369.8 1025.9 1371.4 1025.6 1373 1024.7 1374.6 1024.3 1376.2 1023.7 1377.8 1022.6 1379.3 1022.9 1380.9 1022 1382.5 1022.8 1384.1 1022.8 1385.7 1021.8 1387.3 1019.3 1388.9 1019.1 1390.4 1017.6 1392 1017.6 1393.6 1019.6 1395.2 1018.6 1396.8 1018.8 1398.4 1019.7 1400 1019 1401.5 1019.1 1403.1 1018.9 1404.7 1020.3 1406.3 1019.3 1407.9 1018.9 1409.5 1017.6 1411.1 1018.5 1412.6 1018.4 1414.2 1019 1415.8 1019.8 1417.4 1019.4 1419 1019 1420.6 1019.2 1422.2 1020 1423.8 1019.4 1425.3 1010.7 1426.9 1003.7 1428.5 996.9 1430.1 992.6 1431.7 990.2 1433.3 999.5 1434.9 1009.1 1436.4 1006.7 1438 1004.6 1439.6 1002.7 1441.2 1000.5 1442.8 1000.8 1444.4 1000.6 1446 1002.7 1447.5 1002.7 1449.1 1002.7 1450.7 1001.9 1452.3 1000.5 1453.9 999.2 1455.5 995.1 1457.1 988.1 1458.6 983.3 1460.2 985.7 1461.8 986.3 1463.4 993.8 1465 1001.1 1466.6 1008.5 1468.2 1012.1 1469.7 1012.3 1471.3 1012.6 1472.9 1012.9 1474.5 1009.7 1476.1 993.9 1477.7 989.9 1479.3 991 1480.8 991.7 1482.4 998.5 1484 1013.7 1485.6 1016.8 1487.2 1018.9 1488.8 1017.6 1490.4 1017.2 1491.9 1014.1 1493.5 1011.3 1495.1 1011.3 1496.7 1012.4 1498.3 1016.3 1499.9 1019 1501.5 1023.6 1503.1 1023.7 1504.6 1015 1506.2 1004.5 1507.8 992.6 1509.4 979.8 1511 968.1 1512.6 963.4 1514.2 968.8 1515.7 974.8 1517.3 983.8 1518.9 994 1520.5 1003 1522.1 1010.4 1523.7 1016.4 1525.3 1019.8 1526.8 1019 1528.4 1018.5 1530 1014.6 1531.6 1011.9 1533.2 1008.2 1534.8 1006.6 1536.4 993.9 1537.9 984.2 1539.5 982.6 1541.1 981.1 1542.7 978.5 1544.3 980.3 1545.9 981.8 1547.5 975.1 1549 976.7 1550.6 977.6 1552.2 979.3 1553.8 974.1 1555.4 969.9 1557 965.9 1558.6 964.8 1560.1 964.1 1561.7 968 1563.3 970 1564.9 971.6 1566.5 970.4 1568.1 975.8 1569.7 982 1571.2 988.3 1572.8 993.1 1574.4 993.9 1576 994.4 1577.6 994.2 1579.2 990.4 1580.8 985.5 1582.4 978.9 1583.9 978.4 1585.5 978.7 1587.1 976.5 1588.7 983 1590.3 981.6 1591.9 977.6 1593.5 975.7 1595 974.7 1596.6 973.5 1598.2 972.5 1599.8 971.5 1601.4 970.8 1603 971.7 1604.6 971.1 1606.1 971.3 1607.7 970.1 1609.3 971 1610.9 970.8 1612.5 970.3 1614.1 969.4 1615.7 969.9 1617.2 968.9 1618.8 968.4 1620.4 968.1 1622 967.7 1623.6 968 1625.2 968.1 1626.8 968.3 1628.3 967.1 1629.9 967.3 1631.5 965.8 1633.1 966.3 1634.7 966.9 1636.3 966.1 1637.9 967.3 1639.4 967.6 1641 968.9 1642.6 972.2 1644.2 976.5 1645.8 980.1 1647.4 984.5 1649 988 1650.5 990.6 1652.1 990.7 1653.7 990.8 1655.3 990.7 1656.9 990.4 1658.5 989.3 1660.1 986.6 1661.7 981.8 1663.2 980.3 1664.8 980.2 1666.4 980.5 1668 979.5 1669.6 981.8 1671.2 981 1672.8 980.8 1674.3 983.8 1675.9 987.4 1677.5 992.6 1679.1 1001.3 1680.7 1002.4 1682.3 1002.5 1683.9 1002.1 1685.4 1001.1 1687 1001.3 1688.6 997.1 1690.2 994.5 1691.8 991.8 1693.4 987 1695 984.3 1696.5 983.9 1698.1 984.2 1699.7 985.1 1701.3 985.8 1702.9 985.1 1704.5 983.5 1706.1 982.5 1707.6 982.2 1709.2 983.3 1710.8 985.1 1712.4 987.1 1714 988.7 1715.6 991.1 1717.2 993 1718.7 994.9 1720.3 997.4 1721.9 995.3 1723.5 993.3 1725.1 989.2 1726.7 984 1728.3 982.3 1729.8 982.6 1731.4 983.1 1733 985.4 1734.6 987.4 1736.2 986.7 1737.8 985.6 1739.4 985 1741 983.1 1742.5 982 1744.1 984.7 1745.7 984.3 1747.3 982.4 1748.9 980.7 1750.5 982.4 1752.1 984.5 1753.6 986 1755.2 987 1756.8 987.2 1758.4 987.6 1760 986.1 1761.6 985.3 1763.2 984.6 1764.7 981.5 1766.3 977.1 1767.9 973.3 1769.5 969.9 1771.1 966.3 1772.7 968.6 1774.3 969.7 1775.8 971.9 1777.4 971.9 1779 972.9 1780.6 972.6 1782.2 972.9 1783.8 972.5 1785.4 971.9 1786.9 971.6 1788.5 970.8 1790.1 971 1791.7 971.8 1793.3 971.4 1794.9 971.9 1796.5 972.3 1798 972.4 1799.6 972.9 1801.2 973.3 1802.8 973.1 1804.4 971.5 1806 970.8 1807.6 970.3 1809.1 970.5 1810.7 969.4 1812.3 970.2 1813.9 971.1 1815.5 971.7 1817.1 972 1818.7 965.9 1820.3 957.2 1821.8 955 1823.4 954.6 1825 954.8 1826.6 957.9 1828.2 968.2 1829.8 971.1 1831.4 970.2 1832.9 969.9 1834.5 969.1 1836.1 966.2 1837.7 965.5 1839.3 967.6 1840.9 967.3 1842.5 967.6 1844 971.5 1845.6 971.8 1847.2 971.3 1848.8 969.7 1850.4 969.6 1852 969.5 1853.6 970.9 1855.1 971.2 1856.7 972.3 1858.3 972.4 1859.9 972.2 1861.5 973.7 1863.1 972.7 1864.7 973.1 1866.2 972.3 1867.8 971.9 1869.4 972.1 1871 971.6 1872.6 971.1 1874.2 971.5 1875.8 971.1 1877.3 972.5 1878.9 975.8 1880.5 978.6 1882.1 983.2 1883.7 987.5 1885.3 990 1886.9 988.8 1888.4 981.8 1890 975.6 1891.6 974.6 1893.2 965.6 1894.8 964.5 1896.4 972.9 1898 979.2 1899.6 985.1 1901.1 996.7 1902.7 1004.1 1904.3 1008.5 1905.9 1008 1907.5 1006.6 1909.1 1005.8 1910.7 1004.9 1912.2 1004.5 1913.8 1005.1 1915.4 1005.1 1917 1003.8 1918.6 1001.8 1920.2 999 1921.8 997.1 1923.3 997.1 1924.9 996.2 1926.5 996.4 1928.1 996.2 1929.7 996.2 1931.3 997 1932.9 998.4 1934.4 999.9 1936 1001.9 1937.6 1003.1 1939.2 1003.8 1940.8 1003.7 1942.4 1005.3 1944 1008 1945.5 1010.4 1947.1 1013.5 1948.7 1016.9 1950.3 1018.9 1951.9 1020.1 1953.5 1020.5 1955.1 1021.8 1956.6 1021.9 1958.2 1021.6 1959.8 1023 1961.4 1022.7 1963 1021.6 1964.6 1021.3 1966.2 1020.3 1967.7 1019.7 1969.3 1018.9 1970.9 1018.2 1972.5 1017.2 1974.1 1015.6 1975.7 1014.5 1977.3 1014.3 1978.9 1014.5 1980.4 1015 1982 1015.3 1983.6 1014.1 1985.2 1013.8 1986.8 1013.1 1988.4 1011.5 1990 1010.6 1991.5 1010 1993.1 1008.4 1994.7 1007.6 1996.3 1006.6 1997.9 1005.4 1999.5 1005 2001.1 1004.7 2002.6 1004.3 2004.2 1004.7 2005.8 1004.9 2007.4 1004.6 2009 1003.6 2010.6 1004.4 2012.2 1004.9 2013.7 1005 2015.3 1005.5 2016.9 1007.7 2018.5 1008.8 2020.1 1007.7 2021.7 1006.6 2023.3 1006.1 2024.8 1006.5 2026.4 1007.6 2028 1008.4 2029.6 1009.4 2031.2 1009.3 2032.8 1008.1 2034.4 1005.3 2035.9 1003 2037.5 1002.5 2039.1 1001.8 2040.7 1000.6 2042.3 1000.7 2043.9 999.9 2045.5 999.1 2047 999.4 2048.6 1000.4 2050.2 1002.2 2051.8 1005.1 2053.4 1007.4 2055 1009.1 2056.6 1010.4 2058.2 1010.8 2059.7 1010.9 2061.3 1014 2062.9 1017.4 2064.5 1021.5 2066.1 1025.7 2067.7 1029.5 2069.3 1031.5 2070.8 1032.8 2072.4 1034.3 2074 1035.8 2075.6 1036.8 2077.2 1038.5 2078.8 1038.1 2080.4 1037 2081.9 1036.3 2083.5 1035.4 2085.1 1035.3 2086.7 1034.9 2088.3 1035.2 2089.9 1035.7 2091.5 1036.1 2093 1035.6 2094.6 1035.9 2096.2 1034.3 2097.8 1033.2 2099.4 1031.5 2101 1031.3 2102.6 1030.7 2104.1 1031.4 2105.7 1031.3 2107.3 1031.5 2108.9 1031 2110.5 1032.7 2112.1 1034.4 2113.7 1035.5 2115.2 1037.2 2116.8 1038.4 2118.4 1039.1 2120 1038.6 2121.6 1037.8 2123.2 1037.6 2124.8 1036.8 2126.3 1036.6 2127.9 1036.2 2129.5 1035 2131.1 1033.8 2132.7 1032.5 2134.3 1028.7 2135.9 1013.7 2137.5 989.5 2139 966.8 2140.6 944.9 2142.2 926.7 2143.8 921.7 2145.4 930.8 2147 943.1 2148.6 949.6 2150.1 970.9 2151.7 991.8 2153.3 1008.5 2154.9 1018.9 2156.5 1026.3 2158.1 1027.6 2159.7 1029.1 2161.2 1029.3 2162.8 1029.7 2164.4 1030.2 2166 1030.4 2167.6 1030.6 2169.2 1028.3 2170.8 1024.9 2172.3 1016.7 2173.9 1017.4 2175.5 1016.1 2177.1 1015 2178.7 1013.9 2180.3 1023.3 2181.9 1022.8 2183.4 1022.9 2185 1024.2 2186.6 1025.3 2188.2 1025.2 2189.8 1026.8 2191.4 1026.3 2193 1027.4 2194.5 1028.6 2196.1 1028.8 2197.7 1029.6 2199.3 1027.4 2200.9 1024.4 2202.5 1022.9 2204.1 1020.3 2205.6 1019.6 2207.2 1021.8 2208.8 1023.2 2210.4 1020.7 2212 1019.6 2213.6 1017.8 2215.2 1012.1 2216.8 1008.6 2218.3 1009.7 2219.9 1009.8 2221.5 1010.1 2223.1 1011.1 2224.7 1012.9 2226.3 1012.3 2227.9 1011.9 2229.4 1009.4 2231 1008.3 2232.6 1008.5 2234.2 1008.7 2235.8 1008.8 2237.4 1010.1 2239 1009.8 2240.5 1010 2242.1 1009.1 2243.7 1004 2245.3 1001.7 2246.9 1001.8 2248.5 1003.4 2250.1 1008.8 2251.6 1015.1 2253.2 1017.4 2254.8 1017.6 2256.4 1017.5 2258 1019 2259.6 1019.9 2261.2 1021.2 2262.7 1022.8 2264.3 1023.6 2265.9 1024 2267.5 1024.4 2269.1 1025.8 2270.7 1024.8 2272.3 1024.8 2273.8 1024.1 2275.4 1019.4 2277 1015.2 2278.6 1015.2 2280.2 1015 2281.8 1015.9 2283.4 1016.5 2284.9 1019.3 2286.5 1021.9 2288.1 1022.3 2289.7 1021.7 2291.3 1022.9 2292.9 1023.2 2294.5 1023.8 2296.1 1023.6 2297.6 1024.3 2299.2 1026.5 2300.8 1026.9 2302.4 1025.6 2304 1025.8 2305.6 1023.8 2307.2 1021.1 2308.7 1016.8 2310.3 1016.2 2311.9 1018.4 2313.5 1020.9 2315.1 1024.7 2316.7 1028 2318.3 1027.5 2319.8 1028 2321.4 1027 2323 1025.7 2324.6 1025.5 2326.2 1025.6 2327.8 1026.3 2329.4 1026 2330.9 1027.3 2332.5 1027.8 2334.1 1029.2 2335.7 1029.3 2337.3 1029 2338.9 1029.4 2340.5 1028.4 2342 1027.7 2342.8 1026.9" stroke="#ffd700" stroke-width="1.35" fill="none" stroke-linejoin="round"/>
<path d="M59.8 932.2 61.4 930.9 63 930.7 64.5 930.2 66.1 930.3 67.7 930 69.3 930.6 70.9 930.9 72.5 931.1 74.1 931.3 75.7 931.4 77.2 931.5 78.8 931.3 80.4 931.6 82 931 83.6 929.5 85.2 929.9 86.8 928.9 88.3 928.7 89.9 928.7 91.5 928.5 93.1 928 94.7 926.9 96.3 926.8 97.9 926.4 99.4 927.2 101 927.3 102.6 929.2 104.2 930.4 105.8 931.2 107.4 931.6 109 932 110.5 931.1 112.1 932.3 113.7 932.5 115.3 932.4 116.9 932.8 118.5 932 120.1 932.1 121.6 931.5 123.2 931.9 124.8 931.1 126.4 930.9 128 931.7 129.6 931 131.2 930.7 132.7 930.6 134.3 930.1 135.9 930.2 137.5 930.5 139.1 929.7 140.7 930.2 142.3 929.4 143.8 929.7 145.4 929.2 147 930.1 148.6 930.1 150.2 930 151.8 929.8 153.4 930.4 155 930.6 156.5 930.3 158.1 930.6 159.7 930.8 161.3 930.4 162.9 930.3 164.5 930.8 166.1 930.6 167.6 931.1 169.2 930.9 170.8 931.4 172.4 930.7 174 930.3 175.6 930.5 177.2 930.1 178.7 930.1 180.3 930.6 181.9 931.1 183.5 930.3 185.1 930.7 186.7 930.6 188.3 930.4 189.8 930.5 191.4 929.8 193 930.2 194.6 929.6 196.2 929.4 197.8 929 199.4 928.7 200.9 928.3 202.5 928.3 204.1 928.7 205.7 927.9 207.3 927.2 208.9 927.2 210.5 927.3 212 928.2 213.6 929.5 215.2 929.3 216.8 930.3 218.4 930.5 220 930.5 221.6 930.8 223.1 931.2 224.7 931.6 226.3 931.3 227.9 931.1 229.5 930.5 231.1 930.5 232.7 930 234.3 930.2 235.8 930.3 237.4 931 239 931.5 240.6 931.4 242.2 930.1 243.8 927.9 245.4 924.9 246.9 924.1 248.5 923.6 250.1 923.6 251.7 925.3 253.3 930 254.9 929.6 256.5 929.2 258 928.5 259.6 928.1 261.2 927.2 262.8 927.7 264.4 926.6 266 926.8 267.6 925.8 269.1 925.6 270.7 925.9 272.3 926 273.9 926.2 275.5 927 277.1 927.6 278.7 928.3 280.2 928.9 281.8 929.2 283.4 929.7 285 929 286.6 928.1 288.2 928.6 289.8 929 291.3 929.6 292.9 930.6 294.5 932.1 296.1 932 297.7 931.9 299.3 931.8 300.9 931.7 302.4 931.6 304 931.9 305.6 931.8 307.2 930 308.8 929.9 310.4 929.8 312 927.7 313.6 927.9 315.1 928.1 316.7 927.7 318.3 928 319.9 927.2 321.5 927 323.1 927.1 324.7 926.7 326.2 926.4 327.8 927.5 329.4 928.2 331 929 332.6 930.1 334.2 931.6 335.8 932.8 337.3 932.9 338.9 933.3 340.5 933.2 342.1 933 343.7 933 345.3 932.3 346.9 932.5 348.4 932.2 350 932.5 351.6 932.1 353.2 932.4 354.8 932 356.4 931.3 358 930.9 359.5 931.3 361.1 931.5 362.7 932 364.3 932.1 365.9 933 367.5 932.6 369.1 932.2 370.6 931.8 372.2 931.2 373.8 930.5 375.4 930.9 377 930.5 378.6 930.3 380.2 930.5 381.7 927.5 383.3 926.1 384.9 925.5 386.5 925.4 388.1 925.2 389.7 927.4 391.3 929.1 392.9 930.5 394.4 930.7 396 930.8 397.6 931.8 399.2 932.2 400.8 932.5 402.4 932.3 404 932.2 405.5 931 407.1 931.4 408.7 930.7 410.3 929.9 411.9 929.1 413.5 929.3 415.1 928.7 416.6 929.2 418.2 929 419.8 928.6 421.4 929.1 423 928.3 424.6 927.9 426.2 926.9 427.7 926.1 429.3 926 430.9 927 432.5 927.9 434.1 928.6 435.7 928.6 437.3 928.2 438.8 927.1 440.4 926.4 442 926.7 443.6 926.3 445.2 925.9 446.8 925.6 448.4 925.7 449.9 925.8 451.5 924.7 453.1 924.9 454.7 923.7 456.3 923.3 457.9 923.5 459.5 922.9 461 923 462.6 922.5 464.2 922.9 465.8 923 467.4 922.3 469 922.4 470.6 922.1 472.2 921.4 473.7 922.8 475.3 922 476.9 921.9 478.5 921.5 480.1 921.3 481.7 921.7 483.3 920.6 484.8 921.2 486.4 921.3 488 921.4 489.6 920.8 491.2 919.4 492.8 918.3 494.4 917.5 495.9 918 497.5 918.2 499.1 919.8 500.7 921.6 502.3 920.8 503.9 921.2 505.5 921 507 920.6 508.6 920.3 510.2 920.2 511.8 919 513.4 918.5 515 917.3 516.6 917.4 518.1 915.7 519.7 914.6 521.3 913.7 522.9 912.1 524.5 910.7 526.1 908.5 527.7 908.8 529.2 911.6 530.8 912.4 532.4 910.8 534 910.6 535.6 909.6 537.2 908.2 538.8 908.6 540.3 907.8 541.9 908 543.5 904.1 545.1 902.7 546.7 901.8 548.3 902.2 549.9 903.3 551.5 907.4 553 908.3 554.6 907.6 556.2 908.8 557.8 909.4 559.4 908.8 561 909.3 562.6 908.9 564.1 908.6 565.7 908 567.3 908.2 568.9 906.8 570.5 907.2 572.1 905 573.7 903.6 575.2 901.9 576.8 903 578.4 901.6 580 903.4 581.6 903.9 583.2 904 584.8 903 586.3 902.5 587.9 901.2 589.5 901.3 591.1 901 592.7 900 594.3 899.9 595.9 899.1 597.4 899.4 599 898.7 600.6 898.8 602.2 899.1 603.8 899.5 605.4 898 607 897.6 608.5 896.6 610.1 898.3 611.7 898.4 613.3 897.4 614.9 896.5 616.5 896.5 618.1 896 619.6 896.2 621.2 895.8 622.8 896.8 624.4 898.3 626 898.6 627.6 897.7 629.2 897.1 630.8 895.9 632.3 896 633.9 896.7 635.5 896.9 637.1 898.2 638.7 897.9 640.3 898 641.9 896.8 643.4 894.7 645 895.7 646.6 897.6 648.2 898.5 649.8 900.6 651.4 902.8 653 903.2 654.5 903.5 656.1 902.1 657.7 902.2 659.3 901.3 660.9 901.7 662.5 900.2 664.1 900.5 665.6 900.6 667.2 900.4 668.8 900.8 670.4 901.2 672 901.9 673.6 901.4 675.2 901.2 676.7 900.4 678.3 900.1 679.9 899.2 681.5 898.3 683.1 897.5 684.7 896.2 686.3 895.9 687.8 895.4 689.4 894 691 894.3 692.6 894.5 694.2 893.2 695.8 891.1 697.4 888.5 698.9 886.9 700.5 882.5 702.1 879 703.7 876.2 705.3 875.6 706.9 876.1 708.5 877.9 710.1 881.1 711.6 884.9 713.2 887.6 714.8 891.3 716.4 894 718 892.5 719.6 891.1 721.2 887.7 722.7 884.2 724.3 881.5 725.9 879.6 727.5 878.6 729.1 880.5 730.7 882.9 732.3 884.7 733.8 887.9 735.4 889 737 887.3 738.6 886.5 740.2 884.7 741.8 884.4 743.4 886.7 744.9 887.4 746.5 889.6 748.1 889.1 749.7 888.2 751.3 887.7 752.9 886.7 754.5 887.2 756 886.7 757.6 889.3 759.2 889.1 760.8 890.8 762.4 890 764 891.4 765.6 892 767.1 890.5 768.7 889.1 770.3 887.2 771.9 886 773.5 885.1 775.1 883.6 776.7 882.3 778.2 883.9 779.8 884.7 781.4 885.8 783 884.2 784.6 881.8 786.2 880.9 787.8 881.2 789.4 881.3 790.9 879.9 792.5 880.4 794.1 879.9 795.7 881.2 797.3 883.3 798.9 886.4 800.5 888.7 802 893.5 803.6 897.7 805.2 898.9 806.8 900.4 808.4 901.5 810 901.3 811.6 900 813.1 898.3 814.7 896.2 816.3 894.8 817.9 893.1 819.5 892.8 821.1 891.8 822.7 892 824.2 891.9 825.8 892.5 827.4 892.6 829 893.9 830.6 893.9 832.2 894 833.8 894.1 835.3 892.8 836.9 892.6 838.5 892 840.1 891.3 841.7 891.9 843.3 891.5 844.9 892.4 846.4 891.3 848 891.2 849.6 891.7 851.2 891 852.8 890.7 854.4 892.2 856 892.6 857.5 894.9 859.1 895.5 860.7 897.4 862.3 898.3 863.9 900.4 865.5 902 867.1 901.7 868.7 901.8 870.2 902.6 871.8 902.1 873.4 902.1 875 900.8 876.6 895.8 878.2 895 879.8 894.4 881.3 893.7 882.9 894.9 884.5 900 886.1 903.1 887.7 903.1 889.3 903.3 890.9 903.8 892.4 903.9 894 903.9 895.6 904.1 897.2 903.9 898.8 904 900.4 904.8 902 904.1 903.5 905.1 905.1 904.6 906.7 904.4 908.3 904.8 909.9 904 911.5 904 913.1 903.9 914.6 903.9 916.2 904.1 917.8 904.6 919.4 903.3 921 901.6 922.6 900.7 924.2 899.3 925.7 899.7 927.3 899.3 928.9 898.6 930.5 898.1 932.1 896.7 933.7 894.4 935.3 892.2 936.8 889.7 938.4 887.7 940 887.7 941.6 887.1 943.2 885.5 944.8 886.1 946.4 884.5 948 883.3 949.5 883.5 951.1 884.8 952.7 886.3 954.3 887.5 955.9 889.3 957.5 891.7 959.1 895 960.6 897.1 962.2 900.4 963.8 900.7 965.4 901.8 967 901.5 968.6 900.8 970.2 901 971.7 901.6 973.3 902.1 974.9 901.2 976.5 902.8 978.1 903.9 979.7 903.7 981.3 903.9 982.8 905.6 984.4 904.5 986 903.2 987.6 902 989.2 899.7 990.8 898.3 992.4 896.4 993.9 894.8 995.5 894 997.1 892.9 998.7 893.2 1000.3 892 1001.9 892.6 1003.5 892.7 1005 894.5 1006.6 896.3 1008.2 898.6 1009.8 900.8 1011.4 901.8 1013 902.9 1014.6 904.9 1016.1 906.6 1017.7 907.2 1019.3 906.7 1020.9 906.9 1022.5 902.6 1024.1 895.8 1025.7 891.2 1027.3 886.2 1028.8 881.7 1030.4 883.2 1032 885.3 1033.6 888.6 1035.2 894.6 1036.8 899.7 1038.4 904.8 1039.9 906.9 1041.5 907.2 1043.1 907.5 1044.7 907.6 1046.3 908 1047.9 907.4 1049.5 907 1051 907.4 1052.6 906.3 1054.2 906.8 1055.8 906.7 1057.4 906.4 1059 906.7 1060.6 906.1 1062.1 906.9 1063.7 906.4 1065.3 906.6 1066.9 907.2 1068.5 906.9 1070.1 907.4 1071.7 907.7 1073.2 908 1074.8 908 1076.4 908.6 1078 908.2 1079.6 908.7 1081.2 909.4 1082.8 907.5 1084.3 904.3 1085.9 901 1087.5 897.5 1089.1 894.1 1090.7 891.5 1092.3 885.8 1093.9 882.2 1095.4 882.2 1097 881.9 1098.6 880.2 1100.2 877.6 1101.8 869.3 1103.4 860.6 1105 852.7 1106.6 844.3 1108.1 841.4 1109.7 839.1 1111.3 836.8 1112.9 840.6 1114.5 846.5 1116.1 857 1117.7 868.8 1119.2 880.5 1120.8 892.5 1122.4 897.2 1124 899.7 1125.6 901.5 1127.2 904.1 1128.8 903.1 1130.3 902.6 1131.9 902 1133.5 901.1 1135.1 901.5 1136.7 900.3 1138.3 901.2 1139.9 901.8 1141.4 903 1143 902.6 1144.6 903.3 1146.2 904.1 1147.8 904.2 1149.4 903.7 1151 904.3 1152.5 904.3 1154.1 904.9 1155.7 905.3 1157.3 905.7 1158.9 905.5 1160.5 905.7 1162.1 905.9 1163.6 905.3 1165.2 906 1166.8 906.5 1168.4 906.5 1170 906.7 1171.6 907.6 1173.2 908 1174.7 908.6 1176.3 908.2 1177.9 909.1 1179.5 910.3 1181.1 910.5 1182.7 910.3 1184.3 910.7 1185.9 910.8 1187.4 910.7 1189 911 1190.6 911.3 1192.2 911.1 1193.8 911.6 1195.4 911.5 1197 910.8 1198.5 910.8 1200.1 910.3 1201.7 910.5 1203.3 905 1204.9 898.6 1206.5 892.8 1208.1 886.9 1209.6 884.8 1211.2 887.7 1212.8 889.7 1214.4 888.3 1216 891 1217.6 895 1219.2 896.7 1220.7 898.4 1222.3 910.7 1223.9 911.6 1225.5 912 1227.1 912 1228.7 912.7 1230.3 911.8 1231.8 912.8 1233.4 912.5 1235 912.9 1236.6 913 1238.2 912.4 1239.8 913 1241.4 912.8 1242.9 912 1244.5 913 1246.1 912.1 1247.7 912.2 1249.3 913.1 1250.9 912.7 1252.5 913.1 1254 912.3 1255.6 910.5 1257.2 909.7 1258.8 908 1260.4 907.4 1262 907.7 1263.6 907 1265.2 906.9 1266.7 904.5 1268.3 902 1269.9 901.4 1271.5 901.7 1273.1 905.7 1274.7 909.2 1276.3 909.4 1277.8 910.3 1279.4 910.3 1281 911.1 1282.6 910.7 1284.2 910.9 1285.8 911.2 1287.4 911.8 1288.9 912 1290.5 912.3 1292.1 912.9 1293.7 912.6 1295.3 912.1 1296.9 912.4 1298.5 912.2 1300 912.2 1301.6 912.1 1303.2 912.1 1304.8 912.3 1306.4 912.3 1308 911.9 1309.6 911.6 1311.1 911.7 1312.7 911.6 1314.3 911.5 1315.9 911.2 1317.5 911.5 1319.1 911 1320.7 911.9 1322.2 911.7 1323.8 911.7 1325.4 911.1 1327 911.3 1328.6 911.5 1330.2 911 1331.8 910.7 1333.3 911 1334.9 910.4 1336.5 911.3 1338.1 911.2 1339.7 910.7 1341.3 911.5 1342.9 911.7 1344.5 911.6 1346 911.7 1347.6 912 1349.2 911.6 1350.8 912 1352.4 911.5 1354 911.3 1355.6 911.4 1357.1 911.2 1358.7 907.7 1360.3 900.8 1361.9 898.5 1363.5 898.5 1365.1 899.3 1366.7 903.1 1368.2 906.4 1369.8 910.7 1371.4 911 1373 911.1 1374.6 912.1 1376.2 911.7 1377.8 911 1379.3 910.5 1380.9 910.5 1382.5 910.6 1384.1 910.9 1385.7 909.9 1387.3 910.5 1388.9 909.5 1390.4 910.1 1392 909.6 1393.6 909.8 1395.2 909.2 1396.8 909.9 1398.4 909.5 1400 909 1401.5 908.5 1403.1 909 1404.7 908.9 1406.3 908.4 1407.9 908.9 1409.5 908.6 1411.1 908.2 1412.6 908.3 1414.2 907.7 1415.8 908.6 1417.4 908.7 1419 908.2 1420.6 907.7 1422.2 907.6 1423.8 906.8 1425.3 900.9 1426.9 896.4 1428.5 895 1430.1 894.5 1431.7 894.6 1433.3 898.9 1434.9 902.9 1436.4 902.3 1438 903.4 1439.6 903.6 1441.2 903.4 1442.8 904.5 1444.4 904.2 1446 904.5 1447.5 905.5 1449.1 905.2 1450.7 904.1 1452.3 903.9 1453.9 900.9 1455.5 898.6 1457.1 896.4 1458.6 895.7 1460.2 895.4 1461.8 895.9 1463.4 898.3 1465 900.9 1466.6 903.3 1468.2 904.1 1469.7 904.6 1471.3 904 1472.9 904 1474.5 903.4 1476.1 898 1477.7 892.8 1479.3 892 1480.8 892 1482.4 893.7 1484 902 1485.6 903.8 1487.2 903.8 1488.8 903.9 1490.4 903.9 1491.9 904.4 1493.5 904.8 1495.1 903.3 1496.7 904.3 1498.3 903.5 1499.9 903.5 1501.5 903.6 1503.1 903.5 1504.6 902 1506.2 900 1507.8 898.4 1509.4 892.7 1511 888.6 1512.6 885.7 1514.2 887.1 1515.7 888.4 1517.3 892.8 1518.9 896.7 1520.5 901 1522.1 903.1 1523.7 902.9 1525.3 903.1 1526.8 902.4 1528.4 898.3 1530 897.8 1531.6 897.5 1533.2 897.3 1534.8 898.6 1536.4 899.5 1537.9 897.8 1539.5 896.5 1541.1 895 1542.7 894.6 1544.3 893.7 1545.9 893.4 1547.5 892.7 1549 892.8 1550.6 893.5 1552.2 892 1553.8 888.8 1555.4 886.5 1557 885.9 1558.6 884.8 1560.1 884.6 1561.7 886.8 1563.3 889.6 1564.9 888.8 1566.5 888 1568.1 888.4 1569.7 887.9 1571.2 889.1 1572.8 889.7 1574.4 889.2 1576 889.1 1577.6 889.3 1579.2 887.2 1580.8 885.9 1582.4 887.5 1583.9 889 1585.5 891.4 1587.1 893.1 1588.7 895.5 1590.3 897.9 1591.9 897.6 1593.5 897.3 1595 897 1596.6 896.9 1598.2 896.8 1599.8 896.2 1601.4 896.4 1603 895.9 1604.6 896.5 1606.1 896 1607.7 895.9 1609.3 896 1610.9 895.9 1612.5 895.8 1614.1 895.3 1615.7 895.4 1617.2 895.5 1618.8 895.3 1620.4 895.2 1622 895 1623.6 895.2 1625.2 895.4 1626.8 894.8 1628.3 894.7 1629.9 894.7 1631.5 894.6 1633.1 895.2 1634.7 895.4 1636.3 895.2 1637.9 895.2 1639.4 895.6 1641 895.6 1642.6 894.9 1644.2 895.5 1645.8 896.2 1647.4 895.6 1649 895.4 1650.5 895.3 1652.1 895.7 1653.7 895.3 1655.3 895.9 1656.9 896.6 1658.5 896 1660.1 894.7 1661.7 893.1 1663.2 891.5 1664.8 891.3 1666.4 890.9 1668 891.7 1669.6 893.2 1671.2 894.1 1672.8 893.8 1674.3 893.7 1675.9 894.1 1677.5 895 1679.1 896 1680.7 896.6 1682.3 896.3 1683.9 896.5 1685.4 895.8 1687 895.6 1688.6 895.5 1690.2 894.6 1691.8 893.3 1693.4 890.7 1695 890.1 1696.5 890.5 1698.1 890.8 1699.7 892.3 1701.3 894.1 1702.9 895.2 1704.5 895 1706.1 895.1 1707.6 895.2 1709.2 895.1 1710.8 895.2 1712.4 894.6 1714 895.1 1715.6 895.1 1717.2 894.8 1718.7 895.4 1720.3 895 1721.9 895.1 1723.5 895.3 1725.1 895.4 1726.7 894.8 1728.3 895 1729.8 894.5 1731.4 894 1733 894.3 1734.6 894.1 1736.2 893.9 1737.8 894.1 1739.4 894.4 1741 894.2 1742.5 894.1 1744.1 894.3 1745.7 893.8 1747.3 894.3 1748.9 894.4 1750.5 893.8 1752.1 893.9 1753.6 893.9 1755.2 894.1 1756.8 893.9 1758.4 894.1 1760 893.9 1761.6 894.2 1763.2 894.3 1764.7 893.8 1766.3 892.7 1767.9 892.3 1769.5 890.9 1771.1 891 1772.7 891.4 1774.3 892 1775.8 891.9 1777.4 892.2 1779 892.5 1780.6 892.7 1782.2 892.6 1783.8 892.1 1785.4 892.4 1786.9 892.5 1788.5 892.6 1790.1 892.6 1791.7 892.5 1793.3 892.5 1794.9 892.1 1796.5 892.6 1798 892.4 1799.6 892.2 1801.2 892.7 1802.8 892.2 1804.4 892 1806 892.3 1807.6 892.2 1809.1 892.3 1810.7 892.3 1812.3 892.7 1813.9 892.7 1815.5 893.1 1817.1 893 1818.7 892 1820.3 890.8 1821.8 889.9 1823.4 889.7 1825 889.3 1826.6 889.9 1828.2 890.6 1829.8 891.8 1831.4 889.7 1832.9 888.5 1834.5 888.4 1836.1 888.1 1837.7 889.4 1839.3 891 1840.9 891.4 1842.5 892.2 1844 891.7 1845.6 891.4 1847.2 891 1848.8 890.6 1850.4 889.7 1852 889.7 1853.6 890.3 1855.1 890.5 1856.7 890.8 1858.3 891 1859.9 890.8 1861.5 891.8 1863.1 891.8 1864.7 892.6 1866.2 892.4 1867.8 892 1869.4 892.5 1871 892.6 1872.6 892.6 1874.2 892.6 1875.8 892.5 1877.3 892.4 1878.9 892.9 1880.5 893 1882.1 893 1883.7 893.3 1885.3 891.9 1886.9 889.6 1888.4 888 1890 886.7 1891.6 885.6 1893.2 884.8 1894.8 884.2 1896.4 887.1 1898 888.8 1899.6 891 1901.1 892.1 1902.7 894.2 1904.3 894.7 1905.9 894.9 1907.5 895 1909.1 894.9 1910.7 894.9 1912.2 894.8 1913.8 894.8 1915.4 894.9 1917 894.8 1918.6 894.8 1920.2 894.7 1921.8 894.7 1923.3 894.8 1924.9 894.9 1926.5 894.6 1928.1 894.5 1929.7 894.6 1931.3 894.8 1932.9 894.7 1934.4 894.8 1936 894.7 1937.6 894.6 1939.2 894.5 1940.8 894.9 1942.4 894.9 1944 894.8 1945.5 895 1947.1 894.8 1948.7 895.2 1950.3 895.2 1951.9 895.3 1953.5 895.1 1955.1 895.4 1956.6 895.4 1958.2 895.5 1959.8 895.1 1961.4 895.5 1963 895.6 1964.6 895.4 1966.2 895.6 1967.7 895.5 1969.3 895.8 1970.9 895.5 1972.5 895.6 1974.1 895.5 1975.7 896 1977.3 895.6 1978.9 895.5 1980.4 895.6 1982 895.7 1983.6 895.7 1985.2 895.8 1986.8 895.9 1988.4 895.9 1990 895.5 1991.5 895.7 1993.1 895.7 1994.7 895.8 1996.3 895.7 1997.9 895.8 1999.5 895.6 2001.1 895.8 2002.6 895.4 2004.2 895.7 2005.8 895.6 2007.4 895.3 2009 895.2 2010.6 895.3 2012.2 895.5 2013.7 895.7 2015.3 895.3 2016.9 895.5 2018.5 895.4 2020.1 895.7 2021.7 895.7 2023.3 895.7 2024.8 895.8 2026.4 895.7 2028 895.9 2029.6 895.6 2031.2 895.5 2032.8 895.5 2034.4 895.5 2035.9 895.7 2037.5 895.4 2039.1 895.3 2040.7 895.3 2042.3 895.3 2043.9 895.1 2045.5 895.5 2047 895.6 2048.6 895.6 2050.2 895.5 2051.8 895.7 2053.4 895.7 2055 895.7 2056.6 895.8 2058.2 895.7 2059.7 895.9 2061.3 895.9 2062.9 895.7 2064.5 895.9 2066.1 895.9 2067.7 896.1 2069.3 895.7 2070.8 896.2 2072.4 896.2 2074 896.1 2075.6 896.2 2077.2 895.9 2078.8 896.2 2080.4 896.1 2081.9 896.1 2083.5 896.4 2085.1 896.1 2086.7 896.3 2088.3 896.2 2089.9 896.2 2091.5 896.2 2093 896 2094.6 896.3 2096.2 896.4 2097.8 896.6 2099.4 896.5 2101 896.6 2102.6 896.3 2104.1 896.4 2105.7 896.6 2107.3 896.6 2108.9 896.4 2110.5 896.8 2112.1 896.6 2113.7 896.7 2115.2 896.6 2116.8 896.9 2118.4 896.9 2120 897 2121.6 896.7 2123.2 896.9 2124.8 897.3 2126.3 896.9 2127.9 897 2129.5 897 2131.1 897 2132.7 897.3 2134.3 897.4 2135.9 886.1 2137.5 866.4 2139 847 2140.6 827.7 2142.2 810.1 2143.8 803 2145.4 803.6 2147 804.8 2148.6 809.9 2150.1 822.6 2151.7 838.4 2153.3 858.1 2154.9 879 2156.5 895.9 2158.1 895.8 2159.7 896.7 2161.2 896.5 2162.8 896.6 2164.4 896.3 2166 896.5 2167.6 896.8 2169.2 897 2170.8 896.4 2172.3 897 2173.9 896.7 2175.5 896.8 2177.1 896.7 2178.7 896.7 2180.3 896.6 2181.9 896.8 2183.4 896.6 2185 895.8 2186.6 895 2188.2 894.8 2189.8 894.7 2191.4 894.1 2193 894.5 2194.5 895.5 2196.1 895.1 2197.7 895.1 2199.3 895 2200.9 894.8 2202.5 894.2 2204.1 894.1 2205.6 893.5 2207.2 894.4 2208.8 894.6 2210.4 894.1 2212 895 2213.6 895.4 2215.2 893.9 2216.8 894.3 2218.3 894.5 2219.9 894.1 2221.5 893.7 2223.1 893.6 2224.7 893.6 2226.3 893.9 2227.9 893.4 2229.4 893.6 2231 894.5 2232.6 894.7 2234.2 895.8 2235.8 895.3 2237.4 894.5 2239 893.3 2240.5 891.8 2242.1 889.6 2243.7 886.5 2245.3 884.4 2246.9 883.7 2248.5 883.3 2250.1 884.6 2251.6 887 2253.2 888.2 2254.8 887.2 2256.4 886.2 2258 886.6 2259.6 886.9 2261.2 889.1 2262.7 890.8 2264.3 894.1 2265.9 894.8 2267.5 896.5 2269.1 897 2270.7 897.1 2272.3 896.7 2273.8 895.8 2275.4 894.3 2277 893.7 2278.6 893.8 2280.2 894.2 2281.8 895.7 2283.4 896.5 2284.9 896.7 2286.5 897.9 2288.1 898.2 2289.7 898.1 2291.3 898.1 2292.9 898.3 2294.5 897.7 2296.1 898.1 2297.6 898.5 2299.2 898.3 2300.8 898.4 2302.4 898.1 2304 898.2 2305.6 897.8 2307.2 898.1 2308.7 898 2310.3 897.9 2311.9 898.1 2313.5 898.3 2315.1 898.4 2316.7 898.7 2318.3 898.9 2319.8 898.4 2321.4 898.8 2323 899 2324.6 898.6 2326.2 898.7 2327.8 899.2 2329.4 898.7 2330.9 899 2332.5 898.8 2334.1 898.5 2335.7 898.7 2337.3 898.4 2338.9 898.7 2340.5 899 2342 898.9 2342.8 898.8" stroke="#ff8c00" stroke-width="1.35" fill="none" stroke-linejoin="round"/>
<path d="M59.8 921.6 61.4 921.6 63 920.7 64.5 920.9 66.1 920.4 67.7 920.4 69.3 921 70.9 920.5 72.5 921 74.1 922.2 75.7 922.6 77.2 922.2 78.8 922.3 80.4 921.8 82 921.5 83.6 920.7 85.2 919.7 86.8 919.2 88.3 919.1 89.9 919.3 91.5 919.4 93.1 919.5 94.7 918.1 96.3 917.6 97.9 917.9 99.4 917.9 101 918.6 102.6 919.2 104.2 920 105.8 919.8 107.4 920.6 109 920.6 110.5 921.3 112.1 922.4 113.7 922 115.3 923 116.9 922.7 118.5 922.3 120.1 922.4 121.6 922.2 123.2 922.2 124.8 921.6 126.4 921.2 128 921 129.6 920.6 131.2 920.8 132.7 920.8 134.3 921.5 135.9 920.8 137.5 921.2 139.1 921.2 140.7 920.6 142.3 921.5 143.8 920.1 145.4 920.5 147 920.4 148.6 921.3 150.2 920.5 151.8 921.5 153.4 921.3 155 921.4 156.5 921.1 158.1 921.3 159.7 920.7 161.3 920.8 162.9 921 164.5 921.5 166.1 920.5 167.6 921.8 169.2 921.8 170.8 921.4 172.4 921.5 174 921.3 175.6 921.8 177.2 921.3 178.7 921.4 180.3 921.8 181.9 922.2 183.5 922.1 185.1 921.7 186.7 922.2 188.3 920.8 189.8 920.1 191.4 920.8 193 920.5 194.6 920.1 196.2 919.3 197.8 918.6 199.4 918.4 200.9 918.4 202.5 918.2 204.1 918.6 205.7 919.1 207.3 918.4 208.9 918.1 210.5 919.4 212 919.6 213.6 920 215.2 920.7 216.8 921.3 218.4 921 220 920.9 221.6 920.9 223.1 921.1 224.7 921.6 226.3 921 227.9 920.6 229.5 921 231.1 920.7 232.7 920.7 234.3 920.9 235.8 920.7 237.4 920.8 239 921 240.6 920.9 242.2 919.2 243.8 915.7 245.4 910.8 246.9 909.9 248.5 909.6 250.1 911.1 251.7 914.6 253.3 917.7 254.9 916.5 256.5 915.4 258 914 259.6 913.9 261.2 913.4 262.8 912.7 264.4 912 266 912.4 267.6 912.5 269.1 911.7 270.7 911.6 272.3 911.3 273.9 912.1 275.5 912.3 277.1 913.4 278.7 914.4 280.2 916.4 281.8 917.7 283.4 919.2 285 918.5 286.6 917.8 288.2 918 289.8 918.6 291.3 918.8 292.9 919.6 294.5 921.1 296.1 921.4 297.7 920.8 299.3 920.6 300.9 920.4 302.4 920.9 304 921.1 305.6 920.9 307.2 920.1 308.8 918.3 310.4 916.6 312 916.8 313.6 916.7 315.1 916.3 316.7 916.5 318.3 916.6 319.9 916.1 321.5 916.2 323.1 916.1 324.7 915.1 326.2 915.4 327.8 916.6 329.4 918 331 919 332.6 921.2 334.2 922.6 335.8 923.2 337.3 923.2 338.9 923 340.5 922.6 342.1 922.7 343.7 923.1 345.3 922.6 346.9 923 348.4 923 350 922.6 351.6 923.2 353.2 922.3 354.8 922.7 356.4 921.3 358 921 359.5 922.3 361.1 922.6 362.7 922.7 364.3 923.2 365.9 922.7 367.5 922.7 369.1 922.2 370.6 922.1 372.2 922.2 373.8 921.8 375.4 921.7 377 921.2 378.6 921.1 380.2 921.1 381.7 918.8 383.3 917.6 384.9 916.6 386.5 917 388.1 915.7 389.7 918.2 391.3 919.8 392.9 921.2 394.4 921.3 396 921.9 397.6 922 399.2 921.6 400.8 921.5 402.4 921.2 404 922.2 405.5 921 407.1 920.4 408.7 920 410.3 919.9 411.9 918.2 413.5 918.9 415.1 918.8 416.6 919.2 418.2 918.6 419.8 919.2 421.4 919.7 423 918.3 424.6 916.5 426.2 914.1 427.7 914.2 429.3 914.2 430.9 914.8 432.5 916.8 434.1 919.6 435.7 918.4 437.3 917.1 438.8 916.3 440.4 914.4 442 915.1 443.6 915.1 445.2 915.3 446.8 915.7 448.4 915.9 449.9 915.5 451.5 915 453.1 915.1 454.7 913.9 456.3 913.9 457.9 913.6 459.5 913.2 461 913.4 462.6 912.7 464.2 913.1 465.8 912.4 467.4 912.3 469 912.4 470.6 912.3 472.2 912.2 473.7 912 475.3 911.5 476.9 911.2 478.5 911.7 480.1 911.6 481.7 911.2 483.3 912 484.8 912 486.4 911.8 488 912.4 489.6 911.1 491.2 910.5 492.8 910.1 494.4 908.7 495.9 909.2 497.5 908.7 499.1 910.2 500.7 910.5 502.3 911.6 503.9 910.9 505.5 911.2 507 911.5 508.6 911.2 510.2 909.7 511.8 910.1 513.4 909.4 515 908.2 516.6 908.1 518.1 906.3 519.7 905.8 521.3 904.1 522.9 902.1 524.5 901.8 526.1 900.7 527.7 900.3 529.2 903 530.8 902.6 532.4 902.5 534 901.3 535.6 901.5 537.2 900.8 538.8 900.2 540.3 899.6 541.9 898.9 543.5 894.6 545.1 892.9 546.7 892.5 548.3 892.5 549.9 895.2 551.5 898.9 553 898.6 554.6 899.5 556.2 899.9 557.8 899.3 559.4 898.9 561 900.2 562.6 899.5 564.1 899.7 565.7 899.5 567.3 899.6 568.9 897.8 570.5 897.1 572.1 895.7 573.7 894.7 575.2 892.7 576.8 894 578.4 893.8 580 893.5 581.6 894.5 583.2 895.1 584.8 894.7 586.3 893.7 587.9 893.6 589.5 892.3 591.1 891.1 592.7 890.6 594.3 891.1 595.9 890.4 597.4 890.9 599 890.8 600.6 890.5 602.2 890.5 603.8 889.4 605.4 888.9 607 888.5 608.5 888.3 610.1 887.7 611.7 887.9 613.3 886.7 614.9 885.7 616.5 886.1 618.1 886 619.6 885.5 621.2 886.1 622.8 886.4 624.4 887 626 886.7 627.6 885.9 629.2 886.3 630.8 886 632.3 887.1 633.9 887.9 635.5 889.2 637.1 889.2 638.7 889.4 640.3 888.2 641.9 886 643.4 885.2 645 886.3 646.6 886 648.2 888.2 649.8 889 651.4 892.9 653 894.4 654.5 894.9 656.1 893.4 657.7 892.5 659.3 892.2 660.9 892 662.5 890.9 664.1 891.6 665.6 891.8 667.2 892 668.8 890.6 670.4 892.1 672 892 673.6 892.7 675.2 892.1 676.7 890.8 678.3 889.9 679.9 889.9 681.5 889.4 683.1 888.1 684.7 887.6 686.3 885.9 687.8 885.9 689.4 885.7 691 885.5 692.6 885.9 694.2 884.2 695.8 882.2 697.4 881.9 698.9 879.5 700.5 876.7 702.1 874.1 703.7 872 705.3 871.2 706.9 872 708.5 872.1 710.1 875.5 711.6 879.1 713.2 880.8 714.8 884 716.4 885.3 718 884.7 719.6 884.3 721.2 880.9 722.7 877.5 724.3 875.7 725.9 872.5 727.5 871.8 729.1 874.3 730.7 875.8 732.3 877.5 733.8 880.2 735.4 881.2 737 880.2 738.6 878.8 740.2 877.1 741.8 876.2 743.4 877.1 744.9 878.2 746.5 879.9 748.1 880.6 749.7 880.9 751.3 880.5 752.9 880.2 754.5 880.7 756 880.2 757.6 881.4 759.2 881.6 760.8 883 762.4 884.4 764 883.9 765.6 883.8 767.1 884 768.7 883.7 770.3 881.2 771.9 878.4 773.5 877.1 775.1 875.9 776.7 874.8 778.2 875.5 779.8 875.7 781.4 875.4 783 874.9 784.6 872.2 786.2 871 787.8 870.2 789.4 870.4 790.9 870.7 792.5 870.8 794.1 871.6 795.7 872.6 797.3 873.7 798.9 876 800.5 879.4 802 883.4 803.6 887.5 805.2 889.5 806.8 891 808.4 892.3 810 892.7 811.6 891.6 813.1 889.9 814.7 888.3 816.3 886.4 817.9 886.1 819.5 885.4 821.1 885.5 822.7 885.8 824.2 885.3 825.8 885.1 827.4 885 829 885.8 830.6 886.3 832.2 886.3 833.8 886.6 835.3 886.8 836.9 885.3 838.5 885.5 840.1 885.2 841.7 886.4 843.3 886 844.9 885.8 846.4 885.6 848 885.3 849.6 885.1 851.2 884.1 852.8 885 854.4 885.9 856 885.7 857.5 887.8 859.1 889.3 860.7 890 862.3 892 863.9 893 865.5 893.2 867.1 893.9 868.7 893.4 870.2 893.9 871.8 893.8 873.4 893.8 875 890.8 876.6 885.3 878.2 885.7 879.8 884.6 881.3 885.8 882.9 887.3 884.5 890.8 886.1 893.2 887.7 892.9 889.3 893 890.9 893.9 892.4 893.9 894 894.6 895.6 894 897.2 894 898.8 894.3 900.4 895.6 902 895 903.5 894.9 905.1 894.8 906.7 894.7 908.3 895 909.9 895.2 911.5 895.4 913.1 895.3 914.6 894.9 916.2 894.4 917.8 894.3 919.4 893 921 892.3 922.6 891.7 924.2 890.2 925.7 889.9 927.3 888.9 928.9 889.6 930.5 889.1 932.1 887.7 933.7 885.7 935.3 882.5 936.8 881 938.4 880.1 940 881.4 941.6 880.8 943.2 881.1 944.8 882.3 946.4 880.1 948 878.4 949.5 878 951.1 878.8 952.7 879.9 954.3 882.5 955.9 883.1 957.5 886.2 959.1 887.6 960.6 889.9 962.2 891.4 963.8 892.7 965.4 892.7 967 892.9 968.6 892.7 970.2 892.9 971.7 893.3 973.3 893.1 974.9 893.2 976.5 893.5 978.1 894.8 979.7 894.9 981.3 896 982.8 896.1 984.4 894.9 986 894.2 987.6 893.1 989.2 891 990.8 889.6 992.4 888.5 993.9 888.1 995.5 887 997.1 886.8 998.7 886.9 1000.3 886.4 1001.9 887 1003.5 887.8 1005 888.8 1006.6 890.6 1008.2 892.2 1009.8 893.9 1011.4 894.5 1013 895.7 1014.6 896.5 1016.1 897.1 1017.7 897.8 1019.3 898.2 1020.9 898.2 1022.5 894.1 1024.1 887.7 1025.7 883.3 1027.3 878.7 1028.8 874.1 1030.4 874 1032 876.8 1033.6 880.5 1035.2 885.3 1036.8 890.9 1038.4 896.7 1039.9 898.1 1041.5 898.7 1043.1 898.7 1044.7 899.1 1046.3 899.3 1047.9 899.1 1049.5 898.7 1051 898.1 1052.6 898.3 1054.2 897.5 1055.8 898.1 1057.4 897.7 1059 897.8 1060.6 898.2 1062.1 898.1 1063.7 897.3 1065.3 897.8 1066.9 898.2 1068.5 897.7 1070.1 897.3 1071.7 898.3 1073.2 898.4 1074.8 898.8 1076.4 898.8 1078 899 1079.6 899.3 1081.2 899.9 1082.8 897.5 1084.3 894.7 1085.9 891.5 1087.5 889.3 1089.1 885.8 1090.7 883.3 1092.3 876.6 1093.9 873 1095.4 872.9 1097 872.9 1098.6 871 1100.2 866 1101.8 857.9 1103.4 849.5 1105 841.3 1106.6 833.9 1108.1 832.3 1109.7 830.2 1111.3 829.7 1112.9 829.8 1114.5 834.4 1116.1 841.7 1117.7 853.8 1119.2 868 1120.8 882.1 1122.4 889 1124 892.5 1125.6 894 1127.2 895.5 1128.8 896.5 1130.3 894.8 1131.9 893.5 1133.5 892.1 1135.1 891.3 1136.7 890.7 1138.3 891 1139.9 892 1141.4 893.7 1143 895 1144.6 895.1 1146.2 895.2 1147.8 894.7 1149.4 895.7 1151 895.6 1152.5 895.6 1154.1 895.8 1155.7 896.5 1157.3 895.3 1158.9 895.2 1160.5 896.1 1162.1 895.8 1163.6 897 1165.2 896.6 1166.8 897.2 1168.4 898.1 1170 898.4 1171.6 898.6 1173.2 898.9 1174.7 899 1176.3 899.2 1177.9 899.7 1179.5 900.6 1181.1 900.7 1182.7 900.9 1184.3 901.4 1185.9 901.7 1187.4 902 1189 901.7 1190.6 901.9 1192.2 902.2 1193.8 902.6 1195.4 901.4 1197 901.4 1198.5 900.1 1200.1 900.4 1201.7 899.4 1203.3 894.5 1204.9 889 1206.5 883.2 1208.1 877.3 1209.6 875.5 1211.2 879.8 1212.8 881.1 1214.4 879.4 1216 881.8 1217.6 885.2 1219.2 888.2 1220.7 894.7 1222.3 901.7 1223.9 902.4 1225.5 903.2 1227.1 902.6 1228.7 902.9 1230.3 903.5 1231.8 903.1 1233.4 903.4 1235 903.9 1236.6 903.3 1238.2 903.4 1239.8 903.5 1241.4 902.9 1242.9 903.2 1244.5 902.8 1246.1 902.6 1247.7 903 1249.3 903.3 1250.9 903.3 1252.5 903.3 1254 903.2 1255.6 901.7 1257.2 900.1 1258.8 898.4 1260.4 897.6 1262 897.2 1263.6 896.6 1265.2 896.6 1266.7 894 1268.3 891.2 1269.9 890.9 1271.5 890.8 1273.1 892.6 1274.7 894.2 1276.3 896.4 1277.8 898.8 1279.4 898.7 1281 900 1282.6 899.3 1284.2 899.9 1285.8 900.7 1287.4 901.5 1288.9 902.4 1290.5 903.8 1292.1 902.9 1293.7 903.5 1295.3 903 1296.9 903.2 1298.5 902.8 1300 903.7 1301.6 902.9 1303.2 902.6 1304.8 903.3 1306.4 902.6 1308 902.4 1309.6 902.1 1311.1 901.7 1312.7 901.3 1314.3 901.5 1315.9 902.1 1317.5 901.9 1319.1 901.8 1320.7 902.3 1322.2 901.7 1323.8 902.3 1325.4 901.8 1327 901.5 1328.6 901.8 1330.2 901.7 1331.8 901.4 1333.3 901.5 1334.9 901.7 1336.5 901.7 1338.1 901 1339.7 900.6 1341.3 902.2 1342.9 901.6 1344.5 901.8 1346 902.2 1347.6 902 1349.2 902.5 1350.8 902 1352.4 902.4 1354 902.1 1355.6 902.8 1357.1 902 1358.7 898.3 1360.3 891.7 1361.9 888.1 1363.5 888.3 1365.1 889 1366.7 893.3 1368.2 897.5 1369.8 900.2 1371.4 902.3 1373 902 1374.6 902.2 1376.2 902.6 1377.8 902.5 1379.3 902.3 1380.9 901.6 1382.5 902.2 1384.1 901.4 1385.7 901.3 1387.3 901.2 1388.9 901.1 1390.4 901.1 1392 900.7 1393.6 901 1395.2 901.2 1396.8 900.8 1398.4 900.8 1400 900.7 1401.5 900.4 1403.1 900.8 1404.7 899.9 1406.3 900.1 1407.9 900.1 1409.5 899.7 1411.1 899.3 1412.6 899.2 1414.2 900 1415.8 899.1 1417.4 899.3 1419 899.4 1420.6 899.1 1422.2 898.4 1423.8 897.1 1425.3 891.4 1426.9 885.8 1428.5 885.2 1430.1 884.5 1431.7 884.8 1433.3 889.5 1434.9 893.5 1436.4 894.4 1438 893.9 1439.6 893.7 1441.2 893.5 1442.8 894.9 1444.4 894.8 1446 895.4 1447.5 896.4 1449.1 896.1 1450.7 896 1452.3 894.8 1453.9 892.1 1455.5 890.7 1457.1 889.1 1458.6 888.5 1460.2 888.5 1461.8 888.4 1463.4 890.3 1465 893.3 1466.6 894.9 1468.2 894.7 1469.7 895.3 1471.3 894.2 1472.9 894.9 1474.5 894.6 1476.1 887.5 1477.7 882.1 1479.3 881.8 1480.8 881.1 1482.4 886.1 1484 892.6 1485.6 894.7 1487.2 894.5 1488.8 894 1490.4 895.4 1491.9 895.3 1493.5 894.6 1495.1 895.2 1496.7 895.7 1498.3 894.2 1499.9 894.6 1501.5 894.5 1503.1 894.8 1504.6 892.9 1506.2 890.4 1507.8 888.7 1509.4 884.1 1511 880.4 1512.6 878.2 1514.2 877.6 1515.7 879.1 1517.3 883.2 1518.9 886.5 1520.5 890.7 1522.1 893.4 1523.7 894.7 1525.3 894.2 1526.8 893.3 1528.4 890.9 1530 890.7 1531.6 889.7 1533.2 889.9 1534.8 890.7 1536.4 890.7 1537.9 889.2 1539.5 887.5 1541.1 886.3 1542.7 886.5 1544.3 883.6 1545.9 882.9 1547.5 882 1549 882.3 1550.6 883.1 1552.2 882.4 1553.8 878.3 1555.4 876 1557 874.2 1558.6 873 1560.1 873.3 1561.7 877.7 1563.3 878.6 1564.9 877.7 1566.5 877.8 1568.1 877.5 1569.7 877.2 1571.2 876.7 1572.8 876.9 1574.4 877.1 1576 876.4 1577.6 876 1579.2 876 1580.8 875.1 1582.4 877.2 1583.9 880 1585.5 881.6 1587.1 885.5 1588.7 887.4 1590.3 889 1591.9 888.9 1593.5 888.8 1595 888.3 1596.6 889 1598.2 888.6 1599.8 888.5 1601.4 889.1 1603 887.9 1604.6 888.4 1606.1 888.1 1607.7 887.7 1609.3 888.5 1610.9 887.6 1612.5 888 1614.1 887.9 1615.7 887.9 1617.2 887.6 1618.8 888.1 1620.4 887.8 1622 887.4 1623.6 887.3 1625.2 887.6 1626.8 887.2 1628.3 887.6 1629.9 887.5 1631.5 887.2 1633.1 886.9 1634.7 887 1636.3 887.4 1637.9 887.2 1639.4 887.8 1641 887.2 1642.6 887.4 1644.2 887.5 1645.8 887.3 1647.4 887.3 1649 887.4 1650.5 887.1 1652.1 887.1 1653.7 887 1655.3 887.9 1656.9 887.7 1658.5 887.4 1660.1 885.3 1661.7 884.5 1663.2 882.8 1664.8 882.4 1666.4 882.6 1668 882.8 1669.6 884.5 1671.2 885.6 1672.8 885.8 1674.3 885.5 1675.9 885.9 1677.5 886.1 1679.1 887.4 1680.7 887.4 1682.3 887.6 1683.9 887.6 1685.4 886.7 1687 886.6 1688.6 885.3 1690.2 884.8 1691.8 884.2 1693.4 881.4 1695 880.8 1696.5 880.9 1698.1 881.9 1699.7 883.3 1701.3 886.1 1702.9 886.8 1704.5 887.5 1706.1 886.6 1707.6 886.9 1709.2 886.3 1710.8 886.6 1712.4 887 1714 886.7 1715.6 886.4 1717.2 886.9 1718.7 887.1 1720.3 887 1721.9 887.2 1723.5 886.6 1725.1 887.3 1726.7 886.7 1728.3 885.7 1729.8 886.3 1731.4 885.4 1733 885.6 1734.6 885.1 1736.2 885.5 1737.8 885.3 1739.4 886.1 1741 885.9 1742.5 885.8 1744.1 886.1 1745.7 886.4 1747.3 885.9 1748.9 886.1 1750.5 885.6 1752.1 885.4 1753.6 885.6 1755.2 885.8 1756.8 885.9 1758.4 886.2 1760 885.9 1761.6 886 1763.2 886.4 1764.7 885.9 1766.3 885.1 1767.9 884.5 1769.5 883.3 1771.1 883.5 1772.7 883.6 1774.3 884.1 1775.8 884.7 1777.4 884.2 1779 884.8 1780.6 884.5 1782.2 884.6 1783.8 884.5 1785.4 884.8 1786.9 884.5 1788.5 884.1 1790.1 884.7 1791.7 884.6 1793.3 884.8 1794.9 884.8 1796.5 884.3 1798 884.7 1799.6 884.6 1801.2 884.6 1802.8 884.6 1804.4 884.7 1806 884.5 1807.6 884.6 1809.1 884.9 1810.7 884.5 1812.3 884.8 1813.9 884.7 1815.5 884.7 1817.1 885 1818.7 884.4 1820.3 883.7 1821.8 882.2 1823.4 882.2 1825 882.2 1826.6 882.2 1828.2 881.9 1829.8 883.3 1831.4 881.4 1832.9 879.9 1834.5 879.8 1836.1 879.8 1837.7 880.4 1839.3 882.2 1840.9 883.2 1842.5 883.2 1844 883.8 1845.6 883.5 1847.2 883 1848.8 882.5 1850.4 881.8 1852 882.1 1853.6 881.7 1855.1 881.4 1856.7 881.8 1858.3 882.1 1859.9 882.4 1861.5 882.4 1863.1 883.5 1864.7 883.7 1866.2 884.4 1867.8 885 1869.4 884.7 1871 884.7 1872.6 884.9 1874.2 884.9 1875.8 885.6 1877.3 885.4 1878.9 885.5 1880.5 885.1 1882.1 885.2 1883.7 885.5 1885.3 882.9 1886.9 881 1888.4 877.8 1890 876.5 1891.6 875.3 1893.2 873.8 1894.8 873.8 1896.4 876.5 1898 879.2 1899.6 880.6 1901.1 882.6 1902.7 885.5 1904.3 886.2 1905.9 886.4 1907.5 886.2 1909.1 886.3 1910.7 886.4 1912.2 886.5 1913.8 886.4 1915.4 886.1 1917 886.5 1918.6 886.3 1920.2 886.3 1921.8 886.2 1923.3 886.4 1924.9 886.3 1926.5 886.3 1928.1 886.2 1929.7 886.4 1931.3 886.2 1932.9 886.4 1934.4 886.4 1936 886.5 1937.6 886.3 1939.2 886.4 1940.8 886.5 1942.4 886.5 1944 886.5 1945.5 886.5 1947.1 886.8 1948.7 886.9 1950.3 886.5 1951.9 886.8 1953.5 886.5 1955.1 886.5 1956.6 886.6 1958.2 886.7 1959.8 886.7 1961.4 886.4 1963 886.5 1964.6 886.7 1966.2 886.6 1967.7 887 1969.3 886.6 1970.9 886.6 1972.5 886.9 1974.1 886.3 1975.7 886.4 1977.3 887.1 1978.9 886.6 1980.4 886.7 1982 886.7 1983.6 886.7 1985.2 886.8 1986.8 886.7 1988.4 887 1990 887 1991.5 887.1 1993.1 886.8 1994.7 886.8 1996.3 887.2 1997.9 887.3 1999.5 887.7 2001.1 887.5 2002.6 887.4 2004.2 887.4 2005.8 887.2 2007.4 886.9 2009 886.5 2010.6 886.6 2012.2 887.1 2013.7 887 2015.3 886.8 2016.9 887.3 2018.5 887 2020.1 887.1 2021.7 887 2023.3 887.5 2024.8 887.3 2026.4 887.2 2028 887 2029.6 886.9 2031.2 887.1 2032.8 887 2034.4 887.2 2035.9 886.7 2037.5 886.7 2039.1 886.9 2040.7 886.8 2042.3 886.6 2043.9 887 2045.5 886.9 2047 887.1 2048.6 887 2050.2 887.2 2051.8 887 2053.4 887.1 2055 887.4 2056.6 887.4 2058.2 887.3 2059.7 887.4 2061.3 887.2 2062.9 887.1 2064.5 886.7 2066.1 886.8 2067.7 887 2069.3 886.7 2070.8 886.7 2072.4 886.7 2074 886.7 2075.6 886.9 2077.2 886.9 2078.8 886.9 2080.4 887.2 2081.9 887 2083.5 887 2085.1 887.2 2086.7 887.3 2088.3 887.3 2089.9 887.2 2091.5 887.4 2093 887.6 2094.6 887.8 2096.2 888.1 2097.8 887.9 2099.4 887.9 2101 887.7 2102.6 888.4 2104.1 888.4 2105.7 888.3 2107.3 888.2 2108.9 887.9 2110.5 888.5 2112.1 888.3 2113.7 888.7 2115.2 888.6 2116.8 888.7 2118.4 888.5 2120 888.8 2121.6 888.4 2123.2 888.9 2124.8 888.7 2126.3 888.5 2127.9 888.7 2129.5 888.6 2131.1 888.9 2132.7 888.7 2134.3 888.7 2135.9 878.6 2137.5 859.7 2139 836.9 2140.6 815.9 2142.2 797.9 2143.8 789.3 2145.4 788.3 2147 788.7 2148.6 792.8 2150.1 805.6 2151.7 823.5 2153.3 845.1 2154.9 866.4 2156.5 882.6 2158.1 887.4 2159.7 888.7 2161.2 888.3 2162.8 889.1 2164.4 889.5 2166 888.5 2167.6 888.1 2169.2 888.5 2170.8 888.4 2172.3 888.1 2173.9 888.4 2175.5 888.3 2177.1 888.3 2178.7 888.6 2180.3 888.6 2181.9 888.4 2183.4 888.1 2185 887.8 2186.6 887 2188.2 886.4 2189.8 885.4 2191.4 884.6 2193 886 2194.5 885.8 2196.1 886 2197.7 886.1 2199.3 885.8 2200.9 885.5 2202.5 885.7 2204.1 885.1 2205.6 885.1 2207.2 885 2208.8 885.4 2210.4 885.7 2212 885.7 2213.6 885.9 2215.2 885.1 2216.8 885 2218.3 884.2 2219.9 884.1 2221.5 883.8 2223.1 883.9 2224.7 884 2226.3 883.5 2227.9 883 2229.4 884.1 2231 885.1 2232.6 885.7 2234.2 886.4 2235.8 886.4 2237.4 885 2239 883.4 2240.5 881.8 2242.1 878.3 2243.7 874.2 2245.3 870 2246.9 870.3 2248.5 869.9 2250.1 871.9 2251.6 873.9 2253.2 875.4 2254.8 874.8 2256.4 872.9 2258 873 2259.6 873.4 2261.2 876.4 2262.7 879.5 2264.3 882.3 2265.9 884 2267.5 887.1 2269.1 889.1 2270.7 887.5 2272.3 886.6 2273.8 885.4 2275.4 884.1 2277 882.8 2278.6 881.8 2280.2 882.5 2281.8 885.5 2283.4 886.6 2284.9 888.3 2286.5 889.1 2288.1 889.3 2289.7 889.6 2291.3 889.3 2292.9 889.7 2294.5 889.5 2296.1 889.8 2297.6 889.4 2299.2 889.7 2300.8 889.1 2302.4 889.6 2304 889.4 2305.6 889.2 2307.2 889.5 2308.7 889.2 2310.3 889.4 2311.9 889.5 2313.5 889.6 2315.1 889.9 2316.7 889.9 2318.3 890.2 2319.8 889.9 2321.4 889.8 2323 889.9 2324.6 889.8 2326.2 889.6 2327.8 889.9 2329.4 889.6 2330.9 889.8 2332.5 889.8 2334.1 889.8 2335.7 889.7 2337.3 890 2338.9 890 2340.5 890.3 2342 890.2 2342.8 890.1" stroke="#dc143c" stroke-width="1.35" fill="none" stroke-linejoin="round"/>
</g>
<rect x="59.5" y="645.5" width="2284.0" height="504.0" fill="none" stroke="#000" stroke-width="1.4"/>
<path d="M59.5 1149.5h-7M2343.5 1149.5h7M59.5 1131.5h-3.5M2343.5 1131.5h3.5M59.5 1113.5h-3.5M2343.5 1113.5h3.5M59.5 1095.5h-3.5M2343.5 1095.5h3.5M59.5 1077.5h-7M2343.5 1077.5h7M59.5 1059.5h-3.5M2343.5 1059.5h3.5M59.5 1041.5h-3.5M2343.5 1041.5h3.5M59.5 1023.5h-3.5M2343.5 1023.5h3.5M59.5 1005.5h-7M2343.5 1005.5h7M59.5 987.5h-3.5M2343.5 987.5h3.5M59.5 969.5h-3.5M2343.5 969.5h3.5M59.5 951.5h-3.5M2343.5 951.5h3.5M59.5 933.5h-7M2343.5 933.5h7M59.5 915.5h-3.5M2343.5 915.5h3.5M59.5 897.5h-3.5M2343.5 897.5h3.5M59.5 879.5h-3.5M2343.5 879.5h3.5M59.5 861.5h-7M2343.5 861.5h7M59.5 843.5h-3.5M2343.5 843.5h3.5M59.5 825.5h-3.5M2343.5 825.5h3.5M59.5 807.5h-3.5M2343.5 807.5h3.5M59.5 789.5h-7M2343.5 789.5h7M59.5 771.5h-3.5M2343.5 771.5h3.5M59.5 753.5h-3.5M2343.5 753.5h3.5M59.5 735.5h-3.5M2343.5 735.5h3.5M59.5 717.5h-7M2343.5 717.5h7M59.5 699.5h-3.5M2343.5 699.5h3.5M59.5 681.5h-3.5M2343.5 681.5h3.5M59.5 663.5h-3.5M2343.5 663.5h3.5M59.5 645.5h-7M2343.5 645.5h7M59.5 1149.5v7M106.5 1149.5v3.5M154.5 1149.5v3.5M202.5 1149.5v3.5M249.5 1149.5v7M297.5 1149.5v3.5M344.5 1149.5v3.5M392.5 1149.5v3.5M439.5 1149.5v7M487.5 1149.5v3.5M535.5 1149.5v3.5M582.5 1149.5v3.5M630.5 1149.5v7M677.5 1149.5v3.5M725.5 1149.5v3.5M772.5 1149.5v3.5M820.5 1149.5v7M868.5 1149.5v3.5M915.5 1149.5v3.5M963.5 1149.5v3.5M1010.5 1149.5v7M1058.5 1149.5v3.5M1106.5 1149.5v3.5M1153.5 1149.5v3.5M1201.5 1149.5v7M1248.5 1149.5v3.5M1296.5 1149.5v3.5M1343.5 1149.5v3.5M1391.5 1149.5v7M1439.5 1149.5v3.5M1486.5 1149.5v3.5M1534.5 1149.5v3.5M1581.5 1149.5v7M1629.5 1149.5v3.5M1677.5 1149.5v3.5M1724.5 1149.5v3.5M1772.5 1149.5v7M1819.5 1149.5v3.5M1867.5 1149.5v3.5M1914.5 1149.5v3.5M1962.5 1149.5v7M2010.5 1149.5v3.5M2057.5 1149.5v3.5M2105.5 1149.5v3.5M2152.5 1149.5v7M2200.5 1149.5v3.5M2247.5 1149.5v3.5M2295.5 1149.5v3.5" stroke="#000" stroke-width="1.1" fill="none"/>
<text x="46.5" y="1152.2" font-size="9.4" text-anchor="end" font-weight="normal" textLength="9.7" lengthAdjust="spacingAndGlyphs">24</text>
<text x="2355.2" y="1152.2" font-size="9.4" text-anchor="start" font-weight="normal" textLength="9.7" lengthAdjust="spacingAndGlyphs">24</text>
<text x="46.5" y="1080.2" font-size="9.4" text-anchor="end" font-weight="normal" textLength="9.7" lengthAdjust="spacingAndGlyphs">36</text>
<text x="2355.2" y="1080.2" font-size="9.4" text-anchor="start" font-weight="normal" textLength="9.7" lengthAdjust="spacingAndGlyphs">36</text>
<text x="46.5" y="1008.2" font-size="9.4" text-anchor="end" font-weight="normal" textLength="9.7" lengthAdjust="spacingAndGlyphs">48</text>
<text x="2355.2" y="1008.2" font-size="9.4" text-anchor="start" font-weight="normal" textLength="9.7" lengthAdjust="spacingAndGlyphs">48</text>
<text x="46.5" y="936.2" font-size="9.4" text-anchor="end" font-weight="normal" textLength="9.7" lengthAdjust="spacingAndGlyphs">60</text>
<text x="2355.2" y="936.2" font-size="9.4" text-anchor="start" font-weight="normal" textLength="9.7" lengthAdjust="spacingAndGlyphs">60</text>
<text x="46.5" y="864.2" font-size="9.4" text-anchor="end" font-weight="normal" textLength="9.7" lengthAdjust="spacingAndGlyphs">72</text>
<text x="2355.2" y="864.2" font-size="9.4" text-anchor="start" font-weight="normal" textLength="9.7" lengthAdjust="spacingAndGlyphs">72</text>
<text x="46.5" y="792.2" font-size="9.4" text-anchor="end" font-weight="normal" textLength="9.7" lengthAdjust="spacingAndGlyphs">84</text>
<text x="2355.2" y="792.2" font-size="9.4" text-anchor="start" font-weight="normal" textLength="9.7" lengthAdjust="spacingAndGlyphs">84</text>
<text x="46.5" y="720.2" font-size="9.4" text-anchor="end" font-weight="normal" textLength="9.7" lengthAdjust="spacingAndGlyphs">96</text>
<text x="2355.2" y="720.2" font-size="9.4" text-anchor="start" font-weight="normal" textLength="9.7" lengthAdjust="spacingAndGlyphs">96</text>
<text x="46.5" y="648.2" font-size="9.4" text-anchor="end" font-weight="normal" textLength="14.2" lengthAdjust="spacingAndGlyphs">108</text>
<text x="2355.2" y="648.2" font-size="9.4" text-anchor="start" font-weight="normal" textLength="14.2" lengthAdjust="spacingAndGlyphs">108</text>
<text x="59.9" y="1168" font-size="9.4" text-anchor="middle" font-weight="normal" textLength="36.6" lengthAdjust="spacingAndGlyphs">00:00:00</text>
<text x="249.9" y="1168" font-size="9.4" text-anchor="middle" font-weight="normal" textLength="36.6" lengthAdjust="spacingAndGlyphs">02:00:00</text>
<text x="439.9" y="1168" font-size="9.4" text-anchor="middle" font-weight="normal" textLength="36.6" lengthAdjust="spacingAndGlyphs">04:00:00</text>
<text x="630.9" y="1168" font-size="9.4" text-anchor="middle" font-weight="normal" textLength="36.6" lengthAdjust="spacingAndGlyphs">06:00:00</text>
<text x="820.9" y="1168" font-size="9.4" text-anchor="middle" font-weight="normal" textLength="36.6" lengthAdjust="spacingAndGlyphs">08:00:00</text>
<text x="1010.9" y="1168" font-size="9.4" text-anchor="middle" font-weight="normal" textLength="36.6" lengthAdjust="spacingAndGlyphs">10:00:00</text>
<text x="1201.9" y="1168" font-size="9.4" text-anchor="middle" font-weight="normal" textLength="36.6" lengthAdjust="spacingAndGlyphs">12:00:00</text>
<text x="1391.9" y="1168" font-size="9.4" text-anchor="middle" font-weight="normal" textLength="36.6" lengthAdjust="spacingAndGlyphs">14:00:00</text>
<text x="1581.9" y="1168" font-size="9.4" text-anchor="middle" font-weight="normal" textLength="36.6" lengthAdjust="spacingAndGlyphs">16:00:00</text>
<text x="1772.9" y="1168" font-size="9.4" text-anchor="middle" font-weight="normal" textLength="36.6" lengthAdjust="spacingAndGlyphs">18:00:00</text>
<text x="1962.9" y="1168" font-size="9.4" text-anchor="middle" font-weight="normal" textLength="36.6" lengthAdjust="spacingAndGlyphs">20:00:00</text>
<text x="2152.9" y="1168" font-size="9.4" text-anchor="middle" font-weight="normal" textLength="36.6" lengthAdjust="spacingAndGlyphs">22:00:00</text>
<text transform="translate(21.9 897.2) rotate(-90)" font-size="12.5" text-anchor="middle" textLength="40" lengthAdjust="spacingAndGlyphs">dB SPL</text>
<text transform="translate(2384.9 897.2) rotate(-90)" font-size="12.5" text-anchor="middle" textLength="40" lengthAdjust="spacingAndGlyphs">dB SPL</text>
<text x="1200.4" y="1184.9" font-size="12.5" text-anchor="middle" font-weight="normal" textLength="25.6" lengthAdjust="spacingAndGlyphs">time</text>
<text x="59" y="636.8" font-size="11.55" text-anchor="start" font-weight="bold">average noise level (5 min with 15s min/max dB envelope)</text>
<rect x="2276.5" y="1103.5" width="62" height="41" rx="2.5" fill="#fff7dc" fill-opacity="0.8" stroke="#d8c09a" stroke-width="1"/>
<path d="M2279 1111.5H2301" stroke="#dc143c" stroke-width="2.8"/>
<text x="2307.8" y="1114.5" font-size="9.72" text-anchor="start" font-weight="normal" textLength="26.2" lengthAdjust="spacingAndGlyphs">dB(Z)</text>
<path d="M2279 1123.5H2301" stroke="#ff8c00" stroke-width="2.8"/>
<text x="2307.8" y="1126.5" font-size="9.72" text-anchor="start" font-weight="normal" textLength="26.2" lengthAdjust="spacingAndGlyphs">dB(C)</text>
<path d="M2279 1135.5H2301" stroke="#ffd700" stroke-width="2.8"/>
<text x="2307.8" y="1138.5" font-size="9.72" text-anchor="start" font-weight="normal" textLength="26.2" lengthAdjust="spacingAndGlyphs">dB(A)</text>
<defs><clipPath id="clipTop"><rect x="59.5" y="84.5" width="2284" height="504"/></clipPath><clipPath id="clipBot"><rect x="59.5" y="645.5" width="2284" height="504"/></clipPath></defs>
</svg></body></html>
